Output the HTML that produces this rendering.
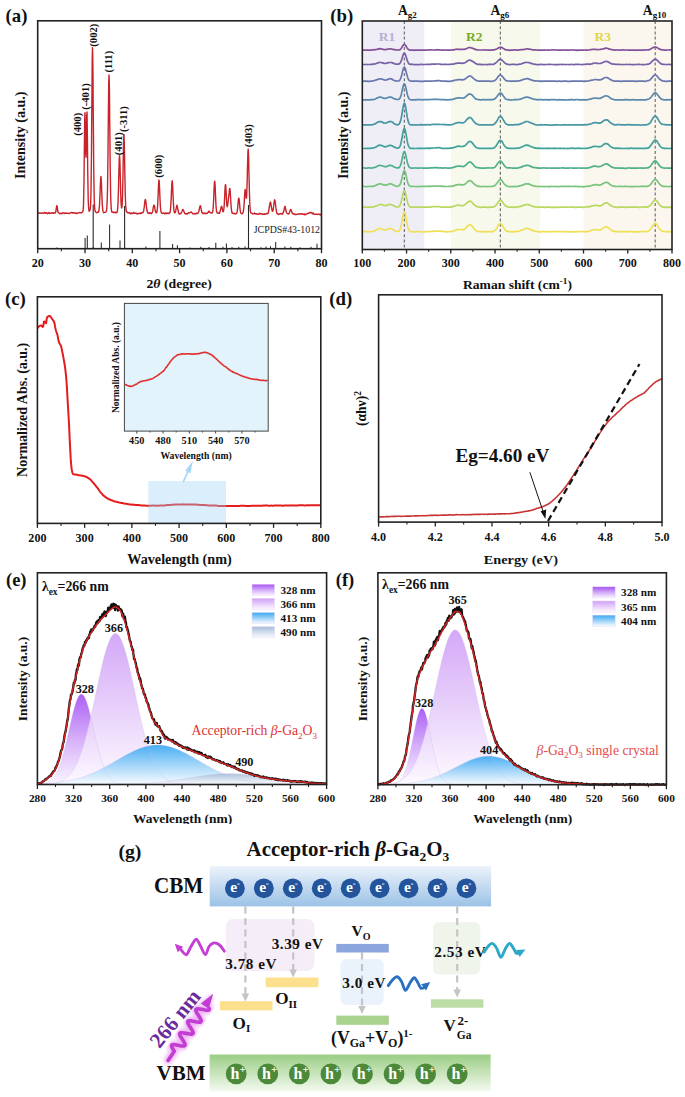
<!DOCTYPE html>
<html><head><meta charset="utf-8"><title>figure</title><style>
html,body{margin:0;padding:0;background:#fff;overflow:hidden;}
svg{display:block;}
text{font-family:"Liberation Serif",serif;}
</style></head><body>
<svg width="685" height="1097" viewBox="0 0 685 1097">
<defs><clipPath id="clipE"><rect x="0" y="790" width="340" height="34"/></clipPath>
<linearGradient id="gp1" x1="0" y1="0" x2="0" y2="1"><stop offset="0" stop-color="#a652f5"/><stop offset="0.5" stop-color="#d2a9f9"/><stop offset="1" stop-color="#faf5ff"/></linearGradient>
<linearGradient id="gp2" x1="0" y1="0" x2="0" y2="1"><stop offset="0" stop-color="#d0a0f7"/><stop offset="0.5" stop-color="#e6cdfa"/><stop offset="1" stop-color="#fdfaff"/></linearGradient>
<linearGradient id="gb3" x1="0" y1="0" x2="0" y2="1"><stop offset="0" stop-color="#3aa8f2"/><stop offset="0.5" stop-color="#9bd2f8"/><stop offset="1" stop-color="#f8fcff"/></linearGradient>
<linearGradient id="gb4" x1="0" y1="0" x2="0" y2="1"><stop offset="0" stop-color="#a8bedb"/><stop offset="0.5" stop-color="#d2deec"/><stop offset="1" stop-color="#fafcfe"/></linearGradient>
<linearGradient id="gcbm" x1="0" y1="0" x2="0" y2="1"><stop offset="0" stop-color="#ecf3fb" stop-opacity="1.0"/><stop offset="1" stop-color="#9cc2e6" stop-opacity="1.0"/></linearGradient>
<linearGradient id="gvbm" x1="0" y1="0" x2="0" y2="1"><stop offset="0" stop-color="#9acd84" stop-opacity="1.0"/><stop offset="1" stop-color="#f4faf0" stop-opacity="1.0"/></linearGradient>
<filter id="glow" x="-30%" y="-30%" width="160%" height="160%"><feGaussianBlur stdDeviation="2.2"/></filter></defs>
<rect x="0" y="0" width="685" height="1097" fill="#fff"/>
<line x1="85.1" y1="248.7" x2="85.1" y2="238" stroke="#2a2a2a" stroke-width="1.05" />
<line x1="87.3" y1="248.7" x2="87.3" y2="235.5" stroke="#2a2a2a" stroke-width="1.05" />
<line x1="93.1" y1="248.7" x2="93.1" y2="247" stroke="#2a2a2a" stroke-width="1.05" />
<line x1="101.3" y1="248.7" x2="101.3" y2="242.6" stroke="#2a2a2a" stroke-width="1.05" />
<line x1="109.6" y1="248.7" x2="109.6" y2="224.5" stroke="#2a2a2a" stroke-width="1.05" />
<line x1="120" y1="248.7" x2="120" y2="240.4" stroke="#2a2a2a" stroke-width="1.05" />
<line x1="124.6" y1="248.7" x2="124.6" y2="247" stroke="#2a2a2a" stroke-width="1.05" />
<line x1="145.9" y1="248.7" x2="145.9" y2="246.4" stroke="#2a2a2a" stroke-width="1.05" />
<line x1="159.9" y1="248.7" x2="159.9" y2="231" stroke="#2a2a2a" stroke-width="1.05" />
<line x1="172.6" y1="248.7" x2="172.6" y2="244" stroke="#2a2a2a" stroke-width="1.05" />
<line x1="177.4" y1="248.7" x2="177.4" y2="245.3" stroke="#2a2a2a" stroke-width="1.05" />
<line x1="200.8" y1="248.7" x2="200.8" y2="246.8" stroke="#2a2a2a" stroke-width="1.05" />
<line x1="215.8" y1="248.7" x2="215.8" y2="242.8" stroke="#2a2a2a" stroke-width="1.05" />
<line x1="223" y1="248.7" x2="223" y2="246.8" stroke="#2a2a2a" stroke-width="1.05" />
<line x1="226.4" y1="248.7" x2="226.4" y2="243.5" stroke="#2a2a2a" stroke-width="1.05" />
<line x1="248.4" y1="248.7" x2="248.4" y2="247" stroke="#2a2a2a" stroke-width="1.05" />
<line x1="275.7" y1="248.7" x2="275.7" y2="242" stroke="#2a2a2a" stroke-width="1.05" />
<line x1="317" y1="248.7" x2="317" y2="243.7" stroke="#2a2a2a" stroke-width="1.05" />
<line x1="56.8" y1="248.7" x2="56.8" y2="247.5" stroke="#2a2a2a" stroke-width="1.05" />
<line x1="190" y1="248.7" x2="190" y2="247.5" stroke="#2a2a2a" stroke-width="1.05" />
<line x1="209" y1="248.7" x2="209" y2="247" stroke="#2a2a2a" stroke-width="1.05" />
<line x1="232" y1="248.7" x2="232" y2="247" stroke="#2a2a2a" stroke-width="1.05" />
<line x1="238.8" y1="248.7" x2="238.8" y2="246.8" stroke="#2a2a2a" stroke-width="1.05" />
<line x1="245" y1="248.7" x2="245" y2="246.5" stroke="#2a2a2a" stroke-width="1.05" />
<line x1="261" y1="248.7" x2="261" y2="247.2" stroke="#2a2a2a" stroke-width="1.05" />
<line x1="266" y1="248.7" x2="266" y2="246.6" stroke="#2a2a2a" stroke-width="1.05" />
<line x1="270.5" y1="248.7" x2="270.5" y2="246.2" stroke="#2a2a2a" stroke-width="1.05" />
<line x1="284.9" y1="248.7" x2="284.9" y2="246.4" stroke="#2a2a2a" stroke-width="1.05" />
<line x1="290.8" y1="248.7" x2="290.8" y2="246.8" stroke="#2a2a2a" stroke-width="1.05" />
<line x1="300" y1="248.7" x2="300" y2="247.3" stroke="#2a2a2a" stroke-width="1.05" />
<line x1="311" y1="248.7" x2="311" y2="246.8" stroke="#2a2a2a" stroke-width="1.05" />
<path d="M37.7 213.2 L38 213.2 L38.2 213.1 L38.5 213 L38.7 213.1 L39 213.1 L39.2 212.9 L39.5 213.1 L39.7 213.2 L40 213.4 L40.2 213.2 L40.5 213.2 L40.7 213.3 L41 213.2 L41.2 212.9 L41.5 213 L41.7 213 L42 213.2 L42.2 212.9 L42.5 213.1 L42.7 213 L43 213.2 L43.2 213.2 L43.5 213.2 L43.7 213 L44 212.6 L44.2 212.3 L44.5 212.7 L44.7 212.8 L45 213 L45.2 213.1 L45.5 212.9 L45.7 213.2 L46 212.7 L46.2 212.9 L46.5 212.7 L46.7 213.2 L47 213.6 L47.2 213.7 L47.5 213.6 L47.7 213.3 L48 213.4 L48.2 213.2 L48.5 212.9 L48.7 212.5 L49 212.6 L49.2 213.2 L49.5 213.5 L49.7 213.3 L50 213.2 L50.2 213.2 L50.5 213.3 L50.7 213 L51 213 L51.2 212.9 L51.5 212.7 L51.7 212.8 L52 212.9 L52.2 213.3 L52.5 213.2 L52.7 213 L53 212.8 L53.2 213.2 L53.5 213.4 L53.7 213.3 L54 212.9 L54.2 212.8 L54.5 212.9 L54.7 212.8 L55 213.1 L55.2 212.9 L55.5 212.7 L55.7 211.9 L56 210.8 L56.2 209 L56.5 207 L56.7 205.7 L57 205.8 L57.2 206.8 L57.5 208.6 L57.7 210.5 L58 212 L58.2 212.5 L58.5 212.6 L58.7 212.7 L59 212.8 L59.2 213.1 L59.5 213.5 L59.7 213.7 L60 213.6 L60.2 213.5 L60.5 213.5 L60.7 213.4 L61 213.2 L61.2 213.2 L61.5 213.5 L61.7 213.8 L62 213.7 L62.2 213.3 L62.5 213 L62.7 213 L63 213.1 L63.2 213 L63.5 213 L63.7 212.8 L64 213.2 L64.2 213.1 L64.5 213.5 L64.7 213.2 L65 213.1 L65.2 212.9 L65.5 213.2 L65.7 213.3 L66 213.2 L66.2 213.1 L66.5 213 L66.7 213.2 L67 213.1 L67.2 213.4 L67.5 213.4 L67.7 213.4 L68 213.2 L68.2 213.3 L68.5 213.4 L68.7 213.4 L69 213.5 L69.2 213.5 L69.5 213.5 L69.7 213.4 L70 213.2 L70.2 213 L70.5 212.8 L70.7 212.9 L71 212.8 L71.2 212.6 L71.5 212.5 L71.7 212.5 L72 212.5 L72.2 212.5 L72.5 212.7 L72.7 213.1 L73 213 L73.2 212.9 L73.5 212.7 L73.7 212.7 L74 212.9 L74.2 213 L74.5 213.1 L74.7 212.9 L75 213 L75.2 212.8 L75.5 213 L75.7 213 L76 213.4 L76.2 213.7 L76.5 213.3 L76.7 213.2 L77 213.1 L77.2 213.4 L77.5 213.1 L77.7 212.9 L78 213 L78.2 212.9 L78.5 212.9 L78.7 212.8 L79 212.9 L79.2 212.9 L79.5 212.6 L79.7 212.6 L80 212.4 L80.2 212.6 L80.5 212.7 L80.7 212.9 L81 212.7 L81.2 212.7 L81.5 212.7 L81.7 212.8 L82 212.5 L82.2 212.3 L82.5 212 L82.7 211.8 L83 211 L83.2 209.4 L83.5 205.2 L83.7 196.3 L84 181.1 L84.2 160.2 L84.5 136.9 L84.7 118.6 L85 112.8 L85.2 122.1 L85.5 139.3 L85.7 153.6 L86 157.2 L86.2 148.3 L86.5 131.1 L86.7 116 L87 112 L87.2 124.1 L87.5 145.5 L87.7 168.9 L88 187.4 L88.2 199.6 L88.5 205.9 L88.7 209.2 L89 210.6 L89.2 211.2 L89.5 211 L89.7 210.8 L90 210 L90.2 208.8 L90.5 206.3 L90.7 201.1 L91 191.3 L91.2 174.6 L91.5 150.4 L91.7 119.9 L92 87.6 L92.2 60.9 L92.5 47.8 L92.7 53.9 L93 76.2 L93.2 107.3 L93.5 138.9 L93.7 165.9 L94 185.6 L94.2 198.1 L94.5 205.1 L94.7 208.7 L95 210.5 L95.2 211.3 L95.5 211.7 L95.7 212 L96 212.3 L96.2 212.5 L96.5 212.7 L96.7 212.7 L97 212.4 L97.2 212.3 L97.5 212.3 L97.7 212.1 L98 212.2 L98.2 212 L98.5 212.2 L98.7 211.3 L99 210.4 L99.2 208.3 L99.5 205.4 L99.7 200.4 L100 194.6 L100.2 187.9 L100.5 181.9 L100.7 177.6 L101 176.5 L101.2 179.3 L101.5 184.6 L101.7 191.1 L102 197.4 L102.2 203 L102.5 207.3 L102.7 210 L103 211.2 L103.2 211.8 L103.5 212.3 L103.7 212.7 L104 212.6 L104.2 212.4 L104.5 212.3 L104.7 212.4 L105 212.3 L105.2 212.4 L105.5 212.3 L105.7 212 L106 211.6 L106.2 211.3 L106.5 210.6 L106.7 208.9 L107 205.3 L107.2 199.8 L107.5 190 L107.7 175 L108 154 L108.2 129.4 L108.5 104.6 L108.7 84.6 L109 75 L109.2 79 L109.5 95.6 L109.7 119.7 L110 145.4 L110.2 168.1 L110.5 185.5 L110.7 197.1 L111 204.2 L111.2 208.1 L111.5 210.6 L111.7 211.6 L112 212.2 L112.2 212.1 L112.5 212.2 L112.7 212.1 L113 212 L113.2 212 L113.5 212.3 L113.7 212.5 L114 212.5 L114.2 212.7 L114.5 212.6 L114.7 212.4 L115 212.1 L115.2 212.2 L115.5 212.6 L115.7 212.8 L116 212.8 L116.2 212.5 L116.5 212.8 L116.7 212.7 L117 212.4 L117.2 211.4 L117.5 210.3 L117.7 208 L118 203.7 L118.2 197.2 L118.5 188.7 L118.7 178.5 L119 168 L119.2 159.6 L119.5 155.6 L119.7 157.5 L120 164.2 L120.2 173.9 L120.5 184.3 L120.7 193.4 L121 200.4 L121.2 204.9 L121.5 207.7 L121.7 207.9 L122 206.8 L122.2 203.1 L122.5 197.1 L122.7 187.3 L123 174.5 L123.2 159.8 L123.5 146.3 L123.7 137 L124 134.8 L124.2 140.6 L124.5 152.5 L124.7 166.6 L125 180.8 L125.2 192.5 L125.5 201.1 L125.7 205.9 L126 208.8 L126.2 210.5 L126.5 211.4 L126.7 211.8 L127 212 L127.2 212.4 L127.5 212.5 L127.7 212.8 L128 212.9 L128.2 212.9 L128.4 212.8 L128.7 212.8 L128.9 212.8 L129.2 213.1 L129.4 213.2 L129.7 212.9 L129.9 213 L130.2 212.9 L130.4 213.3 L130.7 213.5 L130.9 213.7 L131.2 213.5 L131.4 213 L131.7 213.2 L131.9 213.4 L132.2 213.6 L132.4 213.6 L132.7 213.5 L132.9 213.4 L133.2 213.1 L133.4 212.6 L133.7 212.4 L133.9 212.5 L134.2 212.9 L134.4 213.2 L134.7 213.2 L134.9 213.3 L135.2 213.4 L135.4 213.3 L135.7 213.3 L135.9 212.9 L136.2 213.3 L136.4 213.4 L136.7 213.7 L136.9 213.8 L137.2 214 L137.4 213.9 L137.7 213.8 L137.9 213.5 L138.2 213.5 L138.4 213.4 L138.7 213.4 L138.9 213.5 L139.2 213.3 L139.4 213.6 L139.7 213.3 L139.9 213.5 L140.2 213.6 L140.4 213.5 L140.7 213.1 L140.9 212.8 L141.2 213.1 L141.4 213.2 L141.7 213.2 L141.9 213.1 L142.2 212.7 L142.4 212.7 L142.7 212.3 L142.9 212.6 L143.2 212.3 L143.4 211.7 L143.7 210.7 L143.9 209.2 L144.2 207.5 L144.4 205.3 L144.7 203.1 L144.9 200.9 L145.2 199.8 L145.4 199.5 L145.7 200.4 L145.9 202 L146.2 204.1 L146.4 206.4 L146.7 208.4 L146.9 210.3 L147.2 211.3 L147.4 212 L147.7 212.6 L147.9 213.2 L148.2 213.3 L148.4 213.4 L148.7 213 L148.9 213.3 L149.2 213.4 L149.4 213.6 L149.7 213.1 L149.9 213 L150.2 212.7 L150.4 213.2 L150.7 213.2 L150.9 213.3 L151.2 213.4 L151.4 213.7 L151.7 213.3 L151.9 213 L152.2 212.4 L152.4 212.2 L152.7 211.2 L152.9 209.7 L153.2 208 L153.4 206.6 L153.7 205.6 L153.9 205.1 L154.2 205.1 L154.4 206 L154.7 207.3 L154.9 209.1 L155.2 210.4 L155.4 211.4 L155.7 212.1 L155.9 212.3 L156.2 212.7 L156.4 212.8 L156.7 212.5 L156.9 211.8 L157.2 210.1 L157.4 208.1 L157.7 204.6 L157.9 199.8 L158.2 193.8 L158.4 187.6 L158.7 182.6 L158.9 180 L159.2 181.1 L159.4 185.2 L159.7 191 L159.9 197.1 L160.2 202.7 L160.4 207 L160.7 209.8 L160.9 211.2 L161.2 212 L161.4 212.8 L161.7 213.2 L161.9 213 L162.2 212.9 L162.4 213.2 L162.7 213.2 L162.9 213.2 L163.2 213 L163.4 213.2 L163.7 213.3 L163.9 213.2 L164.2 213.4 L164.4 213.6 L164.7 213.8 L164.9 213.7 L165.2 213.2 L165.4 213 L165.7 212.9 L165.9 213.4 L166.2 213.6 L166.4 213.7 L166.7 213.2 L166.9 213 L167.2 213.1 L167.4 213.1 L167.7 213.4 L167.9 213.3 L168.2 213.3 L168.4 213.1 L168.7 213.3 L168.9 213.6 L169.2 213.4 L169.4 213.1 L169.7 212.8 L169.9 212.5 L170.2 211.7 L170.4 210.1 L170.7 207.3 L170.9 203.5 L171.2 198.4 L171.4 192.9 L171.7 187.1 L171.9 182.7 L172.2 180.8 L172.4 182.4 L172.7 187 L172.9 193 L173.2 198.8 L173.4 203.6 L173.7 207.3 L173.9 210 L174.2 211.7 L174.4 212.5 L174.7 212.8 L174.9 212.9 L175.2 212.4 L175.4 212 L175.7 210.9 L175.9 209.7 L176.2 208.4 L176.4 207.3 L176.7 206.1 L176.9 205.3 L177.2 205.5 L177.4 206.9 L177.7 208.4 L177.9 209.8 L178.2 210.7 L178.4 212.2 L178.7 213 L178.9 213.8 L179.2 213.8 L179.4 214 L179.7 214 L179.9 213.8 L180.2 213.8 L180.4 213.7 L180.7 213.8 L180.9 213.4 L181.2 213 L181.4 212.6 L181.7 212.3 L181.9 211.8 L182.2 210.9 L182.4 210 L182.7 209.4 L182.9 209.5 L183.2 209.8 L183.4 210.5 L183.7 210.8 L183.9 211.3 L184.2 212 L184.4 212.8 L184.7 213.4 L184.9 213.5 L185.2 213.7 L185.4 213.7 L185.7 213.9 L185.9 213.7 L186.2 213.6 L186.4 213.6 L186.7 213.8 L186.9 214.2 L187.2 214.1 L187.4 214 L187.7 213.5 L187.9 213.2 L188.2 212.8 L188.4 212.9 L188.7 212.8 L188.9 213.1 L189.2 213 L189.4 212.9 L189.7 212.8 L189.9 212.4 L190.2 212.5 L190.4 212.1 L190.7 212.2 L190.9 211.9 L191.2 212.2 L191.4 212.2 L191.7 212.5 L191.9 212.8 L192.2 213.1 L192.4 213.3 L192.7 213.5 L192.9 213.8 L193.2 213.7 L193.4 213.7 L193.7 213.8 L193.9 213.9 L194.2 213.9 L194.4 213.6 L194.7 213.9 L194.9 213.7 L195.2 213.9 L195.4 213.8 L195.7 213.8 L195.9 213.8 L196.2 213.5 L196.4 213.4 L196.7 213 L196.9 213.1 L197.2 213.3 L197.4 213.6 L197.7 213.6 L197.9 213.2 L198.2 212.8 L198.4 212.2 L198.7 211.8 L198.9 211.1 L199.2 210 L199.4 208.7 L199.7 207.3 L199.9 206.2 L200.2 205.8 L200.4 205.8 L200.7 206.5 L200.9 207.7 L201.2 209.2 L201.4 210.6 L201.7 211.4 L201.9 212.5 L202.2 212.6 L202.4 212.9 L202.7 212.7 L202.9 213.4 L203.2 213.6 L203.4 213.7 L203.7 213.3 L203.9 213.3 L204.2 213.4 L204.4 213.5 L204.7 213.2 L204.9 213 L205.2 213.2 L205.4 213.5 L205.7 213.7 L205.9 213.7 L206.2 213.4 L206.4 213.4 L206.7 213.2 L206.9 213.4 L207.2 213.3 L207.4 213.2 L207.7 212.8 L207.9 212.5 L208.2 212.4 L208.4 212.1 L208.7 211.3 L208.9 211.1 L209.2 211.2 L209.4 212 L209.7 212.1 L209.9 212.2 L210.2 212.2 L210.4 212.7 L210.7 212.8 L210.9 213 L211.2 212.8 L211.4 213.1 L211.7 212.9 L211.9 213 L212.2 212.7 L212.4 212.5 L212.7 211.8 L212.9 210.5 L213.2 207.7 L213.4 204 L213.7 198.7 L213.9 193 L214.2 187.1 L214.4 182.6 L214.7 181.2 L214.9 182.5 L215.2 186.8 L215.4 192.7 L215.7 199.1 L215.9 204.5 L216.2 208.3 L216.4 210.4 L216.7 211.6 L216.9 212.3 L217.2 212.9 L217.4 213 L217.7 213.1 L217.9 212.6 L218.2 212.9 L218.4 213.2 L218.7 213.3 L218.9 213.2 L219.2 213.2 L219.4 213.3 L219.7 212.9 L219.9 212 L220.2 210.9 L220.4 210.1 L220.7 208.9 L220.9 208 L221.2 206.9 L221.4 206.4 L221.7 206.3 L221.9 207.2 L222.2 208.6 L222.4 210 L222.7 210.8 L222.9 211.7 L223.2 211.8 L223.4 211.4 L223.7 210.1 L223.9 208.3 L224.2 205.8 L224.4 201.5 L224.7 196 L224.9 190.7 L225.2 186.5 L225.4 184.6 L225.7 185 L225.9 188.3 L226.2 193.4 L226.4 198.6 L226.7 202.9 L226.9 205.3 L227.2 206.7 L227.4 206.4 L227.7 205.2 L227.9 203 L228.2 200.9 L228.4 198.5 L228.7 196.5 L228.9 194.5 L229.2 192.4 L229.4 190 L229.7 188.4 L229.9 188.8 L230.2 191.3 L230.4 195.2 L230.7 199.6 L230.9 203.6 L231.2 207.1 L231.4 209.7 L231.7 211.5 L231.9 212.4 L232.2 213 L232.4 213.3 L232.7 213.3 L232.9 213.4 L233.2 213.4 L233.4 213.5 L233.7 213.2 L233.9 213.3 L234.2 213.3 L234.4 213.5 L234.7 213.6 L234.9 213.8 L235.2 214 L235.4 214 L235.7 213.9 L235.9 213.7 L236.2 213.5 L236.4 213.4 L236.7 213.2 L236.9 212.6 L237.2 211.6 L237.4 209.9 L237.7 207.7 L237.9 204.6 L238.2 201.7 L238.4 199.3 L238.7 198.1 L238.9 198.1 L239.2 199.6 L239.4 202.2 L239.7 205.2 L239.9 208 L240.2 210.1 L240.4 211.5 L240.7 212.5 L240.9 213.1 L241.2 213.3 L241.4 213.5 L241.7 213.7 L241.9 213.9 L242.2 213.8 L242.4 213.6 L242.7 213.1 L242.9 212.9 L243.2 212 L243.4 211 L243.7 209 L243.9 206.7 L244.2 203.1 L244.4 198.7 L244.7 194.1 L244.9 190.8 L245.2 189.5 L245.4 190.6 L245.7 193.2 L245.9 196 L246.2 198.1 L246.4 198.3 L246.7 195.4 L246.9 189.3 L247.2 180.5 L247.4 170.2 L247.7 159.9 L247.9 152.1 L248.2 149.1 L248.4 152.1 L248.7 160.2 L248.9 171.2 L249.2 182.2 L249.4 192.1 L249.7 200 L249.9 205.8 L250.2 209.3 L250.4 211.3 L250.7 212.5 L250.9 213.1 L251.2 213.1 L251.4 213 L251.7 213.1 L251.9 213.1 L252.2 213.6 L252.4 213.8 L252.7 214 L252.9 213.8 L253.2 213.6 L253.4 213.6 L253.7 213.8 L253.9 213.6 L254.2 213.4 L254.4 213 L254.7 213.4 L254.9 213.6 L255.2 213.9 L255.4 213.7 L255.7 213.7 L255.9 213.7 L256.2 213.8 L256.4 213.8 L256.7 214.1 L256.9 214.2 L257.2 214.2 L257.4 213.9 L257.7 214 L257.9 214.1 L258.2 214.2 L258.4 214.1 L258.7 214.3 L258.9 214 L259.2 213.7 L259.4 213.2 L259.7 213.5 L259.9 213.5 L260.2 213.7 L260.4 213.5 L260.7 213.7 L260.9 213.8 L261.2 213.9 L261.4 214 L261.7 213.9 L261.9 213.8 L262.2 214.1 L262.4 214.2 L262.7 214.3 L262.9 213.9 L263.2 213.9 L263.4 214.1 L263.7 214.3 L263.9 214.4 L264.2 214.3 L264.4 213.9 L264.7 213.8 L264.9 214 L265.2 214.4 L265.4 214.3 L265.7 214.1 L265.9 213.9 L266.2 213.8 L266.4 213.5 L266.7 213.5 L266.9 213.4 L267.2 213.6 L267.4 213.6 L267.7 213.7 L267.9 213.7 L268.2 213.1 L268.4 212 L268.7 210.8 L268.9 209.4 L269.2 208 L269.4 206.4 L269.7 204.9 L269.9 203.4 L270.2 202.4 L270.4 202.1 L270.7 202.5 L270.9 203.9 L271.2 205.7 L271.4 207.4 L271.7 208.5 L271.9 209.6 L272.2 210.6 L272.4 211.2 L272.7 211.3 L272.9 210.7 L273.2 209.5 L273.4 207.9 L273.7 205.9 L273.9 203.8 L274.2 201.9 L274.4 200.3 L274.7 199.8 L274.9 200.5 L275.2 202 L275.4 203.8 L275.7 205.7 L275.9 207.9 L276.2 209.7 L276.4 211.2 L276.7 212.4 L276.9 213.4 L277.2 213.5 L277.4 213.8 L277.7 213.9 L277.9 214.2 L278.2 214.4 L278.4 214.5 L278.7 214.4 L278.9 214.3 L279.2 213.9 L279.4 214 L279.7 213.9 L279.9 214 L280.2 213.8 L280.4 213.6 L280.7 213.5 L280.9 213.7 L281.2 213.7 L281.4 213.8 L281.7 213.7 L281.9 213.8 L282.2 214.1 L282.4 214.2 L282.7 213.8 L282.9 213.3 L283.2 212.6 L283.4 212 L283.7 211.4 L283.9 210.5 L284.2 209.3 L284.4 208 L284.7 206.8 L284.9 206.4 L285.2 206.5 L285.4 207.9 L285.7 209.3 L285.9 210.5 L286.2 211.5 L286.4 212.2 L286.7 212.9 L286.9 213.2 L287.2 213.3 L287.4 213.6 L287.7 213.6 L287.9 213.9 L288.2 213.8 L288.4 214 L288.7 213.9 L288.9 213.6 L289.2 213 L289.4 212.4 L289.7 211.7 L289.9 211 L290.2 210.2 L290.4 209.8 L290.7 209.5 L290.9 209.5 L291.2 210 L291.4 211 L291.7 211.5 L291.9 212.4 L292.2 212.9 L292.4 213.5 L292.7 213.4 L292.9 213.5 L293.2 213.7 L293.4 214 L293.7 214.1 L293.9 214.1 L294.2 214.1 L294.4 214 L294.7 214.2 L294.9 214.4 L295.2 214.6 L295.4 214.5 L295.7 214.3 L295.9 214.4 L296.2 214.5 L296.4 214.6 L296.7 214.2 L296.9 214.2 L297.2 214.1 L297.4 214.2 L297.7 213.9 L297.9 214 L298.2 214.1 L298.4 214.1 L298.7 214 L298.9 214 L299.2 214 L299.4 213.9 L299.7 213.8 L299.9 213.7 L300.2 213.9 L300.4 213.9 L300.7 214.2 L300.9 214.2 L301.2 214.1 L301.4 214 L301.7 213.8 L301.9 213.8 L302.2 213.7 L302.4 213.8 L302.7 214.1 L302.9 214.3 L303.2 214.2 L303.4 214.1 L303.7 214.1 L303.9 214.4 L304.2 214.2 L304.4 214.3 L304.7 214.1 L304.9 214.8 L305.2 214.5 L305.4 214.4 L305.7 214.2 L305.9 214.4 L306.2 214.5 L306.4 214.1 L306.7 214 L306.9 213.7 L307.2 213.9 L307.4 213.5 L307.7 213.4 L307.9 213.3 L308.2 213.2 L308.4 213.3 L308.7 213.3 L308.9 213.2 L309.2 212.9 L309.4 212.7 L309.7 212.6 L309.9 212.8 L310.2 212.6 L310.4 212.4 L310.7 212.3 L310.9 212.4 L311.2 212.7 L311.4 212.6 L311.7 212.6 L311.9 212.8 L312.2 213.4 L312.4 213.9 L312.7 213.6 L312.9 213.5 L313.2 213 L313.4 213.5 L313.7 213.7 L313.9 214.2 L314.2 214.1 L314.4 214.3 L314.7 214.2 L314.9 214.4 L315.2 214.3 L315.4 214.4 L315.7 214.3 L315.9 214.2 L316.2 214 L316.4 214.1 L316.7 214.2 L316.9 214.3 L317.2 214.4 L317.4 214.5 L317.7 214.3 L317.9 214.2 L318.2 214.1 L318.4 214.2 L318.7 214.3 L318.9 214.2 L319.2 214.3 L319.4 214.3 L319.7 214.5 L319.9 214.6 L320.2 214.9 L320.4 214.7 L320.7 214.7 L320.9 214.1 L321.2 214.2 L321.4 214.1" fill="none" stroke="#c9222a" stroke-width="1.4" stroke-linejoin="round"/>
<line x1="93.2" y1="248.7" x2="93.2" y2="204.5" stroke="#2a2a2a" stroke-width="1.1" />
<line x1="124.6" y1="248.7" x2="124.6" y2="206" stroke="#2a2a2a" stroke-width="1.1" />
<line x1="248.5" y1="248.7" x2="248.5" y2="205" stroke="#2a2a2a" stroke-width="1.1" />
<rect x="37.7" y="20.8" width="283.8" height="227.9" fill="none" stroke="#222" stroke-width="1.6"/>
<line x1="37.7" y1="248.7" x2="37.7" y2="253.2" stroke="#222" stroke-width="1.3" />
<text x="0" y="0" transform="translate(37.7 266.7) scale(1.05 1)" font-size="11.5" text-anchor="middle" fill="#111" style="font-weight:bold;" >20</text>
<line x1="85" y1="248.7" x2="85" y2="253.2" stroke="#222" stroke-width="1.3" />
<text x="0" y="0" transform="translate(85 266.7) scale(1.05 1)" font-size="11.5" text-anchor="middle" fill="#111" style="font-weight:bold;" >30</text>
<line x1="132.3" y1="248.7" x2="132.3" y2="253.2" stroke="#222" stroke-width="1.3" />
<text x="0" y="0" transform="translate(132.3 266.7) scale(1.05 1)" font-size="11.5" text-anchor="middle" fill="#111" style="font-weight:bold;" >40</text>
<line x1="179.6" y1="248.7" x2="179.6" y2="253.2" stroke="#222" stroke-width="1.3" />
<text x="0" y="0" transform="translate(179.6 266.7) scale(1.05 1)" font-size="11.5" text-anchor="middle" fill="#111" style="font-weight:bold;" >50</text>
<line x1="226.9" y1="248.7" x2="226.9" y2="253.2" stroke="#222" stroke-width="1.3" />
<text x="0" y="0" transform="translate(226.9 266.7) scale(1.05 1)" font-size="11.5" text-anchor="middle" fill="#111" style="font-weight:bold;" >60</text>
<line x1="274.2" y1="248.7" x2="274.2" y2="253.2" stroke="#222" stroke-width="1.3" />
<text x="0" y="0" transform="translate(274.2 266.7) scale(1.05 1)" font-size="11.5" text-anchor="middle" fill="#111" style="font-weight:bold;" >70</text>
<line x1="321.5" y1="248.7" x2="321.5" y2="253.2" stroke="#222" stroke-width="1.3" />
<text x="0" y="0" transform="translate(321.5 266.7) scale(1.05 1)" font-size="11.5" text-anchor="middle" fill="#111" style="font-weight:bold;" >80</text>
<line x1="61.35" y1="248.7" x2="61.35" y2="251.2" stroke="#222" stroke-width="1.1" />
<line x1="108.65" y1="248.7" x2="108.65" y2="251.2" stroke="#222" stroke-width="1.1" />
<line x1="155.95" y1="248.7" x2="155.95" y2="251.2" stroke="#222" stroke-width="1.1" />
<line x1="203.25" y1="248.7" x2="203.25" y2="251.2" stroke="#222" stroke-width="1.1" />
<line x1="250.55" y1="248.7" x2="250.55" y2="251.2" stroke="#222" stroke-width="1.1" />
<line x1="297.85" y1="248.7" x2="297.85" y2="251.2" stroke="#222" stroke-width="1.1" />
<text x="5.5" y="22" font-size="18.8" text-anchor="start" fill="#111" style="font-weight:bold;" >(a)</text>
<text x="0" y="0" font-size="14" text-anchor="middle" dominant-baseline="central" fill="#111" style="font-weight:bold;" transform="translate(20.5 135.3) rotate(-90)" >Intensity (a.u.)</text>
<text x="0" y="0" transform="translate(179.1 287.7) scale(1.1 1)" font-size="12.5" text-anchor="middle" fill="#111" style="font-weight:bold;" >2<tspan style="font-style:italic">θ</tspan> (degree)</text>
<text x="0" y="0" font-size="10.6" text-anchor="middle" dominant-baseline="central" fill="#111" style="font-weight:bold;" transform="translate(77.7 124.3) rotate(-90)" >(400)</text>
<text x="0" y="0" font-size="10.6" text-anchor="middle" dominant-baseline="central" fill="#111" style="font-weight:bold;" transform="translate(85.3 96.5) rotate(-90)" >(-401)</text>
<text x="0" y="0" font-size="10.6" text-anchor="middle" dominant-baseline="central" fill="#111" style="font-weight:bold;" transform="translate(93.7 35.2) rotate(-90)" >(002)</text>
<text x="0" y="0" font-size="10.6" text-anchor="middle" dominant-baseline="central" fill="#111" style="font-weight:bold;" transform="translate(108.9 61.7) rotate(-90)" >(111)</text>
<text x="0" y="0" font-size="10.6" text-anchor="middle" dominant-baseline="central" fill="#111" style="font-weight:bold;" transform="translate(118.4 143.7) rotate(-90)" >(401)</text>
<text x="0" y="0" font-size="10.6" text-anchor="middle" dominant-baseline="central" fill="#111" style="font-weight:bold;" transform="translate(123.2 119.1) rotate(-90)" >(-311)</text>
<text x="0" y="0" font-size="10.6" text-anchor="middle" dominant-baseline="central" fill="#111" style="font-weight:bold;" transform="translate(158.9 166.2) rotate(-90)" >(600)</text>
<text x="0" y="0" font-size="10.6" text-anchor="middle" dominant-baseline="central" fill="#111" style="font-weight:bold;" transform="translate(248.6 135.7) rotate(-90)" >(403)</text>
<text x="0" y="0" transform="translate(286.9 232.6) scale(0.94 1)" font-size="10.5" text-anchor="middle" fill="#222" style="" >JCPDS#43-1012</text>
<rect x="362.3" y="21" width="61.94" height="228.5" fill="#efeef6" />
<rect x="450.79" y="21" width="89.37" height="228.5" fill="#f7f9ec" />
<rect x="583.51" y="21" width="88.49" height="228.5" fill="#fcf7ee" />
<line x1="404.33" y1="21" x2="404.33" y2="249.5" stroke="#666" stroke-width="1.1" stroke-dasharray="3 2.2"/>
<line x1="500.34" y1="21" x2="500.34" y2="249.5" stroke="#666" stroke-width="1.1" stroke-dasharray="3 2.2"/>
<line x1="655.19" y1="21" x2="655.19" y2="249.5" stroke="#666" stroke-width="1.1" stroke-dasharray="3 2.2"/>
<path d="M362.3 50.2 L362.8 50.2 L363.3 50.2 L363.8 50.2 L364.3 50.1 L364.8 50.1 L365.3 50.2 L365.8 50.2 L366.3 50.2 L366.8 50.1 L367.3 50.2 L367.8 50.1 L368.3 50.1 L368.8 50.1 L369.3 50.1 L369.8 50.1 L370.3 50.1 L370.8 50.1 L371.3 50 L371.8 49.9 L372.3 49.9 L372.8 49.7 L373.3 49.8 L373.8 49.8 L374.3 49.8 L374.8 49.7 L375.3 49.7 L375.8 49.6 L376.3 49.5 L376.8 49.4 L377.3 49.3 L377.8 49.1 L378.3 49.1 L378.8 48.9 L379.3 48.8 L379.8 48.7 L380.3 48.8 L380.8 48.7 L381.3 49 L381.8 49 L382.3 49.2 L382.8 49.3 L383.3 49.4 L383.8 49.5 L384.3 49.7 L384.8 49.7 L385.3 49.6 L385.8 49.6 L386.3 49.5 L386.8 49.3 L387.3 49.2 L387.8 49.2 L388.3 49 L388.8 49 L389.3 48.9 L389.8 48.9 L390.3 48.9 L390.8 48.9 L391.3 49 L391.8 49.1 L392.3 49.2 L392.8 49.4 L393.3 49.4 L393.8 49.6 L394.3 49.7 L394.8 49.7 L395.3 49.8 L395.8 49.9 L396.3 49.9 L396.8 50 L397.3 50 L397.8 50.1 L398.3 50 L398.8 49.9 L399.3 49.8 L399.8 49.7 L400.3 49.4 L400.8 48.9 L401.3 48.3 L401.8 47.5 L402.3 46.6 L402.8 45.7 L403.3 45.1 L403.8 44.7 L404.3 44.5 L404.8 44.6 L405.3 45.1 L405.8 45.7 L406.3 46.5 L406.8 47.4 L407.3 48.2 L407.8 48.8 L408.3 49.4 L408.8 49.7 L409.3 49.9 L409.8 50 L410.3 50.1 L410.8 50.1 L411.3 50.2 L411.8 50.1 L412.3 50.2 L412.8 50.2 L413.3 50.2 L413.8 50.2 L414.3 50.3 L414.8 50.2 L415.3 50.1 L415.8 50.1 L416.3 50.1 L416.8 50.1 L417.3 50.1 L417.8 50.2 L418.3 50.2 L418.8 50.2 L419.3 50.2 L419.8 50.2 L420.3 50.2 L420.8 50.1 L421.3 50.1 L421.8 50.1 L422.3 50.1 L422.8 50 L423.3 50.1 L423.8 50.1 L424.3 50.2 L424.8 50.2 L425.3 50.2 L425.8 50.2 L426.3 50.1 L426.8 50 L427.3 50 L427.8 50.1 L428.3 50 L428.8 49.9 L429.3 50 L429.8 49.9 L430.3 49.9 L430.8 49.9 L431.3 50 L431.8 49.9 L432.3 50 L432.8 50 L433.3 50 L433.8 50 L434.3 50.1 L434.8 50 L435.3 50 L435.8 49.9 L436.3 49.8 L436.8 49.7 L437.3 49.8 L437.8 49.8 L438.3 49.8 L438.8 49.8 L439.3 49.8 L439.8 49.8 L440.3 49.9 L440.8 50 L441.3 50.1 L441.8 50.1 L442.3 50 L442.8 50.1 L443.3 50 L443.8 49.9 L444.3 50 L444.8 50.1 L445.3 50 L445.8 50 L446.3 50.1 L446.8 50.1 L447.3 50.1 L447.8 50.1 L448.3 50.1 L448.8 50.1 L449.3 50.1 L449.8 50.1 L450.3 50.1 L450.8 50.1 L451.3 50 L451.8 50 L452.3 49.9 L452.8 49.9 L453.3 49.8 L453.8 49.8 L454.3 49.7 L454.8 49.6 L455.3 49.5 L455.8 49.4 L456.3 49.4 L456.8 49.3 L457.3 49.2 L457.8 49.2 L458.3 49.3 L458.8 49.3 L459.3 49.4 L459.8 49.4 L460.3 49.4 L460.8 49.5 L461.3 49.4 L461.8 49.4 L462.3 49.4 L462.8 49.4 L463.3 49.3 L463.8 49.3 L464.3 49.3 L464.8 49.2 L465.3 49.1 L465.8 49 L466.3 48.7 L466.8 48.5 L467.3 48.2 L467.8 48 L468.3 47.8 L468.8 47.6 L469.3 47.5 L469.8 47.5 L470.3 47.6 L470.8 47.7 L471.3 47.9 L471.8 48 L472.3 48.2 L472.8 48.3 L473.3 48.5 L473.8 48.8 L474.3 49.1 L474.8 49.2 L475.3 49.4 L475.8 49.6 L476.3 49.6 L476.8 49.8 L477.3 49.9 L477.8 50 L478.3 50 L478.8 50 L479.3 50 L479.8 50 L480.3 50 L480.8 50 L481.3 50 L481.8 50 L482.3 50 L482.8 50 L483.3 50 L483.8 49.9 L484.3 49.9 L484.8 50 L485.3 50 L485.8 49.9 L486.3 50 L486.8 50 L487.3 50.1 L487.8 50.1 L488.3 50.1 L488.8 50.1 L489.3 50.1 L489.8 50.1 L490.3 50.1 L490.8 50.2 L491.3 50.1 L491.8 50.1 L492.3 49.9 L492.8 49.9 L493.3 49.9 L493.8 49.9 L494.3 49.8 L494.8 49.7 L495.3 49.5 L495.8 49.3 L496.3 49.1 L496.8 49 L497.3 48.7 L497.8 48.3 L498.3 48.1 L498.8 47.7 L499.3 47.5 L499.8 47.3 L500.3 47.3 L500.8 47.2 L501.3 47.3 L501.8 47.5 L502.3 47.8 L502.8 48.1 L503.3 48.5 L503.8 48.8 L504.3 49.1 L504.8 49.4 L505.3 49.6 L505.8 49.8 L506.3 49.8 L506.8 49.9 L507.3 49.9 L507.8 50 L508.3 50.1 L508.8 50.3 L509.3 50.3 L509.8 50.2 L510.3 50.2 L510.8 50.2 L511.3 50.1 L511.8 50.2 L512.3 50.2 L512.8 50.1 L513.3 50 L513.8 49.8 L514.3 49.8 L514.8 49.9 L515.3 49.9 L515.8 50 L516.3 50.1 L516.8 50.1 L517.3 50 L517.8 50.1 L518.3 50.1 L518.8 50 L519.3 49.9 L519.8 49.9 L520.3 49.8 L520.8 49.7 L521.3 49.7 L521.8 49.6 L522.3 49.6 L522.8 49.6 L523.3 49.6 L523.8 49.5 L524.3 49.4 L524.8 49.3 L525.3 49.3 L525.8 49.1 L526.3 49 L526.8 48.9 L527.3 49 L527.8 48.9 L528.3 49 L528.8 49.1 L529.3 49.1 L529.8 49.2 L530.3 49.3 L530.8 49.4 L531.3 49.5 L531.8 49.6 L532.3 49.8 L532.8 49.8 L533.3 49.8 L533.8 49.8 L534.3 49.9 L534.8 49.8 L535.3 49.8 L535.8 49.9 L536.3 50 L536.8 50 L537.3 50.1 L537.8 50.1 L538.3 50.1 L538.8 50.1 L539.3 50.1 L539.8 50.2 L540.3 50.1 L540.8 50.1 L541.3 50.1 L541.8 50.1 L542.3 50.2 L542.8 50.2 L543.3 50.2 L543.8 50.2 L544.3 50.1 L544.8 50 L545.3 50.1 L545.8 50 L546.3 50 L546.8 50 L547.3 50.1 L547.8 50 L548.3 50.1 L548.8 50.1 L549.3 50.1 L549.8 50 L550.3 50 L550.8 50 L551.3 50 L551.8 49.9 L552.3 49.9 L552.8 50 L553.3 50 L553.8 49.9 L554.3 49.9 L554.8 50 L555.3 50 L555.8 50 L556.3 50 L556.8 50.2 L557.3 50.2 L557.8 50.1 L558.3 50.1 L558.8 50.1 L559.3 50 L559.8 50.1 L560.3 50 L560.8 50.1 L561.3 50.1 L561.8 50.1 L562.3 50.1 L562.8 50.1 L563.3 50 L563.8 50 L564.3 49.9 L564.8 50 L565.3 50.1 L565.8 50.1 L566.3 50.1 L566.8 50.1 L567.3 50.1 L567.8 50.1 L568.3 50.1 L568.8 50.1 L569.3 50.1 L569.8 50.1 L570.3 50.1 L570.8 50 L571.3 50 L571.8 50 L572.3 49.9 L572.8 49.9 L573.3 50 L573.8 50 L574.3 50 L574.8 50.2 L575.3 50.1 L575.8 50.1 L576.3 50.2 L576.8 50.3 L577.3 50.2 L577.8 50.3 L578.3 50.2 L578.8 50.2 L579.3 50.1 L579.8 50.1 L580.3 50.1 L580.8 50.2 L581.3 50.1 L581.8 50.2 L582.3 50.1 L582.8 50.1 L583.3 50.1 L583.8 50 L584.3 50 L584.8 50 L585.3 50.1 L585.8 50.2 L586.3 50.2 L586.8 50.2 L587.3 50.2 L587.8 50.1 L588.3 50 L588.8 50 L589.3 50 L589.8 49.9 L590.3 49.7 L590.8 49.7 L591.3 49.6 L591.8 49.5 L592.3 49.4 L592.8 49.4 L593.3 49.4 L593.8 49.4 L594.3 49.4 L594.8 49.4 L595.3 49.4 L595.8 49.4 L596.3 49.5 L596.8 49.6 L597.3 49.6 L597.8 49.7 L598.3 49.7 L598.8 49.6 L599.3 49.5 L599.8 49.5 L600.3 49.4 L600.8 49.3 L601.3 49.2 L601.8 49.1 L602.3 49 L602.8 49 L603.3 48.9 L603.8 48.8 L604.3 48.6 L604.8 48.4 L605.3 48.2 L605.8 48.2 L606.3 48.2 L606.8 48.3 L607.3 48.4 L607.8 48.5 L608.3 48.8 L608.8 48.9 L609.3 49.1 L609.8 49.2 L610.3 49.3 L610.8 49.4 L611.3 49.5 L611.8 49.6 L612.3 49.7 L612.8 49.9 L613.3 49.9 L613.8 50 L614.3 50.1 L614.8 50.1 L615.3 50.1 L615.8 50.1 L616.3 50 L616.8 49.9 L617.3 50 L617.8 50 L618.3 50 L618.8 50.1 L619.3 50.1 L619.8 50.1 L620.3 50.1 L620.8 50.1 L621.3 50 L621.8 49.9 L622.3 49.9 L622.8 49.9 L623.3 49.9 L623.8 50 L624.3 50.1 L624.8 50 L625.3 50 L625.8 49.9 L626.3 50 L626.8 50 L627.3 50 L627.8 50.1 L628.3 50.2 L628.8 50.1 L629.3 50.1 L629.8 50.1 L630.3 50.1 L630.8 50.1 L631.3 50.1 L631.8 50.1 L632.3 50.1 L632.8 50.2 L633.3 50.2 L633.8 50.2 L634.3 50.1 L634.8 50.1 L635.3 50.2 L635.8 50.2 L636.3 50.3 L636.8 50.2 L637.3 50.2 L637.8 50.1 L638.3 50.1 L638.8 50.1 L639.3 50.1 L639.8 50.1 L640.3 50.2 L640.8 50.2 L641.3 50.2 L641.8 50.1 L642.3 50.2 L642.8 50.1 L643.3 50.1 L643.8 50.1 L644.3 50.1 L644.8 50 L645.3 49.9 L645.8 49.9 L646.3 49.9 L646.8 49.9 L647.3 50 L647.8 50 L648.3 49.9 L648.8 49.8 L649.3 49.6 L649.8 49.4 L650.3 49.3 L650.8 49 L651.3 48.7 L651.8 48.3 L652.3 48.1 L652.8 47.8 L653.3 47.5 L653.8 47.3 L654.3 47.2 L654.8 47 L655.3 47 L655.8 47.1 L656.3 47.3 L656.8 47.5 L657.3 47.8 L657.8 48.1 L658.3 48.4 L658.8 48.7 L659.3 48.9 L659.8 49.2 L660.3 49.4 L660.8 49.6 L661.3 49.6 L661.8 49.8 L662.3 49.9 L662.8 49.9 L663.3 49.9 L663.8 50 L664.3 50.1 L664.8 50.1 L665.3 50.1 L665.8 50.1 L666.3 50.1 L666.8 50.1 L667.3 50 L667.8 50 L668.3 50 L668.8 50 L669.3 50 L669.8 49.9 L670.3 50 L670.8 49.9 L671.3 50 L671.8 50" fill="none" stroke="#84509a" stroke-width="1.7" stroke-linejoin="round"/>
<path d="M362.3 64.4 L362.8 64.4 L363.3 64.5 L363.8 64.5 L364.3 64.5 L364.8 64.5 L365.3 64.5 L365.8 64.5 L366.3 64.4 L366.8 64.5 L367.3 64.5 L367.8 64.5 L368.3 64.5 L368.8 64.5 L369.3 64.5 L369.8 64.5 L370.3 64.5 L370.8 64.4 L371.3 64.4 L371.8 64.4 L372.3 64.2 L372.8 64.2 L373.3 64.2 L373.8 64.2 L374.3 64 L374.8 64 L375.3 63.8 L375.8 63.7 L376.3 63.5 L376.8 63.3 L377.3 63.1 L377.8 62.9 L378.3 62.7 L378.8 62.5 L379.3 62.5 L379.8 62.4 L380.3 62.5 L380.8 62.5 L381.3 62.6 L381.8 62.7 L382.3 62.8 L382.8 62.9 L383.3 63.1 L383.8 63.3 L384.3 63.4 L384.8 63.5 L385.3 63.5 L385.8 63.4 L386.3 63.2 L386.8 63.2 L387.3 63 L387.8 62.8 L388.3 62.7 L388.8 62.6 L389.3 62.6 L389.8 62.5 L390.3 62.5 L390.8 62.5 L391.3 62.5 L391.8 62.7 L392.3 62.8 L392.8 63.1 L393.3 63.2 L393.8 63.4 L394.3 63.6 L394.8 63.9 L395.3 64 L395.8 64.2 L396.3 64.2 L396.8 64.2 L397.3 64.2 L397.8 64.2 L398.3 64.1 L398.8 64.1 L399.3 63.8 L399.8 63.5 L400.3 62.8 L400.8 61.9 L401.3 60.7 L401.8 59.2 L402.3 57.5 L402.8 55.9 L403.3 54.5 L403.8 53.4 L404.3 53.1 L404.8 53.4 L405.3 54.3 L405.8 55.7 L406.3 57.4 L406.8 59 L407.3 60.7 L407.8 61.9 L408.3 62.8 L408.8 63.5 L409.3 64.1 L409.8 64.2 L410.3 64.3 L410.8 64.3 L411.3 64.3 L411.8 64.2 L412.3 64.3 L412.8 64.4 L413.3 64.5 L413.8 64.5 L414.3 64.6 L414.8 64.6 L415.3 64.6 L415.8 64.6 L416.3 64.6 L416.8 64.6 L417.3 64.6 L417.8 64.5 L418.3 64.6 L418.8 64.7 L419.3 64.7 L419.8 64.5 L420.3 64.5 L420.8 64.4 L421.3 64.4 L421.8 64.3 L422.3 64.5 L422.8 64.6 L423.3 64.6 L423.8 64.5 L424.3 64.5 L424.8 64.5 L425.3 64.4 L425.8 64.5 L426.3 64.5 L426.8 64.4 L427.3 64.4 L427.8 64.4 L428.3 64.3 L428.8 64.3 L429.3 64.4 L429.8 64.4 L430.3 64.3 L430.8 64.3 L431.3 64.2 L431.8 64.2 L432.3 64.2 L432.8 64.2 L433.3 64.1 L433.8 64.2 L434.3 64.1 L434.8 64.2 L435.3 64.1 L435.8 64.1 L436.3 64 L436.8 64 L437.3 64 L437.8 64 L438.3 64 L438.8 64 L439.3 64 L439.8 64.1 L440.3 64.3 L440.8 64.4 L441.3 64.4 L441.8 64.4 L442.3 64.5 L442.8 64.4 L443.3 64.4 L443.8 64.4 L444.3 64.3 L444.8 64.3 L445.3 64.4 L445.8 64.3 L446.3 64.3 L446.8 64.4 L447.3 64.5 L447.8 64.5 L448.3 64.5 L448.8 64.4 L449.3 64.4 L449.8 64.4 L450.3 64.3 L450.8 64.3 L451.3 64.2 L451.8 64.2 L452.3 64.1 L452.8 64.1 L453.3 64.1 L453.8 64 L454.3 63.8 L454.8 63.7 L455.3 63.6 L455.8 63.4 L456.3 63.3 L456.8 63.3 L457.3 63.2 L457.8 63.2 L458.3 63.2 L458.8 63.1 L459.3 63.1 L459.8 63.1 L460.3 63.1 L460.8 63.2 L461.3 63.2 L461.8 63.3 L462.3 63.3 L462.8 63.2 L463.3 63.2 L463.8 63.1 L464.3 63 L464.8 62.8 L465.3 62.6 L465.8 62.3 L466.3 61.9 L466.8 61.5 L467.3 61.1 L467.8 60.7 L468.3 60.5 L468.8 60.3 L469.3 60.2 L469.8 60.2 L470.3 60.3 L470.8 60.4 L471.3 60.7 L471.8 60.9 L472.3 61.2 L472.8 61.4 L473.3 61.8 L473.8 62.1 L474.3 62.5 L474.8 62.9 L475.3 63.2 L475.8 63.6 L476.3 63.8 L476.8 64.1 L477.3 64.3 L477.8 64.3 L478.3 64.3 L478.8 64.3 L479.3 64.3 L479.8 64.3 L480.3 64.4 L480.8 64.4 L481.3 64.6 L481.8 64.6 L482.3 64.6 L482.8 64.6 L483.3 64.6 L483.8 64.5 L484.3 64.5 L484.8 64.5 L485.3 64.5 L485.8 64.5 L486.3 64.6 L486.8 64.7 L487.3 64.6 L487.8 64.6 L488.3 64.5 L488.8 64.4 L489.3 64.3 L489.8 64.2 L490.3 64.3 L490.8 64.3 L491.3 64.3 L491.8 64.4 L492.3 64.4 L492.8 64.4 L493.3 64.3 L493.8 64.2 L494.3 63.9 L494.8 63.6 L495.3 63.3 L495.8 63 L496.3 62.5 L496.8 62 L497.3 61.5 L497.8 61 L498.3 60.4 L498.8 60 L499.3 59.7 L499.8 59.4 L500.3 59.4 L500.8 59.4 L501.3 59.6 L501.8 60 L502.3 60.5 L502.8 61 L503.3 61.5 L503.8 62 L504.3 62.5 L504.8 62.9 L505.3 63.3 L505.8 63.7 L506.3 63.9 L506.8 64.1 L507.3 64.2 L507.8 64.3 L508.3 64.5 L508.8 64.5 L509.3 64.6 L509.8 64.5 L510.3 64.6 L510.8 64.5 L511.3 64.5 L511.8 64.4 L512.3 64.4 L512.8 64.3 L513.3 64.3 L513.8 64.3 L514.3 64.3 L514.8 64.3 L515.3 64.5 L515.8 64.5 L516.3 64.6 L516.8 64.6 L517.3 64.6 L517.8 64.5 L518.3 64.4 L518.8 64.3 L519.3 64.2 L519.8 64.2 L520.3 64.1 L520.8 64 L521.3 63.9 L521.8 63.7 L522.3 63.5 L522.8 63.3 L523.3 63.1 L523.8 62.9 L524.3 62.7 L524.8 62.5 L525.3 62.5 L525.8 62.5 L526.3 62.4 L526.8 62.5 L527.3 62.5 L527.8 62.5 L528.3 62.5 L528.8 62.6 L529.3 62.7 L529.8 62.9 L530.3 63 L530.8 63.3 L531.3 63.4 L531.8 63.6 L532.3 63.7 L532.8 63.9 L533.3 64 L533.8 64.1 L534.3 64.2 L534.8 64.3 L535.3 64.4 L535.8 64.4 L536.3 64.5 L536.8 64.6 L537.3 64.5 L537.8 64.6 L538.3 64.6 L538.8 64.6 L539.3 64.6 L539.8 64.5 L540.3 64.4 L540.8 64.4 L541.3 64.4 L541.8 64.4 L542.3 64.5 L542.8 64.6 L543.3 64.6 L543.8 64.6 L544.3 64.6 L544.8 64.6 L545.3 64.5 L545.8 64.5 L546.3 64.5 L546.8 64.5 L547.3 64.5 L547.8 64.4 L548.3 64.4 L548.8 64.4 L549.3 64.5 L549.8 64.4 L550.3 64.5 L550.8 64.4 L551.3 64.5 L551.8 64.5 L552.3 64.5 L552.8 64.5 L553.3 64.5 L553.8 64.6 L554.3 64.6 L554.8 64.6 L555.3 64.6 L555.8 64.6 L556.3 64.5 L556.8 64.6 L557.3 64.6 L557.8 64.6 L558.3 64.5 L558.8 64.6 L559.3 64.5 L559.8 64.4 L560.3 64.5 L560.8 64.5 L561.3 64.4 L561.8 64.5 L562.3 64.6 L562.8 64.4 L563.3 64.5 L563.8 64.5 L564.3 64.5 L564.8 64.5 L565.3 64.6 L565.8 64.5 L566.3 64.5 L566.8 64.5 L567.3 64.5 L567.8 64.5 L568.3 64.5 L568.8 64.6 L569.3 64.6 L569.8 64.5 L570.3 64.5 L570.8 64.5 L571.3 64.4 L571.8 64.4 L572.3 64.5 L572.8 64.5 L573.3 64.6 L573.8 64.6 L574.3 64.6 L574.8 64.5 L575.3 64.4 L575.8 64.4 L576.3 64.4 L576.8 64.4 L577.3 64.4 L577.8 64.4 L578.3 64.3 L578.8 64.3 L579.3 64.5 L579.8 64.5 L580.3 64.5 L580.8 64.5 L581.3 64.6 L581.8 64.6 L582.3 64.6 L582.8 64.5 L583.3 64.5 L583.8 64.4 L584.3 64.4 L584.8 64.3 L585.3 64.3 L585.8 64.3 L586.3 64.2 L586.8 64.1 L587.3 64.2 L587.8 64.2 L588.3 64.2 L588.8 64.2 L589.3 64.3 L589.8 64.2 L590.3 64.1 L590.8 64.1 L591.3 64 L591.8 63.9 L592.3 63.7 L592.8 63.6 L593.3 63.3 L593.8 63.2 L594.3 63 L594.8 63 L595.3 63 L595.8 63.1 L596.3 63.2 L596.8 63.4 L597.3 63.4 L597.8 63.4 L598.3 63.5 L598.8 63.5 L599.3 63.5 L599.8 63.5 L600.3 63.5 L600.8 63.3 L601.3 63.2 L601.8 63 L602.3 62.7 L602.8 62.5 L603.3 62.3 L603.8 62.1 L604.3 61.8 L604.8 61.6 L605.3 61.5 L605.8 61.5 L606.3 61.4 L606.8 61.6 L607.3 61.6 L607.8 61.7 L608.3 62 L608.8 62.3 L609.3 62.6 L609.8 62.9 L610.3 63.2 L610.8 63.4 L611.3 63.7 L611.8 63.8 L612.3 64 L612.8 64.1 L613.3 64.2 L613.8 64.2 L614.3 64.2 L614.8 64.2 L615.3 64.3 L615.8 64.3 L616.3 64.3 L616.8 64.4 L617.3 64.4 L617.8 64.4 L618.3 64.4 L618.8 64.4 L619.3 64.4 L619.8 64.5 L620.3 64.5 L620.8 64.5 L621.3 64.5 L621.8 64.6 L622.3 64.5 L622.8 64.5 L623.3 64.5 L623.8 64.6 L624.3 64.5 L624.8 64.5 L625.3 64.5 L625.8 64.5 L626.3 64.4 L626.8 64.5 L627.3 64.5 L627.8 64.5 L628.3 64.5 L628.8 64.5 L629.3 64.4 L629.8 64.4 L630.3 64.5 L630.8 64.5 L631.3 64.6 L631.8 64.7 L632.3 64.7 L632.8 64.6 L633.3 64.6 L633.8 64.6 L634.3 64.5 L634.8 64.6 L635.3 64.5 L635.8 64.5 L636.3 64.5 L636.8 64.5 L637.3 64.4 L637.8 64.4 L638.3 64.4 L638.8 64.3 L639.3 64.4 L639.8 64.5 L640.3 64.5 L640.8 64.5 L641.3 64.5 L641.8 64.6 L642.3 64.6 L642.8 64.6 L643.3 64.5 L643.8 64.6 L644.3 64.6 L644.8 64.5 L645.3 64.5 L645.8 64.5 L646.3 64.4 L646.8 64.3 L647.3 64.3 L647.8 64.2 L648.3 64.2 L648.8 64 L649.3 63.7 L649.8 63.5 L650.3 63.1 L650.8 62.7 L651.3 62.1 L651.8 61.7 L652.3 61.2 L652.8 60.7 L653.3 60.3 L653.8 59.9 L654.3 59.6 L654.8 59.4 L655.3 59.3 L655.8 59.3 L656.3 59.6 L656.8 59.9 L657.3 60.4 L657.8 60.9 L658.3 61.4 L658.8 61.8 L659.3 62.4 L659.8 62.8 L660.3 63.2 L660.8 63.6 L661.3 64 L661.8 64.2 L662.3 64.2 L662.8 64.3 L663.3 64.4 L663.8 64.4 L664.3 64.4 L664.8 64.5 L665.3 64.5 L665.8 64.5 L666.3 64.5 L666.8 64.6 L667.3 64.5 L667.8 64.5 L668.3 64.4 L668.8 64.5 L669.3 64.4 L669.8 64.5 L670.3 64.5 L670.8 64.6 L671.3 64.6 L671.8 64.6" fill="none" stroke="#7660a6" stroke-width="1.7" stroke-linejoin="round"/>
<path d="M362.3 81.2 L362.8 81.3 L363.3 81.3 L363.8 81.2 L364.3 81.2 L364.8 81.2 L365.3 81.2 L365.8 81.2 L366.3 81.2 L366.8 81.3 L367.3 81.3 L367.8 81.2 L368.3 81.3 L368.8 81.3 L369.3 81.4 L369.8 81.4 L370.3 81.3 L370.8 81.2 L371.3 81.2 L371.8 81.1 L372.3 81 L372.8 80.9 L373.3 80.9 L373.8 80.7 L374.3 80.5 L374.8 80.5 L375.3 80.3 L375.8 80.1 L376.3 79.9 L376.8 79.8 L377.3 79.6 L377.8 79.4 L378.3 79.2 L378.8 79.1 L379.3 79 L379.8 78.9 L380.3 78.8 L380.8 78.9 L381.3 79 L381.8 79.1 L382.3 79.3 L382.8 79.4 L383.3 79.5 L383.8 79.7 L384.3 79.9 L384.8 80 L385.3 80.1 L385.8 80.1 L386.3 80 L386.8 79.8 L387.3 79.6 L387.8 79.4 L388.3 79.2 L388.8 79 L389.3 78.8 L389.8 78.8 L390.3 78.7 L390.8 78.7 L391.3 78.9 L391.8 79.1 L392.3 79.4 L392.8 79.6 L393.3 80.1 L393.8 80.3 L394.3 80.5 L394.8 80.7 L395.3 80.8 L395.8 80.9 L396.3 80.9 L396.8 81 L397.3 81 L397.8 81 L398.3 81 L398.8 80.9 L399.3 80.6 L399.8 80.1 L400.3 79.2 L400.8 78.1 L401.3 76.6 L401.8 74.7 L402.3 72.6 L402.8 70.6 L403.3 68.8 L403.8 67.6 L404.3 67.2 L404.8 67.7 L405.3 68.7 L405.8 70.4 L406.3 72.5 L406.8 74.4 L407.3 76.3 L407.8 77.8 L408.3 79.1 L408.8 80 L409.3 80.5 L409.8 80.8 L410.3 81 L410.8 81.1 L411.3 81 L411.8 81.1 L412.3 81.1 L412.8 81.1 L413.3 81.1 L413.8 81.1 L414.3 81.1 L414.8 81.1 L415.3 81.1 L415.8 81.1 L416.3 81.1 L416.8 81.2 L417.3 81.2 L417.8 81.1 L418.3 81.1 L418.8 81.2 L419.3 81.3 L419.8 81.3 L420.3 81.3 L420.8 81.3 L421.3 81.3 L421.8 81.2 L422.3 81.3 L422.8 81.3 L423.3 81.3 L423.8 81.3 L424.3 81.2 L424.8 81.2 L425.3 81.1 L425.8 81.1 L426.3 81.1 L426.8 81.1 L427.3 81.1 L427.8 81.1 L428.3 81.1 L428.8 81.1 L429.3 81.1 L429.8 81 L430.3 81.1 L430.8 81 L431.3 81.1 L431.8 81.1 L432.3 81.1 L432.8 81 L433.3 81 L433.8 81 L434.3 80.9 L434.8 80.9 L435.3 81 L435.8 80.9 L436.3 80.8 L436.8 80.7 L437.3 80.8 L437.8 80.6 L438.3 80.6 L438.8 80.6 L439.3 80.7 L439.8 80.7 L440.3 80.8 L440.8 80.9 L441.3 81 L441.8 81.1 L442.3 81.1 L442.8 81.2 L443.3 81.2 L443.8 81.2 L444.3 81.1 L444.8 81.1 L445.3 81.2 L445.8 81.2 L446.3 81.2 L446.8 81.3 L447.3 81.3 L447.8 81.2 L448.3 81.3 L448.8 81.3 L449.3 81.3 L449.8 81.3 L450.3 81.3 L450.8 81.2 L451.3 81.1 L451.8 81 L452.3 80.8 L452.8 80.8 L453.3 80.7 L453.8 80.4 L454.3 80.4 L454.8 80.3 L455.3 80 L455.8 80 L456.3 80 L456.8 79.9 L457.3 79.8 L457.8 79.8 L458.3 79.7 L458.8 79.6 L459.3 79.6 L459.8 79.6 L460.3 79.7 L460.8 79.7 L461.3 79.7 L461.8 79.8 L462.3 79.8 L462.8 79.8 L463.3 79.7 L463.8 79.6 L464.3 79.4 L464.8 79.2 L465.3 78.8 L465.8 78.5 L466.3 78.1 L466.8 77.6 L467.3 77.2 L467.8 76.8 L468.3 76.6 L468.8 76.3 L469.3 76.1 L469.8 76 L470.3 76 L470.8 76.2 L471.3 76.4 L471.8 76.9 L472.3 77.3 L472.8 77.8 L473.3 78.2 L473.8 78.7 L474.3 79.1 L474.8 79.5 L475.3 79.8 L475.8 80.2 L476.3 80.4 L476.8 80.7 L477.3 80.8 L477.8 80.9 L478.3 81 L478.8 81.1 L479.3 81.1 L479.8 81.1 L480.3 81.2 L480.8 81.2 L481.3 81.2 L481.8 81.2 L482.3 81.2 L482.8 81.2 L483.3 81.2 L483.8 81.2 L484.3 81.1 L484.8 81 L485.3 81.1 L485.8 81.1 L486.3 81.1 L486.8 81.1 L487.3 81.2 L487.8 81.2 L488.3 81.2 L488.8 81.2 L489.3 81.2 L489.8 81.2 L490.3 81.3 L490.8 81.3 L491.3 81.3 L491.8 81.3 L492.3 81.2 L492.8 81.1 L493.3 81 L493.8 80.9 L494.3 80.7 L494.8 80.4 L495.3 80 L495.8 79.6 L496.3 79.1 L496.8 78.5 L497.3 77.8 L497.8 77.2 L498.3 76.4 L498.8 75.9 L499.3 75.5 L499.8 75.2 L500.3 75.1 L500.8 75.3 L501.3 75.5 L501.8 75.9 L502.3 76.4 L502.8 76.9 L503.3 77.6 L503.8 78.2 L504.3 78.9 L504.8 79.5 L505.3 80 L505.8 80.4 L506.3 80.7 L506.8 80.8 L507.3 81 L507.8 81 L508.3 81.1 L508.8 81 L509.3 81 L509.8 81.1 L510.3 81.1 L510.8 81.1 L511.3 81.2 L511.8 81.3 L512.3 81.2 L512.8 81.2 L513.3 81.2 L513.8 81.2 L514.3 81.1 L514.8 81.1 L515.3 81.1 L515.8 81.2 L516.3 81.2 L516.8 81.2 L517.3 81 L517.8 81 L518.3 80.9 L518.8 80.9 L519.3 80.8 L519.8 80.7 L520.3 80.5 L520.8 80.4 L521.3 80.2 L521.8 80.1 L522.3 79.9 L522.8 79.7 L523.3 79.5 L523.8 79.3 L524.3 79.1 L524.8 79 L525.3 79 L525.8 78.9 L526.3 78.8 L526.8 78.7 L527.3 78.7 L527.8 78.7 L528.3 78.8 L528.8 79.1 L529.3 79.2 L529.8 79.4 L530.3 79.6 L530.8 79.8 L531.3 79.9 L531.8 80.1 L532.3 80.3 L532.8 80.4 L533.3 80.6 L533.8 80.7 L534.3 80.8 L534.8 80.9 L535.3 80.9 L535.8 80.9 L536.3 80.9 L536.8 81 L537.3 81 L537.8 81.1 L538.3 81.2 L538.8 81.2 L539.3 81.1 L539.8 81.1 L540.3 81.3 L540.8 81.2 L541.3 81.2 L541.8 81.3 L542.3 81.3 L542.8 81.2 L543.3 81.2 L543.8 81.2 L544.3 81.2 L544.8 81.1 L545.3 81.1 L545.8 81.2 L546.3 81.1 L546.8 81.1 L547.3 81.1 L547.8 81.2 L548.3 81 L548.8 81.1 L549.3 81.1 L549.8 81.2 L550.3 81.2 L550.8 81.2 L551.3 81.2 L551.8 81.2 L552.3 81.2 L552.8 81.2 L553.3 81.2 L553.8 81.2 L554.3 81.2 L554.8 81.1 L555.3 81.2 L555.8 81.2 L556.3 81.3 L556.8 81.4 L557.3 81.3 L557.8 81.2 L558.3 81.2 L558.8 81.1 L559.3 81.1 L559.8 81.1 L560.3 81.2 L560.8 81.3 L561.3 81.3 L561.8 81.3 L562.3 81.3 L562.8 81.2 L563.3 81.2 L563.8 81.1 L564.3 81.2 L564.8 81.1 L565.3 81.1 L565.8 81.2 L566.3 81.2 L566.8 81.2 L567.3 81.3 L567.8 81.3 L568.3 81.3 L568.8 81.3 L569.3 81.4 L569.8 81.4 L570.3 81.3 L570.8 81.3 L571.3 81.2 L571.8 81.2 L572.3 81.2 L572.8 81.2 L573.3 81.1 L573.8 81.1 L574.3 81 L574.8 81.1 L575.3 81.1 L575.8 81.1 L576.3 81.1 L576.8 81.2 L577.3 81.2 L577.8 81.2 L578.3 81.2 L578.8 81.2 L579.3 81.1 L579.8 81.2 L580.3 81.2 L580.8 81.1 L581.3 81.2 L581.8 81.2 L582.3 81.2 L582.8 81.2 L583.3 81.4 L583.8 81.2 L584.3 81.3 L584.8 81.2 L585.3 81.3 L585.8 81.1 L586.3 81.2 L586.8 81.2 L587.3 81.1 L587.8 81 L588.3 81 L588.8 80.9 L589.3 80.7 L589.8 80.6 L590.3 80.5 L590.8 80.4 L591.3 80.3 L591.8 80.2 L592.3 80.1 L592.8 80 L593.3 80 L593.8 79.8 L594.3 79.7 L594.8 79.6 L595.3 79.5 L595.8 79.5 L596.3 79.6 L596.8 79.6 L597.3 79.7 L597.8 79.8 L598.3 79.8 L598.8 79.8 L599.3 79.9 L599.8 79.9 L600.3 79.8 L600.8 79.7 L601.3 79.6 L601.8 79.3 L602.3 79.1 L602.8 78.8 L603.3 78.6 L603.8 78.2 L604.3 78 L604.8 77.8 L605.3 77.5 L605.8 77.5 L606.3 77.5 L606.8 77.5 L607.3 77.6 L607.8 77.9 L608.3 78.1 L608.8 78.5 L609.3 78.8 L609.8 79.2 L610.3 79.4 L610.8 79.7 L611.3 79.9 L611.8 80.2 L612.3 80.4 L612.8 80.7 L613.3 80.9 L613.8 81 L614.3 81.1 L614.8 81.1 L615.3 81.1 L615.8 81 L616.3 81.1 L616.8 81.1 L617.3 81.1 L617.8 81.1 L618.3 81.2 L618.8 81.2 L619.3 81.2 L619.8 81.2 L620.3 81.3 L620.8 81.3 L621.3 81.3 L621.8 81.3 L622.3 81.2 L622.8 81.1 L623.3 81 L623.8 81.1 L624.3 81.1 L624.8 81 L625.3 81.1 L625.8 81.1 L626.3 81.2 L626.8 81.2 L627.3 81.2 L627.8 81.2 L628.3 81.1 L628.8 81.1 L629.3 81.2 L629.8 81.2 L630.3 81.2 L630.8 81.2 L631.3 81.2 L631.8 81.2 L632.3 81 L632.8 81.1 L633.3 81.2 L633.8 81.2 L634.3 81.2 L634.8 81.3 L635.3 81.3 L635.8 81.2 L636.3 81.3 L636.8 81.3 L637.3 81.2 L637.8 81.2 L638.3 81.2 L638.8 81.1 L639.3 81.2 L639.8 81.1 L640.3 81.1 L640.8 81.1 L641.3 81.1 L641.8 81 L642.3 81.1 L642.8 81.1 L643.3 81.1 L643.8 81.2 L644.3 81.3 L644.8 81.3 L645.3 81.3 L645.8 81.2 L646.3 81 L646.8 81 L647.3 80.8 L647.8 80.7 L648.3 80.6 L648.8 80.5 L649.3 80.3 L649.8 80 L650.3 79.7 L650.8 79.1 L651.3 78.5 L651.8 77.9 L652.3 77.2 L652.8 76.6 L653.3 76.1 L653.8 75.6 L654.3 75.2 L654.8 75 L655.3 75 L655.8 75.2 L656.3 75.4 L656.8 75.8 L657.3 76.4 L657.8 77.1 L658.3 77.6 L658.8 78.2 L659.3 78.8 L659.8 79.3 L660.3 79.6 L660.8 80 L661.3 80.4 L661.8 80.6 L662.3 80.8 L662.8 80.9 L663.3 81 L663.8 81.1 L664.3 81.2 L664.8 81.2 L665.3 81.3 L665.8 81.3 L666.3 81.3 L666.8 81.3 L667.3 81.3 L667.8 81.2 L668.3 81.2 L668.8 81.1 L669.3 81.1 L669.8 81 L670.3 81.1 L670.8 81.2 L671.3 81.2 L671.8 81.2" fill="none" stroke="#6878ae" stroke-width="1.7" stroke-linejoin="round"/>
<path d="M362.3 99.7 L362.8 99.7 L363.3 99.8 L363.8 99.8 L364.3 99.8 L364.8 99.8 L365.3 99.8 L365.8 99.8 L366.3 99.8 L366.8 99.8 L367.3 99.8 L367.8 99.8 L368.3 99.8 L368.8 99.9 L369.3 99.9 L369.8 99.9 L370.3 99.8 L370.8 99.7 L371.3 99.7 L371.8 99.6 L372.3 99.6 L372.8 99.6 L373.3 99.6 L373.8 99.5 L374.3 99.4 L374.8 99.2 L375.3 99 L375.8 98.7 L376.3 98.5 L376.8 98.1 L377.3 97.9 L377.8 97.7 L378.3 97.5 L378.8 97.3 L379.3 97.2 L379.8 97.1 L380.3 97 L380.8 97.1 L381.3 97.3 L381.8 97.5 L382.3 97.7 L382.8 97.9 L383.3 98.1 L383.8 98.3 L384.3 98.3 L384.8 98.4 L385.3 98.4 L385.8 98.3 L386.3 98 L386.8 97.9 L387.3 97.7 L387.8 97.5 L388.3 97.4 L388.8 97.3 L389.3 97.2 L389.8 97.1 L390.3 97.1 L390.8 97.1 L391.3 97.3 L391.8 97.5 L392.3 97.7 L392.8 98 L393.3 98.3 L393.8 98.5 L394.3 98.8 L394.8 98.9 L395.3 99.1 L395.8 99.2 L396.3 99.4 L396.8 99.5 L397.3 99.5 L397.8 99.5 L398.3 99.4 L398.8 99.3 L399.3 98.9 L399.8 98.3 L400.3 97.5 L400.8 96.2 L401.3 94.4 L401.8 92.4 L402.3 90 L402.8 87.7 L403.3 85.7 L403.8 84.4 L404.3 83.8 L404.8 84.2 L405.3 85.5 L405.8 87.5 L406.3 89.8 L406.8 92.1 L407.3 94.3 L407.8 96.1 L408.3 97.4 L408.8 98.4 L409.3 99 L409.8 99.5 L410.3 99.6 L410.8 99.8 L411.3 99.8 L411.8 99.8 L412.3 99.8 L412.8 99.8 L413.3 99.9 L413.8 99.9 L414.3 99.8 L414.8 99.8 L415.3 99.8 L415.8 99.7 L416.3 99.8 L416.8 99.7 L417.3 99.6 L417.8 99.7 L418.3 99.6 L418.8 99.6 L419.3 99.7 L419.8 99.7 L420.3 99.7 L420.8 99.7 L421.3 99.7 L421.8 99.8 L422.3 99.8 L422.8 99.8 L423.3 99.7 L423.8 99.7 L424.3 99.7 L424.8 99.6 L425.3 99.6 L425.8 99.7 L426.3 99.7 L426.8 99.6 L427.3 99.7 L427.8 99.6 L428.3 99.6 L428.8 99.6 L429.3 99.6 L429.8 99.6 L430.3 99.5 L430.8 99.5 L431.3 99.5 L431.8 99.4 L432.3 99.3 L432.8 99.4 L433.3 99.4 L433.8 99.3 L434.3 99.3 L434.8 99.4 L435.3 99.3 L435.8 99.2 L436.3 99.3 L436.8 99.3 L437.3 99.3 L437.8 99.4 L438.3 99.4 L438.8 99.5 L439.3 99.5 L439.8 99.6 L440.3 99.6 L440.8 99.7 L441.3 99.7 L441.8 99.7 L442.3 99.7 L442.8 99.7 L443.3 99.7 L443.8 99.7 L444.3 99.7 L444.8 99.8 L445.3 99.7 L445.8 99.7 L446.3 99.8 L446.8 99.9 L447.3 99.8 L447.8 99.8 L448.3 99.8 L448.8 99.8 L449.3 99.7 L449.8 99.6 L450.3 99.7 L450.8 99.7 L451.3 99.6 L451.8 99.6 L452.3 99.5 L452.8 99.3 L453.3 99.2 L453.8 99 L454.3 98.8 L454.8 98.7 L455.3 98.6 L455.8 98.4 L456.3 98.3 L456.8 98.1 L457.3 98 L457.8 97.9 L458.3 97.9 L458.8 97.8 L459.3 97.8 L459.8 97.9 L460.3 98 L460.8 97.9 L461.3 98 L461.8 98 L462.3 98.1 L462.8 98.1 L463.3 98 L463.8 97.9 L464.3 97.8 L464.8 97.4 L465.3 97.1 L465.8 96.7 L466.3 96.2 L466.8 95.7 L467.3 95.3 L467.8 94.8 L468.3 94.4 L468.8 94.1 L469.3 94.1 L469.8 94 L470.3 94.1 L470.8 94.3 L471.3 94.5 L471.8 94.8 L472.3 95.3 L472.8 95.8 L473.3 96.4 L473.8 97 L474.3 97.5 L474.8 98.1 L475.3 98.5 L475.8 98.9 L476.3 99.2 L476.8 99.3 L477.3 99.4 L477.8 99.5 L478.3 99.6 L478.8 99.6 L479.3 99.7 L479.8 99.8 L480.3 99.8 L480.8 99.8 L481.3 99.8 L481.8 99.8 L482.3 99.7 L482.8 99.6 L483.3 99.7 L483.8 99.6 L484.3 99.6 L484.8 99.7 L485.3 99.8 L485.8 99.8 L486.3 99.8 L486.8 99.7 L487.3 99.6 L487.8 99.6 L488.3 99.7 L488.8 99.7 L489.3 99.8 L489.8 99.7 L490.3 99.7 L490.8 99.6 L491.3 99.6 L491.8 99.6 L492.3 99.7 L492.8 99.6 L493.3 99.6 L493.8 99.3 L494.3 99.1 L494.8 98.8 L495.3 98.3 L495.8 97.8 L496.3 97.3 L496.8 96.7 L497.3 96 L497.8 95.3 L498.3 94.7 L498.8 94.1 L499.3 93.5 L499.8 93.2 L500.3 93 L500.8 93 L501.3 93.4 L501.8 93.9 L502.3 94.5 L502.8 95.1 L503.3 95.9 L503.8 96.6 L504.3 97.3 L504.8 98 L505.3 98.6 L505.8 99 L506.3 99.3 L506.8 99.5 L507.3 99.6 L507.8 99.6 L508.3 99.7 L508.8 99.7 L509.3 99.8 L509.8 99.9 L510.3 99.9 L510.8 100 L511.3 100.1 L511.8 100 L512.3 100 L512.8 100 L513.3 99.9 L513.8 99.7 L514.3 99.6 L514.8 99.7 L515.3 99.5 L515.8 99.6 L516.3 99.6 L516.8 99.7 L517.3 99.6 L517.8 99.6 L518.3 99.5 L518.8 99.5 L519.3 99.3 L519.8 99.3 L520.3 99.2 L520.8 99 L521.3 98.8 L521.8 98.7 L522.3 98.5 L522.8 98.2 L523.3 98 L523.8 97.7 L524.3 97.5 L524.8 97.4 L525.3 97.4 L525.8 97.3 L526.3 97.3 L526.8 97.2 L527.3 97.2 L527.8 97.2 L528.3 97.3 L528.8 97.5 L529.3 97.7 L529.8 97.8 L530.3 98.1 L530.8 98.2 L531.3 98.3 L531.8 98.5 L532.3 98.8 L532.8 99 L533.3 99.1 L533.8 99.2 L534.3 99.3 L534.8 99.3 L535.3 99.3 L535.8 99.5 L536.3 99.6 L536.8 99.7 L537.3 99.7 L537.8 99.8 L538.3 99.7 L538.8 99.7 L539.3 99.7 L539.8 99.7 L540.3 99.7 L540.8 99.7 L541.3 99.7 L541.8 99.7 L542.3 99.7 L542.8 99.8 L543.3 99.8 L543.8 99.9 L544.3 99.9 L544.8 99.7 L545.3 99.7 L545.8 99.7 L546.3 99.7 L546.8 99.8 L547.3 99.8 L547.8 99.8 L548.3 99.7 L548.8 99.8 L549.3 99.7 L549.8 99.9 L550.3 99.8 L550.8 99.7 L551.3 99.7 L551.8 99.7 L552.3 99.6 L552.8 99.7 L553.3 99.6 L553.8 99.6 L554.3 99.6 L554.8 99.7 L555.3 99.7 L555.8 99.8 L556.3 99.9 L556.8 100 L557.3 99.9 L557.8 100 L558.3 99.8 L558.8 99.7 L559.3 99.8 L559.8 99.7 L560.3 99.7 L560.8 99.8 L561.3 99.8 L561.8 99.8 L562.3 99.8 L562.8 99.8 L563.3 99.8 L563.8 99.9 L564.3 99.9 L564.8 99.9 L565.3 99.9 L565.8 99.9 L566.3 100 L566.8 100 L567.3 100 L567.8 99.9 L568.3 99.8 L568.8 99.8 L569.3 99.8 L569.8 99.7 L570.3 99.8 L570.8 99.7 L571.3 99.7 L571.8 99.7 L572.3 99.7 L572.8 99.7 L573.3 99.8 L573.8 99.8 L574.3 99.8 L574.8 99.8 L575.3 99.7 L575.8 99.6 L576.3 99.5 L576.8 99.5 L577.3 99.6 L577.8 99.7 L578.3 99.7 L578.8 99.8 L579.3 99.9 L579.8 99.8 L580.3 99.8 L580.8 99.8 L581.3 99.8 L581.8 99.8 L582.3 99.8 L582.8 99.7 L583.3 99.8 L583.8 99.8 L584.3 99.7 L584.8 99.8 L585.3 99.8 L585.8 99.8 L586.3 99.8 L586.8 99.8 L587.3 99.7 L587.8 99.7 L588.3 99.6 L588.8 99.5 L589.3 99.3 L589.8 99.2 L590.3 99.2 L590.8 99 L591.3 98.8 L591.8 98.7 L592.3 98.5 L592.8 98.4 L593.3 98.3 L593.8 98.2 L594.3 98.1 L594.8 98 L595.3 98 L595.8 98.1 L596.3 98.1 L596.8 98.3 L597.3 98.3 L597.8 98.4 L598.3 98.4 L598.8 98.4 L599.3 98.4 L599.8 98.4 L600.3 98.3 L600.8 98.1 L601.3 97.9 L601.8 97.6 L602.3 97.3 L602.8 97 L603.3 96.7 L603.8 96.4 L604.3 96.2 L604.8 96 L605.3 95.9 L605.8 95.9 L606.3 95.9 L606.8 96 L607.3 96.1 L607.8 96.3 L608.3 96.5 L608.8 96.8 L609.3 97.2 L609.8 97.6 L610.3 98.1 L610.8 98.4 L611.3 98.8 L611.8 99 L612.3 99.1 L612.8 99.2 L613.3 99.3 L613.8 99.5 L614.3 99.7 L614.8 99.8 L615.3 99.9 L615.8 100 L616.3 100 L616.8 99.9 L617.3 99.9 L617.8 100 L618.3 99.9 L618.8 99.8 L619.3 99.8 L619.8 99.8 L620.3 99.8 L620.8 99.8 L621.3 99.9 L621.8 99.9 L622.3 99.9 L622.8 99.8 L623.3 99.8 L623.8 99.8 L624.3 99.8 L624.8 99.7 L625.3 99.7 L625.8 99.8 L626.3 99.6 L626.8 99.7 L627.3 99.8 L627.8 99.7 L628.3 99.7 L628.8 99.9 L629.3 99.8 L629.8 99.9 L630.3 99.9 L630.8 99.9 L631.3 99.8 L631.8 99.8 L632.3 99.7 L632.8 99.7 L633.3 99.7 L633.8 99.8 L634.3 99.8 L634.8 99.8 L635.3 99.9 L635.8 99.8 L636.3 99.8 L636.8 99.8 L637.3 99.8 L637.8 99.8 L638.3 99.8 L638.8 99.8 L639.3 99.8 L639.8 99.8 L640.3 99.7 L640.8 99.8 L641.3 99.8 L641.8 99.8 L642.3 99.8 L642.8 99.8 L643.3 99.8 L643.8 99.8 L644.3 99.8 L644.8 99.9 L645.3 99.9 L645.8 99.8 L646.3 99.7 L646.8 99.6 L647.3 99.5 L647.8 99.3 L648.3 99.2 L648.8 99 L649.3 98.7 L649.8 98.3 L650.3 98 L650.8 97.5 L651.3 97 L651.8 96.3 L652.3 95.6 L652.8 94.8 L653.3 94.2 L653.8 93.6 L654.3 93.1 L654.8 92.9 L655.3 92.8 L655.8 93 L656.3 93.3 L656.8 93.8 L657.3 94.4 L657.8 95.1 L658.3 95.7 L658.8 96.3 L659.3 97.1 L659.8 97.7 L660.3 98.2 L660.8 98.7 L661.3 99.1 L661.8 99.3 L662.3 99.5 L662.8 99.7 L663.3 99.7 L663.8 99.8 L664.3 99.8 L664.8 99.8 L665.3 99.8 L665.8 99.8 L666.3 99.7 L666.8 99.8 L667.3 99.8 L667.8 99.8 L668.3 99.8 L668.8 99.7 L669.3 99.7 L669.8 99.8 L670.3 99.8 L670.8 99.7 L671.3 99.7 L671.8 99.7" fill="none" stroke="#5a88ac" stroke-width="1.7" stroke-linejoin="round"/>
<path d="M362.3 124.9 L362.8 124.8 L363.3 124.8 L363.8 124.8 L364.3 124.9 L364.8 124.9 L365.3 125 L365.8 124.9 L366.3 124.9 L366.8 124.8 L367.3 124.9 L367.8 124.9 L368.3 124.9 L368.8 124.9 L369.3 125 L369.8 124.9 L370.3 124.9 L370.8 124.8 L371.3 124.8 L371.8 124.8 L372.3 124.7 L372.8 124.6 L373.3 124.5 L373.8 124.3 L374.3 124.1 L374.8 123.9 L375.3 123.7 L375.8 123.4 L376.3 123 L376.8 122.7 L377.3 122.4 L377.8 122.1 L378.3 121.9 L378.8 121.8 L379.3 121.7 L379.8 121.6 L380.3 121.6 L380.8 121.6 L381.3 121.7 L381.8 122 L382.3 122.3 L382.8 122.4 L383.3 122.6 L383.8 122.9 L384.3 123 L384.8 123 L385.3 123.1 L385.8 123.1 L386.3 123 L386.8 122.7 L387.3 122.5 L387.8 122.3 L388.3 122 L388.8 121.7 L389.3 121.7 L389.8 121.6 L390.3 121.5 L390.8 121.6 L391.3 121.6 L391.8 121.8 L392.3 122 L392.8 122.5 L393.3 122.9 L393.8 123.4 L394.3 123.7 L394.8 124 L395.3 124.2 L395.8 124.4 L396.3 124.6 L396.8 124.7 L397.3 124.8 L397.8 124.8 L398.3 124.6 L398.8 124.3 L399.3 123.8 L399.8 122.9 L400.3 121.7 L400.8 119.9 L401.3 117.7 L401.8 114.9 L402.3 111.8 L402.8 108.6 L403.3 105.9 L403.8 104 L404.3 103.2 L404.8 103.7 L405.3 105.5 L405.8 108.1 L406.3 111.3 L406.8 114.4 L407.3 117.4 L407.8 119.8 L408.3 121.7 L408.8 122.9 L409.3 124 L409.8 124.5 L410.3 124.7 L410.8 124.9 L411.3 124.9 L411.8 124.9 L412.3 124.9 L412.8 124.9 L413.3 124.8 L413.8 124.9 L414.3 124.9 L414.8 124.8 L415.3 124.8 L415.8 124.9 L416.3 124.9 L416.8 124.9 L417.3 125 L417.8 125 L418.3 124.9 L418.8 124.9 L419.3 124.9 L419.8 124.8 L420.3 124.7 L420.8 124.7 L421.3 124.8 L421.8 124.7 L422.3 124.8 L422.8 124.9 L423.3 124.8 L423.8 124.8 L424.3 124.8 L424.8 124.8 L425.3 124.7 L425.8 124.8 L426.3 124.8 L426.8 124.7 L427.3 124.7 L427.8 124.7 L428.3 124.7 L428.8 124.7 L429.3 124.8 L429.8 124.8 L430.3 124.8 L430.8 124.7 L431.3 124.6 L431.8 124.5 L432.3 124.5 L432.8 124.4 L433.3 124.4 L433.8 124.4 L434.3 124.4 L434.8 124.3 L435.3 124.4 L435.8 124.4 L436.3 124.4 L436.8 124.3 L437.3 124.3 L437.8 124.4 L438.3 124.4 L438.8 124.4 L439.3 124.4 L439.8 124.5 L440.3 124.5 L440.8 124.5 L441.3 124.5 L441.8 124.5 L442.3 124.4 L442.8 124.5 L443.3 124.5 L443.8 124.6 L444.3 124.6 L444.8 124.7 L445.3 124.7 L445.8 124.7 L446.3 124.7 L446.8 124.7 L447.3 124.8 L447.8 124.8 L448.3 124.9 L448.8 124.9 L449.3 124.9 L449.8 124.9 L450.3 124.9 L450.8 124.8 L451.3 124.7 L451.8 124.6 L452.3 124.5 L452.8 124.4 L453.3 124.2 L453.8 124 L454.3 123.8 L454.8 123.6 L455.3 123.3 L455.8 123.1 L456.3 123 L456.8 122.9 L457.3 122.8 L457.8 122.7 L458.3 122.6 L458.8 122.6 L459.3 122.5 L459.8 122.5 L460.3 122.6 L460.8 122.6 L461.3 122.7 L461.8 122.9 L462.3 122.9 L462.8 122.9 L463.3 122.7 L463.8 122.5 L464.3 122.2 L464.8 121.8 L465.3 121.3 L465.8 120.8 L466.3 120.2 L466.8 119.7 L467.3 119.1 L467.8 118.6 L468.3 118.1 L468.8 117.8 L469.3 117.6 L469.8 117.5 L470.3 117.6 L470.8 117.8 L471.3 118.2 L471.8 118.7 L472.3 119.4 L472.8 120.1 L473.3 120.8 L473.8 121.4 L474.3 122 L474.8 122.6 L475.3 122.9 L475.8 123.4 L476.3 123.8 L476.8 124.1 L477.3 124.3 L477.8 124.5 L478.3 124.6 L478.8 124.7 L479.3 124.8 L479.8 124.9 L480.3 125 L480.8 124.9 L481.3 124.9 L481.8 124.9 L482.3 124.9 L482.8 124.9 L483.3 124.9 L483.8 124.9 L484.3 124.9 L484.8 124.8 L485.3 124.8 L485.8 124.8 L486.3 124.8 L486.8 124.8 L487.3 124.9 L487.8 124.9 L488.3 124.9 L488.8 124.9 L489.3 125 L489.8 124.9 L490.3 124.9 L490.8 125 L491.3 124.9 L491.8 124.9 L492.3 124.8 L492.8 124.8 L493.3 124.6 L493.8 124.4 L494.3 124.1 L494.8 123.7 L495.3 123.2 L495.8 122.6 L496.3 121.8 L496.8 121 L497.3 120.2 L497.8 119.3 L498.3 118.4 L498.8 117.5 L499.3 116.9 L499.8 116.5 L500.3 116.3 L500.8 116.4 L501.3 116.9 L501.8 117.4 L502.3 118.2 L502.8 118.9 L503.3 119.9 L503.8 120.8 L504.3 121.6 L504.8 122.4 L505.3 123.1 L505.8 123.6 L506.3 124.1 L506.8 124.3 L507.3 124.5 L507.8 124.7 L508.3 124.8 L508.8 124.8 L509.3 124.9 L509.8 124.8 L510.3 124.8 L510.8 124.8 L511.3 124.9 L511.8 124.9 L512.3 124.9 L512.8 124.8 L513.3 124.8 L513.8 124.8 L514.3 124.8 L514.8 124.7 L515.3 124.6 L515.8 124.7 L516.3 124.7 L516.8 124.7 L517.3 124.6 L517.8 124.7 L518.3 124.6 L518.8 124.4 L519.3 124.3 L519.8 124.2 L520.3 123.9 L520.8 123.7 L521.3 123.7 L521.8 123.4 L522.3 123.2 L522.8 123 L523.3 122.8 L523.8 122.5 L524.3 122.3 L524.8 122.1 L525.3 121.9 L525.8 121.6 L526.3 121.5 L526.8 121.5 L527.3 121.5 L527.8 121.5 L528.3 121.8 L528.8 122 L529.3 122.2 L529.8 122.4 L530.3 122.6 L530.8 122.9 L531.3 123 L531.8 123.2 L532.3 123.4 L532.8 123.7 L533.3 123.8 L533.8 124.1 L534.3 124.3 L534.8 124.5 L535.3 124.6 L535.8 124.8 L536.3 124.9 L536.8 125 L537.3 125 L537.8 125.1 L538.3 125 L538.8 125 L539.3 124.9 L539.8 124.9 L540.3 124.8 L540.8 124.8 L541.3 124.7 L541.8 124.8 L542.3 124.9 L542.8 124.9 L543.3 125 L543.8 125 L544.3 124.9 L544.8 124.9 L545.3 124.8 L545.8 124.8 L546.3 124.8 L546.8 124.8 L547.3 124.9 L547.8 124.9 L548.3 124.9 L548.8 125 L549.3 125 L549.8 125.1 L550.3 125.1 L550.8 125.1 L551.3 125.1 L551.8 125 L552.3 125 L552.8 125.1 L553.3 125.1 L553.8 125 L554.3 124.9 L554.8 124.9 L555.3 124.9 L555.8 124.9 L556.3 124.9 L556.8 124.9 L557.3 124.9 L557.8 124.9 L558.3 124.9 L558.8 125 L559.3 125 L559.8 125 L560.3 125 L560.8 125.1 L561.3 125 L561.8 125 L562.3 124.9 L562.8 124.9 L563.3 124.8 L563.8 124.8 L564.3 124.8 L564.8 124.9 L565.3 124.9 L565.8 125 L566.3 125 L566.8 124.9 L567.3 125 L567.8 124.9 L568.3 124.9 L568.8 124.9 L569.3 124.8 L569.8 124.8 L570.3 124.8 L570.8 124.8 L571.3 124.9 L571.8 125 L572.3 124.9 L572.8 125 L573.3 125 L573.8 124.9 L574.3 124.8 L574.8 124.8 L575.3 124.8 L575.8 124.8 L576.3 124.8 L576.8 124.8 L577.3 124.9 L577.8 124.9 L578.3 124.9 L578.8 124.9 L579.3 125 L579.8 124.9 L580.3 124.9 L580.8 124.9 L581.3 124.9 L581.8 124.9 L582.3 124.9 L582.8 124.8 L583.3 124.8 L583.8 124.8 L584.3 124.8 L584.8 124.7 L585.3 124.7 L585.8 124.8 L586.3 124.8 L586.8 124.7 L587.3 124.7 L587.8 124.6 L588.3 124.5 L588.8 124.3 L589.3 124.2 L589.8 124.1 L590.3 124 L590.8 123.9 L591.3 123.7 L591.8 123.5 L592.3 123.3 L592.8 123 L593.3 122.9 L593.8 122.8 L594.3 122.8 L594.8 122.7 L595.3 122.7 L595.8 122.6 L596.3 122.7 L596.8 122.8 L597.3 122.8 L597.8 123 L598.3 123.1 L598.8 123 L599.3 123.1 L599.8 123.1 L600.3 122.9 L600.8 122.8 L601.3 122.5 L601.8 122.1 L602.3 121.8 L602.8 121.3 L603.3 121 L603.8 120.7 L604.3 120.3 L604.8 120.1 L605.3 120 L605.8 119.9 L606.3 119.8 L606.8 119.9 L607.3 120.1 L607.8 120.2 L608.3 120.6 L608.8 121.1 L609.3 121.6 L609.8 122.1 L610.3 122.6 L610.8 122.9 L611.3 123.3 L611.8 123.6 L612.3 123.8 L612.8 124.1 L613.3 124.4 L613.8 124.5 L614.3 124.8 L614.8 124.9 L615.3 124.9 L615.8 124.8 L616.3 124.8 L616.8 124.7 L617.3 124.6 L617.8 124.6 L618.3 124.6 L618.8 124.6 L619.3 124.7 L619.8 124.7 L620.3 124.7 L620.8 124.8 L621.3 124.9 L621.8 124.8 L622.3 124.8 L622.8 124.8 L623.3 124.8 L623.8 124.7 L624.3 124.9 L624.8 124.9 L625.3 124.9 L625.8 124.9 L626.3 124.9 L626.8 124.8 L627.3 124.7 L627.8 124.7 L628.3 124.7 L628.8 124.7 L629.3 124.7 L629.8 124.8 L630.3 124.8 L630.8 124.7 L631.3 124.9 L631.8 124.8 L632.3 124.8 L632.8 124.8 L633.3 124.9 L633.8 124.8 L634.3 124.9 L634.8 124.9 L635.3 124.9 L635.8 125 L636.3 124.9 L636.8 124.9 L637.3 124.9 L637.8 124.9 L638.3 124.9 L638.8 124.9 L639.3 125 L639.8 125 L640.3 125.1 L640.8 125.1 L641.3 125 L641.8 125 L642.3 125 L642.8 124.9 L643.3 124.9 L643.8 124.9 L644.3 124.8 L644.8 124.8 L645.3 124.9 L645.8 124.8 L646.3 124.9 L646.8 124.7 L647.3 124.5 L647.8 124.4 L648.3 124.2 L648.8 123.9 L649.3 123.6 L649.8 123.3 L650.3 122.7 L650.8 121.9 L651.3 121 L651.8 120.1 L652.3 119.2 L652.8 118.3 L653.3 117.6 L653.8 117 L654.3 116.5 L654.8 116.1 L655.3 116 L655.8 116.3 L656.3 116.5 L656.8 117.2 L657.3 118 L657.8 118.8 L658.3 119.6 L658.8 120.6 L659.3 121.4 L659.8 122.1 L660.3 122.8 L660.8 123.4 L661.3 123.8 L661.8 124.1 L662.3 124.3 L662.8 124.5 L663.3 124.5 L663.8 124.5 L664.3 124.6 L664.8 124.7 L665.3 124.7 L665.8 124.7 L666.3 124.8 L666.8 124.9 L667.3 124.8 L667.8 124.8 L668.3 124.8 L668.8 124.9 L669.3 124.8 L669.8 124.8 L670.3 124.8 L670.8 124.8 L671.3 124.8 L671.8 124.9" fill="none" stroke="#4796a4" stroke-width="1.7" stroke-linejoin="round"/>
<path d="M362.3 148.4 L362.8 148.5 L363.3 148.5 L363.8 148.5 L364.3 148.5 L364.8 148.5 L365.3 148.4 L365.8 148.5 L366.3 148.5 L366.8 148.4 L367.3 148.4 L367.8 148.4 L368.3 148.4 L368.8 148.4 L369.3 148.5 L369.8 148.4 L370.3 148.3 L370.8 148.3 L371.3 148.2 L371.8 148.2 L372.3 148.1 L372.8 148 L373.3 147.9 L373.8 147.8 L374.3 147.7 L374.8 147.5 L375.3 147.3 L375.8 147.1 L376.3 146.8 L376.8 146.5 L377.3 146.1 L377.8 145.7 L378.3 145.4 L378.8 145.3 L379.3 145.2 L379.8 145.3 L380.3 145.3 L380.8 145.4 L381.3 145.4 L381.8 145.6 L382.3 145.7 L382.8 146 L383.3 146.2 L383.8 146.6 L384.3 146.7 L384.8 146.9 L385.3 146.8 L385.8 146.7 L386.3 146.5 L386.8 146.4 L387.3 146.2 L387.8 146 L388.3 145.9 L388.8 145.6 L389.3 145.4 L389.8 145.4 L390.3 145.3 L390.8 145.3 L391.3 145.5 L391.8 145.8 L392.3 145.9 L392.8 146.2 L393.3 146.5 L393.8 146.9 L394.3 147.1 L394.8 147.3 L395.3 147.6 L395.8 147.7 L396.3 147.9 L396.8 148 L397.3 148.1 L397.8 148.1 L398.3 148 L398.8 147.8 L399.3 147.4 L399.8 146.6 L400.3 145.5 L400.8 143.8 L401.3 141.6 L401.8 139 L402.3 136.1 L402.8 133.3 L403.3 130.8 L403.8 129.1 L404.3 128.4 L404.8 128.8 L405.3 130.4 L405.8 132.9 L406.3 135.7 L406.8 138.7 L407.3 141.4 L407.8 143.7 L408.3 145.3 L408.8 146.5 L409.3 147.4 L409.8 147.9 L410.3 148.3 L410.8 148.4 L411.3 148.5 L411.8 148.4 L412.3 148.4 L412.8 148.4 L413.3 148.4 L413.8 148.4 L414.3 148.5 L414.8 148.5 L415.3 148.5 L415.8 148.5 L416.3 148.5 L416.8 148.5 L417.3 148.4 L417.8 148.3 L418.3 148.4 L418.8 148.4 L419.3 148.4 L419.8 148.4 L420.3 148.4 L420.8 148.3 L421.3 148.3 L421.8 148.3 L422.3 148.4 L422.8 148.3 L423.3 148.4 L423.8 148.5 L424.3 148.4 L424.8 148.4 L425.3 148.3 L425.8 148.3 L426.3 148.3 L426.8 148.2 L427.3 148.2 L427.8 148.3 L428.3 148.3 L428.8 148.2 L429.3 148.3 L429.8 148.2 L430.3 148.3 L430.8 148.2 L431.3 148.2 L431.8 148.2 L432.3 148.2 L432.8 148 L433.3 148 L433.8 148 L434.3 148 L434.8 148 L435.3 147.9 L435.8 148 L436.3 147.9 L436.8 147.8 L437.3 147.7 L437.8 147.7 L438.3 147.7 L438.8 147.7 L439.3 147.7 L439.8 147.9 L440.3 147.9 L440.8 148 L441.3 148.2 L441.8 148.3 L442.3 148.3 L442.8 148.3 L443.3 148.4 L443.8 148.3 L444.3 148.3 L444.8 148.3 L445.3 148.4 L445.8 148.3 L446.3 148.4 L446.8 148.4 L447.3 148.4 L447.8 148.3 L448.3 148.4 L448.8 148.4 L449.3 148.3 L449.8 148.2 L450.3 148.1 L450.8 148.1 L451.3 148.1 L451.8 147.9 L452.3 147.9 L452.8 147.9 L453.3 147.7 L453.8 147.5 L454.3 147.4 L454.8 147.2 L455.3 147 L455.8 146.9 L456.3 146.7 L456.8 146.4 L457.3 146.4 L457.8 146.2 L458.3 146.2 L458.8 146.2 L459.3 146.3 L459.8 146.3 L460.3 146.4 L460.8 146.5 L461.3 146.5 L461.8 146.5 L462.3 146.5 L462.8 146.4 L463.3 146.3 L463.8 146.2 L464.3 145.9 L464.8 145.7 L465.3 145.4 L465.8 144.9 L466.3 144.3 L466.8 143.9 L467.3 143.3 L467.8 142.7 L468.3 142.2 L468.8 141.8 L469.3 141.5 L469.8 141.4 L470.3 141.5 L470.8 141.7 L471.3 142 L471.8 142.4 L472.3 142.9 L472.8 143.5 L473.3 144.2 L473.8 144.9 L474.3 145.6 L474.8 146.1 L475.3 146.7 L475.8 147.1 L476.3 147.5 L476.8 147.7 L477.3 147.9 L477.8 148 L478.3 148.2 L478.8 148.3 L479.3 148.3 L479.8 148.3 L480.3 148.3 L480.8 148.4 L481.3 148.4 L481.8 148.5 L482.3 148.4 L482.8 148.4 L483.3 148.4 L483.8 148.3 L484.3 148.3 L484.8 148.3 L485.3 148.3 L485.8 148.3 L486.3 148.4 L486.8 148.4 L487.3 148.4 L487.8 148.4 L488.3 148.3 L488.8 148.4 L489.3 148.3 L489.8 148.5 L490.3 148.5 L490.8 148.4 L491.3 148.3 L491.8 148.3 L492.3 148.3 L492.8 148.1 L493.3 148.1 L493.8 148 L494.3 147.7 L494.8 147.2 L495.3 146.8 L495.8 146.2 L496.3 145.5 L496.8 144.8 L497.3 144.1 L497.8 143.1 L498.3 142.3 L498.8 141.4 L499.3 140.8 L499.8 140.5 L500.3 140.3 L500.8 140.5 L501.3 140.8 L501.8 141.3 L502.3 141.9 L502.8 142.8 L503.3 143.8 L503.8 144.7 L504.3 145.4 L504.8 146.2 L505.3 146.8 L505.8 147.2 L506.3 147.5 L506.8 147.9 L507.3 148.1 L507.8 148.1 L508.3 148.2 L508.8 148.4 L509.3 148.4 L509.8 148.3 L510.3 148.4 L510.8 148.4 L511.3 148.4 L511.8 148.4 L512.3 148.5 L512.8 148.4 L513.3 148.4 L513.8 148.4 L514.3 148.4 L514.8 148.4 L515.3 148.4 L515.8 148.4 L516.3 148.3 L516.8 148.2 L517.3 148.2 L517.8 148.2 L518.3 148 L518.8 148 L519.3 147.9 L519.8 147.7 L520.3 147.5 L520.8 147.4 L521.3 147.1 L521.8 147 L522.3 146.7 L522.8 146.5 L523.3 146.2 L523.8 146 L524.3 145.8 L524.8 145.6 L525.3 145.4 L525.8 145.3 L526.3 145.2 L526.8 145.2 L527.3 145.2 L527.8 145.3 L528.3 145.4 L528.8 145.6 L529.3 145.8 L529.8 146 L530.3 146.2 L530.8 146.5 L531.3 146.7 L531.8 146.9 L532.3 147 L532.8 147.2 L533.3 147.4 L533.8 147.5 L534.3 147.7 L534.8 147.9 L535.3 148.1 L535.8 148.1 L536.3 148.2 L536.8 148.3 L537.3 148.3 L537.8 148.2 L538.3 148.2 L538.8 148.3 L539.3 148.3 L539.8 148.2 L540.3 148.3 L540.8 148.3 L541.3 148.3 L541.8 148.4 L542.3 148.4 L542.8 148.4 L543.3 148.4 L543.8 148.3 L544.3 148.3 L544.8 148.3 L545.3 148.3 L545.8 148.3 L546.3 148.3 L546.8 148.3 L547.3 148.3 L547.8 148.2 L548.3 148.3 L548.8 148.3 L549.3 148.3 L549.8 148.3 L550.3 148.4 L550.8 148.4 L551.3 148.4 L551.8 148.3 L552.3 148.4 L552.8 148.3 L553.3 148.3 L553.8 148.3 L554.3 148.3 L554.8 148.2 L555.3 148.3 L555.8 148.3 L556.3 148.3 L556.8 148.4 L557.3 148.4 L557.8 148.5 L558.3 148.5 L558.8 148.4 L559.3 148.4 L559.8 148.4 L560.3 148.4 L560.8 148.4 L561.3 148.4 L561.8 148.4 L562.3 148.5 L562.8 148.5 L563.3 148.4 L563.8 148.4 L564.3 148.4 L564.8 148.4 L565.3 148.5 L565.8 148.5 L566.3 148.5 L566.8 148.5 L567.3 148.6 L567.8 148.4 L568.3 148.5 L568.8 148.5 L569.3 148.4 L569.8 148.4 L570.3 148.4 L570.8 148.3 L571.3 148.3 L571.8 148.2 L572.3 148.2 L572.8 148.2 L573.3 148.3 L573.8 148.4 L574.3 148.4 L574.8 148.4 L575.3 148.5 L575.8 148.4 L576.3 148.5 L576.8 148.4 L577.3 148.3 L577.8 148.2 L578.3 148.2 L578.8 148.2 L579.3 148.3 L579.8 148.4 L580.3 148.4 L580.8 148.4 L581.3 148.5 L581.8 148.4 L582.3 148.5 L582.8 148.5 L583.3 148.5 L583.8 148.4 L584.3 148.5 L584.8 148.4 L585.3 148.4 L585.8 148.4 L586.3 148.3 L586.8 148.3 L587.3 148.2 L587.8 148.1 L588.3 148 L588.8 148 L589.3 147.8 L589.8 147.7 L590.3 147.6 L590.8 147.4 L591.3 147.2 L591.8 147 L592.3 146.9 L592.8 146.7 L593.3 146.7 L593.8 146.5 L594.3 146.4 L594.8 146.4 L595.3 146.4 L595.8 146.4 L596.3 146.5 L596.8 146.5 L597.3 146.5 L597.8 146.6 L598.3 146.6 L598.8 146.8 L599.3 146.8 L599.8 146.7 L600.3 146.7 L600.8 146.5 L601.3 146.2 L601.8 146 L602.3 145.7 L602.8 145.2 L603.3 144.8 L603.8 144.4 L604.3 144 L604.8 143.8 L605.3 143.6 L605.8 143.6 L606.3 143.6 L606.8 143.8 L607.3 143.9 L607.8 144.1 L608.3 144.4 L608.8 144.8 L609.3 145.3 L609.8 145.8 L610.3 146.3 L610.8 146.7 L611.3 147 L611.8 147.3 L612.3 147.6 L612.8 147.7 L613.3 148 L613.8 148 L614.3 148.2 L614.8 148.3 L615.3 148.3 L615.8 148.2 L616.3 148.3 L616.8 148.2 L617.3 148.2 L617.8 148.2 L618.3 148.3 L618.8 148.3 L619.3 148.3 L619.8 148.3 L620.3 148.3 L620.8 148.3 L621.3 148.3 L621.8 148.4 L622.3 148.5 L622.8 148.5 L623.3 148.5 L623.8 148.5 L624.3 148.5 L624.8 148.4 L625.3 148.5 L625.8 148.5 L626.3 148.4 L626.8 148.3 L627.3 148.4 L627.8 148.4 L628.3 148.4 L628.8 148.6 L629.3 148.5 L629.8 148.3 L630.3 148.3 L630.8 148.2 L631.3 148.1 L631.8 148.2 L632.3 148.3 L632.8 148.4 L633.3 148.4 L633.8 148.3 L634.3 148.4 L634.8 148.3 L635.3 148.2 L635.8 148.4 L636.3 148.4 L636.8 148.5 L637.3 148.4 L637.8 148.5 L638.3 148.3 L638.8 148.3 L639.3 148.3 L639.8 148.4 L640.3 148.4 L640.8 148.4 L641.3 148.4 L641.8 148.3 L642.3 148.3 L642.8 148.3 L643.3 148.4 L643.8 148.4 L644.3 148.4 L644.8 148.4 L645.3 148.4 L645.8 148.2 L646.3 148.2 L646.8 148.3 L647.3 148.2 L647.8 148.1 L648.3 147.9 L648.8 147.7 L649.3 147.2 L649.8 146.7 L650.3 146.2 L650.8 145.5 L651.3 144.8 L651.8 144 L652.3 143.2 L652.8 142.4 L653.3 141.7 L653.8 141 L654.3 140.5 L654.8 140.2 L655.3 140.1 L655.8 140.2 L656.3 140.6 L656.8 141.1 L657.3 141.8 L657.8 142.6 L658.3 143.4 L658.8 144.2 L659.3 145 L659.8 145.8 L660.3 146.4 L660.8 146.9 L661.3 147.3 L661.8 147.7 L662.3 147.9 L662.8 148 L663.3 148.2 L663.8 148.3 L664.3 148.3 L664.8 148.4 L665.3 148.3 L665.8 148.4 L666.3 148.4 L666.8 148.4 L667.3 148.4 L667.8 148.5 L668.3 148.5 L668.8 148.5 L669.3 148.5 L669.8 148.5 L670.3 148.4 L670.8 148.4 L671.3 148.4 L671.8 148.4" fill="none" stroke="#3fa29a" stroke-width="1.7" stroke-linejoin="round"/>
<path d="M362.3 168.1 L362.8 168 L363.3 167.9 L363.8 168 L364.3 168 L364.8 168 L365.3 168.1 L365.8 168.2 L366.3 168.2 L366.8 168.2 L367.3 168.1 L367.8 168 L368.3 167.9 L368.8 167.9 L369.3 167.9 L369.8 168 L370.3 168 L370.8 168.1 L371.3 168.1 L371.8 168 L372.3 167.9 L372.8 167.8 L373.3 167.7 L373.8 167.6 L374.3 167.5 L374.8 167.4 L375.3 167.3 L375.8 167.1 L376.3 166.8 L376.8 166.5 L377.3 166.2 L377.8 166 L378.3 165.7 L378.8 165.6 L379.3 165.5 L379.8 165.4 L380.3 165.4 L380.8 165.5 L381.3 165.5 L381.8 165.7 L382.3 166 L382.8 166 L383.3 166.2 L383.8 166.3 L384.3 166.5 L384.8 166.6 L385.3 166.8 L385.8 166.7 L386.3 166.7 L386.8 166.6 L387.3 166.3 L387.8 166 L388.3 165.9 L388.8 165.6 L389.3 165.4 L389.8 165.3 L390.3 165.3 L390.8 165.4 L391.3 165.6 L391.8 165.7 L392.3 165.9 L392.8 166.2 L393.3 166.4 L393.8 166.7 L394.3 167.1 L394.8 167.3 L395.3 167.5 L395.8 167.6 L396.3 167.8 L396.8 167.8 L397.3 167.9 L397.8 167.9 L398.3 167.9 L398.8 167.6 L399.3 167.4 L399.8 166.8 L400.3 165.8 L400.8 164.4 L401.3 162.7 L401.8 160.4 L402.3 158 L402.8 155.6 L403.3 153.5 L403.8 152 L404.3 151.5 L404.8 151.8 L405.3 153.1 L405.8 155.2 L406.3 157.6 L406.8 159.9 L407.3 162.2 L407.8 164 L408.3 165.4 L408.8 166.5 L409.3 167.2 L409.8 167.6 L410.3 167.9 L410.8 168 L411.3 168.1 L411.8 168.1 L412.3 168.1 L412.8 168.1 L413.3 168.2 L413.8 168.1 L414.3 168 L414.8 168 L415.3 167.9 L415.8 168 L416.3 168 L416.8 168.1 L417.3 168.1 L417.8 168.1 L418.3 168.1 L418.8 168.2 L419.3 168.1 L419.8 168 L420.3 168 L420.8 167.9 L421.3 168 L421.8 168 L422.3 168.1 L422.8 168 L423.3 168.1 L423.8 168.1 L424.3 168.1 L424.8 168.1 L425.3 168.1 L425.8 168.1 L426.3 168.2 L426.8 168.1 L427.3 168.1 L427.8 168.1 L428.3 168.1 L428.8 168.1 L429.3 168 L429.8 167.9 L430.3 167.9 L430.8 167.8 L431.3 167.8 L431.8 167.9 L432.3 167.9 L432.8 167.8 L433.3 167.8 L433.8 167.7 L434.3 167.7 L434.8 167.6 L435.3 167.7 L435.8 167.7 L436.3 167.8 L436.8 167.7 L437.3 167.7 L437.8 167.8 L438.3 167.8 L438.8 167.8 L439.3 167.8 L439.8 167.8 L440.3 167.8 L440.8 167.8 L441.3 167.9 L441.8 167.9 L442.3 168.1 L442.8 168.1 L443.3 168.1 L443.8 168 L444.3 168 L444.8 167.9 L445.3 168 L445.8 167.9 L446.3 168 L446.8 168.1 L447.3 168.1 L447.8 168.1 L448.3 168.1 L448.8 168.2 L449.3 168 L449.8 168.1 L450.3 168 L450.8 167.9 L451.3 167.9 L451.8 167.9 L452.3 167.7 L452.8 167.6 L453.3 167.4 L453.8 167.3 L454.3 167.2 L454.8 166.9 L455.3 166.8 L455.8 166.6 L456.3 166.5 L456.8 166.3 L457.3 166.2 L457.8 166.2 L458.3 166.2 L458.8 166.1 L459.3 166.2 L459.8 166.3 L460.3 166.2 L460.8 166.2 L461.3 166.4 L461.8 166.4 L462.3 166.5 L462.8 166.5 L463.3 166.6 L463.8 166.4 L464.3 166.2 L464.8 165.9 L465.3 165.6 L465.8 165.1 L466.3 164.6 L466.8 164.1 L467.3 163.6 L467.8 163.2 L468.3 162.7 L468.8 162.3 L469.3 162.1 L469.8 162 L470.3 162 L470.8 162.3 L471.3 162.7 L471.8 163.1 L472.3 163.6 L472.8 164.2 L473.3 164.7 L473.8 165.3 L474.3 165.8 L474.8 166.3 L475.3 166.7 L475.8 167.1 L476.3 167.3 L476.8 167.5 L477.3 167.7 L477.8 167.7 L478.3 167.7 L478.8 167.8 L479.3 167.9 L479.8 167.9 L480.3 168 L480.8 168.1 L481.3 168.1 L481.8 168.1 L482.3 168.1 L482.8 168.1 L483.3 168.1 L483.8 168.1 L484.3 168.1 L484.8 168.2 L485.3 168.1 L485.8 168.1 L486.3 168 L486.8 168 L487.3 167.9 L487.8 167.9 L488.3 167.9 L488.8 167.9 L489.3 168 L489.8 168 L490.3 168 L490.8 168 L491.3 168 L491.8 167.9 L492.3 167.9 L492.8 167.9 L493.3 167.8 L493.8 167.7 L494.3 167.5 L494.8 167.2 L495.3 166.8 L495.8 166.1 L496.3 165.6 L496.8 164.8 L497.3 164.1 L497.8 163.3 L498.3 162.7 L498.8 162.1 L499.3 161.6 L499.8 161.1 L500.3 161.1 L500.8 161.2 L501.3 161.5 L501.8 162 L502.3 162.7 L502.8 163.4 L503.3 164.1 L503.8 164.8 L504.3 165.5 L504.8 166.1 L505.3 166.6 L505.8 167 L506.3 167.5 L506.8 167.7 L507.3 167.9 L507.8 167.9 L508.3 168 L508.8 167.9 L509.3 167.9 L509.8 167.8 L510.3 167.9 L510.8 167.9 L511.3 168 L511.8 168 L512.3 168.1 L512.8 168.1 L513.3 168.2 L513.8 168.2 L514.3 168.2 L514.8 168.2 L515.3 168.2 L515.8 168.1 L516.3 168 L516.8 168.1 L517.3 168.1 L517.8 168 L518.3 167.8 L518.8 167.8 L519.3 167.6 L519.8 167.5 L520.3 167.4 L520.8 167.3 L521.3 167.1 L521.8 166.9 L522.3 166.6 L522.8 166.4 L523.3 166.1 L523.8 166 L524.3 165.9 L524.8 165.7 L525.3 165.6 L525.8 165.5 L526.3 165.4 L526.8 165.3 L527.3 165.3 L527.8 165.4 L528.3 165.5 L528.8 165.6 L529.3 165.8 L529.8 165.9 L530.3 166.1 L530.8 166.4 L531.3 166.6 L531.8 166.9 L532.3 167.1 L532.8 167.3 L533.3 167.4 L533.8 167.5 L534.3 167.5 L534.8 167.6 L535.3 167.7 L535.8 167.7 L536.3 167.9 L536.8 167.9 L537.3 167.9 L537.8 167.9 L538.3 168.1 L538.8 168 L539.3 168.1 L539.8 168.1 L540.3 168.2 L540.8 168.1 L541.3 168.1 L541.8 168.1 L542.3 168 L542.8 167.9 L543.3 167.9 L543.8 167.9 L544.3 167.9 L544.8 168 L545.3 168 L545.8 168.1 L546.3 168.1 L546.8 168.1 L547.3 168.1 L547.8 168.1 L548.3 168 L548.8 168 L549.3 168.1 L549.8 168 L550.3 168 L550.8 168.1 L551.3 168.2 L551.8 168.2 L552.3 168.2 L552.8 168.2 L553.3 168.1 L553.8 168.1 L554.3 168.1 L554.8 168.2 L555.3 168.1 L555.8 168.1 L556.3 168.1 L556.8 168.1 L557.3 168 L557.8 168.1 L558.3 168.1 L558.8 168.1 L559.3 168.1 L559.8 168.1 L560.3 168 L560.8 168 L561.3 168 L561.8 167.9 L562.3 167.9 L562.8 167.9 L563.3 167.9 L563.8 168 L564.3 168.1 L564.8 168.1 L565.3 168.1 L565.8 168.1 L566.3 168.1 L566.8 168.1 L567.3 168.1 L567.8 168.1 L568.3 168.1 L568.8 168.1 L569.3 168 L569.8 167.9 L570.3 168 L570.8 168 L571.3 168 L571.8 168 L572.3 168.1 L572.8 168.1 L573.3 168.1 L573.8 168.1 L574.3 168.1 L574.8 168.2 L575.3 168.1 L575.8 168.1 L576.3 168.1 L576.8 168.1 L577.3 168.1 L577.8 168 L578.3 168 L578.8 168 L579.3 168 L579.8 168 L580.3 168.1 L580.8 168.1 L581.3 168.2 L581.8 168.2 L582.3 168.2 L582.8 168.2 L583.3 168.1 L583.8 168 L584.3 168 L584.8 168.1 L585.3 168.1 L585.8 168.2 L586.3 168.2 L586.8 168.2 L587.3 168 L587.8 167.9 L588.3 167.9 L588.8 167.8 L589.3 167.7 L589.8 167.5 L590.3 167.4 L590.8 167.3 L591.3 167 L591.8 166.8 L592.3 166.6 L592.8 166.4 L593.3 166.3 L593.8 166.2 L594.3 166.2 L594.8 166.2 L595.3 166.2 L595.8 166.3 L596.3 166.3 L596.8 166.4 L597.3 166.6 L597.8 166.6 L598.3 166.6 L598.8 166.7 L599.3 166.6 L599.8 166.5 L600.3 166.5 L600.8 166.3 L601.3 166 L601.8 165.8 L602.3 165.5 L602.8 165.3 L603.3 165 L603.8 164.8 L604.3 164.4 L604.8 164.2 L605.3 164 L605.8 163.9 L606.3 163.9 L606.8 163.9 L607.3 164.1 L607.8 164.4 L608.3 164.6 L608.8 165 L609.3 165.4 L609.8 165.8 L610.3 166.1 L610.8 166.5 L611.3 166.8 L611.8 167.1 L612.3 167.2 L612.8 167.5 L613.3 167.6 L613.8 167.7 L614.3 167.8 L614.8 168 L615.3 168 L615.8 168.1 L616.3 168.1 L616.8 168 L617.3 167.9 L617.8 168 L618.3 168.1 L618.8 168.2 L619.3 168.2 L619.8 168.2 L620.3 168.2 L620.8 168.2 L621.3 168.2 L621.8 168.2 L622.3 168.2 L622.8 168.2 L623.3 168.2 L623.8 168.2 L624.3 168.3 L624.8 168.3 L625.3 168.3 L625.8 168.3 L626.3 168.3 L626.8 168.2 L627.3 168.1 L627.8 168 L628.3 168 L628.8 167.9 L629.3 167.9 L629.8 168 L630.3 168.1 L630.8 168.1 L631.3 168.2 L631.8 168.2 L632.3 168.1 L632.8 168.1 L633.3 168.2 L633.8 168.1 L634.3 168.2 L634.8 168.2 L635.3 168.2 L635.8 168.2 L636.3 168.1 L636.8 168.1 L637.3 168.1 L637.8 168.2 L638.3 168.1 L638.8 168.1 L639.3 168 L639.8 168 L640.3 167.9 L640.8 168 L641.3 168.1 L641.8 168.1 L642.3 168.1 L642.8 168.1 L643.3 168.2 L643.8 168.1 L644.3 168.1 L644.8 168.1 L645.3 168 L645.8 167.9 L646.3 168 L646.8 168 L647.3 167.9 L647.8 167.8 L648.3 167.7 L648.8 167.4 L649.3 167.1 L649.8 166.8 L650.3 166.3 L650.8 165.7 L651.3 165 L651.8 164.2 L652.3 163.5 L652.8 162.8 L653.3 162.2 L653.8 161.6 L654.3 161.2 L654.8 160.9 L655.3 160.9 L655.8 161 L656.3 161.4 L656.8 162 L657.3 162.7 L657.8 163.3 L658.3 164.1 L658.8 164.8 L659.3 165.4 L659.8 166 L660.3 166.6 L660.8 166.9 L661.3 167.2 L661.8 167.5 L662.3 167.7 L662.8 167.7 L663.3 168 L663.8 168 L664.3 168.1 L664.8 168.1 L665.3 168.1 L665.8 168 L666.3 168 L666.8 168 L667.3 168.1 L667.8 168.1 L668.3 168.2 L668.8 168.2 L669.3 168.2 L669.8 168.1 L670.3 168.1 L670.8 168.1 L671.3 168.1 L671.8 168" fill="none" stroke="#4fb08c" stroke-width="1.7" stroke-linejoin="round"/>
<path d="M362.3 186.5 L362.8 186.4 L363.3 186.5 L363.8 186.4 L364.3 186.5 L364.8 186.5 L365.3 186.6 L365.8 186.6 L366.3 186.6 L366.8 186.6 L367.3 186.6 L367.8 186.5 L368.3 186.5 L368.8 186.5 L369.3 186.5 L369.8 186.4 L370.3 186.3 L370.8 186.3 L371.3 186.3 L371.8 186.3 L372.3 186.3 L372.8 186.3 L373.3 186.3 L373.8 186.1 L374.3 185.9 L374.8 185.7 L375.3 185.5 L375.8 185.3 L376.3 185.2 L376.8 184.9 L377.3 184.7 L377.8 184.4 L378.3 184.2 L378.8 184 L379.3 183.9 L379.8 183.8 L380.3 183.8 L380.8 183.9 L381.3 184 L381.8 184.2 L382.3 184.4 L382.8 184.6 L383.3 184.8 L383.8 184.9 L384.3 185.1 L384.8 185.2 L385.3 185.2 L385.8 185.2 L386.3 185.1 L386.8 184.9 L387.3 184.7 L387.8 184.5 L388.3 184.2 L388.8 184 L389.3 183.9 L389.8 183.9 L390.3 183.8 L390.8 184 L391.3 184.1 L391.8 184.2 L392.3 184.4 L392.8 184.7 L393.3 184.9 L393.8 185.2 L394.3 185.4 L394.8 185.7 L395.3 185.9 L395.8 186 L396.3 186.1 L396.8 186.3 L397.3 186.3 L397.8 186.2 L398.3 186.2 L398.8 186 L399.3 185.5 L399.8 184.9 L400.3 184 L400.8 182.8 L401.3 181.1 L401.8 179 L402.3 176.8 L402.8 174.5 L403.3 172.5 L403.8 171.2 L404.3 170.7 L404.8 171.1 L405.3 172.3 L405.8 174.2 L406.3 176.4 L406.8 178.7 L407.3 180.9 L407.8 182.7 L408.3 184.1 L408.8 185.1 L409.3 185.7 L409.8 186.1 L410.3 186.2 L410.8 186.4 L411.3 186.5 L411.8 186.5 L412.3 186.4 L412.8 186.5 L413.3 186.4 L413.8 186.5 L414.3 186.5 L414.8 186.5 L415.3 186.5 L415.8 186.5 L416.3 186.5 L416.8 186.6 L417.3 186.5 L417.8 186.6 L418.3 186.6 L418.8 186.5 L419.3 186.4 L419.8 186.5 L420.3 186.4 L420.8 186.4 L421.3 186.5 L421.8 186.5 L422.3 186.5 L422.8 186.4 L423.3 186.4 L423.8 186.4 L424.3 186.4 L424.8 186.4 L425.3 186.4 L425.8 186.4 L426.3 186.4 L426.8 186.4 L427.3 186.4 L427.8 186.3 L428.3 186.3 L428.8 186.2 L429.3 186.3 L429.8 186.4 L430.3 186.4 L430.8 186.3 L431.3 186.3 L431.8 186.1 L432.3 186.1 L432.8 186 L433.3 186 L433.8 186 L434.3 186.1 L434.8 186.2 L435.3 186.1 L435.8 186.1 L436.3 186.1 L436.8 186.1 L437.3 186 L437.8 186 L438.3 186 L438.8 186.1 L439.3 186.1 L439.8 186.1 L440.3 186.1 L440.8 186.1 L441.3 186.2 L441.8 186.3 L442.3 186.2 L442.8 186.4 L443.3 186.3 L443.8 186.3 L444.3 186.3 L444.8 186.5 L445.3 186.5 L445.8 186.5 L446.3 186.5 L446.8 186.5 L447.3 186.5 L447.8 186.5 L448.3 186.5 L448.8 186.4 L449.3 186.5 L449.8 186.4 L450.3 186.3 L450.8 186.3 L451.3 186.3 L451.8 186.2 L452.3 186.1 L452.8 186.1 L453.3 185.9 L453.8 185.8 L454.3 185.6 L454.8 185.5 L455.3 185.3 L455.8 185.1 L456.3 184.9 L456.8 184.8 L457.3 184.7 L457.8 184.7 L458.3 184.7 L458.8 184.7 L459.3 184.6 L459.8 184.6 L460.3 184.6 L460.8 184.7 L461.3 184.8 L461.8 184.9 L462.3 185 L462.8 184.9 L463.3 184.9 L463.8 184.7 L464.3 184.6 L464.8 184.3 L465.3 183.9 L465.8 183.5 L466.3 183 L466.8 182.5 L467.3 182 L467.8 181.6 L468.3 181.2 L468.8 180.9 L469.3 180.6 L469.8 180.7 L470.3 180.7 L470.8 180.9 L471.3 181.3 L471.8 181.7 L472.3 182.2 L472.8 182.7 L473.3 183.2 L473.8 183.6 L474.3 184.1 L474.8 184.5 L475.3 184.9 L475.8 185.2 L476.3 185.6 L476.8 185.9 L477.3 186 L477.8 186.2 L478.3 186.4 L478.8 186.4 L479.3 186.4 L479.8 186.5 L480.3 186.5 L480.8 186.6 L481.3 186.6 L481.8 186.6 L482.3 186.5 L482.8 186.5 L483.3 186.4 L483.8 186.5 L484.3 186.5 L484.8 186.6 L485.3 186.6 L485.8 186.5 L486.3 186.5 L486.8 186.5 L487.3 186.6 L487.8 186.6 L488.3 186.6 L488.8 186.5 L489.3 186.5 L489.8 186.5 L490.3 186.5 L490.8 186.5 L491.3 186.6 L491.8 186.5 L492.3 186.4 L492.8 186.3 L493.3 186.2 L493.8 186 L494.3 185.9 L494.8 185.6 L495.3 185.1 L495.8 184.6 L496.3 184 L496.8 183.3 L497.3 182.7 L497.8 182.1 L498.3 181.4 L498.8 180.8 L499.3 180.2 L499.8 179.9 L500.3 179.6 L500.8 179.8 L501.3 179.9 L501.8 180.5 L502.3 181.1 L502.8 181.9 L503.3 182.6 L503.8 183.5 L504.3 184 L504.8 184.5 L505.3 185 L505.8 185.3 L506.3 185.6 L506.8 186 L507.3 186.3 L507.8 186.5 L508.3 186.5 L508.8 186.6 L509.3 186.6 L509.8 186.5 L510.3 186.6 L510.8 186.5 L511.3 186.6 L511.8 186.5 L512.3 186.6 L512.8 186.5 L513.3 186.6 L513.8 186.5 L514.3 186.5 L514.8 186.4 L515.3 186.6 L515.8 186.6 L516.3 186.6 L516.8 186.5 L517.3 186.5 L517.8 186.3 L518.3 186.1 L518.8 186.1 L519.3 186.1 L519.8 185.9 L520.3 185.7 L520.8 185.7 L521.3 185.6 L521.8 185.3 L522.3 185.1 L522.8 185.1 L523.3 184.9 L523.8 184.6 L524.3 184.4 L524.8 184.2 L525.3 184 L525.8 183.9 L526.3 183.9 L526.8 183.9 L527.3 183.9 L527.8 183.8 L528.3 183.9 L528.8 184.1 L529.3 184.2 L529.8 184.3 L530.3 184.6 L530.8 184.8 L531.3 185 L531.8 185.3 L532.3 185.6 L532.8 185.7 L533.3 185.7 L533.8 185.9 L534.3 186 L534.8 186.1 L535.3 186.2 L535.8 186.4 L536.3 186.3 L536.8 186.5 L537.3 186.5 L537.8 186.5 L538.3 186.4 L538.8 186.5 L539.3 186.5 L539.8 186.5 L540.3 186.5 L540.8 186.6 L541.3 186.6 L541.8 186.5 L542.3 186.5 L542.8 186.5 L543.3 186.5 L543.8 186.6 L544.3 186.6 L544.8 186.5 L545.3 186.6 L545.8 186.5 L546.3 186.5 L546.8 186.5 L547.3 186.6 L547.8 186.6 L548.3 186.7 L548.8 186.6 L549.3 186.6 L549.8 186.5 L550.3 186.6 L550.8 186.4 L551.3 186.4 L551.8 186.5 L552.3 186.5 L552.8 186.5 L553.3 186.6 L553.8 186.5 L554.3 186.4 L554.8 186.5 L555.3 186.5 L555.8 186.4 L556.3 186.5 L556.8 186.6 L557.3 186.6 L557.8 186.6 L558.3 186.7 L558.8 186.6 L559.3 186.6 L559.8 186.5 L560.3 186.5 L560.8 186.4 L561.3 186.4 L561.8 186.4 L562.3 186.5 L562.8 186.4 L563.3 186.4 L563.8 186.3 L564.3 186.4 L564.8 186.3 L565.3 186.4 L565.8 186.5 L566.3 186.5 L566.8 186.4 L567.3 186.4 L567.8 186.4 L568.3 186.4 L568.8 186.4 L569.3 186.4 L569.8 186.4 L570.3 186.4 L570.8 186.4 L571.3 186.4 L571.8 186.5 L572.3 186.5 L572.8 186.5 L573.3 186.4 L573.8 186.4 L574.3 186.4 L574.8 186.3 L575.3 186.3 L575.8 186.5 L576.3 186.4 L576.8 186.5 L577.3 186.5 L577.8 186.7 L578.3 186.6 L578.8 186.6 L579.3 186.7 L579.8 186.7 L580.3 186.6 L580.8 186.5 L581.3 186.5 L581.8 186.6 L582.3 186.6 L582.8 186.7 L583.3 186.8 L583.8 186.8 L584.3 186.6 L584.8 186.6 L585.3 186.5 L585.8 186.5 L586.3 186.4 L586.8 186.4 L587.3 186.3 L587.8 186.2 L588.3 186.1 L588.8 186.2 L589.3 186.1 L589.8 186.1 L590.3 186 L590.8 185.8 L591.3 185.5 L591.8 185.5 L592.3 185.3 L592.8 185.2 L593.3 185.1 L593.8 185 L594.3 184.8 L594.8 184.7 L595.3 184.6 L595.8 184.5 L596.3 184.6 L596.8 184.7 L597.3 184.8 L597.8 185 L598.3 185.1 L598.8 185.2 L599.3 185.2 L599.8 185.1 L600.3 185 L600.8 184.8 L601.3 184.6 L601.8 184.4 L602.3 184 L602.8 183.7 L603.3 183.5 L603.8 183.1 L604.3 182.9 L604.8 182.7 L605.3 182.5 L605.8 182.4 L606.3 182.3 L606.8 182.4 L607.3 182.5 L607.8 182.8 L608.3 183.1 L608.8 183.5 L609.3 183.9 L609.8 184.3 L610.3 184.7 L610.8 185 L611.3 185.3 L611.8 185.6 L612.3 185.9 L612.8 186 L613.3 186.1 L613.8 186.2 L614.3 186.2 L614.8 186.3 L615.3 186.4 L615.8 186.4 L616.3 186.5 L616.8 186.5 L617.3 186.5 L617.8 186.5 L618.3 186.4 L618.8 186.4 L619.3 186.3 L619.8 186.3 L620.3 186.3 L620.8 186.4 L621.3 186.4 L621.8 186.5 L622.3 186.5 L622.8 186.6 L623.3 186.5 L623.8 186.5 L624.3 186.4 L624.8 186.4 L625.3 186.3 L625.8 186.4 L626.3 186.4 L626.8 186.5 L627.3 186.5 L627.8 186.5 L628.3 186.6 L628.8 186.5 L629.3 186.5 L629.8 186.6 L630.3 186.6 L630.8 186.5 L631.3 186.6 L631.8 186.5 L632.3 186.6 L632.8 186.5 L633.3 186.6 L633.8 186.6 L634.3 186.6 L634.8 186.5 L635.3 186.5 L635.8 186.4 L636.3 186.5 L636.8 186.5 L637.3 186.5 L637.8 186.6 L638.3 186.6 L638.8 186.5 L639.3 186.5 L639.8 186.5 L640.3 186.5 L640.8 186.4 L641.3 186.3 L641.8 186.3 L642.3 186.3 L642.8 186.2 L643.3 186.4 L643.8 186.4 L644.3 186.4 L644.8 186.4 L645.3 186.4 L645.8 186.4 L646.3 186.4 L646.8 186.4 L647.3 186.3 L647.8 186.2 L648.3 186 L648.8 185.8 L649.3 185.5 L649.8 185.1 L650.3 184.7 L650.8 184.1 L651.3 183.5 L651.8 182.8 L652.3 182.1 L652.8 181.5 L653.3 180.9 L653.8 180.3 L654.3 179.8 L654.8 179.6 L655.3 179.5 L655.8 179.5 L656.3 179.9 L656.8 180.4 L657.3 181 L657.8 181.7 L658.3 182.4 L658.8 183.1 L659.3 183.7 L659.8 184.3 L660.3 184.7 L660.8 185.2 L661.3 185.5 L661.8 185.8 L662.3 186.1 L662.8 186.3 L663.3 186.3 L663.8 186.3 L664.3 186.4 L664.8 186.4 L665.3 186.4 L665.8 186.5 L666.3 186.5 L666.8 186.5 L667.3 186.5 L667.8 186.5 L668.3 186.6 L668.8 186.5 L669.3 186.5 L669.8 186.5 L670.3 186.4 L670.8 186.4 L671.3 186.4 L671.8 186.4" fill="none" stroke="#78c47c" stroke-width="1.7" stroke-linejoin="round"/>
<path d="M362.3 207.2 L362.8 207.2 L363.3 207.2 L363.8 207.2 L364.3 207.1 L364.8 207.2 L365.3 207.1 L365.8 207.2 L366.3 207.2 L366.8 207.2 L367.3 207.3 L367.8 207.3 L368.3 207.2 L368.8 207.1 L369.3 207.1 L369.8 207.1 L370.3 207.2 L370.8 207.2 L371.3 207.2 L371.8 207.1 L372.3 207.1 L372.8 207 L373.3 206.9 L373.8 206.9 L374.3 206.7 L374.8 206.5 L375.3 206.3 L375.8 206.1 L376.3 205.9 L376.8 205.7 L377.3 205.5 L377.8 205.2 L378.3 205 L378.8 204.8 L379.3 204.7 L379.8 204.6 L380.3 204.5 L380.8 204.4 L381.3 204.5 L381.8 204.6 L382.3 204.8 L382.8 205 L383.3 205.2 L383.8 205.4 L384.3 205.5 L384.8 205.6 L385.3 205.6 L385.8 205.6 L386.3 205.4 L386.8 205.3 L387.3 205.2 L387.8 205 L388.3 204.8 L388.8 204.7 L389.3 204.5 L389.8 204.3 L390.3 204.3 L390.8 204.4 L391.3 204.6 L391.8 204.8 L392.3 205.1 L392.8 205.3 L393.3 205.5 L393.8 205.8 L394.3 206 L394.8 206.3 L395.3 206.5 L395.8 206.7 L396.3 206.8 L396.8 206.9 L397.3 207 L397.8 207 L398.3 207 L398.8 206.8 L399.3 206.4 L399.8 205.7 L400.3 204.7 L400.8 203.3 L401.3 201.6 L401.8 199.3 L402.3 197 L402.8 194.7 L403.3 192.6 L403.8 191.2 L404.3 190.7 L404.8 191.1 L405.3 192.4 L405.8 194.4 L406.3 196.8 L406.8 199.2 L407.3 201.4 L407.8 203.2 L408.3 204.6 L408.8 205.6 L409.3 206.3 L409.8 206.7 L410.3 206.9 L410.8 207.1 L411.3 207.2 L411.8 207.2 L412.3 207.2 L412.8 207.3 L413.3 207.3 L413.8 207.2 L414.3 207.2 L414.8 207.2 L415.3 207.2 L415.8 207.2 L416.3 207.2 L416.8 207.2 L417.3 207.2 L417.8 207.2 L418.3 207.1 L418.8 207.1 L419.3 207.1 L419.8 207.2 L420.3 207.2 L420.8 207.2 L421.3 207.2 L421.8 207.2 L422.3 207.2 L422.8 207.2 L423.3 207.2 L423.8 207.2 L424.3 207.2 L424.8 207.2 L425.3 207.2 L425.8 207.2 L426.3 207.2 L426.8 207.1 L427.3 207.2 L427.8 207.1 L428.3 207.1 L428.8 207.1 L429.3 207.2 L429.8 207.1 L430.3 207.1 L430.8 207 L431.3 206.9 L431.8 206.7 L432.3 206.7 L432.8 206.6 L433.3 206.6 L433.8 206.5 L434.3 206.6 L434.8 206.5 L435.3 206.5 L435.8 206.6 L436.3 206.6 L436.8 206.6 L437.3 206.6 L437.8 206.6 L438.3 206.7 L438.8 206.7 L439.3 206.7 L439.8 206.8 L440.3 206.9 L440.8 207 L441.3 207.1 L441.8 207 L442.3 207.1 L442.8 207.2 L443.3 207.2 L443.8 207.1 L444.3 207.1 L444.8 207.1 L445.3 207.1 L445.8 207.1 L446.3 207.1 L446.8 207.2 L447.3 207.2 L447.8 207.2 L448.3 207.2 L448.8 207.3 L449.3 207.2 L449.8 207.2 L450.3 207.2 L450.8 207.2 L451.3 207.1 L451.8 207 L452.3 206.8 L452.8 206.6 L453.3 206.4 L453.8 206.2 L454.3 206.1 L454.8 206 L455.3 205.9 L455.8 205.7 L456.3 205.5 L456.8 205.4 L457.3 205.2 L457.8 205.1 L458.3 205 L458.8 205.1 L459.3 205.2 L459.8 205.5 L460.3 205.5 L460.8 205.6 L461.3 205.7 L461.8 205.7 L462.3 205.6 L462.8 205.6 L463.3 205.6 L463.8 205.4 L464.3 205.2 L464.8 204.8 L465.3 204.4 L465.8 204 L466.3 203.5 L466.8 203 L467.3 202.6 L467.8 202.3 L468.3 201.9 L468.8 201.5 L469.3 201.3 L469.8 201.2 L470.3 201.2 L470.8 201.4 L471.3 201.7 L471.8 202.2 L472.3 202.7 L472.8 203.3 L473.3 203.8 L473.8 204.3 L474.3 204.8 L474.8 205.3 L475.3 205.7 L475.8 205.9 L476.3 206.3 L476.8 206.5 L477.3 206.7 L477.8 206.8 L478.3 207 L478.8 207 L479.3 207.1 L479.8 207.2 L480.3 207.3 L480.8 207.3 L481.3 207.3 L481.8 207.3 L482.3 207.2 L482.8 207.1 L483.3 207.1 L483.8 207.1 L484.3 207.1 L484.8 207.2 L485.3 207.2 L485.8 207.2 L486.3 207.3 L486.8 207.4 L487.3 207.4 L487.8 207.3 L488.3 207.3 L488.8 207.3 L489.3 207.3 L489.8 207.2 L490.3 207.2 L490.8 207.2 L491.3 207.2 L491.8 207.2 L492.3 207.2 L492.8 207.1 L493.3 207 L493.8 206.9 L494.3 206.6 L494.8 206.3 L495.3 206 L495.8 205.5 L496.3 204.9 L496.8 204.2 L497.3 203.5 L497.8 202.7 L498.3 202 L498.8 201.3 L499.3 200.7 L499.8 200.3 L500.3 200.2 L500.8 200.4 L501.3 200.7 L501.8 201.2 L502.3 201.9 L502.8 202.5 L503.3 203.2 L503.8 203.8 L504.3 204.5 L504.8 205.1 L505.3 205.7 L505.8 206 L506.3 206.3 L506.8 206.6 L507.3 206.7 L507.8 206.8 L508.3 207 L508.8 207.1 L509.3 207.2 L509.8 207.2 L510.3 207.2 L510.8 207.2 L511.3 207.2 L511.8 207.2 L512.3 207.2 L512.8 207.2 L513.3 207.3 L513.8 207.2 L514.3 207.2 L514.8 207.3 L515.3 207.3 L515.8 207.2 L516.3 207.2 L516.8 207 L517.3 206.9 L517.8 207 L518.3 206.8 L518.8 206.7 L519.3 206.7 L519.8 206.6 L520.3 206.4 L520.8 206.2 L521.3 206.1 L521.8 205.9 L522.3 205.7 L522.8 205.6 L523.3 205.4 L523.8 205.2 L524.3 205.1 L524.8 204.9 L525.3 204.8 L525.8 204.7 L526.3 204.6 L526.8 204.5 L527.3 204.6 L527.8 204.5 L528.3 204.5 L528.8 204.7 L529.3 204.9 L529.8 205.1 L530.3 205.3 L530.8 205.6 L531.3 205.8 L531.8 206 L532.3 206.1 L532.8 206.4 L533.3 206.5 L533.8 206.6 L534.3 206.7 L534.8 206.9 L535.3 206.9 L535.8 207 L536.3 207 L536.8 207 L537.3 207.1 L537.8 207.1 L538.3 207.1 L538.8 207.2 L539.3 207.2 L539.8 207.2 L540.3 207.2 L540.8 207.3 L541.3 207.2 L541.8 207.2 L542.3 207.2 L542.8 207.2 L543.3 207.2 L543.8 207.2 L544.3 207.3 L544.8 207.4 L545.3 207.4 L545.8 207.3 L546.3 207.3 L546.8 207.2 L547.3 207.2 L547.8 207.2 L548.3 207.2 L548.8 207.2 L549.3 207.2 L549.8 207.2 L550.3 207.3 L550.8 207.2 L551.3 207.3 L551.8 207.3 L552.3 207.3 L552.8 207.2 L553.3 207.3 L553.8 207.3 L554.3 207.4 L554.8 207.3 L555.3 207.4 L555.8 207.4 L556.3 207.3 L556.8 207.2 L557.3 207.3 L557.8 207.2 L558.3 207.2 L558.8 207.2 L559.3 207.3 L559.8 207.3 L560.3 207.2 L560.8 207.2 L561.3 207.2 L561.8 207.2 L562.3 207.2 L562.8 207.2 L563.3 207.1 L563.8 207.2 L564.3 207.2 L564.8 207.1 L565.3 207.1 L565.8 207.1 L566.3 207.1 L566.8 207.1 L567.3 207.1 L567.8 207.1 L568.3 207 L568.8 207 L569.3 207 L569.8 207.1 L570.3 207.2 L570.8 207.2 L571.3 207.2 L571.8 207.2 L572.3 207.2 L572.8 207.2 L573.3 207.2 L573.8 207.2 L574.3 207.2 L574.8 207.3 L575.3 207.3 L575.8 207.3 L576.3 207.3 L576.8 207.2 L577.3 207.2 L577.8 207.2 L578.3 207.1 L578.8 207.1 L579.3 207.1 L579.8 207.1 L580.3 207.1 L580.8 207.1 L581.3 207.2 L581.8 207.2 L582.3 207.3 L582.8 207.4 L583.3 207.4 L583.8 207.3 L584.3 207.2 L584.8 207.1 L585.3 207 L585.8 207 L586.3 206.9 L586.8 206.9 L587.3 206.9 L587.8 206.9 L588.3 206.8 L588.8 206.9 L589.3 206.7 L589.8 206.6 L590.3 206.4 L590.8 206.3 L591.3 206.2 L591.8 206.1 L592.3 205.9 L592.8 205.8 L593.3 205.7 L593.8 205.6 L594.3 205.5 L594.8 205.4 L595.3 205.4 L595.8 205.4 L596.3 205.4 L596.8 205.5 L597.3 205.6 L597.8 205.7 L598.3 205.8 L598.8 205.8 L599.3 205.8 L599.8 205.9 L600.3 205.8 L600.8 205.7 L601.3 205.5 L601.8 205.3 L602.3 205 L602.8 204.6 L603.3 204.3 L603.8 203.8 L604.3 203.5 L604.8 203.2 L605.3 203 L605.8 202.8 L606.3 202.9 L606.8 202.9 L607.3 203.1 L607.8 203.3 L608.3 203.7 L608.8 204.1 L609.3 204.5 L609.8 204.8 L610.3 205.2 L610.8 205.6 L611.3 205.8 L611.8 206.1 L612.3 206.3 L612.8 206.5 L613.3 206.7 L613.8 206.9 L614.3 207 L614.8 207.1 L615.3 207.1 L615.8 207.3 L616.3 207.3 L616.8 207.3 L617.3 207.4 L617.8 207.3 L618.3 207.2 L618.8 207.2 L619.3 207.2 L619.8 207.1 L620.3 207.1 L620.8 207.1 L621.3 207.1 L621.8 207.1 L622.3 207.1 L622.8 207.1 L623.3 207.1 L623.8 207.2 L624.3 207.2 L624.8 207.2 L625.3 207.3 L625.8 207.3 L626.3 207.3 L626.8 207.3 L627.3 207.3 L627.8 207.2 L628.3 207.2 L628.8 207.1 L629.3 207.2 L629.8 207.1 L630.3 207.2 L630.8 207.2 L631.3 207.2 L631.8 207.1 L632.3 207.1 L632.8 207 L633.3 207.1 L633.8 207.2 L634.3 207.2 L634.8 207.2 L635.3 207.2 L635.8 207.2 L636.3 207.2 L636.8 207.2 L637.3 207.2 L637.8 207.2 L638.3 207.3 L638.8 207.3 L639.3 207.3 L639.8 207.3 L640.3 207.4 L640.8 207.3 L641.3 207.2 L641.8 207.1 L642.3 207 L642.8 206.8 L643.3 206.8 L643.8 206.9 L644.3 206.9 L644.8 207 L645.3 207.2 L645.8 207.2 L646.3 207.2 L646.8 207.1 L647.3 207.1 L647.8 206.9 L648.3 206.7 L648.8 206.4 L649.3 206.1 L649.8 205.7 L650.3 205.3 L650.8 204.8 L651.3 204.4 L651.8 203.7 L652.3 203 L652.8 202.2 L653.3 201.4 L653.8 200.8 L654.3 200.4 L654.8 200.1 L655.3 200.1 L655.8 200.2 L656.3 200.6 L656.8 201 L657.3 201.6 L657.8 202.3 L658.3 203 L658.8 203.7 L659.3 204.4 L659.8 205.1 L660.3 205.6 L660.8 206 L661.3 206.4 L661.8 206.6 L662.3 206.9 L662.8 207 L663.3 207.2 L663.8 207.2 L664.3 207.3 L664.8 207.2 L665.3 207.3 L665.8 207.3 L666.3 207.3 L666.8 207.2 L667.3 207.3 L667.8 207.2 L668.3 207.2 L668.8 207.2 L669.3 207.3 L669.8 207.2 L670.3 207.3 L670.8 207.4 L671.3 207.4 L671.8 207.4" fill="none" stroke="#b8d860" stroke-width="1.7" stroke-linejoin="round"/>
<path d="M362.3 231.8 L362.8 231.7 L363.3 231.8 L363.8 231.7 L364.3 231.7 L364.8 231.6 L365.3 231.7 L365.8 231.6 L366.3 231.7 L366.8 231.6 L367.3 231.7 L367.8 231.7 L368.3 231.7 L368.8 231.7 L369.3 231.8 L369.8 231.7 L370.3 231.7 L370.8 231.6 L371.3 231.6 L371.8 231.6 L372.3 231.5 L372.8 231.5 L373.3 231.4 L373.8 231.2 L374.3 230.9 L374.8 230.7 L375.3 230.4 L375.8 230.2 L376.3 229.9 L376.8 229.7 L377.3 229.4 L377.8 229.2 L378.3 228.8 L378.8 228.7 L379.3 228.5 L379.8 228.5 L380.3 228.5 L380.8 228.6 L381.3 228.7 L381.8 228.9 L382.3 229.2 L382.8 229.4 L383.3 229.6 L383.8 229.8 L384.3 229.9 L384.8 230 L385.3 230 L385.8 230 L386.3 229.8 L386.8 229.6 L387.3 229.4 L387.8 229.1 L388.3 228.8 L388.8 228.7 L389.3 228.5 L389.8 228.4 L390.3 228.4 L390.8 228.5 L391.3 228.7 L391.8 228.9 L392.3 229.2 L392.8 229.5 L393.3 229.8 L393.8 230.2 L394.3 230.4 L394.8 230.8 L395.3 231 L395.8 231.2 L396.3 231.4 L396.8 231.4 L397.3 231.4 L397.8 231.4 L398.3 231.4 L398.8 231.1 L399.3 230.8 L399.8 230.1 L400.3 228.9 L400.8 227.2 L401.3 225.1 L401.8 222.4 L402.3 219.4 L402.8 216.5 L403.3 214 L403.8 212.3 L404.3 211.6 L404.8 212.2 L405.3 213.8 L405.8 216.2 L406.3 219 L406.8 222 L407.3 224.6 L407.8 226.9 L408.3 228.7 L408.8 229.8 L409.3 230.6 L409.8 231.2 L410.3 231.5 L410.8 231.6 L411.3 231.7 L411.8 231.8 L412.3 231.7 L412.8 231.7 L413.3 231.8 L413.8 231.8 L414.3 231.8 L414.8 231.9 L415.3 231.8 L415.8 231.7 L416.3 231.8 L416.8 231.7 L417.3 231.7 L417.8 231.6 L418.3 231.5 L418.8 231.5 L419.3 231.5 L419.8 231.5 L420.3 231.7 L420.8 231.8 L421.3 231.8 L421.8 232 L422.3 232 L422.8 232 L423.3 231.9 L423.8 231.9 L424.3 231.8 L424.8 231.8 L425.3 231.7 L425.8 231.7 L426.3 231.6 L426.8 231.6 L427.3 231.5 L427.8 231.5 L428.3 231.5 L428.8 231.6 L429.3 231.5 L429.8 231.6 L430.3 231.5 L430.8 231.5 L431.3 231.4 L431.8 231.4 L432.3 231.3 L432.8 231.3 L433.3 231.2 L433.8 231.3 L434.3 231.2 L434.8 231.2 L435.3 231.2 L435.8 231.2 L436.3 231.2 L436.8 231.2 L437.3 231.2 L437.8 231.2 L438.3 231.2 L438.8 231.2 L439.3 231.2 L439.8 231.1 L440.3 231.2 L440.8 231.2 L441.3 231.3 L441.8 231.3 L442.3 231.4 L442.8 231.4 L443.3 231.4 L443.8 231.4 L444.3 231.6 L444.8 231.6 L445.3 231.7 L445.8 231.8 L446.3 231.8 L446.8 231.8 L447.3 231.8 L447.8 231.7 L448.3 231.7 L448.8 231.7 L449.3 231.6 L449.8 231.5 L450.3 231.6 L450.8 231.6 L451.3 231.5 L451.8 231.4 L452.3 231.3 L452.8 231.1 L453.3 231 L453.8 230.9 L454.3 230.8 L454.8 230.6 L455.3 230.4 L455.8 230.2 L456.3 229.9 L456.8 229.7 L457.3 229.6 L457.8 229.5 L458.3 229.5 L458.8 229.5 L459.3 229.5 L459.8 229.5 L460.3 229.5 L460.8 229.5 L461.3 229.6 L461.8 229.7 L462.3 229.7 L462.8 229.7 L463.3 229.7 L463.8 229.6 L464.3 229.2 L464.8 228.9 L465.3 228.5 L465.8 227.9 L466.3 227.4 L466.8 226.8 L467.3 226.3 L467.8 225.8 L468.3 225.3 L468.8 225 L469.3 224.9 L469.8 224.9 L470.3 224.9 L470.8 225.1 L471.3 225.5 L471.8 226 L472.3 226.5 L472.8 227.1 L473.3 227.7 L473.8 228.3 L474.3 228.9 L474.8 229.5 L475.3 230 L475.8 230.5 L476.3 230.8 L476.8 231.1 L477.3 231.3 L477.8 231.5 L478.3 231.5 L478.8 231.5 L479.3 231.5 L479.8 231.6 L480.3 231.5 L480.8 231.6 L481.3 231.7 L481.8 231.8 L482.3 231.8 L482.8 231.8 L483.3 231.8 L483.8 231.7 L484.3 231.7 L484.8 231.6 L485.3 231.6 L485.8 231.7 L486.3 231.8 L486.8 231.7 L487.3 231.8 L487.8 231.8 L488.3 231.7 L488.8 231.7 L489.3 231.7 L489.8 231.7 L490.3 231.8 L490.8 231.7 L491.3 231.7 L491.8 231.8 L492.3 231.7 L492.8 231.6 L493.3 231.4 L493.8 231.1 L494.3 230.8 L494.8 230.5 L495.3 230 L495.8 229.5 L496.3 228.9 L496.8 228 L497.3 227.1 L497.8 226.2 L498.3 225.3 L498.8 224.6 L499.3 224.1 L499.8 223.7 L500.3 223.6 L500.8 223.7 L501.3 224.1 L501.8 224.7 L502.3 225.4 L502.8 226.2 L503.3 227.1 L503.8 227.9 L504.3 228.7 L504.8 229.5 L505.3 230.1 L505.8 230.4 L506.3 230.8 L506.8 231.1 L507.3 231.2 L507.8 231.4 L508.3 231.5 L508.8 231.6 L509.3 231.6 L509.8 231.5 L510.3 231.6 L510.8 231.7 L511.3 231.7 L511.8 231.8 L512.3 231.7 L512.8 231.8 L513.3 231.7 L513.8 231.8 L514.3 231.7 L514.8 231.7 L515.3 231.6 L515.8 231.6 L516.3 231.5 L516.8 231.4 L517.3 231.4 L517.8 231.4 L518.3 231.3 L518.8 231.3 L519.3 231.2 L519.8 231 L520.3 230.8 L520.8 230.5 L521.3 230.3 L521.8 230.2 L522.3 230 L522.8 229.7 L523.3 229.5 L523.8 229.2 L524.3 229 L524.8 228.8 L525.3 228.7 L525.8 228.5 L526.3 228.4 L526.8 228.3 L527.3 228.4 L527.8 228.5 L528.3 228.7 L528.8 228.8 L529.3 229 L529.8 229.2 L530.3 229.4 L530.8 229.6 L531.3 229.9 L531.8 230.1 L532.3 230.4 L532.8 230.6 L533.3 230.8 L533.8 230.9 L534.3 231 L534.8 231.1 L535.3 231.2 L535.8 231.2 L536.3 231.3 L536.8 231.4 L537.3 231.5 L537.8 231.7 L538.3 231.8 L538.8 231.9 L539.3 231.9 L539.8 231.9 L540.3 231.8 L540.8 231.8 L541.3 231.8 L541.8 231.7 L542.3 231.7 L542.8 231.7 L543.3 231.7 L543.8 231.7 L544.3 231.7 L544.8 231.8 L545.3 231.7 L545.8 231.7 L546.3 231.7 L546.8 231.6 L547.3 231.6 L547.8 231.7 L548.3 231.7 L548.8 231.7 L549.3 231.7 L549.8 231.8 L550.3 231.8 L550.8 231.8 L551.3 231.7 L551.8 231.7 L552.3 231.6 L552.8 231.6 L553.3 231.7 L553.8 231.7 L554.3 231.7 L554.8 231.7 L555.3 231.6 L555.8 231.6 L556.3 231.6 L556.8 231.6 L557.3 231.6 L557.8 231.6 L558.3 231.6 L558.8 231.6 L559.3 231.7 L559.8 231.7 L560.3 231.7 L560.8 231.7 L561.3 231.7 L561.8 231.6 L562.3 231.6 L562.8 231.6 L563.3 231.6 L563.8 231.7 L564.3 231.7 L564.8 231.7 L565.3 231.7 L565.8 231.7 L566.3 231.7 L566.8 231.8 L567.3 231.8 L567.8 231.8 L568.3 231.8 L568.8 231.8 L569.3 231.7 L569.8 231.8 L570.3 231.7 L570.8 231.7 L571.3 231.8 L571.8 231.8 L572.3 231.7 L572.8 231.7 L573.3 231.9 L573.8 231.8 L574.3 231.8 L574.8 231.9 L575.3 231.9 L575.8 231.8 L576.3 231.8 L576.8 231.7 L577.3 231.7 L577.8 231.6 L578.3 231.6 L578.8 231.6 L579.3 231.6 L579.8 231.6 L580.3 231.6 L580.8 231.7 L581.3 231.7 L581.8 231.6 L582.3 231.6 L582.8 231.6 L583.3 231.5 L583.8 231.5 L584.3 231.6 L584.8 231.7 L585.3 231.7 L585.8 231.8 L586.3 231.8 L586.8 231.7 L587.3 231.5 L587.8 231.5 L588.3 231.4 L588.8 231.3 L589.3 231.2 L589.8 231 L590.3 230.8 L590.8 230.6 L591.3 230.4 L591.8 230.2 L592.3 230 L592.8 229.9 L593.3 229.8 L593.8 229.7 L594.3 229.7 L594.8 229.6 L595.3 229.6 L595.8 229.7 L596.3 229.7 L596.8 229.8 L597.3 229.9 L597.8 230 L598.3 230 L598.8 230 L599.3 230 L599.8 230 L600.3 229.9 L600.8 229.7 L601.3 229.4 L601.8 229.1 L602.3 228.7 L602.8 228.4 L603.3 228.1 L603.8 227.7 L604.3 227.4 L604.8 227.1 L605.3 226.9 L605.8 226.8 L606.3 226.8 L606.8 226.9 L607.3 227.2 L607.8 227.5 L608.3 227.8 L608.8 228.1 L609.3 228.5 L609.8 229 L610.3 229.5 L610.8 229.9 L611.3 230.3 L611.8 230.6 L612.3 230.8 L612.8 230.9 L613.3 231.1 L613.8 231.2 L614.3 231.3 L614.8 231.5 L615.3 231.6 L615.8 231.6 L616.3 231.7 L616.8 231.7 L617.3 231.7 L617.8 231.7 L618.3 231.6 L618.8 231.7 L619.3 231.7 L619.8 231.7 L620.3 231.7 L620.8 231.8 L621.3 231.7 L621.8 231.6 L622.3 231.6 L622.8 231.6 L623.3 231.7 L623.8 231.6 L624.3 231.7 L624.8 231.6 L625.3 231.6 L625.8 231.6 L626.3 231.7 L626.8 231.8 L627.3 231.8 L627.8 231.9 L628.3 231.8 L628.8 231.6 L629.3 231.5 L629.8 231.5 L630.3 231.4 L630.8 231.5 L631.3 231.6 L631.8 231.7 L632.3 231.7 L632.8 231.8 L633.3 231.8 L633.8 231.8 L634.3 231.8 L634.8 231.7 L635.3 231.8 L635.8 231.8 L636.3 231.7 L636.8 231.8 L637.3 231.9 L637.8 231.8 L638.3 231.8 L638.8 231.8 L639.3 231.7 L639.8 231.7 L640.3 231.7 L640.8 231.6 L641.3 231.6 L641.8 231.6 L642.3 231.5 L642.8 231.5 L643.3 231.5 L643.8 231.5 L644.3 231.6 L644.8 231.7 L645.3 231.7 L645.8 231.6 L646.3 231.7 L646.8 231.6 L647.3 231.4 L647.8 231.2 L648.3 231 L648.8 230.7 L649.3 230.3 L649.8 229.9 L650.3 229.3 L650.8 228.8 L651.3 228 L651.8 227.3 L652.3 226.5 L652.8 225.7 L653.3 225 L653.8 224.4 L654.3 223.7 L654.8 223.4 L655.3 223.5 L655.8 223.6 L656.3 223.9 L656.8 224.5 L657.3 225.3 L657.8 226.1 L658.3 227 L658.8 227.8 L659.3 228.5 L659.8 229.1 L660.3 229.7 L660.8 230.2 L661.3 230.6 L661.8 231 L662.3 231.2 L662.8 231.3 L663.3 231.5 L663.8 231.6 L664.3 231.6 L664.8 231.7 L665.3 231.7 L665.8 231.7 L666.3 231.7 L666.8 231.7 L667.3 231.7 L667.8 231.8 L668.3 231.8 L668.8 231.7 L669.3 231.7 L669.8 231.7 L670.3 231.6 L670.8 231.6 L671.3 231.6 L671.8 231.7" fill="none" stroke="#f0e058" stroke-width="1.7" stroke-linejoin="round"/>
<rect x="362.3" y="21" width="309.7" height="228.5" fill="none" stroke="#222" stroke-width="1.6"/>
<line x1="362.3" y1="249.5" x2="362.3" y2="253.5" stroke="#222" stroke-width="1.3" />
<text x="0" y="0" transform="translate(362.3 266.8) scale(1.05 1)" font-size="11.5" text-anchor="middle" fill="#111" style="font-weight:bold;" >100</text>
<line x1="406.54" y1="249.5" x2="406.54" y2="253.5" stroke="#222" stroke-width="1.3" />
<text x="0" y="0" transform="translate(406.54 266.8) scale(1.05 1)" font-size="11.5" text-anchor="middle" fill="#111" style="font-weight:bold;" >200</text>
<line x1="450.79" y1="249.5" x2="450.79" y2="253.5" stroke="#222" stroke-width="1.3" />
<text x="0" y="0" transform="translate(450.79 266.8) scale(1.05 1)" font-size="11.5" text-anchor="middle" fill="#111" style="font-weight:bold;" >300</text>
<line x1="495.03" y1="249.5" x2="495.03" y2="253.5" stroke="#222" stroke-width="1.3" />
<text x="0" y="0" transform="translate(495.03 266.8) scale(1.05 1)" font-size="11.5" text-anchor="middle" fill="#111" style="font-weight:bold;" >400</text>
<line x1="539.27" y1="249.5" x2="539.27" y2="253.5" stroke="#222" stroke-width="1.3" />
<text x="0" y="0" transform="translate(539.27 266.8) scale(1.05 1)" font-size="11.5" text-anchor="middle" fill="#111" style="font-weight:bold;" >500</text>
<line x1="583.51" y1="249.5" x2="583.51" y2="253.5" stroke="#222" stroke-width="1.3" />
<text x="0" y="0" transform="translate(583.51 266.8) scale(1.05 1)" font-size="11.5" text-anchor="middle" fill="#111" style="font-weight:bold;" >600</text>
<line x1="627.76" y1="249.5" x2="627.76" y2="253.5" stroke="#222" stroke-width="1.3" />
<text x="0" y="0" transform="translate(627.76 266.8) scale(1.05 1)" font-size="11.5" text-anchor="middle" fill="#111" style="font-weight:bold;" >700</text>
<line x1="672" y1="249.5" x2="672" y2="253.5" stroke="#222" stroke-width="1.3" />
<text x="0" y="0" transform="translate(672 266.8) scale(1.05 1)" font-size="11.5" text-anchor="middle" fill="#111" style="font-weight:bold;" >800</text>
<line x1="384.42" y1="249.5" x2="384.42" y2="251.7" stroke="#222" stroke-width="1.1" />
<line x1="428.66" y1="249.5" x2="428.66" y2="251.7" stroke="#222" stroke-width="1.1" />
<line x1="472.91" y1="249.5" x2="472.91" y2="251.7" stroke="#222" stroke-width="1.1" />
<line x1="517.15" y1="249.5" x2="517.15" y2="251.7" stroke="#222" stroke-width="1.1" />
<line x1="561.39" y1="249.5" x2="561.39" y2="251.7" stroke="#222" stroke-width="1.1" />
<line x1="605.64" y1="249.5" x2="605.64" y2="251.7" stroke="#222" stroke-width="1.1" />
<line x1="649.88" y1="249.5" x2="649.88" y2="251.7" stroke="#222" stroke-width="1.1" />
<text x="330.2" y="22.2" font-size="18.8" text-anchor="start" fill="#111" style="font-weight:bold;" >(b)</text>
<text x="0" y="0" font-size="14" text-anchor="middle" dominant-baseline="central" fill="#111" style="font-weight:bold;" transform="translate(343.3 135.3) rotate(-90)" >Intensity (a.u.)</text>
<text x="0" y="0" transform="translate(517.5 288.5) scale(1.09 1)" font-size="12.5" text-anchor="middle" fill="#111" style="font-weight:bold;" >Raman shift (cm<tspan dy="-4.5" font-size="8.5">-1</tspan><tspan dy="4.5">)</tspan></text>
<text x="387" y="40.6" font-size="13.5" text-anchor="middle" fill="#bcaed6" style="font-weight:bold;" >R1</text>
<text x="474.3" y="40.6" font-size="13.5" text-anchor="middle" fill="#7aac2c" style="font-weight:bold;" >R2</text>
<text x="602.7" y="40.6" font-size="13.5" text-anchor="middle" fill="#e0d648" style="font-weight:bold;" >R3</text>
<text x="398" y="14.6" font-size="13.6" fill="#111" style="font-weight:bold" text-anchor="start">A<tspan dy="3.8" font-size="9">g2</tspan></text>
<text x="490.4" y="14.6" font-size="13.6" fill="#111" style="font-weight:bold" text-anchor="start">A<tspan dy="3.8" font-size="9">g6</tspan></text>
<text x="642.8" y="14.6" font-size="13.6" fill="#111" style="font-weight:bold" text-anchor="start">A<tspan dy="3.8" font-size="9">g10</tspan></text>
<path d="M37.6 328.3 L38 327.6 L38.4 327 L38.8 326.5 L39.2 326.2 L39.6 326 L40 325.7 L40.4 325.6 L40.8 325.5 L41.2 325.5 L41.6 325.8 L42 326.2 L42.4 326.6 L42.8 326.9 L43.2 326.4 L43.6 323.8 L44 321.5 L44.4 321.5 L44.8 321.9 L45.2 322.5 L45.6 323 L46 323.2 L46.4 321.3 L46.8 318.2 L47.2 317.2 L47.6 316.8 L48 316.5 L48.4 316.3 L48.8 316.1 L49.2 316.1 L49.6 316 L50 316.1 L50.4 316.4 L50.8 317 L51.2 317.5 L51.6 318.1 L52 318.8 L52.4 319.4 L52.8 319.9 L53.2 320.4 L53.6 321 L54 321.8 L54.4 322.8 L54.8 324.9 L55.2 327.4 L55.6 329.2 L56 330.6 L56.4 331.8 L56.8 332.8 L57.2 334.1 L57.6 335.6 L58 337.7 L58.4 340 L58.8 341.7 L59.2 342.7 L59.6 343.4 L60 344.1 L60.4 344.7 L60.8 345.6 L61.2 346.8 L61.6 348.5 L62 350.4 L62.4 352.4 L62.8 354.3 L63.2 356.4 L63.6 358.6 L64 360.9 L64.4 363.1 L64.8 365.6 L65.2 368.4 L65.6 371.6 L66 375.5 L66.4 380 L66.8 385.8 L67.2 392.8 L67.6 399.9 L68 406.5 L68.4 413.2 L68.8 420.3 L69.2 428.3 L69.6 436.9 L70 445.1 L70.4 452.9 L70.8 459.9 L71.2 464.9 L71.6 468.7 L72 470.8 L72.4 472.5 L72.8 473.7 L73.2 474.2 L73.6 474.3 L74 474.4 L74.4 474.4 L74.8 474.4 L75.2 474.5 L75.6 474.6 L76 474.6 L76.4 474.7 L76.8 474.8 L77.2 474.8 L77.6 474.9 L78 475 L78.4 475.1 L78.8 475.2 L79.2 475.3 L79.6 475.4 L80 475.4 L80.4 475.4 L80.8 475.5 L81.2 475.5 L81.6 475.6 L82 475.7 L82.4 475.8 L82.8 475.8 L83.2 475.9 L83.6 476 L84 476.2 L84.4 476.3 L84.8 476.4 L85.2 476.5 L85.6 476.6 L86 476.7 L86.4 476.9 L86.8 477.1 L87.2 477.3 L87.6 477.7 L88 477.9 L88.4 478.2 L88.8 478.4 L89.2 478.7 L89.6 478.9 L90 479.2 L90.4 479.6 L90.8 480 L91.2 480.4 L91.6 480.9 L92 481.4 L92.4 481.8 L92.8 482.3 L93.2 482.7 L93.6 483.2 L94 483.6 L94.4 484.1 L94.8 484.6 L95.2 485.1 L95.6 485.6 L96 486.1 L96.4 486.6 L96.8 487.1 L97.2 487.6 L97.6 488.1 L98 488.6 L98.4 489.2 L98.8 489.8 L99.2 490.4 L99.6 491 L100 491.6 L100.4 492.1 L100.8 492.5 L101.2 493 L101.6 493.5 L102 493.9 L102.4 494.3 L102.8 494.8 L103.2 495.3 L103.6 495.6 L104 495.9 L104.4 496.3 L104.8 496.5 L105.2 496.9 L105.6 497.2 L106 497.5 L106.4 497.7 L106.8 498 L107.2 498.3 L107.6 498.5 L108 498.7 L108.4 499 L108.8 499.1 L109.2 499.3 L109.6 499.4 L110 499.7 L110.4 499.8 L110.8 500 L111.2 500.1 L111.6 500.2 L112 500.3 L112.4 500.6 L112.8 500.7 L113.2 500.9 L113.6 501.1 L114 501.3 L114.4 501.4 L114.8 501.5 L115.2 501.6 L115.6 501.7 L116 501.7 L116.4 501.8 L116.8 501.9 L117.2 502 L117.6 502.1 L118 502.3 L118.4 502.3 L118.8 502.4 L119.2 502.5 L119.6 502.6 L120 502.7 L120.4 502.8 L120.8 502.9 L121.2 503 L121.6 503 L122 503 L122.4 503.1 L122.8 503.1 L123.2 503.3 L123.6 503.4 L124 503.5 L124.4 503.6 L124.8 503.7 L125.2 503.7 L125.6 503.7 L126 503.8 L126.4 503.8 L126.8 503.9 L127.2 504 L127.6 504 L128 504.1 L128.4 504.2 L128.8 504.2 L129.2 504.3 L129.6 504.4 L130 504.4 L130.4 504.5 L130.8 504.5 L131.2 504.6 L131.6 504.6 L132 504.7 L132.4 504.6 L132.8 504.7 L133.2 504.6 L133.6 504.6 L134 504.7 L134.4 504.8 L134.8 504.8 L135.2 504.9 L135.6 504.9 L136 504.9 L136.4 504.9 L136.8 505 L137.2 505 L137.6 505 L138 505.1 L138.4 505.1 L138.8 505.1 L139.2 505.2 L139.6 505.3 L140 505.2 L140.4 505.3 L140.8 505.4 L141.2 505.4 L141.6 505.5 L142 505.5 L142.4 505.5 L142.8 505.5 L143.2 505.5 L143.6 505.4 L144 505.5 L144.4 505.6 L144.8 505.6 L145.2 505.6 L145.6 505.7 L146 505.8 L146.4 505.7 L146.8 505.7 L147.2 505.8 L147.6 505.8 L148 505.7 L148.4 505.7 L148.8 505.7 L149.2 505.7 L149.6 505.7 L150 505.7 L150.4 505.7 L150.8 505.7 L151.2 505.7 L151.6 505.6 L152 505.6 L152.4 505.6 L152.8 505.6 L153.2 505.6 L153.6 505.6 L154 505.6 L154.4 505.6 L154.8 505.7 L155.2 505.7 L155.6 505.7 L156 505.7 L156.4 505.7 L156.8 505.6 L157.2 505.6 L157.6 505.6 L158 505.7 L158.4 505.6 L158.8 505.7 L159.2 505.7 L159.6 505.6 L160 505.5 L160.4 505.5 L160.8 505.4 L161.2 505.4 L161.6 505.4 L162 505.4 L162.4 505.4 L162.8 505.5 L163.2 505.5 L163.6 505.5 L164 505.5 L164.4 505.5 L164.8 505.4 L165.2 505.4 L165.6 505.3 L166 505.2 L166.4 505.2 L166.8 505.1 L167.2 505 L167.6 505.1 L168 505.1 L168.4 505.1 L168.8 505 L169.2 505.1 L169.6 505 L170 505 L170.4 505 L170.8 505 L171.2 504.9 L171.6 504.8 L172 504.8 L172.4 504.8 L172.8 504.8 L173.2 504.7 L173.6 504.7 L174 504.6 L174.4 504.6 L174.8 504.5 L175.2 504.5 L175.6 504.6 L176 504.5 L176.4 504.5 L176.8 504.5 L177.2 504.5 L177.6 504.4 L178 504.5 L178.4 504.4 L178.8 504.4 L179.2 504.5 L179.6 504.5 L180 504.4 L180.4 504.4 L180.8 504.4 L181.2 504.4 L181.6 504.5 L182 504.4 L182.4 504.4 L182.8 504.4 L183.2 504.4 L183.6 504.3 L184 504.4 L184.4 504.4 L184.8 504.4 L185.2 504.5 L185.6 504.5 L186 504.5 L186.4 504.5 L186.8 504.6 L187.2 504.6 L187.6 504.5 L188 504.5 L188.4 504.5 L188.8 504.6 L189.2 504.6 L189.6 504.6 L190 504.6 L190.4 504.6 L190.8 504.6 L191.2 504.6 L191.6 504.6 L192 504.6 L192.4 504.6 L192.8 504.6 L193.2 504.6 L193.6 504.6 L194 504.6 L194.4 504.6 L194.8 504.6 L195.2 504.6 L195.6 504.6 L196 504.6 L196.4 504.6 L196.8 504.7 L197.2 504.7 L197.6 504.7 L198 504.7 L198.4 504.7 L198.8 504.7 L199.2 504.8 L199.6 504.9 L200 504.9 L200.4 504.9 L200.8 505 L201.2 505 L201.6 505 L202 505 L202.4 505.1 L202.8 505.1 L203.2 505 L203.6 505 L204 505 L204.4 505 L204.8 505 L205.2 505.2 L205.6 505.1 L206 505.2 L206.4 505.2 L206.8 505.3 L207.2 505.3 L207.6 505.3 L208 505.4 L208.4 505.4 L208.8 505.4 L209.2 505.4 L209.6 505.4 L210 505.4 L210.4 505.4 L210.8 505.4 L211.2 505.4 L211.6 505.5 L212 505.4 L212.4 505.5 L212.8 505.5 L213.2 505.6 L213.6 505.6 L214 505.6 L214.4 505.6 L214.8 505.5 L215.2 505.5 L215.6 505.6 L216 505.6 L216.4 505.6 L216.8 505.7 L217.2 505.7 L217.6 505.8 L218 505.9 L218.4 505.9 L218.8 505.9 L219.2 505.9 L219.6 505.9 L220 505.9 L220.4 505.9 L220.8 505.9 L221.2 506 L221.6 505.9 L222 505.9 L222.4 505.9 L222.8 505.9 L223.2 506 L223.6 506 L224 506 L224.4 506 L224.8 506 L225.2 506 L225.6 506 L226 506 L226.4 506 L226.8 506 L227.2 506 L227.6 506 L228 506 L228.4 506 L228.8 505.9 L229.2 505.9 L229.6 506 L230 506 L230.4 506 L230.8 506 L231.2 506 L231.6 506 L232 505.9 L232.4 505.9 L232.8 506 L233.2 506 L233.6 506 L234 506 L234.4 506 L234.8 506 L235.2 506 L235.6 506 L236 506 L236.4 506 L236.8 506 L237.2 506 L237.6 505.9 L238 505.9 L238.4 506 L238.8 506 L239.2 505.9 L239.6 505.9 L240 505.9 L240.4 505.8 L240.8 505.7 L241.2 505.7 L241.6 505.8 L242 505.7 L242.4 505.8 L242.8 505.8 L243.2 505.8 L243.6 505.8 L244 505.8 L244.4 505.8 L244.8 505.8 L245.2 505.9 L245.6 505.9 L246 505.9 L246.4 505.9 L246.8 505.9 L247.2 505.9 L247.6 505.9 L248 505.9 L248.4 505.9 L248.8 506 L249.2 506 L249.6 505.9 L250 505.9 L250.4 505.9 L250.8 505.9 L251.2 505.8 L251.6 505.8 L252 505.8 L252.4 505.8 L252.8 505.8 L253.2 505.7 L253.6 505.8 L254 505.8 L254.4 505.8 L254.8 505.8 L255.2 505.8 L255.6 505.7 L256 505.7 L256.4 505.7 L256.8 505.7 L257.2 505.7 L257.6 505.8 L258 505.8 L258.4 505.8 L258.8 505.8 L259.2 505.8 L259.6 505.8 L260 505.8 L260.4 505.8 L260.8 505.7 L261.2 505.7 L261.6 505.7 L262 505.7 L262.4 505.7 L262.8 505.6 L263.2 505.6 L263.6 505.6 L264 505.6 L264.4 505.6 L264.8 505.6 L265.2 505.6 L265.6 505.6 L266 505.6 L266.4 505.6 L266.8 505.6 L267.2 505.6 L267.6 505.6 L268 505.6 L268.4 505.7 L268.8 505.7 L269.2 505.8 L269.6 505.8 L270 505.8 L270.4 505.7 L270.8 505.7 L271.2 505.6 L271.6 505.6 L272 505.6 L272.4 505.7 L272.8 505.7 L273.2 505.7 L273.6 505.7 L274 505.6 L274.4 505.5 L274.8 505.5 L275.2 505.5 L275.6 505.5 L276 505.5 L276.4 505.5 L276.8 505.5 L277.2 505.5 L277.6 505.5 L278 505.5 L278.4 505.5 L278.8 505.5 L279.2 505.5 L279.6 505.5 L280 505.5 L280.4 505.6 L280.8 505.6 L281.2 505.6 L281.6 505.6 L282 505.7 L282.4 505.7 L282.8 505.7 L283.2 505.7 L283.6 505.6 L284 505.6 L284.4 505.5 L284.8 505.5 L285.2 505.5 L285.6 505.5 L286 505.5 L286.4 505.5 L286.8 505.5 L287.2 505.6 L287.6 505.6 L288 505.5 L288.4 505.4 L288.8 505.4 L289.2 505.4 L289.6 505.5 L290 505.5 L290.4 505.6 L290.8 505.6 L291.2 505.5 L291.6 505.5 L292 505.5 L292.4 505.4 L292.8 505.3 L293.2 505.4 L293.6 505.4 L294 505.4 L294.4 505.5 L294.8 505.5 L295.2 505.5 L295.6 505.6 L296 505.6 L296.4 505.6 L296.8 505.6 L297.2 505.5 L297.6 505.4 L298 505.4 L298.4 505.4 L298.8 505.3 L299.2 505.3 L299.6 505.3 L300 505.2 L300.4 505.3 L300.8 505.2 L301.2 505.3 L301.6 505.2 L302 505.3 L302.4 505.3 L302.8 505.3 L303.2 505.3 L303.6 505.3 L304 505.4 L304.4 505.4 L304.8 505.4 L305.2 505.4 L305.6 505.4 L306 505.4 L306.4 505.3 L306.8 505.3 L307.2 505.4 L307.6 505.3 L308 505.3 L308.4 505.4 L308.8 505.4 L309.2 505.3 L309.6 505.3 L310 505.3 L310.4 505.2 L310.8 505.2 L311.2 505.2 L311.6 505.3 L312 505.3 L312.4 505.2 L312.8 505.3 L313.2 505.2 L313.6 505.2 L314 505.2 L314.4 505.2 L314.8 505.2 L315.2 505.2 L315.6 505.2 L316 505.2 L316.4 505.2 L316.8 505.2 L317.2 505.1 L317.6 505.2 L318 505.2 L318.4 505.2 L318.8 505.2 L319.2 505.3 L319.6 505.2 L320 505.2 L320.4 505.2" fill="none" stroke="#e41c1c" stroke-width="2" stroke-linejoin="round"/>
<rect x="148.3" y="481" width="77.7" height="42.4" fill="#9fd4f5" opacity="0.38"/>
<rect x="37.4" y="296.8" width="283.4" height="226.6" fill="none" stroke="#222" stroke-width="1.6"/>
<line x1="37.4" y1="523.4" x2="37.4" y2="527.9" stroke="#222" stroke-width="1.3" />
<text x="0" y="0" transform="translate(37.4 541.6) scale(1.05 1)" font-size="11.5" text-anchor="middle" fill="#111" style="font-weight:bold;" >200</text>
<line x1="84.63" y1="523.4" x2="84.63" y2="527.9" stroke="#222" stroke-width="1.3" />
<text x="0" y="0" transform="translate(84.63 541.6) scale(1.05 1)" font-size="11.5" text-anchor="middle" fill="#111" style="font-weight:bold;" >300</text>
<line x1="131.87" y1="523.4" x2="131.87" y2="527.9" stroke="#222" stroke-width="1.3" />
<text x="0" y="0" transform="translate(131.87 541.6) scale(1.05 1)" font-size="11.5" text-anchor="middle" fill="#111" style="font-weight:bold;" >400</text>
<line x1="179.1" y1="523.4" x2="179.1" y2="527.9" stroke="#222" stroke-width="1.3" />
<text x="0" y="0" transform="translate(179.1 541.6) scale(1.05 1)" font-size="11.5" text-anchor="middle" fill="#111" style="font-weight:bold;" >500</text>
<line x1="226.33" y1="523.4" x2="226.33" y2="527.9" stroke="#222" stroke-width="1.3" />
<text x="0" y="0" transform="translate(226.33 541.6) scale(1.05 1)" font-size="11.5" text-anchor="middle" fill="#111" style="font-weight:bold;" >600</text>
<line x1="273.57" y1="523.4" x2="273.57" y2="527.9" stroke="#222" stroke-width="1.3" />
<text x="0" y="0" transform="translate(273.57 541.6) scale(1.05 1)" font-size="11.5" text-anchor="middle" fill="#111" style="font-weight:bold;" >700</text>
<line x1="320.8" y1="523.4" x2="320.8" y2="527.9" stroke="#222" stroke-width="1.3" />
<text x="0" y="0" transform="translate(320.8 541.6) scale(1.05 1)" font-size="11.5" text-anchor="middle" fill="#111" style="font-weight:bold;" >800</text>
<line x1="61.02" y1="523.4" x2="61.02" y2="525.9" stroke="#222" stroke-width="1.1" />
<line x1="108.25" y1="523.4" x2="108.25" y2="525.9" stroke="#222" stroke-width="1.1" />
<line x1="155.48" y1="523.4" x2="155.48" y2="525.9" stroke="#222" stroke-width="1.1" />
<line x1="202.72" y1="523.4" x2="202.72" y2="525.9" stroke="#222" stroke-width="1.1" />
<line x1="249.95" y1="523.4" x2="249.95" y2="525.9" stroke="#222" stroke-width="1.1" />
<line x1="297.18" y1="523.4" x2="297.18" y2="525.9" stroke="#222" stroke-width="1.1" />
<text x="5" y="305" font-size="18.8" text-anchor="start" fill="#111" style="font-weight:bold;" >(c)</text>
<text x="0" y="0" font-size="14" text-anchor="middle" dominant-baseline="central" fill="#111" style="font-weight:bold;" transform="translate(22.8 409.8) rotate(-90)" >Normalized Abs. (a.u.)</text>
<text x="0" y="0" transform="translate(179.5 564.2) scale(1.03 1)" font-size="13.8" text-anchor="middle" fill="#111" style="font-weight:bold;" >Wavelength (nm)</text>
<line x1="183.1" y1="482.2" x2="188.9" y2="469.6" stroke="#a6d8f6" stroke-width="1.7"/>
<path d="M192.8 461.1 L190.56 473.26 L185.1 470.78 Z" fill="#a6d8f6"/>
<rect x="124.4" y="303.4" width="143.8" height="127.7" fill="#e3f3fc" stroke="#444" stroke-width="1"/>
<line x1="136.8" y1="431.1" x2="136.8" y2="433.6" stroke="#333" stroke-width="0.9" />
<text x="136.8" y="443.6" font-size="10.3" text-anchor="middle" fill="#111" style="font-weight:bold;" >450</text>
<line x1="163.08" y1="431.1" x2="163.08" y2="433.6" stroke="#333" stroke-width="0.9" />
<text x="163.08" y="443.6" font-size="10.3" text-anchor="middle" fill="#111" style="font-weight:bold;" >480</text>
<line x1="189.35" y1="431.1" x2="189.35" y2="433.6" stroke="#333" stroke-width="0.9" />
<text x="189.35" y="443.6" font-size="10.3" text-anchor="middle" fill="#111" style="font-weight:bold;" >510</text>
<line x1="215.62" y1="431.1" x2="215.62" y2="433.6" stroke="#333" stroke-width="0.9" />
<text x="215.62" y="443.6" font-size="10.3" text-anchor="middle" fill="#111" style="font-weight:bold;" >540</text>
<line x1="241.9" y1="431.1" x2="241.9" y2="433.6" stroke="#333" stroke-width="0.9" />
<text x="241.9" y="443.6" font-size="10.3" text-anchor="middle" fill="#111" style="font-weight:bold;" >570</text>
<line x1="149.94" y1="431.1" x2="149.94" y2="432.6" stroke="#333" stroke-width="0.8" />
<line x1="176.21" y1="431.1" x2="176.21" y2="432.6" stroke="#333" stroke-width="0.8" />
<line x1="202.49" y1="431.1" x2="202.49" y2="432.6" stroke="#333" stroke-width="0.8" />
<line x1="228.76" y1="431.1" x2="228.76" y2="432.6" stroke="#333" stroke-width="0.8" />
<line x1="255.04" y1="431.1" x2="255.04" y2="432.6" stroke="#333" stroke-width="0.8" />
<text x="196.1" y="459.4" font-size="9.7" text-anchor="middle" fill="#111" style="font-weight:bold;" >Wavelength (nm)</text>
<text x="0" y="0" font-size="9.5" text-anchor="middle" dominant-baseline="central" fill="#111" style="font-weight:bold;" transform="translate(116 367.5) rotate(-90)" >Normalized Abs. (a.u.)</text>
<path d="M124.9 384.3 L125.3 384.5 L125.7 384.7 L126.1 384.8 L126.5 385 L126.9 385.2 L127.3 385.4 L127.7 385.7 L128.1 385.7 L128.5 385.9 L128.9 386 L129.3 386.1 L129.7 386.1 L130.1 386.1 L130.5 386.4 L130.9 386.4 L131.3 386.5 L131.7 386.4 L132.1 386.3 L132.5 386.1 L132.9 385.9 L133.3 385.7 L133.7 385.5 L134.1 385.3 L134.5 385.2 L134.9 384.9 L135.3 384.6 L135.7 384.3 L136.1 384.2 L136.5 384.2 L136.9 384 L137.3 383.6 L137.7 383.3 L138.1 382.9 L138.5 382.7 L138.9 382.5 L139.3 382.4 L139.7 382.2 L140.1 381.9 L140.5 381.7 L140.9 381.4 L141.3 381.4 L141.7 381.3 L142.1 381.4 L142.5 381.3 L142.9 381.1 L143.3 380.9 L143.7 380.7 L144.1 380.7 L144.5 380.8 L144.9 380.7 L145.3 380.7 L145.7 380.5 L146.1 380.5 L146.5 380.5 L146.9 380.3 L147.3 380.2 L147.7 380 L148.1 380 L148.5 380 L148.9 379.8 L149.3 379.6 L149.7 379.3 L150.1 379.2 L150.5 379.2 L150.9 379.2 L151.3 379.1 L151.7 378.9 L152.1 378.9 L152.5 378.6 L152.9 378.4 L153.3 378.2 L153.7 377.9 L154.1 377.7 L154.5 377.4 L154.9 377.2 L155.3 376.8 L155.7 376.6 L156.1 376.4 L156.5 376.2 L156.9 375.9 L157.3 375.7 L157.7 375.3 L158.1 375.1 L158.5 374.7 L158.9 374.5 L159.3 374.2 L159.7 373.8 L160.1 373.6 L160.5 373.3 L160.9 373.1 L161.3 372.7 L161.7 372.4 L162.1 372 L162.5 371.7 L162.9 371.3 L163.3 371.2 L163.7 370.7 L164.1 370.3 L164.5 369.7 L164.9 369.1 L165.3 368.4 L165.7 367.8 L166.1 367.5 L166.5 367.1 L166.9 366.6 L167.3 366 L167.7 365.4 L168.1 364.8 L168.5 364.3 L168.9 363.8 L169.3 363.2 L169.7 362.5 L170.1 361.8 L170.5 361.4 L170.9 360.9 L171.3 360.5 L171.7 360 L172.1 359.5 L172.5 358.9 L172.9 358.5 L173.3 358.1 L173.7 357.7 L174.1 357.3 L174.5 357.1 L174.9 356.8 L175.3 356.6 L175.7 356.2 L176.1 355.9 L176.5 355.7 L176.9 355.3 L177.3 355 L177.7 354.8 L178.1 354.8 L178.5 354.7 L178.9 354.6 L179.3 354.5 L179.7 354.5 L180.1 354.4 L180.5 354.4 L180.9 354.2 L181.3 354.1 L181.7 353.9 L182.1 353.9 L182.5 354 L182.9 354 L183.3 353.8 L183.7 353.8 L184.1 353.9 L184.5 354 L184.9 354 L185.3 354.1 L185.7 354 L186.1 353.9 L186.5 353.7 L186.9 353.8 L187.3 353.8 L187.7 353.8 L188.1 353.8 L188.5 353.9 L188.9 354 L189.3 353.9 L189.7 353.9 L190.1 353.8 L190.5 354 L190.9 354 L191.3 354.1 L191.7 354.1 L192.1 354.1 L192.5 354.1 L192.9 354.1 L193.3 354.1 L193.7 354 L194.1 354 L194.5 353.9 L194.9 353.9 L195.3 354 L195.7 354.1 L196.1 353.9 L196.5 353.9 L196.9 353.8 L197.3 353.8 L197.7 353.7 L198.1 353.6 L198.5 353.7 L198.9 353.6 L199.3 353.6 L199.7 353.5 L200.1 353.3 L200.5 353.2 L200.9 353 L201.3 353 L201.7 352.8 L202.1 352.7 L202.5 352.6 L202.9 352.6 L203.3 352.6 L203.7 352.5 L204.1 352.5 L204.5 352.4 L204.9 352.4 L205.3 352.4 L205.7 352.4 L206.1 352.5 L206.5 352.5 L206.9 352.7 L207.3 352.9 L207.7 353 L208.1 353.2 L208.5 353.4 L208.9 353.6 L209.3 353.8 L209.7 354.1 L210.1 354.2 L210.5 354.4 L210.9 354.5 L211.3 354.6 L211.7 354.9 L212.1 355.3 L212.5 355.8 L212.9 356 L213.3 356.2 L213.7 356.4 L214.1 356.9 L214.5 357.4 L214.9 357.8 L215.3 358 L215.7 358.4 L216.1 358.7 L216.5 359.1 L216.9 359.4 L217.3 359.8 L217.7 360.3 L218.1 360.7 L218.5 361.1 L218.9 361.4 L219.3 361.8 L219.7 362.2 L220.1 362.5 L220.5 362.8 L220.9 363.2 L221.3 363.6 L221.7 363.9 L222.1 364.2 L222.5 364.6 L222.9 364.9 L223.3 365.3 L223.7 365.7 L224.1 365.9 L224.5 366.1 L224.9 366.4 L225.3 366.6 L225.7 366.8 L226.1 367.2 L226.5 367.5 L226.9 367.9 L227.3 368.1 L227.7 368.4 L228.1 368.7 L228.5 369.2 L228.9 369.5 L229.3 369.8 L229.7 369.9 L230.1 370.2 L230.5 370.6 L230.9 370.9 L231.3 371.2 L231.7 371.3 L232.1 371.5 L232.5 371.7 L232.9 372.1 L233.3 372.2 L233.7 372.4 L234.1 372.4 L234.5 372.6 L234.9 372.8 L235.3 373.1 L235.7 373.3 L236.1 373.5 L236.5 373.5 L236.9 373.5 L237.3 373.7 L237.7 373.9 L238.1 374.2 L238.5 374.4 L238.9 374.6 L239.3 374.9 L239.7 375.1 L240.1 375.3 L240.5 375.4 L240.9 375.4 L241.3 375.6 L241.7 375.8 L242.1 376.1 L242.5 376.3 L242.9 376.4 L243.3 376.4 L243.7 376.5 L244.1 376.7 L244.5 376.9 L244.9 377.1 L245.3 377.2 L245.7 377.2 L246.1 377.3 L246.5 377.4 L246.9 377.6 L247.3 377.6 L247.7 377.8 L248.1 377.9 L248.5 378.1 L248.9 378.2 L249.3 378.3 L249.7 378.5 L250.1 378.7 L250.5 378.8 L250.9 378.8 L251.3 378.8 L251.7 378.9 L252.1 378.9 L252.5 379 L252.9 379.1 L253.3 379.2 L253.7 379.3 L254.1 379.3 L254.5 379.3 L254.9 379.4 L255.3 379.4 L255.7 379.4 L256.1 379.4 L256.5 379.4 L256.9 379.5 L257.3 379.6 L257.7 379.5 L258.1 379.8 L258.5 379.7 L258.9 380 L259.3 380 L259.7 380.2 L260.1 380.2 L260.5 380.3 L260.9 380.2 L261.3 380.4 L261.7 380.4 L262.1 380.4 L262.5 380.2 L262.9 380.3 L263.3 380.4 L263.7 380.4 L264.1 380.5 L264.5 380.5 L264.9 380.5 L265.3 380.6 L265.7 380.7 L266.1 380.7 L266.5 380.5 L266.9 380.5 L267.3 380.5 L267.7 380.7" fill="none" stroke="#e03030" stroke-width="1.6" stroke-linejoin="round"/>
<path d="M378.8 516.8 L379.3 516.9 L379.8 517 L380.3 517 L380.8 517 L381.3 516.9 L381.8 516.9 L382.3 516.8 L382.8 516.9 L383.3 516.9 L383.8 516.8 L384.3 516.8 L384.8 516.8 L385.3 516.7 L385.8 516.6 L386.3 516.5 L386.8 516.6 L387.3 516.6 L387.8 516.6 L388.3 516.6 L388.8 516.7 L389.3 516.6 L389.8 516.6 L390.3 516.5 L390.8 516.5 L391.3 516.5 L391.8 516.4 L392.3 516.5 L392.8 516.4 L393.3 516.5 L393.8 516.4 L394.3 516.4 L394.8 516.4 L395.3 516.4 L395.8 516.4 L396.3 516.3 L396.8 516.3 L397.3 516.3 L397.8 516.3 L398.3 516.2 L398.8 516.3 L399.3 516.2 L399.8 516.3 L400.3 516.3 L400.8 516.5 L401.3 516.4 L401.8 516.3 L402.3 516.2 L402.8 516.2 L403.3 516.3 L403.8 516.2 L404.3 516.3 L404.8 516.2 L405.3 516.2 L405.8 516.2 L406.3 516.1 L406.8 516.1 L407.3 516.1 L407.8 516.1 L408.3 516.1 L408.8 516.1 L409.3 516.1 L409.8 516.1 L410.3 516.1 L410.8 516.1 L411.3 516 L411.8 516 L412.3 516 L412.8 516 L413.3 516 L413.8 516 L414.3 516 L414.8 515.9 L415.3 515.9 L415.8 515.9 L416.3 515.9 L416.8 515.9 L417.3 515.8 L417.8 515.8 L418.3 515.9 L418.8 515.9 L419.3 515.8 L419.8 515.8 L420.3 515.8 L420.8 515.8 L421.3 515.8 L421.8 515.7 L422.3 515.7 L422.8 515.6 L423.3 515.7 L423.8 515.8 L424.3 515.8 L424.8 515.8 L425.3 515.7 L425.8 515.7 L426.3 515.7 L426.8 515.6 L427.3 515.5 L427.8 515.5 L428.3 515.5 L428.8 515.5 L429.3 515.5 L429.8 515.4 L430.3 515.4 L430.8 515.3 L431.3 515.4 L431.8 515.4 L432.3 515.4 L432.8 515.4 L433.3 515.4 L433.8 515.4 L434.3 515.2 L434.8 515.2 L435.3 515.1 L435.8 515.3 L436.3 515.3 L436.8 515.4 L437.3 515.4 L437.8 515.4 L438.3 515.4 L438.8 515.2 L439.3 515.2 L439.8 515.2 L440.3 515.1 L440.8 515.2 L441.3 515.2 L441.8 515.2 L442.3 515.1 L442.8 515.1 L443.3 515.2 L443.8 515.1 L444.3 515.1 L444.8 515 L445.3 515.1 L445.8 515 L446.3 515.1 L446.8 515.1 L447.3 515 L447.8 515 L448.3 514.9 L448.8 514.9 L449.3 515 L449.8 514.9 L450.3 515 L450.8 514.9 L451.3 514.9 L451.8 515 L452.3 515 L452.8 515.1 L453.3 515 L453.8 515 L454.3 514.9 L454.8 514.9 L455.3 514.8 L455.8 514.8 L456.3 514.6 L456.8 514.6 L457.3 514.8 L457.8 514.8 L458.3 514.8 L458.8 514.7 L459.3 514.8 L459.8 514.8 L460.3 514.8 L460.8 514.8 L461.3 514.8 L461.8 514.7 L462.3 514.6 L462.8 514.6 L463.3 514.7 L463.8 514.7 L464.3 514.7 L464.8 514.7 L465.3 514.7 L465.8 514.7 L466.3 514.7 L466.8 514.6 L467.3 514.7 L467.8 514.8 L468.3 514.8 L468.8 514.7 L469.3 514.6 L469.8 514.6 L470.3 514.7 L470.8 514.6 L471.3 514.6 L471.8 514.6 L472.3 514.6 L472.8 514.5 L473.3 514.4 L473.8 514.5 L474.3 514.4 L474.8 514.5 L475.3 514.5 L475.8 514.4 L476.3 514.4 L476.8 514.4 L477.3 514.3 L477.8 514.4 L478.3 514.3 L478.8 514.4 L479.3 514.4 L479.8 514.4 L480.3 514.4 L480.8 514.3 L481.3 514.3 L481.8 514.3 L482.3 514.3 L482.8 514.3 L483.3 514.3 L483.8 514.3 L484.3 514.4 L484.8 514.4 L485.3 514.3 L485.8 514.3 L486.3 514.3 L486.8 514.3 L487.3 514.4 L487.8 514.4 L488.3 514.3 L488.8 514.1 L489.3 514 L489.8 514.1 L490.3 514.2 L490.8 514.2 L491.3 514.1 L491.8 514 L492.3 514 L492.8 514 L493.3 514.1 L493.8 514.1 L494.3 514.1 L494.8 514.1 L495.3 514 L495.8 514.1 L496.3 514 L496.8 514 L497.3 513.9 L497.8 513.9 L498.3 513.9 L498.8 513.9 L499.3 513.9 L499.8 513.9 L500.3 513.9 L500.8 513.9 L501.3 513.9 L501.8 513.9 L502.3 513.8 L502.8 513.8 L503.3 513.8 L503.8 513.9 L504.3 513.8 L504.8 513.9 L505.3 513.8 L505.8 513.8 L506.3 513.8 L506.8 513.8 L507.3 513.7 L507.8 513.7 L508.3 513.7 L508.8 513.8 L509.3 513.7 L509.8 513.7 L510.3 513.6 L510.8 513.5 L511.3 513.5 L511.8 513.5 L512.3 513.5 L512.8 513.5 L513.3 513.4 L513.8 513.3 L514.3 513.3 L514.8 513.2 L515.3 513.1 L515.8 513 L516.3 512.9 L516.8 512.9 L517.3 512.8 L517.8 512.7 L518.3 512.5 L518.8 512.6 L519.3 512.5 L519.8 512.5 L520.3 512.3 L520.8 512.3 L521.3 512.2 L521.8 512.1 L522.3 512 L522.8 512 L523.3 511.8 L523.8 511.7 L524.3 511.5 L524.8 511.5 L525.3 511.4 L525.8 511.4 L526.3 511.3 L526.8 511.2 L527.3 511.2 L527.8 511.1 L528.3 510.9 L528.8 510.9 L529.3 510.7 L529.8 510.7 L530.3 510.6 L530.8 510.4 L531.3 510.3 L531.8 510.2 L532.3 510.1 L532.8 509.9 L533.3 509.7 L533.8 509.5 L534.3 509.4 L534.8 509.3 L535.3 509.1 L535.8 508.9 L536.3 508.6 L536.8 508.4 L537.3 508.3 L537.8 508.2 L538.3 508.1 L538.8 508 L539.3 507.8 L539.8 507.6 L540.3 507.4 L540.8 507.3 L541.3 507.2 L541.8 507 L542.3 506.8 L542.8 506.6 L543.3 506.4 L543.8 506.2 L544.3 506 L544.8 505.8 L545.3 505.5 L545.8 505.3 L546.3 505.1 L546.8 504.8 L547.3 504.6 L547.8 504.3 L548.3 504 L548.8 503.7 L549.3 503.4 L549.8 503.1 L550.3 502.6 L550.8 502.2 L551.3 501.8 L551.8 501.4 L552.3 501 L552.8 500.5 L553.3 500 L553.8 499.6 L554.3 499.2 L554.8 498.8 L555.3 498.3 L555.8 497.8 L556.3 497.2 L556.8 496.7 L557.3 496.2 L557.8 495.7 L558.3 495.3 L558.8 494.8 L559.3 494.3 L559.8 493.7 L560.3 493.1 L560.8 492.6 L561.3 492 L561.8 491.6 L562.3 490.9 L562.8 490.2 L563.3 489.5 L563.8 488.9 L564.3 488.3 L564.8 487.7 L565.3 487.1 L565.8 486.5 L566.3 485.8 L566.8 485.2 L567.3 484.4 L567.8 483.7 L568.3 483 L568.8 482.3 L569.3 481.5 L569.8 480.8 L570.3 480 L570.8 479.2 L571.3 478.4 L571.8 477.6 L572.3 476.9 L572.8 476.2 L573.3 475.4 L573.8 474.6 L574.3 473.7 L574.8 472.9 L575.3 472.2 L575.8 471.4 L576.3 470.7 L576.8 469.9 L577.3 469.1 L577.8 468.3 L578.3 467.5 L578.8 466.7 L579.3 465.9 L579.8 465.1 L580.3 464.3 L580.8 463.6 L581.3 462.7 L581.8 461.9 L582.3 461.1 L582.8 460.2 L583.3 459.4 L583.8 458.6 L584.3 457.9 L584.8 457.1 L585.3 456.4 L585.8 455.6 L586.3 455 L586.8 454.2 L587.3 453.6 L587.8 452.9 L588.3 452.2 L588.8 451.4 L589.3 450.5 L589.8 449.7 L590.3 449 L590.8 448.3 L591.3 447.5 L591.8 446.6 L592.3 445.8 L592.8 444.9 L593.3 444.1 L593.8 443.2 L594.3 442.2 L594.8 441.4 L595.3 440.6 L595.8 439.8 L596.3 438.9 L596.8 438 L597.3 437.2 L597.8 436.4 L598.3 435.6 L598.8 434.7 L599.3 433.8 L599.8 433.1 L600.3 432.3 L600.8 431.6 L601.3 430.8 L601.8 430 L602.3 429.2 L602.8 428.5 L603.3 427.8 L603.8 427.1 L604.3 426.5 L604.8 425.9 L605.3 425.3 L605.8 424.6 L606.3 423.8 L606.8 423.2 L607.3 422.6 L607.8 422.1 L608.3 421.4 L608.8 420.9 L609.3 420.3 L609.8 419.9 L610.3 419.4 L610.8 418.9 L611.3 418.3 L611.8 417.8 L612.3 417.3 L612.8 416.8 L613.3 416.5 L613.8 416 L614.3 415.6 L614.8 415.1 L615.3 414.7 L615.8 414.1 L616.3 413.7 L616.8 413 L617.3 412.6 L617.8 412.2 L618.3 411.8 L618.8 411.3 L619.3 410.9 L619.8 410.5 L620.3 410 L620.8 409.4 L621.3 408.9 L621.8 408.3 L622.3 407.8 L622.8 407.3 L623.3 406.9 L623.8 406.5 L624.3 406.1 L624.8 405.6 L625.3 405.1 L625.8 404.7 L626.3 404.2 L626.8 403.8 L627.3 403.3 L627.8 403 L628.3 402.6 L628.8 402.3 L629.3 401.9 L629.8 401.5 L630.3 401 L630.8 400.7 L631.3 400.4 L631.8 400.2 L632.3 399.8 L632.8 399.4 L633.3 399.1 L633.8 398.7 L634.3 398.4 L634.8 398.1 L635.3 397.9 L635.8 397.6 L636.3 397.2 L636.8 396.9 L637.3 396.6 L637.8 396.4 L638.3 396 L638.8 395.7 L639.3 395.4 L639.8 395.2 L640.3 394.9 L640.8 394.7 L641.3 394.4 L641.8 394.2 L642.3 394 L642.8 393.8 L643.3 393.5 L643.8 393.3 L644.3 392.9 L644.8 392.4 L645.3 391.9 L645.8 391.4 L646.3 390.8 L646.8 390.3 L647.3 389.7 L647.8 389.3 L648.3 388.7 L648.8 388.1 L649.3 387.5 L649.8 387 L650.3 386.6 L650.8 386.1 L651.3 385.7 L651.8 385.2 L652.3 384.8 L652.8 384.2 L653.3 383.8 L653.8 383.4 L654.3 383 L654.8 382.6 L655.3 382.2 L655.8 381.8 L656.3 381.6 L656.8 381.3 L657.3 381.1 L657.8 380.8 L658.3 380.6 L658.8 380.3 L659.3 380.1 L659.8 379.8 L660.3 379.5 L660.8 379.3 L661.3 379.1 L661.8 379" fill="none" stroke="#c83434" stroke-width="1.6" stroke-linejoin="round"/>
<line x1="548" y1="521" x2="639.5" y2="364" stroke="#111" stroke-width="2.2" stroke-dasharray="6.5 4"/>
<rect x="378.6" y="294.8" width="283.4" height="227.3" fill="none" stroke="#222" stroke-width="1.6"/>
<line x1="378.6" y1="522.1" x2="378.6" y2="526.6" stroke="#222" stroke-width="1.3" />
<text x="0" y="0" transform="translate(378.6 540.6) scale(1.05 1)" font-size="11.5" text-anchor="middle" fill="#111" style="font-weight:bold;" >4.0</text>
<line x1="435.28" y1="522.1" x2="435.28" y2="526.6" stroke="#222" stroke-width="1.3" />
<text x="0" y="0" transform="translate(435.28 540.6) scale(1.05 1)" font-size="11.5" text-anchor="middle" fill="#111" style="font-weight:bold;" >4.2</text>
<line x1="491.96" y1="522.1" x2="491.96" y2="526.6" stroke="#222" stroke-width="1.3" />
<text x="0" y="0" transform="translate(491.96 540.6) scale(1.05 1)" font-size="11.5" text-anchor="middle" fill="#111" style="font-weight:bold;" >4.4</text>
<line x1="548.64" y1="522.1" x2="548.64" y2="526.6" stroke="#222" stroke-width="1.3" />
<text x="0" y="0" transform="translate(548.64 540.6) scale(1.05 1)" font-size="11.5" text-anchor="middle" fill="#111" style="font-weight:bold;" >4.6</text>
<line x1="605.32" y1="522.1" x2="605.32" y2="526.6" stroke="#222" stroke-width="1.3" />
<text x="0" y="0" transform="translate(605.32 540.6) scale(1.05 1)" font-size="11.5" text-anchor="middle" fill="#111" style="font-weight:bold;" >4.8</text>
<line x1="662" y1="522.1" x2="662" y2="526.6" stroke="#222" stroke-width="1.3" />
<text x="0" y="0" transform="translate(662 540.6) scale(1.05 1)" font-size="11.5" text-anchor="middle" fill="#111" style="font-weight:bold;" >5.0</text>
<line x1="406.94" y1="522.1" x2="406.94" y2="524.6" stroke="#222" stroke-width="1.1" />
<line x1="463.62" y1="522.1" x2="463.62" y2="524.6" stroke="#222" stroke-width="1.1" />
<line x1="520.3" y1="522.1" x2="520.3" y2="524.6" stroke="#222" stroke-width="1.1" />
<line x1="576.98" y1="522.1" x2="576.98" y2="524.6" stroke="#222" stroke-width="1.1" />
<line x1="633.66" y1="522.1" x2="633.66" y2="524.6" stroke="#222" stroke-width="1.1" />
<text x="329.3" y="304.5" font-size="18.8" text-anchor="start" fill="#111" style="font-weight:bold;" >(d)</text>
<text x="0" y="4.6" font-size="13.6" text-anchor="middle" fill="#111" style="font-weight:bold" transform="translate(361.8 408.6) rotate(-90)">(αhν)<tspan dy="-5.5" font-size="9.5">2</tspan></text>
<text x="0" y="0" transform="translate(520.9 564) scale(1.06 1)" font-size="13.5" text-anchor="middle" fill="#111" style="font-weight:bold;" >Energy (eV)</text>
<text x="455.4" y="461.6" font-size="19.2" text-anchor="start" fill="#111" style="font-weight:bold;" >Eg=4.60 eV</text>
<line x1="529.9" y1="472.3" x2="543.6" y2="513" stroke="#111" stroke-width="1"/>
<path d="M545.4 519 L540.6 511.2 L546.2 509.6 Z" fill="#111"/>
<path d="M37.4 784.3 L37.9 784.3 L38.4 784.3 L38.9 784.3 L39.4 784.2 L39.9 784.2 L40.4 784.2 L40.9 784.1 L41.4 784 L41.9 784 L42.4 783.9 L42.9 783.8 L43.4 783.7 L43.9 783.6 L44.4 783.5 L44.9 783.4 L45.4 783.3 L45.9 783.1 L46.4 782.9 L46.9 782.7 L47.4 782.5 L47.9 782.3 L48.4 782 L48.9 781.7 L49.4 781.4 L49.9 781.1 L50.4 780.7 L50.9 780.3 L51.4 779.9 L51.9 779.4 L52.4 778.9 L52.9 778.3 L53.4 777.7 L53.9 777.1 L54.4 776.4 L54.9 775.6 L55.4 774.8 L55.9 774 L56.4 773 L56.9 772.1 L57.4 771 L57.9 769.9 L58.4 768.8 L58.9 767.5 L59.4 766.2 L59.9 764.9 L60.4 763.5 L60.9 762 L61.4 760.4 L61.9 758.8 L62.4 757.1 L62.9 755.3 L63.4 753.5 L63.9 751.6 L64.4 749.7 L64.9 747.7 L65.4 745.7 L65.9 743.6 L66.4 741.5 L66.9 739.4 L67.4 737.2 L67.9 735 L68.4 732.8 L68.9 730.6 L69.4 728.3 L69.9 726.1 L70.4 723.9 L70.9 721.7 L71.4 719.5 L71.9 717.4 L72.4 715.3 L72.9 713.3 L73.4 711.3 L73.9 709.4 L74.4 707.6 L74.9 705.9 L75.4 704.2 L75.9 702.7 L76.4 701.3 L76.9 700 L77.4 698.8 L77.9 697.7 L78.4 696.7 L78.9 695.9 L79.4 695.3 L79.9 694.8 L80.4 694.4 L80.9 694.2 L81.4 694.1 L81.9 694.2 L82.4 694.4 L82.9 694.8 L83.4 695.3 L83.9 695.9 L84.4 696.7 L84.9 697.7 L85.4 698.8 L85.9 700 L86.4 701.3 L86.9 702.7 L87.4 704.2 L87.9 705.9 L88.4 707.6 L88.9 709.4 L89.4 711.3 L89.9 713.3 L90.4 715.3 L90.9 717.4 L91.4 719.5 L91.9 721.7 L92.4 723.9 L92.9 726.1 L93.4 728.3 L93.9 730.6 L94.4 732.8 L94.9 735 L95.4 737.2 L95.9 739.4 L96.4 741.5 L96.9 743.6 L97.4 745.7 L97.9 747.7 L98.4 749.7 L98.9 751.6 L99.4 753.5 L99.9 755.3 L100.4 757.1 L100.9 758.8 L101.4 760.4 L101.9 762 L102.4 763.5 L102.9 764.9 L103.4 766.2 L103.9 767.5 L104.4 768.8 L104.9 769.9 L105.4 771 L105.9 772.1 L106.4 773 L106.9 774 L107.4 774.8 L107.9 775.6 L108.4 776.4 L108.9 777.1 L109.4 777.7 L109.9 778.3 L110.4 778.9 L110.9 779.4 L111.4 779.9 L111.9 780.3 L112.4 780.7 L112.9 781.1 L113.4 781.4 L113.9 781.7 L114.4 782 L114.9 782.3 L115.4 782.5 L115.9 782.7 L116.4 782.9 L116.9 783.1 L117.4 783.3 L117.9 783.4 L118.4 783.5 L118.9 783.6 L119.4 783.7 L119.9 783.8 L120.4 783.9 L120.9 784 L121.4 784 L121.9 784.1 L122.4 784.2 L122.9 784.2 L123.4 784.2 L123.9 784.3 L124.4 784.3 L124.9 784.3 L125.4 784.3 L125.9 784.4 L126.4 784.4 L126.9 784.4 L127.4 784.4 L127.9 784.4 L128.4 784.4 L128.9 784.4 L129.4 784.5 L129.9 784.5 L130.4 784.5 L130.6 784.5 L37.4 784.5 Z" fill="url(#gp1)" fill-opacity="0.92"/>
<path d="M37.5 784.4 L38 784.4 L38.5 784.4 L39 784.4 L39.5 784.4 L40 784.4 L40.5 784.4 L41 784.4 L41.5 784.4 L42 784.4 L42.5 784.4 L43 784.3 L43.5 784.3 L44 784.3 L44.5 784.3 L45 784.3 L45.5 784.3 L46 784.2 L46.5 784.2 L47 784.2 L47.5 784.2 L48 784.1 L48.5 784.1 L49 784 L49.5 784 L50 784 L50.5 783.9 L51 783.9 L51.5 783.8 L52 783.7 L52.5 783.7 L53 783.6 L53.5 783.5 L54 783.5 L54.5 783.4 L55 783.3 L55.5 783.2 L56 783.1 L56.5 782.9 L57 782.8 L57.5 782.7 L58 782.5 L58.5 782.4 L59 782.2 L59.5 782.1 L60 781.9 L60.5 781.7 L61 781.5 L61.5 781.2 L62 781 L62.5 780.7 L63 780.5 L63.5 780.2 L64 779.9 L64.5 779.6 L65 779.2 L65.5 778.9 L66 778.5 L66.5 778.1 L67 777.6 L67.5 777.2 L68 776.7 L68.5 776.2 L69 775.7 L69.5 775.2 L70 774.6 L70.5 774 L71 773.3 L71.5 772.7 L72 772 L72.5 771.2 L73 770.5 L73.5 769.7 L74 768.8 L74.5 767.9 L75 767 L75.5 766.1 L76 765.1 L76.5 764.1 L77 763 L77.5 761.9 L78 760.7 L78.5 759.5 L79 758.3 L79.5 757 L80 755.7 L80.5 754.3 L81 752.9 L81.5 751.5 L82 750 L82.5 748.4 L83 746.8 L83.5 745.2 L84 743.5 L84.5 741.8 L85 740.1 L85.5 738.3 L86 736.4 L86.5 734.5 L87 732.6 L87.5 730.6 L88 728.6 L88.5 726.6 L89 724.5 L89.5 722.4 L90 720.3 L90.5 718.1 L91 715.9 L91.5 713.7 L92 711.5 L92.5 709.2 L93 706.9 L93.5 704.6 L94 702.3 L94.5 699.9 L95 697.6 L95.5 695.3 L96 692.9 L96.5 690.6 L97 688.2 L97.5 685.9 L98 683.6 L98.5 681.2 L99 678.9 L99.5 676.7 L100 674.4 L100.5 672.2 L101 670 L101.5 667.8 L102 665.7 L102.5 663.6 L103 661.5 L103.5 659.5 L104 657.6 L104.5 655.7 L105 653.9 L105.5 652.1 L106 650.4 L106.5 648.8 L107 647.2 L107.5 645.7 L108 644.3 L108.5 642.9 L109 641.7 L109.5 640.5 L110 639.4 L110.5 638.4 L111 637.5 L111.5 636.6 L112 635.9 L112.5 635.3 L113 634.7 L113.5 634.3 L114 633.9 L114.5 633.7 L115 633.5 L115.5 633.5 L116 633.5 L116.5 633.7 L117 633.9 L117.5 634.3 L118 634.7 L118.5 635.3 L119 635.9 L119.5 636.6 L120 637.5 L120.5 638.4 L121 639.4 L121.5 640.5 L122 641.7 L122.5 642.9 L123 644.3 L123.5 645.7 L124 647.2 L124.5 648.8 L125 650.4 L125.5 652.1 L126 653.9 L126.5 655.7 L127 657.6 L127.5 659.5 L128 661.5 L128.5 663.6 L129 665.7 L129.5 667.8 L130 670 L130.5 672.2 L131 674.4 L131.5 676.7 L132 678.9 L132.5 681.2 L133 683.6 L133.5 685.9 L134 688.2 L134.5 690.6 L135 692.9 L135.5 695.3 L136 697.6 L136.5 699.9 L137 702.3 L137.5 704.6 L138 706.9 L138.5 709.2 L139 711.5 L139.5 713.7 L140 715.9 L140.5 718.1 L141 720.3 L141.5 722.4 L142 724.5 L142.5 726.6 L143 728.6 L143.5 730.6 L144 732.6 L144.5 734.5 L145 736.4 L145.5 738.3 L146 740.1 L146.5 741.8 L147 743.5 L147.5 745.2 L148 746.8 L148.5 748.4 L149 750 L149.5 751.5 L150 752.9 L150.5 754.3 L151 755.7 L151.5 757 L152 758.3 L152.5 759.5 L153 760.7 L153.5 761.9 L154 763 L154.5 764.1 L155 765.1 L155.5 766.1 L156 767 L156.5 767.9 L157 768.8 L157.5 769.7 L158 770.5 L158.5 771.2 L159 772 L159.5 772.7 L160 773.3 L160.5 774 L161 774.6 L161.5 775.2 L162 775.7 L162.5 776.2 L163 776.7 L163.5 777.2 L164 777.6 L164.5 778.1 L165 778.5 L165.5 778.9 L166 779.2 L166.5 779.6 L167 779.9 L167.5 780.2 L168 780.5 L168.5 780.7 L169 781 L169.5 781.2 L170 781.5 L170.5 781.7 L171 781.9 L171.5 782.1 L172 782.2 L172.5 782.4 L173 782.5 L173.5 782.7 L174 782.8 L174.5 782.9 L175 783.1 L175.5 783.2 L176 783.3 L176.5 783.4 L177 783.5 L177.5 783.5 L178 783.6 L178.5 783.7 L179 783.7 L179.5 783.8 L180 783.9 L180.5 783.9 L181 784 L181.5 784 L182 784 L182.5 784.1 L183 784.1 L183.5 784.2 L184 784.2 L184.5 784.2 L185 784.2 L185.5 784.3 L186 784.3 L186.5 784.3 L187 784.3 L187.5 784.3 L188 784.3 L188.5 784.4 L189 784.4 L189.5 784.4 L190 784.4 L190.5 784.4 L191 784.4 L191.5 784.4 L192 784.4 L192.5 784.4 L193 784.4 L193.5 784.4 L193.5 784.5 L37.5 784.5 Z" fill="url(#gp2)" fill-opacity="0.92"/>
<path d="M37.4 784 L37.9 783.9 L38.4 783.9 L38.9 783.9 L39.4 783.9 L39.9 783.8 L40.4 783.8 L40.9 783.8 L41.4 783.8 L41.9 783.8 L42.4 783.7 L42.9 783.7 L43.4 783.7 L43.9 783.6 L44.4 783.6 L44.9 783.6 L45.4 783.6 L45.9 783.5 L46.4 783.5 L46.9 783.5 L47.4 783.4 L47.9 783.4 L48.4 783.3 L48.9 783.3 L49.4 783.3 L49.9 783.2 L50.4 783.2 L50.9 783.1 L51.4 783.1 L51.9 783.1 L52.4 783 L52.9 783 L53.4 782.9 L53.9 782.9 L54.4 782.8 L54.9 782.8 L55.4 782.7 L55.9 782.7 L56.4 782.6 L56.9 782.5 L57.4 782.5 L57.9 782.4 L58.4 782.4 L58.9 782.3 L59.4 782.2 L59.9 782.2 L60.4 782.1 L60.9 782 L61.4 782 L61.9 781.9 L62.4 781.8 L62.9 781.7 L63.4 781.6 L63.9 781.6 L64.4 781.5 L64.9 781.4 L65.4 781.3 L65.9 781.2 L66.4 781.1 L66.9 781 L67.4 780.9 L67.9 780.9 L68.4 780.8 L68.9 780.7 L69.4 780.6 L69.9 780.4 L70.4 780.3 L70.9 780.2 L71.4 780.1 L71.9 780 L72.4 779.9 L72.9 779.8 L73.4 779.7 L73.9 779.5 L74.4 779.4 L74.9 779.3 L75.4 779.2 L75.9 779 L76.4 778.9 L76.9 778.8 L77.4 778.6 L77.9 778.5 L78.4 778.3 L78.9 778.2 L79.4 778 L79.9 777.9 L80.4 777.7 L80.9 777.6 L81.4 777.4 L81.9 777.3 L82.4 777.1 L82.9 776.9 L83.4 776.8 L83.9 776.6 L84.4 776.4 L84.9 776.2 L85.4 776 L85.9 775.9 L86.4 775.7 L86.9 775.5 L87.4 775.3 L87.9 775.1 L88.4 774.9 L88.9 774.7 L89.4 774.5 L89.9 774.3 L90.4 774.1 L90.9 773.9 L91.4 773.7 L91.9 773.5 L92.4 773.3 L92.9 773 L93.4 772.8 L93.9 772.6 L94.4 772.4 L94.9 772.1 L95.4 771.9 L95.9 771.7 L96.4 771.4 L96.9 771.2 L97.4 771 L97.9 770.7 L98.4 770.5 L98.9 770.2 L99.4 770 L99.9 769.7 L100.4 769.5 L100.9 769.2 L101.4 769 L101.9 768.7 L102.4 768.4 L102.9 768.2 L103.4 767.9 L103.9 767.6 L104.4 767.4 L104.9 767.1 L105.4 766.8 L105.9 766.6 L106.4 766.3 L106.9 766 L107.4 765.7 L107.9 765.4 L108.4 765.2 L108.9 764.9 L109.4 764.6 L109.9 764.3 L110.4 764 L110.9 763.7 L111.4 763.4 L111.9 763.2 L112.4 762.9 L112.9 762.6 L113.4 762.3 L113.9 762 L114.4 761.7 L114.9 761.4 L115.4 761.1 L115.9 760.8 L116.4 760.5 L116.9 760.2 L117.4 760 L117.9 759.7 L118.4 759.4 L118.9 759.1 L119.4 758.8 L119.9 758.5 L120.4 758.2 L120.9 757.9 L121.4 757.6 L121.9 757.3 L122.4 757.1 L122.9 756.8 L123.4 756.5 L123.9 756.2 L124.4 755.9 L124.9 755.6 L125.4 755.4 L125.9 755.1 L126.4 754.8 L126.9 754.5 L127.4 754.3 L127.9 754 L128.4 753.7 L128.9 753.5 L129.4 753.2 L129.9 753 L130.4 752.7 L130.9 752.4 L131.4 752.2 L131.9 751.9 L132.4 751.7 L132.9 751.5 L133.4 751.2 L133.9 751 L134.4 750.8 L134.9 750.5 L135.4 750.3 L135.9 750.1 L136.4 749.9 L136.9 749.6 L137.4 749.4 L137.9 749.2 L138.4 749 L138.9 748.8 L139.4 748.6 L139.9 748.4 L140.4 748.3 L140.9 748.1 L141.4 747.9 L141.9 747.7 L142.4 747.6 L142.9 747.4 L143.4 747.2 L143.9 747.1 L144.4 746.9 L144.9 746.8 L145.4 746.7 L145.9 746.5 L146.4 746.4 L146.9 746.3 L147.4 746.2 L147.9 746 L148.4 745.9 L148.9 745.8 L149.4 745.7 L149.9 745.7 L150.4 745.6 L150.9 745.5 L151.4 745.4 L151.9 745.4 L152.4 745.3 L152.9 745.2 L153.4 745.2 L153.9 745.1 L154.4 745.1 L154.9 745.1 L155.4 745 L155.9 745 L156.4 745 L156.9 745 L157.4 745 L157.9 745 L158.4 745 L158.9 745 L159.4 745 L159.9 745.1 L160.4 745.1 L160.9 745.1 L161.4 745.2 L161.9 745.2 L162.4 745.3 L162.9 745.4 L163.4 745.4 L163.9 745.5 L164.4 745.6 L164.9 745.7 L165.4 745.7 L165.9 745.8 L166.4 745.9 L166.9 746 L167.4 746.2 L167.9 746.3 L168.4 746.4 L168.9 746.5 L169.4 746.7 L169.9 746.8 L170.4 746.9 L170.9 747.1 L171.4 747.2 L171.9 747.4 L172.4 747.6 L172.9 747.7 L173.4 747.9 L173.9 748.1 L174.4 748.3 L174.9 748.4 L175.4 748.6 L175.9 748.8 L176.4 749 L176.9 749.2 L177.4 749.4 L177.9 749.6 L178.4 749.9 L178.9 750.1 L179.4 750.3 L179.9 750.5 L180.4 750.8 L180.9 751 L181.4 751.2 L181.9 751.5 L182.4 751.7 L182.9 751.9 L183.4 752.2 L183.9 752.4 L184.4 752.7 L184.9 753 L185.4 753.2 L185.9 753.5 L186.4 753.7 L186.9 754 L187.4 754.3 L187.9 754.5 L188.4 754.8 L188.9 755.1 L189.4 755.4 L189.9 755.6 L190.4 755.9 L190.9 756.2 L191.4 756.5 L191.9 756.8 L192.4 757.1 L192.9 757.3 L193.4 757.6 L193.9 757.9 L194.4 758.2 L194.9 758.5 L195.4 758.8 L195.9 759.1 L196.4 759.4 L196.9 759.7 L197.4 760 L197.9 760.2 L198.4 760.5 L198.9 760.8 L199.4 761.1 L199.9 761.4 L200.4 761.7 L200.9 762 L201.4 762.3 L201.9 762.6 L202.4 762.9 L202.9 763.2 L203.4 763.4 L203.9 763.7 L204.4 764 L204.9 764.3 L205.4 764.6 L205.9 764.9 L206.4 765.2 L206.9 765.4 L207.4 765.7 L207.9 766 L208.4 766.3 L208.9 766.6 L209.4 766.8 L209.9 767.1 L210.4 767.4 L210.9 767.6 L211.4 767.9 L211.9 768.2 L212.4 768.4 L212.9 768.7 L213.4 769 L213.9 769.2 L214.4 769.5 L214.9 769.7 L215.4 770 L215.9 770.2 L216.4 770.5 L216.9 770.7 L217.4 771 L217.9 771.2 L218.4 771.4 L218.9 771.7 L219.4 771.9 L219.9 772.1 L220.4 772.4 L220.9 772.6 L221.4 772.8 L221.9 773 L222.4 773.3 L222.9 773.5 L223.4 773.7 L223.9 773.9 L224.4 774.1 L224.9 774.3 L225.4 774.5 L225.9 774.7 L226.4 774.9 L226.9 775.1 L227.4 775.3 L227.9 775.5 L228.4 775.7 L228.9 775.9 L229.4 776 L229.9 776.2 L230.4 776.4 L230.9 776.6 L231.4 776.8 L231.9 776.9 L232.4 777.1 L232.9 777.3 L233.4 777.4 L233.9 777.6 L234.4 777.7 L234.9 777.9 L235.4 778 L235.9 778.2 L236.4 778.3 L236.9 778.5 L237.4 778.6 L237.9 778.8 L238.4 778.9 L238.9 779 L239.4 779.2 L239.9 779.3 L240.4 779.4 L240.9 779.5 L241.4 779.7 L241.9 779.8 L242.4 779.9 L242.9 780 L243.4 780.1 L243.9 780.2 L244.4 780.3 L244.9 780.4 L245.4 780.6 L245.9 780.7 L246.4 780.8 L246.9 780.9 L247.4 780.9 L247.9 781 L248.4 781.1 L248.9 781.2 L249.4 781.3 L249.9 781.4 L250.4 781.5 L250.9 781.6 L251.4 781.6 L251.9 781.7 L252.4 781.8 L252.9 781.9 L253.4 782 L253.9 782 L254.4 782.1 L254.9 782.2 L255.4 782.2 L255.9 782.3 L256.4 782.4 L256.9 782.4 L257.4 782.5 L257.9 782.5 L258.4 782.6 L258.9 782.7 L259.4 782.7 L259.9 782.8 L260.4 782.8 L260.9 782.9 L261.4 782.9 L261.9 783 L262.4 783 L262.9 783.1 L263.4 783.1 L263.9 783.1 L264.4 783.2 L264.9 783.2 L265.4 783.3 L265.9 783.3 L266.4 783.3 L266.9 783.4 L267.4 783.4 L267.9 783.5 L268.4 783.5 L268.9 783.5 L269.4 783.6 L269.9 783.6 L270.4 783.6 L270.9 783.6 L271.4 783.7 L271.9 783.7 L272.4 783.7 L272.9 783.8 L273.4 783.8 L273.9 783.8 L274.4 783.8 L274.9 783.8 L275.4 783.9 L275.9 783.9 L276.4 783.9 L276.9 783.9 L277.4 784 L277.9 784 L278.4 784 L278.9 784 L279.4 784 L279.9 784 L280.4 784.1 L280.9 784.1 L281.4 784.1 L281.9 784.1 L282.4 784.1 L282.9 784.1 L283.4 784.1 L283.9 784.2 L284.4 784.2 L284.9 784.2 L285.4 784.2 L285.9 784.2 L286.4 784.2 L286.9 784.2 L287.4 784.2 L287.9 784.3 L288.4 784.3 L288.9 784.3 L289.4 784.3 L289.9 784.3 L290.4 784.3 L290.9 784.3 L291.4 784.3 L291.9 784.3 L292.4 784.3 L292.9 784.3 L293.4 784.3 L293.9 784.3 L294.4 784.4 L294.9 784.4 L295.4 784.4 L295.9 784.4 L296.4 784.4 L296.9 784.4 L297.4 784.4 L297.9 784.4 L298.4 784.4 L298.9 784.4 L299.4 784.4 L299.9 784.4 L300.4 784.4 L300.9 784.4 L301.4 784.4 L301.9 784.4 L302.4 784.4 L302.9 784.4 L303.4 784.4 L303.9 784.4 L304.4 784.4 L304.9 784.4 L305.4 784.4 L305.9 784.4 L306.4 784.4 L306.9 784.4 L307.4 784.5 L307.9 784.5 L308.4 784.5 L308.9 784.5 L309.4 784.5 L309.9 784.5 L310.4 784.5 L310.9 784.5 L311.4 784.5 L311.9 784.5 L312.4 784.5 L312.9 784.5 L313.4 784.5 L313.9 784.5 L314.4 784.5 L314.9 784.5 L315.4 784.5 L315.9 784.5 L316.4 784.5 L316.9 784.5 L317.4 784.5 L317.9 784.5 L318.4 784.5 L318.9 784.5 L319.4 784.5 L319.9 784.5 L320.4 784.5 L320.9 784.5 L321.4 784.5 L321.4 784.5 L37.4 784.5 Z" fill="url(#gb3)" fill-opacity="0.92"/>
<path d="M69.3 784.5 L69.8 784.5 L70.3 784.5 L70.8 784.5 L71.3 784.5 L71.8 784.5 L72.3 784.5 L72.8 784.5 L73.3 784.5 L73.8 784.5 L74.3 784.5 L74.8 784.5 L75.3 784.5 L75.8 784.5 L76.3 784.5 L76.8 784.5 L77.3 784.5 L77.8 784.5 L78.3 784.5 L78.8 784.5 L79.3 784.5 L79.8 784.5 L80.3 784.5 L80.8 784.5 L81.3 784.5 L81.8 784.5 L82.3 784.5 L82.8 784.5 L83.3 784.5 L83.8 784.5 L84.3 784.5 L84.8 784.5 L85.3 784.5 L85.8 784.5 L86.3 784.5 L86.8 784.5 L87.3 784.5 L87.8 784.5 L88.3 784.5 L88.8 784.5 L89.3 784.5 L89.8 784.5 L90.3 784.5 L90.8 784.5 L91.3 784.5 L91.8 784.5 L92.3 784.5 L92.8 784.5 L93.3 784.5 L93.8 784.5 L94.3 784.5 L94.8 784.5 L95.3 784.5 L95.8 784.5 L96.3 784.5 L96.8 784.5 L97.3 784.5 L97.8 784.5 L98.3 784.4 L98.8 784.4 L99.3 784.4 L99.8 784.4 L100.3 784.4 L100.8 784.4 L101.3 784.4 L101.8 784.4 L102.3 784.4 L102.8 784.4 L103.3 784.4 L103.8 784.4 L104.3 784.4 L104.8 784.4 L105.3 784.4 L105.8 784.4 L106.3 784.4 L106.8 784.4 L107.3 784.4 L107.8 784.4 L108.3 784.4 L108.8 784.4 L109.3 784.4 L109.8 784.4 L110.3 784.4 L110.8 784.4 L111.3 784.4 L111.8 784.4 L112.3 784.4 L112.8 784.3 L113.3 784.3 L113.8 784.3 L114.3 784.3 L114.8 784.3 L115.3 784.3 L115.8 784.3 L116.3 784.3 L116.8 784.3 L117.3 784.3 L117.8 784.3 L118.3 784.3 L118.8 784.3 L119.3 784.3 L119.8 784.2 L120.3 784.2 L120.8 784.2 L121.3 784.2 L121.8 784.2 L122.3 784.2 L122.8 784.2 L123.3 784.2 L123.8 784.2 L124.3 784.2 L124.8 784.1 L125.3 784.1 L125.8 784.1 L126.3 784.1 L126.8 784.1 L127.3 784.1 L127.8 784.1 L128.3 784.1 L128.8 784 L129.3 784 L129.8 784 L130.3 784 L130.8 784 L131.3 784 L131.8 783.9 L132.3 783.9 L132.8 783.9 L133.3 783.9 L133.8 783.9 L134.3 783.9 L134.8 783.8 L135.3 783.8 L135.8 783.8 L136.3 783.8 L136.8 783.8 L137.3 783.7 L137.8 783.7 L138.3 783.7 L138.8 783.7 L139.3 783.6 L139.8 783.6 L140.3 783.6 L140.8 783.6 L141.3 783.5 L141.8 783.5 L142.3 783.5 L142.8 783.5 L143.3 783.4 L143.8 783.4 L144.3 783.4 L144.8 783.3 L145.3 783.3 L145.8 783.3 L146.3 783.2 L146.8 783.2 L147.3 783.2 L147.8 783.1 L148.3 783.1 L148.8 783.1 L149.3 783 L149.8 783 L150.3 783 L150.8 782.9 L151.3 782.9 L151.8 782.8 L152.3 782.8 L152.8 782.8 L153.3 782.7 L153.8 782.7 L154.3 782.6 L154.8 782.6 L155.3 782.5 L155.8 782.5 L156.3 782.5 L156.8 782.4 L157.3 782.4 L157.8 782.3 L158.3 782.3 L158.8 782.2 L159.3 782.2 L159.8 782.1 L160.3 782.1 L160.8 782 L161.3 782 L161.8 781.9 L162.3 781.8 L162.8 781.8 L163.3 781.7 L163.8 781.7 L164.3 781.6 L164.8 781.6 L165.3 781.5 L165.8 781.4 L166.3 781.4 L166.8 781.3 L167.3 781.3 L167.8 781.2 L168.3 781.1 L168.8 781.1 L169.3 781 L169.8 780.9 L170.3 780.9 L170.8 780.8 L171.3 780.7 L171.8 780.7 L172.3 780.6 L172.8 780.5 L173.3 780.4 L173.8 780.4 L174.3 780.3 L174.8 780.2 L175.3 780.2 L175.8 780.1 L176.3 780 L176.8 779.9 L177.3 779.9 L177.8 779.8 L178.3 779.7 L178.8 779.6 L179.3 779.6 L179.8 779.5 L180.3 779.4 L180.8 779.3 L181.3 779.2 L181.8 779.2 L182.3 779.1 L182.8 779 L183.3 778.9 L183.8 778.8 L184.3 778.8 L184.8 778.7 L185.3 778.6 L185.8 778.5 L186.3 778.4 L186.8 778.4 L187.3 778.3 L187.8 778.2 L188.3 778.1 L188.8 778 L189.3 777.9 L189.8 777.9 L190.3 777.8 L190.8 777.7 L191.3 777.6 L191.8 777.5 L192.3 777.5 L192.8 777.4 L193.3 777.3 L193.8 777.2 L194.3 777.1 L194.8 777.1 L195.3 777 L195.8 776.9 L196.3 776.8 L196.8 776.7 L197.3 776.7 L197.8 776.6 L198.3 776.5 L198.8 776.4 L199.3 776.3 L199.8 776.3 L200.3 776.2 L200.8 776.1 L201.3 776 L201.8 776 L202.3 775.9 L202.8 775.8 L203.3 775.8 L203.8 775.7 L204.3 775.6 L204.8 775.5 L205.3 775.5 L205.8 775.4 L206.3 775.3 L206.8 775.3 L207.3 775.2 L207.8 775.2 L208.3 775.1 L208.8 775 L209.3 775 L209.8 774.9 L210.3 774.9 L210.8 774.8 L211.3 774.7 L211.8 774.7 L212.3 774.6 L212.8 774.6 L213.3 774.5 L213.8 774.5 L214.3 774.4 L214.8 774.4 L215.3 774.3 L215.8 774.3 L216.3 774.3 L216.8 774.2 L217.3 774.2 L217.8 774.1 L218.3 774.1 L218.8 774.1 L219.3 774 L219.8 774 L220.3 774 L220.8 773.9 L221.3 773.9 L221.8 773.9 L222.3 773.9 L222.8 773.8 L223.3 773.8 L223.8 773.8 L224.3 773.8 L224.8 773.8 L225.3 773.8 L225.8 773.7 L226.3 773.7 L226.8 773.7 L227.3 773.7 L227.8 773.7 L228.3 773.7 L228.8 773.7 L229.3 773.7 L229.8 773.7 L230.3 773.7 L230.8 773.7 L231.3 773.7 L231.8 773.7 L232.3 773.7 L232.8 773.7 L233.3 773.8 L233.8 773.8 L234.3 773.8 L234.8 773.8 L235.3 773.8 L235.8 773.8 L236.3 773.9 L236.8 773.9 L237.3 773.9 L237.8 773.9 L238.3 774 L238.8 774 L239.3 774 L239.8 774.1 L240.3 774.1 L240.8 774.1 L241.3 774.2 L241.8 774.2 L242.3 774.3 L242.8 774.3 L243.3 774.3 L243.8 774.4 L244.3 774.4 L244.8 774.5 L245.3 774.5 L245.8 774.6 L246.3 774.6 L246.8 774.7 L247.3 774.7 L247.8 774.8 L248.3 774.9 L248.8 774.9 L249.3 775 L249.8 775 L250.3 775.1 L250.8 775.2 L251.3 775.2 L251.8 775.3 L252.3 775.3 L252.8 775.4 L253.3 775.5 L253.8 775.5 L254.3 775.6 L254.8 775.7 L255.3 775.8 L255.8 775.8 L256.3 775.9 L256.8 776 L257.3 776 L257.8 776.1 L258.3 776.2 L258.8 776.3 L259.3 776.3 L259.8 776.4 L260.3 776.5 L260.8 776.6 L261.3 776.7 L261.8 776.7 L262.3 776.8 L262.8 776.9 L263.3 777 L263.8 777.1 L264.3 777.1 L264.8 777.2 L265.3 777.3 L265.8 777.4 L266.3 777.5 L266.8 777.5 L267.3 777.6 L267.8 777.7 L268.3 777.8 L268.8 777.9 L269.3 777.9 L269.8 778 L270.3 778.1 L270.8 778.2 L271.3 778.3 L271.8 778.4 L272.3 778.4 L272.8 778.5 L273.3 778.6 L273.8 778.7 L274.3 778.8 L274.8 778.8 L275.3 778.9 L275.8 779 L276.3 779.1 L276.8 779.2 L277.3 779.2 L277.8 779.3 L278.3 779.4 L278.8 779.5 L279.3 779.6 L279.8 779.6 L280.3 779.7 L280.8 779.8 L281.3 779.9 L281.8 779.9 L282.3 780 L282.8 780.1 L283.3 780.2 L283.8 780.2 L284.3 780.3 L284.8 780.4 L285.3 780.4 L285.8 780.5 L286.3 780.6 L286.8 780.7 L287.3 780.7 L287.8 780.8 L288.3 780.9 L288.8 780.9 L289.3 781 L289.8 781.1 L290.3 781.1 L290.8 781.2 L291.3 781.3 L291.8 781.3 L292.3 781.4 L292.8 781.4 L293.3 781.5 L293.8 781.6 L294.3 781.6 L294.8 781.7 L295.3 781.7 L295.8 781.8 L296.3 781.8 L296.8 781.9 L297.3 782 L297.8 782 L298.3 782.1 L298.8 782.1 L299.3 782.2 L299.8 782.2 L300.3 782.3 L300.8 782.3 L301.3 782.4 L301.8 782.4 L302.3 782.5 L302.8 782.5 L303.3 782.5 L303.8 782.6 L304.3 782.6 L304.8 782.7 L305.3 782.7 L305.8 782.8 L306.3 782.8 L306.8 782.8 L307.3 782.9 L307.8 782.9 L308.3 783 L308.8 783 L309.3 783 L309.8 783.1 L310.3 783.1 L310.8 783.1 L311.3 783.2 L311.8 783.2 L312.3 783.2 L312.8 783.3 L313.3 783.3 L313.8 783.3 L314.3 783.4 L314.8 783.4 L315.3 783.4 L315.8 783.5 L316.3 783.5 L316.8 783.5 L317.3 783.5 L317.8 783.6 L318.3 783.6 L318.8 783.6 L319.3 783.6 L319.8 783.7 L320.3 783.7 L320.8 783.7 L321.3 783.7 L321.8 783.8 L322.3 783.8 L322.8 783.8 L323.3 783.8 L323.8 783.8 L324.3 783.9 L324.8 783.9 L325.3 783.9 L325.8 783.9 L326.3 783.9 L326.6 784.5 L69.3 784.5 Z" fill="url(#gb4)" fill-opacity="0.92"/>
<path d="M37.4 784.3 L37.9 784.3 L38.4 784.3 L38.9 784.3 L39.4 784.2 L39.9 784.2 L40.4 784.2 L40.9 784.1 L41.4 784 L41.9 784 L42.4 783.9 L42.9 783.8 L43.4 783.7 L43.9 783.6 L44.4 783.5 L44.9 783.4 L45.4 783.3 L45.9 783.1 L46.4 782.9 L46.9 782.7 L47.4 782.5 L47.9 782.3 L48.4 782 L48.9 781.7 L49.4 781.4 L49.9 781.1 L50.4 780.7 L50.9 780.3 L51.4 779.9 L51.9 779.4 L52.4 778.9 L52.9 778.3 L53.4 777.7 L53.9 777.1 L54.4 776.4 L54.9 775.6 L55.4 774.8 L55.9 774 L56.4 773 L56.9 772.1 L57.4 771 L57.9 769.9 L58.4 768.8 L58.9 767.5 L59.4 766.2 L59.9 764.9 L60.4 763.5 L60.9 762 L61.4 760.4 L61.9 758.8 L62.4 757.1 L62.9 755.3 L63.4 753.5 L63.9 751.6 L64.4 749.7 L64.9 747.7 L65.4 745.7 L65.9 743.6 L66.4 741.5 L66.9 739.4 L67.4 737.2 L67.9 735 L68.4 732.8 L68.9 730.6 L69.4 728.3 L69.9 726.1 L70.4 723.9 L70.9 721.7 L71.4 719.5 L71.9 717.4 L72.4 715.3 L72.9 713.3 L73.4 711.3 L73.9 709.4 L74.4 707.6 L74.9 705.9 L75.4 704.2 L75.9 702.7 L76.4 701.3 L76.9 700 L77.4 698.8 L77.9 697.7 L78.4 696.7 L78.9 695.9 L79.4 695.3 L79.9 694.8 L80.4 694.4 L80.9 694.2 L81.4 694.1 L81.9 694.2 L82.4 694.4 L82.9 694.8 L83.4 695.3 L83.9 695.9 L84.4 696.7 L84.9 697.7 L85.4 698.8 L85.9 700 L86.4 701.3 L86.9 702.7 L87.4 704.2 L87.9 705.9 L88.4 707.6 L88.9 709.4 L89.4 711.3 L89.9 713.3 L90.4 715.3 L90.9 717.4 L91.4 719.5 L91.9 721.7 L92.4 723.9 L92.9 726.1 L93.4 728.3 L93.9 730.6 L94.4 732.8 L94.9 735 L95.4 737.2 L95.9 739.4 L96.4 741.5 L96.9 743.6 L97.4 745.7 L97.9 747.7 L98.4 749.7 L98.9 751.6 L99.4 753.5 L99.9 755.3 L100.4 757.1 L100.9 758.8 L101.4 760.4 L101.9 762 L102.4 763.5 L102.9 764.9 L103.4 766.2 L103.9 767.5 L104.4 768.8 L104.9 769.9 L105.4 771 L105.9 772.1 L106.4 773 L106.9 774 L107.4 774.8 L107.9 775.6 L108.4 776.4 L108.9 777.1 L109.4 777.7 L109.9 778.3 L110.4 778.9 L110.9 779.4 L111.4 779.9 L111.9 780.3 L112.4 780.7 L112.9 781.1 L113.4 781.4 L113.9 781.7 L114.4 782 L114.9 782.3 L115.4 782.5 L115.9 782.7 L116.4 782.9 L116.9 783.1 L117.4 783.3 L117.9 783.4 L118.4 783.5 L118.9 783.6 L119.4 783.7 L119.9 783.8 L120.4 783.9 L120.9 784 L121.4 784 L121.9 784.1 L122.4 784.2 L122.9 784.2 L123.4 784.2 L123.9 784.3 L124.4 784.3 L124.9 784.3 L125.4 784.3 L125.9 784.4 L126.4 784.4 L126.9 784.4 L127.4 784.4 L127.9 784.4 L128.4 784.4 L128.9 784.4 L129.4 784.5 L129.9 784.5 L130.4 784.5" fill="none" stroke="#c8b8e8" stroke-width="0.5" opacity="0.6"/>
<path d="M37.5 784.4 L38 784.4 L38.5 784.4 L39 784.4 L39.5 784.4 L40 784.4 L40.5 784.4 L41 784.4 L41.5 784.4 L42 784.4 L42.5 784.4 L43 784.3 L43.5 784.3 L44 784.3 L44.5 784.3 L45 784.3 L45.5 784.3 L46 784.2 L46.5 784.2 L47 784.2 L47.5 784.2 L48 784.1 L48.5 784.1 L49 784 L49.5 784 L50 784 L50.5 783.9 L51 783.9 L51.5 783.8 L52 783.7 L52.5 783.7 L53 783.6 L53.5 783.5 L54 783.5 L54.5 783.4 L55 783.3 L55.5 783.2 L56 783.1 L56.5 782.9 L57 782.8 L57.5 782.7 L58 782.5 L58.5 782.4 L59 782.2 L59.5 782.1 L60 781.9 L60.5 781.7 L61 781.5 L61.5 781.2 L62 781 L62.5 780.7 L63 780.5 L63.5 780.2 L64 779.9 L64.5 779.6 L65 779.2 L65.5 778.9 L66 778.5 L66.5 778.1 L67 777.6 L67.5 777.2 L68 776.7 L68.5 776.2 L69 775.7 L69.5 775.2 L70 774.6 L70.5 774 L71 773.3 L71.5 772.7 L72 772 L72.5 771.2 L73 770.5 L73.5 769.7 L74 768.8 L74.5 767.9 L75 767 L75.5 766.1 L76 765.1 L76.5 764.1 L77 763 L77.5 761.9 L78 760.7 L78.5 759.5 L79 758.3 L79.5 757 L80 755.7 L80.5 754.3 L81 752.9 L81.5 751.5 L82 750 L82.5 748.4 L83 746.8 L83.5 745.2 L84 743.5 L84.5 741.8 L85 740.1 L85.5 738.3 L86 736.4 L86.5 734.5 L87 732.6 L87.5 730.6 L88 728.6 L88.5 726.6 L89 724.5 L89.5 722.4 L90 720.3 L90.5 718.1 L91 715.9 L91.5 713.7 L92 711.5 L92.5 709.2 L93 706.9 L93.5 704.6 L94 702.3 L94.5 699.9 L95 697.6 L95.5 695.3 L96 692.9 L96.5 690.6 L97 688.2 L97.5 685.9 L98 683.6 L98.5 681.2 L99 678.9 L99.5 676.7 L100 674.4 L100.5 672.2 L101 670 L101.5 667.8 L102 665.7 L102.5 663.6 L103 661.5 L103.5 659.5 L104 657.6 L104.5 655.7 L105 653.9 L105.5 652.1 L106 650.4 L106.5 648.8 L107 647.2 L107.5 645.7 L108 644.3 L108.5 642.9 L109 641.7 L109.5 640.5 L110 639.4 L110.5 638.4 L111 637.5 L111.5 636.6 L112 635.9 L112.5 635.3 L113 634.7 L113.5 634.3 L114 633.9 L114.5 633.7 L115 633.5 L115.5 633.5 L116 633.5 L116.5 633.7 L117 633.9 L117.5 634.3 L118 634.7 L118.5 635.3 L119 635.9 L119.5 636.6 L120 637.5 L120.5 638.4 L121 639.4 L121.5 640.5 L122 641.7 L122.5 642.9 L123 644.3 L123.5 645.7 L124 647.2 L124.5 648.8 L125 650.4 L125.5 652.1 L126 653.9 L126.5 655.7 L127 657.6 L127.5 659.5 L128 661.5 L128.5 663.6 L129 665.7 L129.5 667.8 L130 670 L130.5 672.2 L131 674.4 L131.5 676.7 L132 678.9 L132.5 681.2 L133 683.6 L133.5 685.9 L134 688.2 L134.5 690.6 L135 692.9 L135.5 695.3 L136 697.6 L136.5 699.9 L137 702.3 L137.5 704.6 L138 706.9 L138.5 709.2 L139 711.5 L139.5 713.7 L140 715.9 L140.5 718.1 L141 720.3 L141.5 722.4 L142 724.5 L142.5 726.6 L143 728.6 L143.5 730.6 L144 732.6 L144.5 734.5 L145 736.4 L145.5 738.3 L146 740.1 L146.5 741.8 L147 743.5 L147.5 745.2 L148 746.8 L148.5 748.4 L149 750 L149.5 751.5 L150 752.9 L150.5 754.3 L151 755.7 L151.5 757 L152 758.3 L152.5 759.5 L153 760.7 L153.5 761.9 L154 763 L154.5 764.1 L155 765.1 L155.5 766.1 L156 767 L156.5 767.9 L157 768.8 L157.5 769.7 L158 770.5 L158.5 771.2 L159 772 L159.5 772.7 L160 773.3 L160.5 774 L161 774.6 L161.5 775.2 L162 775.7 L162.5 776.2 L163 776.7 L163.5 777.2 L164 777.6 L164.5 778.1 L165 778.5 L165.5 778.9 L166 779.2 L166.5 779.6 L167 779.9 L167.5 780.2 L168 780.5 L168.5 780.7 L169 781 L169.5 781.2 L170 781.5 L170.5 781.7 L171 781.9 L171.5 782.1 L172 782.2 L172.5 782.4 L173 782.5 L173.5 782.7 L174 782.8 L174.5 782.9 L175 783.1 L175.5 783.2 L176 783.3 L176.5 783.4 L177 783.5 L177.5 783.5 L178 783.6 L178.5 783.7 L179 783.7 L179.5 783.8 L180 783.9 L180.5 783.9 L181 784 L181.5 784 L182 784 L182.5 784.1 L183 784.1 L183.5 784.2 L184 784.2 L184.5 784.2 L185 784.2 L185.5 784.3 L186 784.3 L186.5 784.3 L187 784.3 L187.5 784.3 L188 784.3 L188.5 784.4 L189 784.4 L189.5 784.4 L190 784.4 L190.5 784.4 L191 784.4 L191.5 784.4 L192 784.4 L192.5 784.4 L193 784.4 L193.5 784.4" fill="none" stroke="#c8b8e8" stroke-width="0.5" opacity="0.6"/>
<path d="M37.4 784 L37.9 783.9 L38.4 783.9 L38.9 783.9 L39.4 783.9 L39.9 783.8 L40.4 783.8 L40.9 783.8 L41.4 783.8 L41.9 783.8 L42.4 783.7 L42.9 783.7 L43.4 783.7 L43.9 783.6 L44.4 783.6 L44.9 783.6 L45.4 783.6 L45.9 783.5 L46.4 783.5 L46.9 783.5 L47.4 783.4 L47.9 783.4 L48.4 783.3 L48.9 783.3 L49.4 783.3 L49.9 783.2 L50.4 783.2 L50.9 783.1 L51.4 783.1 L51.9 783.1 L52.4 783 L52.9 783 L53.4 782.9 L53.9 782.9 L54.4 782.8 L54.9 782.8 L55.4 782.7 L55.9 782.7 L56.4 782.6 L56.9 782.5 L57.4 782.5 L57.9 782.4 L58.4 782.4 L58.9 782.3 L59.4 782.2 L59.9 782.2 L60.4 782.1 L60.9 782 L61.4 782 L61.9 781.9 L62.4 781.8 L62.9 781.7 L63.4 781.6 L63.9 781.6 L64.4 781.5 L64.9 781.4 L65.4 781.3 L65.9 781.2 L66.4 781.1 L66.9 781 L67.4 780.9 L67.9 780.9 L68.4 780.8 L68.9 780.7 L69.4 780.6 L69.9 780.4 L70.4 780.3 L70.9 780.2 L71.4 780.1 L71.9 780 L72.4 779.9 L72.9 779.8 L73.4 779.7 L73.9 779.5 L74.4 779.4 L74.9 779.3 L75.4 779.2 L75.9 779 L76.4 778.9 L76.9 778.8 L77.4 778.6 L77.9 778.5 L78.4 778.3 L78.9 778.2 L79.4 778 L79.9 777.9 L80.4 777.7 L80.9 777.6 L81.4 777.4 L81.9 777.3 L82.4 777.1 L82.9 776.9 L83.4 776.8 L83.9 776.6 L84.4 776.4 L84.9 776.2 L85.4 776 L85.9 775.9 L86.4 775.7 L86.9 775.5 L87.4 775.3 L87.9 775.1 L88.4 774.9 L88.9 774.7 L89.4 774.5 L89.9 774.3 L90.4 774.1 L90.9 773.9 L91.4 773.7 L91.9 773.5 L92.4 773.3 L92.9 773 L93.4 772.8 L93.9 772.6 L94.4 772.4 L94.9 772.1 L95.4 771.9 L95.9 771.7 L96.4 771.4 L96.9 771.2 L97.4 771 L97.9 770.7 L98.4 770.5 L98.9 770.2 L99.4 770 L99.9 769.7 L100.4 769.5 L100.9 769.2 L101.4 769 L101.9 768.7 L102.4 768.4 L102.9 768.2 L103.4 767.9 L103.9 767.6 L104.4 767.4 L104.9 767.1 L105.4 766.8 L105.9 766.6 L106.4 766.3 L106.9 766 L107.4 765.7 L107.9 765.4 L108.4 765.2 L108.9 764.9 L109.4 764.6 L109.9 764.3 L110.4 764 L110.9 763.7 L111.4 763.4 L111.9 763.2 L112.4 762.9 L112.9 762.6 L113.4 762.3 L113.9 762 L114.4 761.7 L114.9 761.4 L115.4 761.1 L115.9 760.8 L116.4 760.5 L116.9 760.2 L117.4 760 L117.9 759.7 L118.4 759.4 L118.9 759.1 L119.4 758.8 L119.9 758.5 L120.4 758.2 L120.9 757.9 L121.4 757.6 L121.9 757.3 L122.4 757.1 L122.9 756.8 L123.4 756.5 L123.9 756.2 L124.4 755.9 L124.9 755.6 L125.4 755.4 L125.9 755.1 L126.4 754.8 L126.9 754.5 L127.4 754.3 L127.9 754 L128.4 753.7 L128.9 753.5 L129.4 753.2 L129.9 753 L130.4 752.7 L130.9 752.4 L131.4 752.2 L131.9 751.9 L132.4 751.7 L132.9 751.5 L133.4 751.2 L133.9 751 L134.4 750.8 L134.9 750.5 L135.4 750.3 L135.9 750.1 L136.4 749.9 L136.9 749.6 L137.4 749.4 L137.9 749.2 L138.4 749 L138.9 748.8 L139.4 748.6 L139.9 748.4 L140.4 748.3 L140.9 748.1 L141.4 747.9 L141.9 747.7 L142.4 747.6 L142.9 747.4 L143.4 747.2 L143.9 747.1 L144.4 746.9 L144.9 746.8 L145.4 746.7 L145.9 746.5 L146.4 746.4 L146.9 746.3 L147.4 746.2 L147.9 746 L148.4 745.9 L148.9 745.8 L149.4 745.7 L149.9 745.7 L150.4 745.6 L150.9 745.5 L151.4 745.4 L151.9 745.4 L152.4 745.3 L152.9 745.2 L153.4 745.2 L153.9 745.1 L154.4 745.1 L154.9 745.1 L155.4 745 L155.9 745 L156.4 745 L156.9 745 L157.4 745 L157.9 745 L158.4 745 L158.9 745 L159.4 745 L159.9 745.1 L160.4 745.1 L160.9 745.1 L161.4 745.2 L161.9 745.2 L162.4 745.3 L162.9 745.4 L163.4 745.4 L163.9 745.5 L164.4 745.6 L164.9 745.7 L165.4 745.7 L165.9 745.8 L166.4 745.9 L166.9 746 L167.4 746.2 L167.9 746.3 L168.4 746.4 L168.9 746.5 L169.4 746.7 L169.9 746.8 L170.4 746.9 L170.9 747.1 L171.4 747.2 L171.9 747.4 L172.4 747.6 L172.9 747.7 L173.4 747.9 L173.9 748.1 L174.4 748.3 L174.9 748.4 L175.4 748.6 L175.9 748.8 L176.4 749 L176.9 749.2 L177.4 749.4 L177.9 749.6 L178.4 749.9 L178.9 750.1 L179.4 750.3 L179.9 750.5 L180.4 750.8 L180.9 751 L181.4 751.2 L181.9 751.5 L182.4 751.7 L182.9 751.9 L183.4 752.2 L183.9 752.4 L184.4 752.7 L184.9 753 L185.4 753.2 L185.9 753.5 L186.4 753.7 L186.9 754 L187.4 754.3 L187.9 754.5 L188.4 754.8 L188.9 755.1 L189.4 755.4 L189.9 755.6 L190.4 755.9 L190.9 756.2 L191.4 756.5 L191.9 756.8 L192.4 757.1 L192.9 757.3 L193.4 757.6 L193.9 757.9 L194.4 758.2 L194.9 758.5 L195.4 758.8 L195.9 759.1 L196.4 759.4 L196.9 759.7 L197.4 760 L197.9 760.2 L198.4 760.5 L198.9 760.8 L199.4 761.1 L199.9 761.4 L200.4 761.7 L200.9 762 L201.4 762.3 L201.9 762.6 L202.4 762.9 L202.9 763.2 L203.4 763.4 L203.9 763.7 L204.4 764 L204.9 764.3 L205.4 764.6 L205.9 764.9 L206.4 765.2 L206.9 765.4 L207.4 765.7 L207.9 766 L208.4 766.3 L208.9 766.6 L209.4 766.8 L209.9 767.1 L210.4 767.4 L210.9 767.6 L211.4 767.9 L211.9 768.2 L212.4 768.4 L212.9 768.7 L213.4 769 L213.9 769.2 L214.4 769.5 L214.9 769.7 L215.4 770 L215.9 770.2 L216.4 770.5 L216.9 770.7 L217.4 771 L217.9 771.2 L218.4 771.4 L218.9 771.7 L219.4 771.9 L219.9 772.1 L220.4 772.4 L220.9 772.6 L221.4 772.8 L221.9 773 L222.4 773.3 L222.9 773.5 L223.4 773.7 L223.9 773.9 L224.4 774.1 L224.9 774.3 L225.4 774.5 L225.9 774.7 L226.4 774.9 L226.9 775.1 L227.4 775.3 L227.9 775.5 L228.4 775.7 L228.9 775.9 L229.4 776 L229.9 776.2 L230.4 776.4 L230.9 776.6 L231.4 776.8 L231.9 776.9 L232.4 777.1 L232.9 777.3 L233.4 777.4 L233.9 777.6 L234.4 777.7 L234.9 777.9 L235.4 778 L235.9 778.2 L236.4 778.3 L236.9 778.5 L237.4 778.6 L237.9 778.8 L238.4 778.9 L238.9 779 L239.4 779.2 L239.9 779.3 L240.4 779.4 L240.9 779.5 L241.4 779.7 L241.9 779.8 L242.4 779.9 L242.9 780 L243.4 780.1 L243.9 780.2 L244.4 780.3 L244.9 780.4 L245.4 780.6 L245.9 780.7 L246.4 780.8 L246.9 780.9 L247.4 780.9 L247.9 781 L248.4 781.1 L248.9 781.2 L249.4 781.3 L249.9 781.4 L250.4 781.5 L250.9 781.6 L251.4 781.6 L251.9 781.7 L252.4 781.8 L252.9 781.9 L253.4 782 L253.9 782 L254.4 782.1 L254.9 782.2 L255.4 782.2 L255.9 782.3 L256.4 782.4 L256.9 782.4 L257.4 782.5 L257.9 782.5 L258.4 782.6 L258.9 782.7 L259.4 782.7 L259.9 782.8 L260.4 782.8 L260.9 782.9 L261.4 782.9 L261.9 783 L262.4 783 L262.9 783.1 L263.4 783.1 L263.9 783.1 L264.4 783.2 L264.9 783.2 L265.4 783.3 L265.9 783.3 L266.4 783.3 L266.9 783.4 L267.4 783.4 L267.9 783.5 L268.4 783.5 L268.9 783.5 L269.4 783.6 L269.9 783.6 L270.4 783.6 L270.9 783.6 L271.4 783.7 L271.9 783.7 L272.4 783.7 L272.9 783.8 L273.4 783.8 L273.9 783.8 L274.4 783.8 L274.9 783.8 L275.4 783.9 L275.9 783.9 L276.4 783.9 L276.9 783.9 L277.4 784 L277.9 784 L278.4 784 L278.9 784 L279.4 784 L279.9 784 L280.4 784.1 L280.9 784.1 L281.4 784.1 L281.9 784.1 L282.4 784.1 L282.9 784.1 L283.4 784.1 L283.9 784.2 L284.4 784.2 L284.9 784.2 L285.4 784.2 L285.9 784.2 L286.4 784.2 L286.9 784.2 L287.4 784.2 L287.9 784.3 L288.4 784.3 L288.9 784.3 L289.4 784.3 L289.9 784.3 L290.4 784.3 L290.9 784.3 L291.4 784.3 L291.9 784.3 L292.4 784.3 L292.9 784.3 L293.4 784.3 L293.9 784.3 L294.4 784.4 L294.9 784.4 L295.4 784.4 L295.9 784.4 L296.4 784.4 L296.9 784.4 L297.4 784.4 L297.9 784.4 L298.4 784.4 L298.9 784.4 L299.4 784.4 L299.9 784.4 L300.4 784.4 L300.9 784.4 L301.4 784.4 L301.9 784.4 L302.4 784.4 L302.9 784.4 L303.4 784.4 L303.9 784.4 L304.4 784.4 L304.9 784.4 L305.4 784.4 L305.9 784.4 L306.4 784.4 L306.9 784.4 L307.4 784.5 L307.9 784.5 L308.4 784.5 L308.9 784.5 L309.4 784.5 L309.9 784.5 L310.4 784.5 L310.9 784.5 L311.4 784.5 L311.9 784.5 L312.4 784.5 L312.9 784.5 L313.4 784.5 L313.9 784.5 L314.4 784.5 L314.9 784.5 L315.4 784.5 L315.9 784.5 L316.4 784.5 L316.9 784.5 L317.4 784.5 L317.9 784.5 L318.4 784.5 L318.9 784.5 L319.4 784.5 L319.9 784.5 L320.4 784.5 L320.9 784.5 L321.4 784.5" fill="none" stroke="#c8b8e8" stroke-width="0.5" opacity="0.6"/>
<path d="M69.3 784.5 L69.8 784.5 L70.3 784.5 L70.8 784.5 L71.3 784.5 L71.8 784.5 L72.3 784.5 L72.8 784.5 L73.3 784.5 L73.8 784.5 L74.3 784.5 L74.8 784.5 L75.3 784.5 L75.8 784.5 L76.3 784.5 L76.8 784.5 L77.3 784.5 L77.8 784.5 L78.3 784.5 L78.8 784.5 L79.3 784.5 L79.8 784.5 L80.3 784.5 L80.8 784.5 L81.3 784.5 L81.8 784.5 L82.3 784.5 L82.8 784.5 L83.3 784.5 L83.8 784.5 L84.3 784.5 L84.8 784.5 L85.3 784.5 L85.8 784.5 L86.3 784.5 L86.8 784.5 L87.3 784.5 L87.8 784.5 L88.3 784.5 L88.8 784.5 L89.3 784.5 L89.8 784.5 L90.3 784.5 L90.8 784.5 L91.3 784.5 L91.8 784.5 L92.3 784.5 L92.8 784.5 L93.3 784.5 L93.8 784.5 L94.3 784.5 L94.8 784.5 L95.3 784.5 L95.8 784.5 L96.3 784.5 L96.8 784.5 L97.3 784.5 L97.8 784.5 L98.3 784.4 L98.8 784.4 L99.3 784.4 L99.8 784.4 L100.3 784.4 L100.8 784.4 L101.3 784.4 L101.8 784.4 L102.3 784.4 L102.8 784.4 L103.3 784.4 L103.8 784.4 L104.3 784.4 L104.8 784.4 L105.3 784.4 L105.8 784.4 L106.3 784.4 L106.8 784.4 L107.3 784.4 L107.8 784.4 L108.3 784.4 L108.8 784.4 L109.3 784.4 L109.8 784.4 L110.3 784.4 L110.8 784.4 L111.3 784.4 L111.8 784.4 L112.3 784.4 L112.8 784.3 L113.3 784.3 L113.8 784.3 L114.3 784.3 L114.8 784.3 L115.3 784.3 L115.8 784.3 L116.3 784.3 L116.8 784.3 L117.3 784.3 L117.8 784.3 L118.3 784.3 L118.8 784.3 L119.3 784.3 L119.8 784.2 L120.3 784.2 L120.8 784.2 L121.3 784.2 L121.8 784.2 L122.3 784.2 L122.8 784.2 L123.3 784.2 L123.8 784.2 L124.3 784.2 L124.8 784.1 L125.3 784.1 L125.8 784.1 L126.3 784.1 L126.8 784.1 L127.3 784.1 L127.8 784.1 L128.3 784.1 L128.8 784 L129.3 784 L129.8 784 L130.3 784 L130.8 784 L131.3 784 L131.8 783.9 L132.3 783.9 L132.8 783.9 L133.3 783.9 L133.8 783.9 L134.3 783.9 L134.8 783.8 L135.3 783.8 L135.8 783.8 L136.3 783.8 L136.8 783.8 L137.3 783.7 L137.8 783.7 L138.3 783.7 L138.8 783.7 L139.3 783.6 L139.8 783.6 L140.3 783.6 L140.8 783.6 L141.3 783.5 L141.8 783.5 L142.3 783.5 L142.8 783.5 L143.3 783.4 L143.8 783.4 L144.3 783.4 L144.8 783.3 L145.3 783.3 L145.8 783.3 L146.3 783.2 L146.8 783.2 L147.3 783.2 L147.8 783.1 L148.3 783.1 L148.8 783.1 L149.3 783 L149.8 783 L150.3 783 L150.8 782.9 L151.3 782.9 L151.8 782.8 L152.3 782.8 L152.8 782.8 L153.3 782.7 L153.8 782.7 L154.3 782.6 L154.8 782.6 L155.3 782.5 L155.8 782.5 L156.3 782.5 L156.8 782.4 L157.3 782.4 L157.8 782.3 L158.3 782.3 L158.8 782.2 L159.3 782.2 L159.8 782.1 L160.3 782.1 L160.8 782 L161.3 782 L161.8 781.9 L162.3 781.8 L162.8 781.8 L163.3 781.7 L163.8 781.7 L164.3 781.6 L164.8 781.6 L165.3 781.5 L165.8 781.4 L166.3 781.4 L166.8 781.3 L167.3 781.3 L167.8 781.2 L168.3 781.1 L168.8 781.1 L169.3 781 L169.8 780.9 L170.3 780.9 L170.8 780.8 L171.3 780.7 L171.8 780.7 L172.3 780.6 L172.8 780.5 L173.3 780.4 L173.8 780.4 L174.3 780.3 L174.8 780.2 L175.3 780.2 L175.8 780.1 L176.3 780 L176.8 779.9 L177.3 779.9 L177.8 779.8 L178.3 779.7 L178.8 779.6 L179.3 779.6 L179.8 779.5 L180.3 779.4 L180.8 779.3 L181.3 779.2 L181.8 779.2 L182.3 779.1 L182.8 779 L183.3 778.9 L183.8 778.8 L184.3 778.8 L184.8 778.7 L185.3 778.6 L185.8 778.5 L186.3 778.4 L186.8 778.4 L187.3 778.3 L187.8 778.2 L188.3 778.1 L188.8 778 L189.3 777.9 L189.8 777.9 L190.3 777.8 L190.8 777.7 L191.3 777.6 L191.8 777.5 L192.3 777.5 L192.8 777.4 L193.3 777.3 L193.8 777.2 L194.3 777.1 L194.8 777.1 L195.3 777 L195.8 776.9 L196.3 776.8 L196.8 776.7 L197.3 776.7 L197.8 776.6 L198.3 776.5 L198.8 776.4 L199.3 776.3 L199.8 776.3 L200.3 776.2 L200.8 776.1 L201.3 776 L201.8 776 L202.3 775.9 L202.8 775.8 L203.3 775.8 L203.8 775.7 L204.3 775.6 L204.8 775.5 L205.3 775.5 L205.8 775.4 L206.3 775.3 L206.8 775.3 L207.3 775.2 L207.8 775.2 L208.3 775.1 L208.8 775 L209.3 775 L209.8 774.9 L210.3 774.9 L210.8 774.8 L211.3 774.7 L211.8 774.7 L212.3 774.6 L212.8 774.6 L213.3 774.5 L213.8 774.5 L214.3 774.4 L214.8 774.4 L215.3 774.3 L215.8 774.3 L216.3 774.3 L216.8 774.2 L217.3 774.2 L217.8 774.1 L218.3 774.1 L218.8 774.1 L219.3 774 L219.8 774 L220.3 774 L220.8 773.9 L221.3 773.9 L221.8 773.9 L222.3 773.9 L222.8 773.8 L223.3 773.8 L223.8 773.8 L224.3 773.8 L224.8 773.8 L225.3 773.8 L225.8 773.7 L226.3 773.7 L226.8 773.7 L227.3 773.7 L227.8 773.7 L228.3 773.7 L228.8 773.7 L229.3 773.7 L229.8 773.7 L230.3 773.7 L230.8 773.7 L231.3 773.7 L231.8 773.7 L232.3 773.7 L232.8 773.7 L233.3 773.8 L233.8 773.8 L234.3 773.8 L234.8 773.8 L235.3 773.8 L235.8 773.8 L236.3 773.9 L236.8 773.9 L237.3 773.9 L237.8 773.9 L238.3 774 L238.8 774 L239.3 774 L239.8 774.1 L240.3 774.1 L240.8 774.1 L241.3 774.2 L241.8 774.2 L242.3 774.3 L242.8 774.3 L243.3 774.3 L243.8 774.4 L244.3 774.4 L244.8 774.5 L245.3 774.5 L245.8 774.6 L246.3 774.6 L246.8 774.7 L247.3 774.7 L247.8 774.8 L248.3 774.9 L248.8 774.9 L249.3 775 L249.8 775 L250.3 775.1 L250.8 775.2 L251.3 775.2 L251.8 775.3 L252.3 775.3 L252.8 775.4 L253.3 775.5 L253.8 775.5 L254.3 775.6 L254.8 775.7 L255.3 775.8 L255.8 775.8 L256.3 775.9 L256.8 776 L257.3 776 L257.8 776.1 L258.3 776.2 L258.8 776.3 L259.3 776.3 L259.8 776.4 L260.3 776.5 L260.8 776.6 L261.3 776.7 L261.8 776.7 L262.3 776.8 L262.8 776.9 L263.3 777 L263.8 777.1 L264.3 777.1 L264.8 777.2 L265.3 777.3 L265.8 777.4 L266.3 777.5 L266.8 777.5 L267.3 777.6 L267.8 777.7 L268.3 777.8 L268.8 777.9 L269.3 777.9 L269.8 778 L270.3 778.1 L270.8 778.2 L271.3 778.3 L271.8 778.4 L272.3 778.4 L272.8 778.5 L273.3 778.6 L273.8 778.7 L274.3 778.8 L274.8 778.8 L275.3 778.9 L275.8 779 L276.3 779.1 L276.8 779.2 L277.3 779.2 L277.8 779.3 L278.3 779.4 L278.8 779.5 L279.3 779.6 L279.8 779.6 L280.3 779.7 L280.8 779.8 L281.3 779.9 L281.8 779.9 L282.3 780 L282.8 780.1 L283.3 780.2 L283.8 780.2 L284.3 780.3 L284.8 780.4 L285.3 780.4 L285.8 780.5 L286.3 780.6 L286.8 780.7 L287.3 780.7 L287.8 780.8 L288.3 780.9 L288.8 780.9 L289.3 781 L289.8 781.1 L290.3 781.1 L290.8 781.2 L291.3 781.3 L291.8 781.3 L292.3 781.4 L292.8 781.4 L293.3 781.5 L293.8 781.6 L294.3 781.6 L294.8 781.7 L295.3 781.7 L295.8 781.8 L296.3 781.8 L296.8 781.9 L297.3 782 L297.8 782 L298.3 782.1 L298.8 782.1 L299.3 782.2 L299.8 782.2 L300.3 782.3 L300.8 782.3 L301.3 782.4 L301.8 782.4 L302.3 782.5 L302.8 782.5 L303.3 782.5 L303.8 782.6 L304.3 782.6 L304.8 782.7 L305.3 782.7 L305.8 782.8 L306.3 782.8 L306.8 782.8 L307.3 782.9 L307.8 782.9 L308.3 783 L308.8 783 L309.3 783 L309.8 783.1 L310.3 783.1 L310.8 783.1 L311.3 783.2 L311.8 783.2 L312.3 783.2 L312.8 783.3 L313.3 783.3 L313.8 783.3 L314.3 783.4 L314.8 783.4 L315.3 783.4 L315.8 783.5 L316.3 783.5 L316.8 783.5 L317.3 783.5 L317.8 783.6 L318.3 783.6 L318.8 783.6 L319.3 783.6 L319.8 783.7 L320.3 783.7 L320.8 783.7 L321.3 783.7 L321.8 783.8 L322.3 783.8 L322.8 783.8 L323.3 783.8 L323.8 783.8 L324.3 783.9 L324.8 783.9 L325.3 783.9 L325.8 783.9 L326.3 783.9" fill="none" stroke="#c8b8e8" stroke-width="0.5" opacity="0.6"/>
<path d="M37.4 783.2 L37.8 783.2 L38.1 783.7 L38.5 783.7 L38.8 783.7 L39.2 783.6 L39.5 783.2 L39.9 783.4 L40.2 783.5 L40.6 783.2 L40.9 783.2 L41.3 782.8 L41.6 782.6 L42 782.4 L42.3 781.9 L42.7 781.7 L43 781.3 L43.4 781.1 L43.7 781 L44.1 780.9 L44.4 780.4 L44.8 779.9 L45.1 779.4 L45.5 779.5 L45.8 779.6 L46.2 778.9 L46.5 778.6 L46.9 778.8 L47.2 778.4 L47.6 777.9 L47.9 777.8 L48.3 777.4 L48.6 777.1 L49 776.5 L49.3 776.4 L49.7 776.4 L50 775.9 L50.4 775.4 L50.7 775.5 L51.1 775.6 L51.4 774.2 L51.8 773.5 L52.1 773.5 L52.5 773 L52.8 772.3 L53.2 771.7 L53.5 771.3 L53.9 771.1 L54.2 770.9 L54.6 770.6 L54.9 769.8 L55.3 768.2 L55.6 767.5 L56 767.7 L56.3 766.6 L56.7 765.5 L57 765.1 L57.4 763.8 L57.7 762.7 L58.1 761.7 L58.4 761.2 L58.8 760.6 L59.1 759 L59.5 757.9 L59.8 756.9 L60.2 755.1 L60.5 753.1 L60.9 751.6 L61.2 750.3 L61.6 749.8 L61.9 749.4 L62.3 748.3 L62.6 745.7 L63 743.4 L63.3 742.9 L63.7 742 L64 739.5 L64.4 736.5 L64.7 734.6 L65.1 733.1 L65.4 731.9 L65.8 730.4 L66.1 727.9 L66.5 726.3 L66.8 723.9 L67.2 721.2 L67.5 720.2 L67.9 717.9 L68.2 714.7 L68.6 711.1 L68.9 708.1 L69.3 705.4 L69.6 702.7 L70 700.4 L70.3 699.7 L70.7 697.7 L71 694.6 L71.4 694.8 L71.7 694 L72.1 692.8 L72.4 692.2 L72.8 689.6 L73.1 687.7 L73.5 685 L73.8 682.8 L74.2 683.7 L74.5 682.5 L74.9 679.9 L75.2 680.5 L75.6 679.6 L75.9 674.5 L76.3 673.5 L76.6 671.1 L77 669.1 L77.3 670.4 L77.7 668 L78 665.5 L78.4 664 L78.7 665.8 L79.1 663.7 L79.4 658.8 L79.8 658.2 L80.1 657.2 L80.5 657.7 L80.8 657.2 L81.2 654 L81.5 653.3 L81.9 652.6 L82.2 650.6 L82.6 648.9 L82.9 647.9 L83.3 647 L83.6 645.8 L84 644.9 L84.3 645.8 L84.7 643.7 L85 641.9 L85.4 643.3 L85.7 642 L86.1 640.4 L86.4 641.1 L86.8 640 L87.1 638.7 L87.5 639.1 L87.8 638 L88.2 637.1 L88.5 637.2 L88.9 638 L89.2 635.3 L89.6 634.2 L89.9 634.1 L90.3 631.3 L90.6 631.7 L91 632.3 L91.3 629.5 L91.7 630.6 L92 631.5 L92.4 629.9 L92.7 630.3 L93.1 629.6 L93.4 628.7 L93.8 627.8 L94.1 627.3 L94.5 626 L94.8 626.7 L95.2 626.8 L95.5 625.4 L95.9 624.1 L96.2 622.4 L96.6 622.8 L96.9 621.4 L97.3 622.5 L97.6 623.3 L98 620.8 L98.3 620.2 L98.7 620.3 L99 621.1 L99.4 621.4 L99.7 619.6 L100.1 617 L100.4 617.2 L100.8 618 L101.1 616.9 L101.5 618.2 L101.8 617.5 L102.2 614.5 L102.5 616.6 L102.9 616.8 L103.2 615 L103.6 614.1 L103.9 612.5 L104.3 612.3 L104.6 611.4 L105 612.8 L105.3 614.9 L105.7 616.1 L106 615.2 L106.4 611.8 L106.7 612.8 L107.1 612.5 L107.4 612.1 L107.8 611.8 L108.1 607.8 L108.5 607.7 L108.8 609.2 L109.2 609.9 L109.5 609.4 L109.9 608.7 L110.2 609.3 L110.6 607.5 L110.9 605.5 L111.3 605.4 L111.6 604.4 L112 605.2 L112.3 607.8 L112.7 607 L113 605.1 L113.4 603.8 L113.7 605.2 L114.1 607.9 L114.4 604.2 L114.8 605.3 L115.1 610.1 L115.5 606.8 L115.8 604.9 L116.2 605.9 L116.5 606.6 L116.9 606.1 L117.2 606.3 L117.6 607.8 L117.9 610.7 L118.3 610.1 L118.6 606.5 L119 608.2 L119.3 609.4 L119.7 608.8 L120 609.4 L120.4 609.3 L120.7 609.2 L121.1 609.7 L121.4 610 L121.8 610.7 L122.1 614.7 L122.5 616.1 L122.8 613.8 L123.2 613.6 L123.5 617 L123.9 618.5 L124.2 618.3 L124.6 618.1 L124.9 616.6 L125.3 620.1 L125.6 621.7 L126 622.9 L126.3 627.1 L126.7 627.1 L127 626.9 L127.4 628.6 L127.7 629.7 L128.1 631.1 L128.4 632.8 L128.8 634.4 L129.1 636.4 L129.5 638.5 L129.8 640.4 L130.2 641.2 L130.5 641.3 L130.9 643 L131.2 645.9 L131.6 646.8 L131.9 646.9 L132.3 650.1 L132.6 649.6 L133 649.4 L133.3 653.2 L133.7 655.6 L134 658.7 L134.4 659.6 L134.7 659.1 L135.1 660.8 L135.4 661.9 L135.8 663.2 L136.1 665.3 L136.5 667.2 L136.8 667.8 L137.2 668.4 L137.5 671.5 L137.9 672.8 L138.2 673.5 L138.6 674.3 L138.9 675.5 L139.3 678.5 L139.6 679.4 L140 678.2 L140.3 679.1 L140.7 680.9 L141 683.5 L141.4 684.8 L141.7 686 L142.1 688.4 L142.4 688.3 L142.8 688.5 L143.1 690.1 L143.5 691.7 L143.8 693.7 L144.2 694.3 L144.5 694 L144.9 694.5 L145.2 696.3 L145.6 697.5 L145.9 698.2 L146.3 699.4 L146.6 701.2 L147 702.2 L147.3 702.4 L147.7 702.9 L148 703.7 L148.4 704.5 L148.7 706.7 L149.1 708.2 L149.4 708.7 L149.8 710.6 L150.1 711.4 L150.5 711.8 L150.8 712.3 L151.2 713.8 L151.5 715.6 L151.9 716.5 L152.2 718 L152.6 718.3 L152.9 719 L153.3 718.9 L153.6 719 L154 719.3 L154.3 720.8 L154.7 722.7 L155 723.4 L155.4 724.3 L155.7 724.7 L156.1 724.2 L156.4 722.9 L156.8 723.1 L157.1 725.4 L157.5 726.3 L157.8 726.1 L158.2 726.6 L158.5 726.7 L158.9 726.6 L159.2 726.2 L159.6 727.4 L159.9 728.1 L160.3 729.2 L160.6 730.7 L161 730.9 L161.3 731.4 L161.7 731 L162 731.3 L162.4 733.4 L162.7 733.9 L163.1 733.5 L163.4 735.4 L163.8 735.4 L164.1 735 L164.5 736.6 L164.8 737.9 L165.2 738.5 L165.5 738 L165.9 736.9 L166.2 736.8 L166.6 737 L166.9 737.5 L167.3 737.9 L167.6 738.4 L168 739.5 L168.3 739 L168.7 739 L169 739.5 L169.4 739.6 L169.7 739.6 L170.1 740.1 L170.4 740.2 L170.8 739.9 L171.1 740.2 L171.5 740.2 L171.8 740.7 L172.2 741.6 L172.5 740.3 L172.9 740 L173.2 741 L173.6 741.3 L173.9 741.8 L174.3 742.7 L174.6 743.3 L175 742.1 L175.3 742.1 L175.7 742.3 L176 742.6 L176.4 743.9 L176.7 743.3 L177.1 743.2 L177.4 743.5 L177.8 744.5 L178.1 744.7 L178.5 744.2 L178.8 744.8 L179.2 745.9 L179.5 745.6 L179.9 745.2 L180.2 745.3 L180.6 745.8 L180.9 745.8 L181.3 745.7 L181.6 746.5 L182 746.3 L182.3 746.8 L182.7 747.9 L183 747.5 L183.4 747 L183.7 747.3 L184.1 747.7 L184.4 748.1 L184.8 747.8 L185.1 747.6 L185.5 747.4 L185.8 747.4 L186.2 747.9 L186.5 748.8 L186.9 749.3 L187.2 747.9 L187.6 747.5 L187.9 749 L188.3 749.8 L188.6 748.7 L189 748.4 L189.3 749.9 L189.7 749.8 L190 749.1 L190.4 749.6 L190.7 749.5 L191.1 750 L191.4 750.6 L191.8 750.4 L192.1 750.2 L192.5 750.7 L192.8 751 L193.2 750.4 L193.5 750.6 L193.9 750.6 L194.2 750.5 L194.6 752.1 L194.9 752.1 L195.3 751 L195.6 751.5 L196 752.1 L196.3 752.4 L196.7 752.5 L197 751.9 L197.4 751.7 L197.7 751.7 L198.1 752.3 L198.4 753.4 L198.8 753.6 L199.1 753 L199.5 752.1 L199.8 752.8 L200.2 753.3 L200.5 753 L200.9 753.2 L201.2 753.2 L201.6 753 L201.9 753.8 L202.3 754.8 L202.6 755.1 L203 755.2 L203.3 755.1 L203.7 755.3 L204 755.3 L204.4 755.3 L204.7 755.5 L205.1 754.8 L205.4 755.1 L205.8 756.7 L206.1 757.2 L206.5 756.7 L206.8 756.4 L207.2 756.7 L207.5 757.3 L207.9 758 L208.2 757.2 L208.6 756.5 L208.9 756.8 L209.3 757 L209.6 757.8 L210 757.5 L210.3 756.7 L210.7 757 L211 757.3 L211.4 758.2 L211.7 758.2 L212.1 758.4 L212.4 759.4 L212.8 759.4 L213.1 759.3 L213.5 759.4 L213.8 759.2 L214.2 759.3 L214.5 759.7 L214.9 760.1 L215.2 760.1 L215.6 760.4 L215.9 760.6 L216.3 760.2 L216.6 760.1 L217 760.3 L217.3 760.2 L217.7 760.6 L218 761 L218.4 761.2 L218.7 761 L219.1 761.6 L219.4 762 L219.8 761 L220.1 761.1 L220.5 761.8 L220.8 762 L221.2 762.6 L221.5 763 L221.9 762.8 L222.2 762.7 L222.6 762.9 L222.9 762.6 L223.3 762.3 L223.6 762.7 L224 763.8 L224.3 763.8 L224.7 763.8 L225 764 L225.4 764.1 L225.7 764.1 L226.1 764.2 L226.4 764.1 L226.8 764.3 L227.1 765.3 L227.5 765.5 L227.8 765 L228.2 764.2 L228.5 764.6 L228.9 764.9 L229.2 765 L229.6 765.7 L229.9 765.3 L230.3 765 L230.6 765.8 L231 766.2 L231.3 766.5 L231.7 766.9 L232 767.1 L232.4 766.9 L232.7 766.4 L233.1 766.3 L233.4 767 L233.8 767.1 L234.1 767.6 L234.5 767.4 L234.8 766.6 L235.2 767.6 L235.5 768.4 L235.9 767.9 L236.2 768.5 L236.6 769 L236.9 768.8 L237.3 768.8 L237.6 769.1 L238 768.9 L238.3 768.9 L238.7 769.8 L239 770.1 L239.4 769.8 L239.7 770.3 L240.1 770.4 L240.4 770.5 L240.8 770.6 L241.1 770.3 L241.5 770.5 L241.8 770.7 L242.2 770.4 L242.5 771 L242.9 771.6 L243.2 771.8 L243.6 771.6 L243.9 771.1 L244.3 771.1 L244.6 771.3 L245 771.9 L245.3 772.6 L245.7 772.4 L246 772 L246.4 772.4 L246.7 772.8 L247.1 772.5 L247.4 772.4 L247.8 772.5 L248.1 773 L248.5 773.2 L248.8 772.9 L249.2 773.5 L249.5 773.5 L249.9 773.6 L250.2 773.5 L250.6 773.2 L250.9 774 L251.3 774.4 L251.6 774 L252 773.7 L252.3 773.7 L252.7 774.1 L253 774.6 L253.4 774.7 L253.7 774.8 L254.1 775.5 L254.4 775.9 L254.8 775 L255.1 774.9 L255.5 775.1 L255.8 775.2 L256.2 775.5 L256.5 775.6 L256.9 775.7 L257.2 775.3 L257.6 775.6 L257.9 775.7 L258.3 775.5 L258.6 775.8 L259 776.2 L259.3 776.2 L259.7 776.2 L260 776.5 L260.4 777.1 L260.7 777 L261.1 776.7 L261.4 777.1 L261.8 777.1 L262.1 777 L262.5 777.3 L262.8 777.2 L263.2 776.5 L263.5 776.6 L263.9 777.4 L264.2 777.6 L264.6 777.7 L264.9 777.9 L265.3 777.9 L265.6 777.6 L266 777.4 L266.3 777.3 L266.7 777.8 L267 778 L267.4 777.7 L267.7 778.2 L268.1 778.2 L268.4 778.1 L268.8 778.2 L269.1 778 L269.5 778.1 L269.8 778.4 L270.2 778.5 L270.5 778.6 L270.9 778.6 L271.2 778.9 L271.6 779 L271.9 778.3 L272.3 778.2 L272.6 778.4 L273 778.7 L273.3 778.7 L273.7 778.9 L274 779.1 L274.4 778.8 L274.7 779.2 L275.1 779 L275.4 779.2 L275.8 779.5 L276.1 778.8 L276.5 779.3 L276.8 779.7 L277.2 779.1 L277.5 779.3 L277.9 780 L278.2 780.2 L278.6 780.1 L278.9 779.6 L279.3 779.4 L279.6 779.8 L280 780.1 L280.3 779.9 L280.7 780.1 L281 780 L281.4 780.1 L281.7 780.1 L282.1 779.8 L282.4 780 L282.8 780.3 L283.1 780.6 L283.5 780.2 L283.8 779.8 L284.2 780 L284.5 780.2 L284.9 780.2 L285.2 780.1 L285.6 780.6 L285.9 780.9 L286.3 780.7 L286.6 780.8 L287 780.8 L287.3 780.3 L287.7 780.1 L288 780.5 L288.4 780.9 L288.7 780.8 L289.1 780.6 L289.4 780.7 L289.8 781 L290.1 781.2 L290.5 781.5 L290.8 781.1 L291.2 781.2 L291.5 781.6 L291.9 781.5 L292.2 781.3 L292.6 781.3 L292.9 781 L293.3 781.1 L293.6 781.3 L294 781.1 L294.3 781.2 L294.7 781.1 L295 781.3 L295.4 781 L295.7 781.1 L296.1 781.5 L296.4 781.5 L296.8 781.6 L297.1 782 L297.5 781.8 L297.8 781.7 L298.2 781.7 L298.5 781.3 L298.9 781.4 L299.2 781.4 L299.6 781.3 L299.9 781.9 L300.3 781.8 L300.6 781.2 L301 781.3 L301.3 781.6 L301.7 781.9 L302 781.7 L302.4 781.5 L302.7 781.7 L303.1 781.8 L303.4 781.9 L303.8 781.8 L304.1 781.9 L304.5 782.2 L304.8 782 L305.2 781.7 L305.5 781.7 L305.9 782 L306.2 782.4 L306.6 782.5 L306.9 782.2 L307.3 782 L307.6 782.5 L308 782.6 L308.3 782.8 L308.7 783.1 L309 782.7 L309.4 782.6 L309.7 782.9 L310.1 783.1 L310.4 782.9 L310.8 782.6 L311.1 782.6 L311.5 782.8 L311.8 782.4 L312.2 782.5 L312.5 782.9 L312.9 782.8 L313.2 783.3 L313.6 783.3 L313.9 782.7 L314.3 783 L314.6 783.2 L315 783.3 L315.3 783.2 L315.7 783.4 L316 783.3 L316.4 782.8 L316.7 782.8 L317.1 783.1 L317.4 783.3 L317.8 783.7 L318.1 783.7 L318.5 783.3 L318.8 783.2 L319.2 783.2 L319.5 783.4 L319.9 783.3 L320.2 783.5 L320.6 783.5 L320.9 783.2 L321.3 783.4 L321.6 783.2 L322 783.3 L322.3 783.6 L322.7 783.8 L323 783.9 L323.4 783.3 L323.7 783.3 L324.1 783.5 L324.4 783.3 L324.8 783.3 L325.1 783.8 L325.5 783.9 L325.8 783.6 L326.2 783.8 L326.5 784.1" fill="none" stroke="#111" stroke-width="2.3" stroke-linejoin="round"/>
<path d="M37.4 783.7 L37.8 783.7 L38.1 783.7 L38.5 783.7 L38.8 783.6 L39.2 783.6 L39.5 783.6 L39.9 783.5 L40.2 783.4 L40.6 783.3 L40.9 783.2 L41.3 783 L41.6 782.8 L42 782.5 L42.3 782.2 L42.7 781.9 L43 781.6 L43.4 781.2 L43.7 780.9 L44.1 780.6 L44.4 780.4 L44.8 780.1 L45.1 779.9 L45.5 779.6 L45.8 779.4 L46.2 779.2 L46.5 779 L46.9 778.7 L47.2 778.5 L47.6 778.3 L47.9 778 L48.3 777.8 L48.6 777.5 L49 777.2 L49.3 776.9 L49.7 776.6 L50 776.3 L50.4 776 L50.7 775.6 L51.1 775.3 L51.4 774.9 L51.8 774.5 L52.1 774.1 L52.5 773.7 L52.8 773.2 L53.2 772.7 L53.5 772.2 L53.9 771.7 L54.2 771.2 L54.6 770.6 L54.9 769.9 L55.3 769.3 L55.6 768.6 L56 767.8 L56.3 767.1 L56.7 766.3 L57 765.4 L57.4 764.5 L57.7 763.6 L58.1 762.6 L58.4 761.5 L58.8 760.4 L59.1 759.3 L59.5 758.1 L59.8 757 L60.2 755.8 L60.5 754.5 L60.9 753.3 L61.2 752 L61.6 750.6 L61.9 749.2 L62.3 747.8 L62.6 746.3 L63 744.7 L63.3 743 L63.7 741.3 L64 739.5 L64.4 737.6 L64.7 735.7 L65.1 733.8 L65.4 732 L65.8 730.2 L66.1 728.4 L66.5 726.5 L66.8 724.5 L67.2 722.3 L67.5 719.8 L67.9 717.2 L68.2 714.6 L68.6 711.9 L68.9 709.3 L69.3 706.9 L69.6 704.6 L70 702.5 L70.3 700.6 L70.7 698.7 L71 697 L71.4 695.3 L71.7 693.7 L72.1 692.1 L72.4 690.5 L72.8 689 L73.1 687.5 L73.5 686 L73.8 684.5 L74.2 683 L74.5 681.6 L74.9 680.2 L75.2 678.8 L75.6 677.5 L75.9 676.1 L76.3 674.7 L76.6 673.4 L77 672 L77.3 670.6 L77.7 669.1 L78 667.6 L78.4 666.2 L78.7 664.7 L79.1 663.2 L79.4 661.7 L79.8 660.2 L80.1 658.8 L80.5 657.5 L80.8 656.2 L81.2 654.9 L81.5 653.7 L81.9 652.6 L82.2 651.5 L82.6 650.4 L82.9 649.4 L83.3 648.4 L83.6 647.5 L84 646.5 L84.3 645.6 L84.7 644.8 L85 644 L85.4 643.2 L85.7 642.4 L86.1 641.7 L86.4 641 L86.8 640.3 L87.1 639.6 L87.5 639 L87.8 638.3 L88.2 637.7 L88.5 637.1 L88.9 636.5 L89.2 636 L89.6 635.4 L89.9 634.8 L90.3 634.2 L90.6 633.6 L91 633.1 L91.3 632.5 L91.7 631.9 L92 631.3 L92.4 630.8 L92.7 630.2 L93.1 629.6 L93.4 629.1 L93.8 628.6 L94.1 628 L94.5 627.5 L94.8 627 L95.2 626.5 L95.5 626 L95.9 625.5 L96.2 625 L96.6 624.6 L96.9 624.1 L97.3 623.7 L97.6 623.2 L98 622.8 L98.3 622.4 L98.7 622 L99 621.5 L99.4 621.1 L99.7 620.7 L100.1 620.3 L100.4 620 L100.8 619.6 L101.1 619.2 L101.5 618.8 L101.8 618.4 L102.2 618.1 L102.5 617.7 L102.9 617.4 L103.2 617 L103.6 616.7 L103.9 616.4 L104.3 616 L104.6 615.7 L105 615.3 L105.3 615 L105.7 614.6 L106 614.3 L106.4 613.9 L106.7 613.6 L107.1 613.2 L107.4 612.8 L107.8 612.4 L108.1 612.1 L108.5 611.7 L108.8 611.3 L109.2 611 L109.5 610.6 L109.9 610.3 L110.2 610 L110.6 609.7 L110.9 609.4 L111.3 609.1 L111.6 608.8 L112 608.5 L112.3 608.3 L112.7 608 L113 607.7 L113.4 607.5 L113.7 607.3 L114.1 607.1 L114.4 607 L114.8 606.9 L115.1 606.9 L115.5 606.9 L115.8 607 L116.2 607.1 L116.5 607.3 L116.9 607.5 L117.2 607.7 L117.6 607.9 L117.9 608.2 L118.3 608.5 L118.6 608.8 L119 609.2 L119.3 609.6 L119.7 610 L120 610.5 L120.4 611 L120.7 611.6 L121.1 612.2 L121.4 612.9 L121.8 613.6 L122.1 614.4 L122.5 615.3 L122.8 616.2 L123.2 617.2 L123.5 618.2 L123.9 619.2 L124.2 620.2 L124.6 621.3 L124.9 622.4 L125.3 623.6 L125.6 624.7 L126 626 L126.3 627.2 L126.7 628.5 L127 629.7 L127.4 631 L127.7 632.4 L128.1 633.7 L128.4 635.1 L128.8 636.5 L129.1 637.9 L129.5 639.3 L129.8 640.6 L130.2 642 L130.5 643.3 L130.9 644.6 L131.2 645.9 L131.6 647.1 L131.9 648.4 L132.3 649.6 L132.6 650.9 L133 652.2 L133.3 653.6 L133.7 655.1 L134 656.7 L134.4 658.4 L134.7 660.1 L135.1 661.9 L135.4 663.6 L135.8 665.3 L136.1 667 L136.5 668.6 L136.8 670 L137.2 671.4 L137.5 672.7 L137.9 673.9 L138.2 675.1 L138.6 676.3 L138.9 677.4 L139.3 678.5 L139.6 679.7 L140 680.8 L140.3 682 L140.7 683.2 L141 684.3 L141.4 685.5 L141.7 686.6 L142.1 687.8 L142.4 688.9 L142.8 690 L143.1 691.1 L143.5 692.3 L143.8 693.3 L144.2 694.4 L144.5 695.5 L144.9 696.5 L145.2 697.6 L145.6 698.6 L145.9 699.6 L146.3 700.6 L146.6 701.6 L147 702.6 L147.3 703.6 L147.7 704.6 L148 705.7 L148.4 706.7 L148.7 707.7 L149.1 708.8 L149.4 709.9 L149.8 710.9 L150.1 712 L150.5 713 L150.8 714 L151.2 715.1 L151.5 716 L151.9 717 L152.2 717.9 L152.6 718.7 L152.9 719.5 L153.3 720.3 L153.6 720.9 L154 721.6 L154.3 722.1 L154.7 722.6 L155 723.1 L155.4 723.5 L155.7 723.9 L156.1 724.2 L156.4 724.6 L156.8 724.9 L157.1 725.3 L157.5 725.6 L157.8 726 L158.2 726.3 L158.5 726.8 L158.9 727.2 L159.2 727.7 L159.6 728.3 L159.9 728.9 L160.3 729.6 L160.6 730.3 L161 731 L161.3 731.8 L161.7 732.6 L162 733.4 L162.4 734.1 L162.7 734.8 L163.1 735.4 L163.4 735.9 L163.8 736.4 L164.1 736.8 L164.5 737.1 L164.8 737.4 L165.2 737.7 L165.5 738 L165.9 738.2 L166.2 738.5 L166.6 738.7 L166.9 738.9 L167.3 739.1 L167.6 739.3 L168 739.4 L168.3 739.6 L168.7 739.8 L169 739.9 L169.4 740.1 L169.7 740.2 L170.1 740.4 L170.4 740.5 L170.8 740.7 L171.1 740.8 L171.5 741 L171.8 741.2 L172.2 741.3 L172.5 741.5 L172.9 741.7 L173.2 741.9 L173.6 742.1 L173.9 742.3 L174.3 742.5 L174.6 742.7 L175 742.9 L175.3 743.2 L175.7 743.4 L176 743.7 L176.4 743.9 L176.7 744.1 L177.1 744.4 L177.4 744.6 L177.8 744.8 L178.1 745 L178.5 745.2 L178.8 745.4 L179.2 745.6 L179.5 745.8 L179.9 746 L180.2 746.1 L180.6 746.3 L180.9 746.5 L181.3 746.6 L181.6 746.8 L182 746.9 L182.3 747.1 L182.7 747.2 L183 747.4 L183.4 747.5 L183.7 747.6 L184.1 747.8 L184.4 747.9 L184.8 748.1 L185.1 748.2 L185.5 748.3 L185.8 748.5 L186.2 748.6 L186.5 748.7 L186.9 748.9 L187.2 749 L187.6 749.2 L187.9 749.3 L188.3 749.4 L188.6 749.6 L189 749.7 L189.3 749.9 L189.7 750 L190 750.2 L190.4 750.3 L190.7 750.4 L191.1 750.6 L191.4 750.7 L191.8 750.9 L192.1 751 L192.5 751.2 L192.8 751.3 L193.2 751.4 L193.5 751.6 L193.9 751.7 L194.2 751.9 L194.6 752 L194.9 752.1 L195.3 752.3 L195.6 752.4 L196 752.6 L196.3 752.7 L196.7 752.9 L197 753 L197.4 753.1 L197.7 753.3 L198.1 753.4 L198.4 753.6 L198.8 753.7 L199.1 753.8 L199.5 754 L199.8 754.1 L200.2 754.3 L200.5 754.4 L200.9 754.5 L201.2 754.7 L201.6 754.8 L201.9 755 L202.3 755.1 L202.6 755.2 L203 755.4 L203.3 755.5 L203.7 755.7 L204 755.8 L204.4 755.9 L204.7 756.1 L205.1 756.2 L205.4 756.4 L205.8 756.5 L206.1 756.6 L206.5 756.8 L206.8 756.9 L207.2 757.1 L207.5 757.2 L207.9 757.3 L208.2 757.5 L208.6 757.6 L208.9 757.7 L209.3 757.9 L209.6 758 L210 758.2 L210.3 758.3 L210.7 758.4 L211 758.6 L211.4 758.7 L211.7 758.9 L212.1 759 L212.4 759.1 L212.8 759.3 L213.1 759.4 L213.5 759.6 L213.8 759.7 L214.2 759.8 L214.5 760 L214.9 760.1 L215.2 760.2 L215.6 760.4 L215.9 760.5 L216.3 760.7 L216.6 760.8 L217 760.9 L217.3 761.1 L217.7 761.2 L218 761.4 L218.4 761.5 L218.7 761.6 L219.1 761.8 L219.4 761.9 L219.8 762.1 L220.1 762.2 L220.5 762.3 L220.8 762.5 L221.2 762.6 L221.5 762.7 L221.9 762.9 L222.2 763 L222.6 763.2 L222.9 763.3 L223.3 763.4 L223.6 763.6 L224 763.7 L224.3 763.9 L224.7 764 L225 764.1 L225.4 764.3 L225.7 764.4 L226.1 764.6 L226.4 764.7 L226.8 764.8 L227.1 765 L227.5 765.1 L227.8 765.3 L228.2 765.4 L228.5 765.5 L228.9 765.7 L229.2 765.8 L229.6 765.9 L229.9 766.1 L230.3 766.2 L230.6 766.4 L231 766.5 L231.3 766.6 L231.7 766.8 L232 766.9 L232.4 767.1 L232.7 767.2 L233.1 767.3 L233.4 767.5 L233.8 767.6 L234.1 767.8 L234.5 767.9 L234.8 768.1 L235.2 768.2 L235.5 768.3 L235.9 768.5 L236.2 768.6 L236.6 768.8 L236.9 768.9 L237.3 769.1 L237.6 769.2 L238 769.4 L238.3 769.5 L238.7 769.6 L239 769.8 L239.4 769.9 L239.7 770.1 L240.1 770.2 L240.4 770.4 L240.8 770.5 L241.1 770.6 L241.5 770.8 L241.8 770.9 L242.2 771.1 L242.5 771.2 L242.9 771.3 L243.2 771.5 L243.6 771.6 L243.9 771.7 L244.3 771.9 L244.6 772 L245 772.1 L245.3 772.3 L245.7 772.4 L246 772.5 L246.4 772.6 L246.7 772.8 L247.1 772.9 L247.4 773 L247.8 773.1 L248.1 773.2 L248.5 773.4 L248.8 773.5 L249.2 773.6 L249.5 773.7 L249.9 773.8 L250.2 774 L250.6 774.1 L250.9 774.2 L251.3 774.3 L251.6 774.4 L252 774.5 L252.3 774.7 L252.7 774.8 L253 774.9 L253.4 775 L253.7 775.1 L254.1 775.2 L254.4 775.3 L254.8 775.4 L255.1 775.5 L255.5 775.6 L255.8 775.8 L256.2 775.9 L256.5 776 L256.9 776.1 L257.2 776.2 L257.6 776.3 L257.9 776.3 L258.3 776.4 L258.6 776.5 L259 776.6 L259.3 776.7 L259.7 776.8 L260 776.9 L260.4 777 L260.7 777 L261.1 777.1 L261.4 777.2 L261.8 777.3 L262.1 777.3 L262.5 777.4 L262.8 777.5 L263.2 777.6 L263.5 777.6 L263.9 777.7 L264.2 777.8 L264.6 777.8 L264.9 777.9 L265.3 778 L265.6 778 L266 778.1 L266.3 778.1 L266.7 778.2 L267 778.3 L267.4 778.3 L267.7 778.4 L268.1 778.4 L268.4 778.5 L268.8 778.5 L269.1 778.6 L269.5 778.7 L269.8 778.7 L270.2 778.8 L270.5 778.8 L270.9 778.9 L271.2 778.9 L271.6 779 L271.9 779 L272.3 779.1 L272.6 779.1 L273 779.2 L273.3 779.2 L273.7 779.3 L274 779.3 L274.4 779.4 L274.7 779.4 L275.1 779.5 L275.4 779.5 L275.8 779.6 L276.1 779.6 L276.5 779.7 L276.8 779.7 L277.2 779.8 L277.5 779.8 L277.9 779.8 L278.2 779.9 L278.6 779.9 L278.9 780 L279.3 780 L279.6 780.1 L280 780.1 L280.3 780.2 L280.7 780.2 L281 780.2 L281.4 780.3 L281.7 780.3 L282.1 780.4 L282.4 780.4 L282.8 780.5 L283.1 780.5 L283.5 780.5 L283.8 780.6 L284.2 780.6 L284.5 780.7 L284.9 780.7 L285.2 780.7 L285.6 780.8 L285.9 780.8 L286.3 780.8 L286.6 780.9 L287 780.9 L287.3 781 L287.7 781 L288 781 L288.4 781.1 L288.7 781.1 L289.1 781.1 L289.4 781.1 L289.8 781.2 L290.1 781.2 L290.5 781.2 L290.8 781.3 L291.2 781.3 L291.5 781.3 L291.9 781.3 L292.2 781.4 L292.6 781.4 L292.9 781.4 L293.3 781.4 L293.6 781.4 L294 781.5 L294.3 781.5 L294.7 781.5 L295 781.5 L295.4 781.5 L295.7 781.5 L296.1 781.6 L296.4 781.6 L296.8 781.6 L297.1 781.6 L297.5 781.6 L297.8 781.6 L298.2 781.7 L298.5 781.7 L298.9 781.7 L299.2 781.7 L299.6 781.7 L299.9 781.8 L300.3 781.8 L300.6 781.8 L301 781.8 L301.3 781.8 L301.7 781.9 L302 781.9 L302.4 781.9 L302.7 782 L303.1 782 L303.4 782 L303.8 782 L304.1 782.1 L304.5 782.1 L304.8 782.2 L305.2 782.2 L305.5 782.3 L305.9 782.3 L306.2 782.4 L306.6 782.5 L306.9 782.6 L307.3 782.7 L307.6 782.8 L308 782.8 L308.3 782.9 L308.7 783 L309 783 L309.4 783 L309.7 783.1 L310.1 783.1 L310.4 783.1 L310.8 783.1 L311.1 783.1 L311.5 783.2 L311.8 783.2 L312.2 783.2 L312.5 783.2 L312.9 783.3 L313.2 783.3 L313.6 783.3 L313.9 783.3 L314.3 783.3 L314.6 783.4 L315 783.4 L315.3 783.4 L315.7 783.4 L316 783.4 L316.4 783.5 L316.7 783.5 L317.1 783.5 L317.4 783.5 L317.8 783.5 L318.1 783.6 L318.5 783.6 L318.8 783.6 L319.2 783.6 L319.5 783.6 L319.9 783.7 L320.2 783.7 L320.6 783.7 L320.9 783.7 L321.3 783.7 L321.6 783.7 L322 783.7 L322.3 783.8 L322.7 783.8 L323 783.8 L323.4 783.8 L323.7 783.8 L324.1 783.8 L324.4 783.9 L324.8 783.9 L325.1 783.9 L325.5 783.9 L325.8 783.9 L326.2 783.9 L326.5 783.9" fill="none" stroke="#d42424" stroke-width="1.5" stroke-linejoin="round"/>
<rect x="37.4" y="572.8" width="289.2" height="211.7" fill="none" stroke="#222" stroke-width="1.6"/>
<line x1="37.4" y1="784.5" x2="37.4" y2="789" stroke="#222" stroke-width="1.3" />
<text x="0" y="0" transform="translate(37.4 801.8) scale(1.05 1)" font-size="10.8" text-anchor="middle" fill="#111" style="font-weight:bold;" >280</text>
<line x1="73.55" y1="784.5" x2="73.55" y2="789" stroke="#222" stroke-width="1.3" />
<text x="0" y="0" transform="translate(73.55 801.8) scale(1.05 1)" font-size="10.8" text-anchor="middle" fill="#111" style="font-weight:bold;" >320</text>
<line x1="109.7" y1="784.5" x2="109.7" y2="789" stroke="#222" stroke-width="1.3" />
<text x="0" y="0" transform="translate(109.7 801.8) scale(1.05 1)" font-size="10.8" text-anchor="middle" fill="#111" style="font-weight:bold;" >360</text>
<line x1="145.85" y1="784.5" x2="145.85" y2="789" stroke="#222" stroke-width="1.3" />
<text x="0" y="0" transform="translate(145.85 801.8) scale(1.05 1)" font-size="10.8" text-anchor="middle" fill="#111" style="font-weight:bold;" >400</text>
<line x1="182" y1="784.5" x2="182" y2="789" stroke="#222" stroke-width="1.3" />
<text x="0" y="0" transform="translate(182 801.8) scale(1.05 1)" font-size="10.8" text-anchor="middle" fill="#111" style="font-weight:bold;" >440</text>
<line x1="218.15" y1="784.5" x2="218.15" y2="789" stroke="#222" stroke-width="1.3" />
<text x="0" y="0" transform="translate(218.15 801.8) scale(1.05 1)" font-size="10.8" text-anchor="middle" fill="#111" style="font-weight:bold;" >480</text>
<line x1="254.3" y1="784.5" x2="254.3" y2="789" stroke="#222" stroke-width="1.3" />
<text x="0" y="0" transform="translate(254.3 801.8) scale(1.05 1)" font-size="10.8" text-anchor="middle" fill="#111" style="font-weight:bold;" >520</text>
<line x1="290.45" y1="784.5" x2="290.45" y2="789" stroke="#222" stroke-width="1.3" />
<text x="0" y="0" transform="translate(290.45 801.8) scale(1.05 1)" font-size="10.8" text-anchor="middle" fill="#111" style="font-weight:bold;" >560</text>
<line x1="326.6" y1="784.5" x2="326.6" y2="789" stroke="#222" stroke-width="1.3" />
<text x="0" y="0" transform="translate(326.6 801.8) scale(1.05 1)" font-size="10.8" text-anchor="middle" fill="#111" style="font-weight:bold;" >600</text>
<line x1="55.48" y1="784.5" x2="55.48" y2="787" stroke="#222" stroke-width="1.1" />
<line x1="91.62" y1="784.5" x2="91.62" y2="787" stroke="#222" stroke-width="1.1" />
<line x1="127.78" y1="784.5" x2="127.78" y2="787" stroke="#222" stroke-width="1.1" />
<line x1="163.93" y1="784.5" x2="163.93" y2="787" stroke="#222" stroke-width="1.1" />
<line x1="200.08" y1="784.5" x2="200.08" y2="787" stroke="#222" stroke-width="1.1" />
<line x1="236.23" y1="784.5" x2="236.23" y2="787" stroke="#222" stroke-width="1.1" />
<line x1="272.38" y1="784.5" x2="272.38" y2="787" stroke="#222" stroke-width="1.1" />
<line x1="308.53" y1="784.5" x2="308.53" y2="787" stroke="#222" stroke-width="1.1" />
<text x="6" y="585.8" font-size="18.5" text-anchor="start" fill="#111" style="font-weight:bold;" >(e)</text>
<text x="0" y="0" font-size="13.5" text-anchor="middle" dominant-baseline="central" fill="#111" style="font-weight:bold;" transform="translate(22.1 679) rotate(-90)" >Intensity (a.u.)</text>
<g clip-path="url(#clipE)">
<text x="0" y="0" transform="translate(182.6 822.6) scale(1.02 1)" font-size="13.2" text-anchor="middle" fill="#111" style="font-weight:bold;" >Wavelength (nm)</text>
</g>
<text x="84.8" y="692.6" font-size="12.2" text-anchor="middle" fill="#111" style="font-weight:bold;" >328</text>
<text x="113.9" y="632.4" font-size="12.2" text-anchor="middle" fill="#111" style="font-weight:bold;" >366</text>
<text x="152.9" y="744.2" font-size="12.2" text-anchor="middle" fill="#111" style="font-weight:bold;" >413</text>
<text x="244.3" y="765.6" font-size="12.2" text-anchor="middle" fill="#111" style="font-weight:bold;" >490</text>
<rect x="252" y="584.2" width="22.6" height="11.2" fill="url(#gp1)" stroke="#eadcf8" stroke-width="0.5"/>
<text x="280.5" y="593.8" font-size="11.2" text-anchor="start" fill="#111" style="font-weight:bold;" >328 nm</text>
<rect x="252" y="598.35" width="22.6" height="11.2" fill="url(#gp2)" stroke="#eadcf8" stroke-width="0.5"/>
<text x="280.5" y="607.95" font-size="11.2" text-anchor="start" fill="#111" style="font-weight:bold;" >366 nm</text>
<rect x="252" y="612.5" width="22.6" height="11.2" fill="url(#gb3)" stroke="#eadcf8" stroke-width="0.5"/>
<text x="280.5" y="622.1" font-size="11.2" text-anchor="start" fill="#111" style="font-weight:bold;" >413 nm</text>
<rect x="252" y="626.65" width="22.6" height="11.2" fill="url(#gb4)" stroke="#eadcf8" stroke-width="0.5"/>
<text x="280.5" y="636.25" font-size="11.2" text-anchor="start" fill="#111" style="font-weight:bold;" >490 nm</text>
<text x="41.9" y="591.2" font-size="13.8" fill="#111" style="font-weight:bold">λ<tspan dy="3.9" font-size="9.4">ex</tspan><tspan dy="-3.9">=266 nm</tspan></text>
<text x="191.6" y="735.4" font-size="13.7" fill="#e03232">Acceptor-rich <tspan style="font-style:italic">β</tspan>-Ga<tspan dy="3.5" font-size="9">2</tspan><tspan dy="-3.5">O</tspan><tspan dy="3.5" font-size="9">3</tspan></text>
<path d="M385.6 784.7 L386.1 784.7 L386.6 784.7 L387.1 784.7 L387.6 784.6 L388.1 784.6 L388.6 784.6 L389.1 784.6 L389.6 784.6 L390.1 784.5 L390.6 784.5 L391.1 784.5 L391.6 784.4 L392.1 784.4 L392.6 784.3 L393.1 784.2 L393.6 784.1 L394.1 784 L394.6 783.9 L395.1 783.7 L395.6 783.6 L396.1 783.4 L396.6 783.1 L397.1 782.9 L397.6 782.6 L398.1 782.3 L398.6 781.9 L399.1 781.5 L399.6 781 L400.1 780.5 L400.6 779.9 L401.1 779.2 L401.6 778.5 L402.1 777.7 L402.6 776.8 L403.1 775.9 L403.6 774.8 L404.1 773.7 L404.6 772.4 L405.1 771.1 L405.6 769.6 L406.1 768.1 L406.6 766.5 L407.1 764.7 L407.6 762.9 L408.1 760.9 L408.6 758.9 L409.1 756.7 L409.6 754.5 L410.1 752.2 L410.6 749.8 L411.1 747.4 L411.6 744.9 L412.1 742.4 L412.6 739.9 L413.1 737.3 L413.6 734.8 L414.1 732.3 L414.6 729.8 L415.1 727.4 L415.6 725 L416.1 722.8 L416.6 720.6 L417.1 718.6 L417.6 716.7 L418.1 715 L418.6 713.5 L419.1 712.1 L419.6 710.9 L420.1 709.9 L420.6 709.2 L421.1 708.7 L421.6 708.4 L422.1 708.3 L422.6 708.5 L423.1 708.9 L423.6 709.5 L424.1 710.3 L424.6 711.4 L425.1 712.6 L425.6 714.1 L426.1 715.7 L426.6 717.5 L427.1 719.4 L427.6 721.5 L428.1 723.7 L428.6 726 L429.1 728.3 L429.6 730.8 L430.1 733.3 L430.6 735.8 L431.1 738.4 L431.6 740.9 L432.1 743.4 L432.6 745.9 L433.1 748.4 L433.6 750.8 L434.1 753.1 L434.6 755.4 L435.1 757.6 L435.6 759.7 L436.1 761.7 L436.6 763.6 L437.1 765.4 L437.6 767.1 L438.1 768.7 L438.6 770.2 L439.1 771.6 L439.6 772.9 L440.1 774.1 L440.6 775.2 L441.1 776.3 L441.6 777.2 L442.1 778 L442.6 778.8 L443.1 779.5 L443.6 780.1 L444.1 780.7 L444.6 781.2 L445.1 781.7 L445.6 782.1 L446.1 782.4 L446.6 782.7 L447.1 783 L447.6 783.2 L448.1 783.5 L448.6 783.6 L449.1 783.8 L449.6 783.9 L450.1 784.1 L450.6 784.2 L451.1 784.2 L451.6 784.3 L452.1 784.4 L452.6 784.4 L453.1 784.5 L453.6 784.5 L454.1 784.5 L454.6 784.6 L455.1 784.6 L455.6 784.6 L456.1 784.6 L456.6 784.6 L457.1 784.7 L457.6 784.7 L458.1 784.7 L458.4 784.7 L385.6 784.7 Z" fill="url(#gp1)" fill-opacity="0.92"/>
<path d="M377.9 784.6 L378.4 784.6 L378.9 784.6 L379.4 784.6 L379.9 784.6 L380.4 784.5 L380.9 784.5 L381.4 784.5 L381.9 784.5 L382.4 784.5 L382.9 784.4 L383.4 784.4 L383.9 784.4 L384.4 784.4 L384.9 784.3 L385.4 784.3 L385.9 784.3 L386.4 784.2 L386.9 784.2 L387.4 784.1 L387.9 784.1 L388.4 784 L388.9 784 L389.4 783.9 L389.9 783.9 L390.4 783.8 L390.9 783.7 L391.4 783.6 L391.9 783.6 L392.4 783.5 L392.9 783.4 L393.4 783.3 L393.9 783.2 L394.4 783 L394.9 782.9 L395.4 782.8 L395.9 782.6 L396.4 782.5 L396.9 782.3 L397.4 782.1 L397.9 781.9 L398.4 781.7 L398.9 781.5 L399.4 781.3 L399.9 781.1 L400.4 780.8 L400.9 780.5 L401.4 780.2 L401.9 779.9 L402.4 779.6 L402.9 779.3 L403.4 778.9 L403.9 778.5 L404.4 778.2 L404.9 777.7 L405.4 777.3 L405.9 776.8 L406.4 776.3 L406.9 775.8 L407.4 775.3 L407.9 774.7 L408.4 774.1 L408.9 773.5 L409.4 772.9 L409.9 772.2 L410.4 771.5 L410.9 770.7 L411.4 770 L411.9 769.2 L412.4 768.3 L412.9 767.4 L413.4 766.5 L413.9 765.6 L414.4 764.6 L414.9 763.6 L415.4 762.5 L415.9 761.4 L416.4 760.2 L416.9 759.1 L417.4 757.8 L417.9 756.6 L418.4 755.3 L418.9 753.9 L419.4 752.5 L419.9 751.1 L420.4 749.6 L420.9 748.1 L421.4 746.5 L421.9 744.9 L422.4 743.3 L422.9 741.6 L423.4 739.9 L423.9 738.1 L424.4 736.3 L424.9 734.5 L425.4 732.6 L425.9 730.7 L426.4 728.7 L426.9 726.7 L427.4 724.7 L427.9 722.6 L428.4 720.5 L428.9 718.4 L429.4 716.3 L429.9 714.1 L430.4 711.9 L430.9 709.7 L431.4 707.4 L431.9 705.2 L432.4 702.9 L432.9 700.6 L433.4 698.3 L433.9 696 L434.4 693.7 L434.9 691.3 L435.4 689 L435.9 686.7 L436.4 684.4 L436.9 682.1 L437.4 679.8 L437.9 677.5 L438.4 675.2 L438.9 673 L439.4 670.8 L439.9 668.6 L440.4 666.4 L440.9 664.3 L441.4 662.2 L441.9 660.1 L442.4 658.1 L442.9 656.2 L443.4 654.3 L443.9 652.4 L444.4 650.6 L444.9 648.9 L445.4 647.2 L445.9 645.6 L446.4 644 L446.9 642.5 L447.4 641.1 L447.9 639.8 L448.4 638.5 L448.9 637.3 L449.4 636.2 L449.9 635.2 L450.4 634.3 L450.9 633.5 L451.4 632.7 L451.9 632.1 L452.4 631.5 L452.9 631 L453.4 630.6 L453.9 630.3 L454.4 630.1 L454.9 630 L455.4 630 L455.9 630.1 L456.4 630.3 L456.9 630.5 L457.4 630.9 L457.9 631.4 L458.4 631.9 L458.9 632.6 L459.4 633.3 L459.9 634.1 L460.4 635 L460.9 636 L461.4 637.1 L461.9 638.3 L462.4 639.5 L462.9 640.8 L463.4 642.2 L463.9 643.7 L464.4 645.2 L464.9 646.8 L465.4 648.5 L465.9 650.2 L466.4 652 L466.9 653.9 L467.4 655.8 L467.9 657.7 L468.4 659.7 L468.9 661.8 L469.4 663.9 L469.9 666 L470.4 668.1 L470.9 670.3 L471.4 672.5 L471.9 674.8 L472.4 677 L472.9 679.3 L473.4 681.6 L473.9 683.9 L474.4 686.2 L474.9 688.5 L475.4 690.9 L475.9 693.2 L476.4 695.5 L476.9 697.8 L477.4 700.1 L477.9 702.4 L478.4 704.7 L478.9 707 L479.4 709.2 L479.9 711.4 L480.4 713.7 L480.9 715.8 L481.4 718 L481.9 720.1 L482.4 722.2 L482.9 724.3 L483.4 726.3 L483.9 728.3 L484.4 730.3 L484.9 732.2 L485.4 734.1 L485.9 736 L486.4 737.8 L486.9 739.5 L487.4 741.3 L487.9 743 L488.4 744.6 L488.9 746.2 L489.4 747.8 L489.9 749.3 L490.4 750.8 L490.9 752.2 L491.4 753.6 L491.9 755 L492.4 756.3 L492.9 757.6 L493.4 758.8 L493.9 760 L494.4 761.2 L494.9 762.3 L495.4 763.3 L495.9 764.4 L496.4 765.4 L496.9 766.3 L497.4 767.3 L497.9 768.1 L498.4 769 L498.9 769.8 L499.4 770.6 L499.9 771.3 L500.4 772 L500.9 772.7 L501.4 773.4 L501.9 774 L502.4 774.6 L502.9 775.2 L503.4 775.7 L503.9 776.2 L504.4 776.7 L504.9 777.2 L505.4 777.6 L505.9 778.1 L506.4 778.5 L506.9 778.9 L507.4 779.2 L507.9 779.6 L508.4 779.9 L508.9 780.2 L509.4 780.5 L509.9 780.7 L510.4 781 L510.9 781.2 L511.4 781.5 L511.9 781.7 L512.4 781.9 L512.9 782.1 L513.4 782.3 L513.9 782.4 L514.4 782.6 L514.9 782.7 L515.4 782.9 L515.9 783 L516.4 783.1 L516.9 783.2 L517.4 783.3 L517.9 783.4 L518.4 783.5 L518.9 783.6 L519.4 783.7 L519.9 783.8 L520.4 783.9 L520.9 783.9 L521.4 784 L521.9 784 L522.4 784.1 L522.9 784.1 L523.4 784.2 L523.9 784.2 L524.4 784.3 L524.9 784.3 L525.4 784.3 L525.9 784.4 L526.4 784.4 L526.9 784.4 L527.4 784.4 L527.9 784.5 L528.4 784.5 L528.9 784.5 L529.4 784.5 L529.9 784.5 L530.4 784.5 L530.9 784.6 L531.4 784.6 L531.9 784.6 L532.4 784.6 L532.9 784.6 L533.4 784.6 L533.9 784.6 L534.4 784.6 L534.9 784.6 L535.4 784.6 L535.9 784.6 L536 784.7 L377.9 784.7 Z" fill="url(#gp2)" fill-opacity="0.92"/>
<path d="M377.9 784.6 L378.4 784.6 L378.9 784.6 L379.4 784.6 L379.9 784.6 L380.4 784.6 L380.9 784.6 L381.4 784.6 L381.9 784.5 L382.4 784.5 L382.9 784.5 L383.4 784.5 L383.9 784.5 L384.4 784.5 L384.9 784.5 L385.4 784.5 L385.9 784.5 L386.4 784.5 L386.9 784.5 L387.4 784.4 L387.9 784.4 L388.4 784.4 L388.9 784.4 L389.4 784.4 L389.9 784.4 L390.4 784.4 L390.9 784.3 L391.4 784.3 L391.9 784.3 L392.4 784.3 L392.9 784.3 L393.4 784.3 L393.9 784.2 L394.4 784.2 L394.9 784.2 L395.4 784.2 L395.9 784.1 L396.4 784.1 L396.9 784.1 L397.4 784.1 L397.9 784 L398.4 784 L398.9 784 L399.4 784 L399.9 783.9 L400.4 783.9 L400.9 783.9 L401.4 783.8 L401.9 783.8 L402.4 783.8 L402.9 783.7 L403.4 783.7 L403.9 783.6 L404.4 783.6 L404.9 783.6 L405.4 783.5 L405.9 783.5 L406.4 783.4 L406.9 783.4 L407.4 783.3 L407.9 783.3 L408.4 783.2 L408.9 783.2 L409.4 783.1 L409.9 783 L410.4 783 L410.9 782.9 L411.4 782.9 L411.9 782.8 L412.4 782.7 L412.9 782.6 L413.4 782.6 L413.9 782.5 L414.4 782.4 L414.9 782.3 L415.4 782.3 L415.9 782.2 L416.4 782.1 L416.9 782 L417.4 781.9 L417.9 781.8 L418.4 781.7 L418.9 781.6 L419.4 781.5 L419.9 781.4 L420.4 781.3 L420.9 781.2 L421.4 781.1 L421.9 781 L422.4 780.9 L422.9 780.8 L423.4 780.7 L423.9 780.5 L424.4 780.4 L424.9 780.3 L425.4 780.1 L425.9 780 L426.4 779.9 L426.9 779.7 L427.4 779.6 L427.9 779.5 L428.4 779.3 L428.9 779.2 L429.4 779 L429.9 778.8 L430.4 778.7 L430.9 778.5 L431.4 778.4 L431.9 778.2 L432.4 778 L432.9 777.8 L433.4 777.7 L433.9 777.5 L434.4 777.3 L434.9 777.1 L435.4 776.9 L435.9 776.7 L436.4 776.5 L436.9 776.3 L437.4 776.1 L437.9 775.9 L438.4 775.7 L438.9 775.5 L439.4 775.3 L439.9 775.1 L440.4 774.9 L440.9 774.7 L441.4 774.5 L441.9 774.2 L442.4 774 L442.9 773.8 L443.4 773.5 L443.9 773.3 L444.4 773.1 L444.9 772.8 L445.4 772.6 L445.9 772.4 L446.4 772.1 L446.9 771.9 L447.4 771.6 L447.9 771.4 L448.4 771.1 L448.9 770.9 L449.4 770.6 L449.9 770.4 L450.4 770.1 L450.9 769.9 L451.4 769.6 L451.9 769.3 L452.4 769.1 L452.9 768.8 L453.4 768.6 L453.9 768.3 L454.4 768 L454.9 767.8 L455.4 767.5 L455.9 767.3 L456.4 767 L456.9 766.7 L457.4 766.5 L457.9 766.2 L458.4 766 L458.9 765.7 L459.4 765.4 L459.9 765.2 L460.4 764.9 L460.9 764.7 L461.4 764.4 L461.9 764.2 L462.4 763.9 L462.9 763.7 L463.4 763.4 L463.9 763.2 L464.4 762.9 L464.9 762.7 L465.4 762.4 L465.9 762.2 L466.4 762 L466.9 761.7 L467.4 761.5 L467.9 761.3 L468.4 761.1 L468.9 760.9 L469.4 760.6 L469.9 760.4 L470.4 760.2 L470.9 760 L471.4 759.8 L471.9 759.6 L472.4 759.4 L472.9 759.2 L473.4 759.1 L473.9 758.9 L474.4 758.7 L474.9 758.6 L475.4 758.4 L475.9 758.2 L476.4 758.1 L476.9 757.9 L477.4 757.8 L477.9 757.7 L478.4 757.5 L478.9 757.4 L479.4 757.3 L479.9 757.2 L480.4 757.1 L480.9 757 L481.4 756.9 L481.9 756.8 L482.4 756.7 L482.9 756.6 L483.4 756.6 L483.9 756.5 L484.4 756.4 L484.9 756.4 L485.4 756.3 L485.9 756.3 L486.4 756.3 L486.9 756.2 L487.4 756.2 L487.9 756.2 L488.4 756.2 L488.9 756.2 L489.4 756.2 L489.9 756.2 L490.4 756.2 L490.9 756.3 L491.4 756.3 L491.9 756.3 L492.4 756.4 L492.9 756.4 L493.4 756.5 L493.9 756.6 L494.4 756.6 L494.9 756.7 L495.4 756.8 L495.9 756.9 L496.4 757 L496.9 757.1 L497.4 757.2 L497.9 757.3 L498.4 757.4 L498.9 757.6 L499.4 757.7 L499.9 757.8 L500.4 758 L500.9 758.1 L501.4 758.3 L501.9 758.4 L502.4 758.6 L502.9 758.8 L503.4 758.9 L503.9 759.1 L504.4 759.3 L504.9 759.5 L505.4 759.7 L505.9 759.9 L506.4 760.1 L506.9 760.3 L507.4 760.5 L507.9 760.7 L508.4 760.9 L508.9 761.1 L509.4 761.3 L509.9 761.6 L510.4 761.8 L510.9 762 L511.4 762.3 L511.9 762.5 L512.4 762.7 L512.9 763 L513.4 763.2 L513.9 763.5 L514.4 763.7 L514.9 764 L515.4 764.2 L515.9 764.5 L516.4 764.7 L516.9 765 L517.4 765.2 L517.9 765.5 L518.4 765.7 L518.9 766 L519.4 766.3 L519.9 766.5 L520.4 766.8 L520.9 767 L521.4 767.3 L521.9 767.6 L522.4 767.8 L522.9 768.1 L523.4 768.4 L523.9 768.6 L524.4 768.9 L524.9 769.1 L525.4 769.4 L525.9 769.7 L526.4 769.9 L526.9 770.2 L527.4 770.4 L527.9 770.7 L528.4 770.9 L528.9 771.2 L529.4 771.4 L529.9 771.7 L530.4 771.9 L530.9 772.2 L531.4 772.4 L531.9 772.6 L532.4 772.9 L532.9 773.1 L533.4 773.4 L533.9 773.6 L534.4 773.8 L534.9 774 L535.4 774.3 L535.9 774.5 L536.4 774.7 L536.9 774.9 L537.4 775.2 L537.9 775.4 L538.4 775.6 L538.9 775.8 L539.4 776 L539.9 776.2 L540.4 776.4 L540.9 776.6 L541.4 776.8 L541.9 777 L542.4 777.2 L542.9 777.3 L543.4 777.5 L543.9 777.7 L544.4 777.9 L544.9 778.1 L545.4 778.2 L545.9 778.4 L546.4 778.6 L546.9 778.7 L547.4 778.9 L547.9 779 L548.4 779.2 L548.9 779.3 L549.4 779.5 L549.9 779.6 L550.4 779.8 L550.9 779.9 L551.4 780 L551.9 780.2 L552.4 780.3 L552.9 780.4 L553.4 780.6 L553.9 780.7 L554.4 780.8 L554.9 780.9 L555.4 781 L555.9 781.1 L556.4 781.2 L556.9 781.4 L557.4 781.5 L557.9 781.6 L558.4 781.7 L558.9 781.8 L559.4 781.8 L559.9 781.9 L560.4 782 L560.9 782.1 L561.4 782.2 L561.9 782.3 L562.4 782.4 L562.9 782.4 L563.4 782.5 L563.9 782.6 L564.4 782.7 L564.9 782.7 L565.4 782.8 L565.9 782.9 L566.4 782.9 L566.9 783 L567.4 783.1 L567.9 783.1 L568.4 783.2 L568.9 783.2 L569.4 783.3 L569.9 783.3 L570.4 783.4 L570.9 783.4 L571.4 783.5 L571.9 783.5 L572.4 783.6 L572.9 783.6 L573.4 783.7 L573.9 783.7 L574.4 783.7 L574.9 783.8 L575.4 783.8 L575.9 783.8 L576.4 783.9 L576.9 783.9 L577.4 783.9 L577.9 784 L578.4 784 L578.9 784 L579.4 784.1 L579.9 784.1 L580.4 784.1 L580.9 784.1 L581.4 784.2 L581.9 784.2 L582.4 784.2 L582.9 784.2 L583.4 784.2 L583.9 784.3 L584.4 784.3 L584.9 784.3 L585.4 784.3 L585.9 784.3 L586.4 784.3 L586.9 784.4 L587.4 784.4 L587.9 784.4 L588.4 784.4 L588.9 784.4 L589.4 784.4 L589.9 784.4 L590.4 784.5 L590.9 784.5 L591.4 784.5 L591.9 784.5 L592.4 784.5 L592.9 784.5 L593.4 784.5 L593.9 784.5 L594.4 784.5 L594.9 784.5 L595.4 784.5 L595.9 784.6 L596.4 784.6 L596.9 784.6 L597.4 784.6 L597.9 784.6 L598.4 784.6 L598.9 784.6 L599.4 784.6 L599.9 784.6 L600.4 784.6 L600.9 784.6 L601.4 784.6 L601.9 784.6 L602.4 784.6 L602.9 784.6 L603.4 784.6 L603.9 784.6 L604.4 784.6 L604.9 784.6 L605.4 784.6 L605.9 784.6 L606.4 784.7 L606.9 784.7 L607.4 784.7 L607.9 784.7 L608.4 784.7 L608.9 784.7 L609.4 784.7 L609.9 784.7 L610.4 784.7 L610.9 784.7 L611.4 784.7 L611.9 784.7 L612.4 784.7 L612.9 784.7 L613.4 784.7 L613.9 784.7 L614.4 784.7 L614.9 784.7 L615.4 784.7 L615.9 784.7 L616.4 784.7 L616.9 784.7 L617.4 784.7 L617.9 784.7 L618.4 784.7 L618.9 784.7 L619.4 784.7 L619.9 784.7 L620.4 784.7 L620.6 784.7 L377.9 784.7 Z" fill="url(#gb3)" fill-opacity="0.92"/>
<path d="M385.6 784.7 L386.1 784.7 L386.6 784.7 L387.1 784.7 L387.6 784.6 L388.1 784.6 L388.6 784.6 L389.1 784.6 L389.6 784.6 L390.1 784.5 L390.6 784.5 L391.1 784.5 L391.6 784.4 L392.1 784.4 L392.6 784.3 L393.1 784.2 L393.6 784.1 L394.1 784 L394.6 783.9 L395.1 783.7 L395.6 783.6 L396.1 783.4 L396.6 783.1 L397.1 782.9 L397.6 782.6 L398.1 782.3 L398.6 781.9 L399.1 781.5 L399.6 781 L400.1 780.5 L400.6 779.9 L401.1 779.2 L401.6 778.5 L402.1 777.7 L402.6 776.8 L403.1 775.9 L403.6 774.8 L404.1 773.7 L404.6 772.4 L405.1 771.1 L405.6 769.6 L406.1 768.1 L406.6 766.5 L407.1 764.7 L407.6 762.9 L408.1 760.9 L408.6 758.9 L409.1 756.7 L409.6 754.5 L410.1 752.2 L410.6 749.8 L411.1 747.4 L411.6 744.9 L412.1 742.4 L412.6 739.9 L413.1 737.3 L413.6 734.8 L414.1 732.3 L414.6 729.8 L415.1 727.4 L415.6 725 L416.1 722.8 L416.6 720.6 L417.1 718.6 L417.6 716.7 L418.1 715 L418.6 713.5 L419.1 712.1 L419.6 710.9 L420.1 709.9 L420.6 709.2 L421.1 708.7 L421.6 708.4 L422.1 708.3 L422.6 708.5 L423.1 708.9 L423.6 709.5 L424.1 710.3 L424.6 711.4 L425.1 712.6 L425.6 714.1 L426.1 715.7 L426.6 717.5 L427.1 719.4 L427.6 721.5 L428.1 723.7 L428.6 726 L429.1 728.3 L429.6 730.8 L430.1 733.3 L430.6 735.8 L431.1 738.4 L431.6 740.9 L432.1 743.4 L432.6 745.9 L433.1 748.4 L433.6 750.8 L434.1 753.1 L434.6 755.4 L435.1 757.6 L435.6 759.7 L436.1 761.7 L436.6 763.6 L437.1 765.4 L437.6 767.1 L438.1 768.7 L438.6 770.2 L439.1 771.6 L439.6 772.9 L440.1 774.1 L440.6 775.2 L441.1 776.3 L441.6 777.2 L442.1 778 L442.6 778.8 L443.1 779.5 L443.6 780.1 L444.1 780.7 L444.6 781.2 L445.1 781.7 L445.6 782.1 L446.1 782.4 L446.6 782.7 L447.1 783 L447.6 783.2 L448.1 783.5 L448.6 783.6 L449.1 783.8 L449.6 783.9 L450.1 784.1 L450.6 784.2 L451.1 784.2 L451.6 784.3 L452.1 784.4 L452.6 784.4 L453.1 784.5 L453.6 784.5 L454.1 784.5 L454.6 784.6 L455.1 784.6 L455.6 784.6 L456.1 784.6 L456.6 784.6 L457.1 784.7 L457.6 784.7 L458.1 784.7" fill="none" stroke="#c8b8e8" stroke-width="0.5" opacity="0.6"/>
<path d="M377.9 784.6 L378.4 784.6 L378.9 784.6 L379.4 784.6 L379.9 784.6 L380.4 784.5 L380.9 784.5 L381.4 784.5 L381.9 784.5 L382.4 784.5 L382.9 784.4 L383.4 784.4 L383.9 784.4 L384.4 784.4 L384.9 784.3 L385.4 784.3 L385.9 784.3 L386.4 784.2 L386.9 784.2 L387.4 784.1 L387.9 784.1 L388.4 784 L388.9 784 L389.4 783.9 L389.9 783.9 L390.4 783.8 L390.9 783.7 L391.4 783.6 L391.9 783.6 L392.4 783.5 L392.9 783.4 L393.4 783.3 L393.9 783.2 L394.4 783 L394.9 782.9 L395.4 782.8 L395.9 782.6 L396.4 782.5 L396.9 782.3 L397.4 782.1 L397.9 781.9 L398.4 781.7 L398.9 781.5 L399.4 781.3 L399.9 781.1 L400.4 780.8 L400.9 780.5 L401.4 780.2 L401.9 779.9 L402.4 779.6 L402.9 779.3 L403.4 778.9 L403.9 778.5 L404.4 778.2 L404.9 777.7 L405.4 777.3 L405.9 776.8 L406.4 776.3 L406.9 775.8 L407.4 775.3 L407.9 774.7 L408.4 774.1 L408.9 773.5 L409.4 772.9 L409.9 772.2 L410.4 771.5 L410.9 770.7 L411.4 770 L411.9 769.2 L412.4 768.3 L412.9 767.4 L413.4 766.5 L413.9 765.6 L414.4 764.6 L414.9 763.6 L415.4 762.5 L415.9 761.4 L416.4 760.2 L416.9 759.1 L417.4 757.8 L417.9 756.6 L418.4 755.3 L418.9 753.9 L419.4 752.5 L419.9 751.1 L420.4 749.6 L420.9 748.1 L421.4 746.5 L421.9 744.9 L422.4 743.3 L422.9 741.6 L423.4 739.9 L423.9 738.1 L424.4 736.3 L424.9 734.5 L425.4 732.6 L425.9 730.7 L426.4 728.7 L426.9 726.7 L427.4 724.7 L427.9 722.6 L428.4 720.5 L428.9 718.4 L429.4 716.3 L429.9 714.1 L430.4 711.9 L430.9 709.7 L431.4 707.4 L431.9 705.2 L432.4 702.9 L432.9 700.6 L433.4 698.3 L433.9 696 L434.4 693.7 L434.9 691.3 L435.4 689 L435.9 686.7 L436.4 684.4 L436.9 682.1 L437.4 679.8 L437.9 677.5 L438.4 675.2 L438.9 673 L439.4 670.8 L439.9 668.6 L440.4 666.4 L440.9 664.3 L441.4 662.2 L441.9 660.1 L442.4 658.1 L442.9 656.2 L443.4 654.3 L443.9 652.4 L444.4 650.6 L444.9 648.9 L445.4 647.2 L445.9 645.6 L446.4 644 L446.9 642.5 L447.4 641.1 L447.9 639.8 L448.4 638.5 L448.9 637.3 L449.4 636.2 L449.9 635.2 L450.4 634.3 L450.9 633.5 L451.4 632.7 L451.9 632.1 L452.4 631.5 L452.9 631 L453.4 630.6 L453.9 630.3 L454.4 630.1 L454.9 630 L455.4 630 L455.9 630.1 L456.4 630.3 L456.9 630.5 L457.4 630.9 L457.9 631.4 L458.4 631.9 L458.9 632.6 L459.4 633.3 L459.9 634.1 L460.4 635 L460.9 636 L461.4 637.1 L461.9 638.3 L462.4 639.5 L462.9 640.8 L463.4 642.2 L463.9 643.7 L464.4 645.2 L464.9 646.8 L465.4 648.5 L465.9 650.2 L466.4 652 L466.9 653.9 L467.4 655.8 L467.9 657.7 L468.4 659.7 L468.9 661.8 L469.4 663.9 L469.9 666 L470.4 668.1 L470.9 670.3 L471.4 672.5 L471.9 674.8 L472.4 677 L472.9 679.3 L473.4 681.6 L473.9 683.9 L474.4 686.2 L474.9 688.5 L475.4 690.9 L475.9 693.2 L476.4 695.5 L476.9 697.8 L477.4 700.1 L477.9 702.4 L478.4 704.7 L478.9 707 L479.4 709.2 L479.9 711.4 L480.4 713.7 L480.9 715.8 L481.4 718 L481.9 720.1 L482.4 722.2 L482.9 724.3 L483.4 726.3 L483.9 728.3 L484.4 730.3 L484.9 732.2 L485.4 734.1 L485.9 736 L486.4 737.8 L486.9 739.5 L487.4 741.3 L487.9 743 L488.4 744.6 L488.9 746.2 L489.4 747.8 L489.9 749.3 L490.4 750.8 L490.9 752.2 L491.4 753.6 L491.9 755 L492.4 756.3 L492.9 757.6 L493.4 758.8 L493.9 760 L494.4 761.2 L494.9 762.3 L495.4 763.3 L495.9 764.4 L496.4 765.4 L496.9 766.3 L497.4 767.3 L497.9 768.1 L498.4 769 L498.9 769.8 L499.4 770.6 L499.9 771.3 L500.4 772 L500.9 772.7 L501.4 773.4 L501.9 774 L502.4 774.6 L502.9 775.2 L503.4 775.7 L503.9 776.2 L504.4 776.7 L504.9 777.2 L505.4 777.6 L505.9 778.1 L506.4 778.5 L506.9 778.9 L507.4 779.2 L507.9 779.6 L508.4 779.9 L508.9 780.2 L509.4 780.5 L509.9 780.7 L510.4 781 L510.9 781.2 L511.4 781.5 L511.9 781.7 L512.4 781.9 L512.9 782.1 L513.4 782.3 L513.9 782.4 L514.4 782.6 L514.9 782.7 L515.4 782.9 L515.9 783 L516.4 783.1 L516.9 783.2 L517.4 783.3 L517.9 783.4 L518.4 783.5 L518.9 783.6 L519.4 783.7 L519.9 783.8 L520.4 783.9 L520.9 783.9 L521.4 784 L521.9 784 L522.4 784.1 L522.9 784.1 L523.4 784.2 L523.9 784.2 L524.4 784.3 L524.9 784.3 L525.4 784.3 L525.9 784.4 L526.4 784.4 L526.9 784.4 L527.4 784.4 L527.9 784.5 L528.4 784.5 L528.9 784.5 L529.4 784.5 L529.9 784.5 L530.4 784.5 L530.9 784.6 L531.4 784.6 L531.9 784.6 L532.4 784.6 L532.9 784.6 L533.4 784.6 L533.9 784.6 L534.4 784.6 L534.9 784.6 L535.4 784.6 L535.9 784.6" fill="none" stroke="#c8b8e8" stroke-width="0.5" opacity="0.6"/>
<path d="M377.9 784.6 L378.4 784.6 L378.9 784.6 L379.4 784.6 L379.9 784.6 L380.4 784.6 L380.9 784.6 L381.4 784.6 L381.9 784.5 L382.4 784.5 L382.9 784.5 L383.4 784.5 L383.9 784.5 L384.4 784.5 L384.9 784.5 L385.4 784.5 L385.9 784.5 L386.4 784.5 L386.9 784.5 L387.4 784.4 L387.9 784.4 L388.4 784.4 L388.9 784.4 L389.4 784.4 L389.9 784.4 L390.4 784.4 L390.9 784.3 L391.4 784.3 L391.9 784.3 L392.4 784.3 L392.9 784.3 L393.4 784.3 L393.9 784.2 L394.4 784.2 L394.9 784.2 L395.4 784.2 L395.9 784.1 L396.4 784.1 L396.9 784.1 L397.4 784.1 L397.9 784 L398.4 784 L398.9 784 L399.4 784 L399.9 783.9 L400.4 783.9 L400.9 783.9 L401.4 783.8 L401.9 783.8 L402.4 783.8 L402.9 783.7 L403.4 783.7 L403.9 783.6 L404.4 783.6 L404.9 783.6 L405.4 783.5 L405.9 783.5 L406.4 783.4 L406.9 783.4 L407.4 783.3 L407.9 783.3 L408.4 783.2 L408.9 783.2 L409.4 783.1 L409.9 783 L410.4 783 L410.9 782.9 L411.4 782.9 L411.9 782.8 L412.4 782.7 L412.9 782.6 L413.4 782.6 L413.9 782.5 L414.4 782.4 L414.9 782.3 L415.4 782.3 L415.9 782.2 L416.4 782.1 L416.9 782 L417.4 781.9 L417.9 781.8 L418.4 781.7 L418.9 781.6 L419.4 781.5 L419.9 781.4 L420.4 781.3 L420.9 781.2 L421.4 781.1 L421.9 781 L422.4 780.9 L422.9 780.8 L423.4 780.7 L423.9 780.5 L424.4 780.4 L424.9 780.3 L425.4 780.1 L425.9 780 L426.4 779.9 L426.9 779.7 L427.4 779.6 L427.9 779.5 L428.4 779.3 L428.9 779.2 L429.4 779 L429.9 778.8 L430.4 778.7 L430.9 778.5 L431.4 778.4 L431.9 778.2 L432.4 778 L432.9 777.8 L433.4 777.7 L433.9 777.5 L434.4 777.3 L434.9 777.1 L435.4 776.9 L435.9 776.7 L436.4 776.5 L436.9 776.3 L437.4 776.1 L437.9 775.9 L438.4 775.7 L438.9 775.5 L439.4 775.3 L439.9 775.1 L440.4 774.9 L440.9 774.7 L441.4 774.5 L441.9 774.2 L442.4 774 L442.9 773.8 L443.4 773.5 L443.9 773.3 L444.4 773.1 L444.9 772.8 L445.4 772.6 L445.9 772.4 L446.4 772.1 L446.9 771.9 L447.4 771.6 L447.9 771.4 L448.4 771.1 L448.9 770.9 L449.4 770.6 L449.9 770.4 L450.4 770.1 L450.9 769.9 L451.4 769.6 L451.9 769.3 L452.4 769.1 L452.9 768.8 L453.4 768.6 L453.9 768.3 L454.4 768 L454.9 767.8 L455.4 767.5 L455.9 767.3 L456.4 767 L456.9 766.7 L457.4 766.5 L457.9 766.2 L458.4 766 L458.9 765.7 L459.4 765.4 L459.9 765.2 L460.4 764.9 L460.9 764.7 L461.4 764.4 L461.9 764.2 L462.4 763.9 L462.9 763.7 L463.4 763.4 L463.9 763.2 L464.4 762.9 L464.9 762.7 L465.4 762.4 L465.9 762.2 L466.4 762 L466.9 761.7 L467.4 761.5 L467.9 761.3 L468.4 761.1 L468.9 760.9 L469.4 760.6 L469.9 760.4 L470.4 760.2 L470.9 760 L471.4 759.8 L471.9 759.6 L472.4 759.4 L472.9 759.2 L473.4 759.1 L473.9 758.9 L474.4 758.7 L474.9 758.6 L475.4 758.4 L475.9 758.2 L476.4 758.1 L476.9 757.9 L477.4 757.8 L477.9 757.7 L478.4 757.5 L478.9 757.4 L479.4 757.3 L479.9 757.2 L480.4 757.1 L480.9 757 L481.4 756.9 L481.9 756.8 L482.4 756.7 L482.9 756.6 L483.4 756.6 L483.9 756.5 L484.4 756.4 L484.9 756.4 L485.4 756.3 L485.9 756.3 L486.4 756.3 L486.9 756.2 L487.4 756.2 L487.9 756.2 L488.4 756.2 L488.9 756.2 L489.4 756.2 L489.9 756.2 L490.4 756.2 L490.9 756.3 L491.4 756.3 L491.9 756.3 L492.4 756.4 L492.9 756.4 L493.4 756.5 L493.9 756.6 L494.4 756.6 L494.9 756.7 L495.4 756.8 L495.9 756.9 L496.4 757 L496.9 757.1 L497.4 757.2 L497.9 757.3 L498.4 757.4 L498.9 757.6 L499.4 757.7 L499.9 757.8 L500.4 758 L500.9 758.1 L501.4 758.3 L501.9 758.4 L502.4 758.6 L502.9 758.8 L503.4 758.9 L503.9 759.1 L504.4 759.3 L504.9 759.5 L505.4 759.7 L505.9 759.9 L506.4 760.1 L506.9 760.3 L507.4 760.5 L507.9 760.7 L508.4 760.9 L508.9 761.1 L509.4 761.3 L509.9 761.6 L510.4 761.8 L510.9 762 L511.4 762.3 L511.9 762.5 L512.4 762.7 L512.9 763 L513.4 763.2 L513.9 763.5 L514.4 763.7 L514.9 764 L515.4 764.2 L515.9 764.5 L516.4 764.7 L516.9 765 L517.4 765.2 L517.9 765.5 L518.4 765.7 L518.9 766 L519.4 766.3 L519.9 766.5 L520.4 766.8 L520.9 767 L521.4 767.3 L521.9 767.6 L522.4 767.8 L522.9 768.1 L523.4 768.4 L523.9 768.6 L524.4 768.9 L524.9 769.1 L525.4 769.4 L525.9 769.7 L526.4 769.9 L526.9 770.2 L527.4 770.4 L527.9 770.7 L528.4 770.9 L528.9 771.2 L529.4 771.4 L529.9 771.7 L530.4 771.9 L530.9 772.2 L531.4 772.4 L531.9 772.6 L532.4 772.9 L532.9 773.1 L533.4 773.4 L533.9 773.6 L534.4 773.8 L534.9 774 L535.4 774.3 L535.9 774.5 L536.4 774.7 L536.9 774.9 L537.4 775.2 L537.9 775.4 L538.4 775.6 L538.9 775.8 L539.4 776 L539.9 776.2 L540.4 776.4 L540.9 776.6 L541.4 776.8 L541.9 777 L542.4 777.2 L542.9 777.3 L543.4 777.5 L543.9 777.7 L544.4 777.9 L544.9 778.1 L545.4 778.2 L545.9 778.4 L546.4 778.6 L546.9 778.7 L547.4 778.9 L547.9 779 L548.4 779.2 L548.9 779.3 L549.4 779.5 L549.9 779.6 L550.4 779.8 L550.9 779.9 L551.4 780 L551.9 780.2 L552.4 780.3 L552.9 780.4 L553.4 780.6 L553.9 780.7 L554.4 780.8 L554.9 780.9 L555.4 781 L555.9 781.1 L556.4 781.2 L556.9 781.4 L557.4 781.5 L557.9 781.6 L558.4 781.7 L558.9 781.8 L559.4 781.8 L559.9 781.9 L560.4 782 L560.9 782.1 L561.4 782.2 L561.9 782.3 L562.4 782.4 L562.9 782.4 L563.4 782.5 L563.9 782.6 L564.4 782.7 L564.9 782.7 L565.4 782.8 L565.9 782.9 L566.4 782.9 L566.9 783 L567.4 783.1 L567.9 783.1 L568.4 783.2 L568.9 783.2 L569.4 783.3 L569.9 783.3 L570.4 783.4 L570.9 783.4 L571.4 783.5 L571.9 783.5 L572.4 783.6 L572.9 783.6 L573.4 783.7 L573.9 783.7 L574.4 783.7 L574.9 783.8 L575.4 783.8 L575.9 783.8 L576.4 783.9 L576.9 783.9 L577.4 783.9 L577.9 784 L578.4 784 L578.9 784 L579.4 784.1 L579.9 784.1 L580.4 784.1 L580.9 784.1 L581.4 784.2 L581.9 784.2 L582.4 784.2 L582.9 784.2 L583.4 784.2 L583.9 784.3 L584.4 784.3 L584.9 784.3 L585.4 784.3 L585.9 784.3 L586.4 784.3 L586.9 784.4 L587.4 784.4 L587.9 784.4 L588.4 784.4 L588.9 784.4 L589.4 784.4 L589.9 784.4 L590.4 784.5 L590.9 784.5 L591.4 784.5 L591.9 784.5 L592.4 784.5 L592.9 784.5 L593.4 784.5 L593.9 784.5 L594.4 784.5 L594.9 784.5 L595.4 784.5 L595.9 784.6 L596.4 784.6 L596.9 784.6 L597.4 784.6 L597.9 784.6 L598.4 784.6 L598.9 784.6 L599.4 784.6 L599.9 784.6 L600.4 784.6 L600.9 784.6 L601.4 784.6 L601.9 784.6 L602.4 784.6 L602.9 784.6 L603.4 784.6 L603.9 784.6 L604.4 784.6 L604.9 784.6 L605.4 784.6 L605.9 784.6 L606.4 784.7 L606.9 784.7 L607.4 784.7 L607.9 784.7 L608.4 784.7 L608.9 784.7 L609.4 784.7 L609.9 784.7 L610.4 784.7 L610.9 784.7 L611.4 784.7 L611.9 784.7 L612.4 784.7 L612.9 784.7 L613.4 784.7 L613.9 784.7 L614.4 784.7 L614.9 784.7 L615.4 784.7 L615.9 784.7 L616.4 784.7 L616.9 784.7 L617.4 784.7 L617.9 784.7 L618.4 784.7 L618.9 784.7 L619.4 784.7 L619.9 784.7 L620.4 784.7" fill="none" stroke="#c8b8e8" stroke-width="0.5" opacity="0.6"/>
<path d="M377.9 784.2 L378.2 784.2 L378.6 784.3 L379 784.3 L379.3 784.2 L379.7 784 L380 783.9 L380.4 783.9 L380.7 783.8 L381.1 783.8 L381.4 783.9 L381.8 783.9 L382.1 783.8 L382.5 784 L382.8 784.1 L383.2 783.7 L383.5 783.2 L383.9 783.7 L384.2 783.9 L384.6 783.7 L384.9 783.7 L385.3 783.6 L385.6 783.6 L386 783.2 L386.3 782.9 L386.7 782.7 L387 782.6 L387.4 782.5 L387.7 782.5 L388.1 782.4 L388.4 782.4 L388.8 781.9 L389.1 781.7 L389.5 781.8 L389.8 781.7 L390.2 781.8 L390.5 781.4 L390.9 780.5 L391.2 780.3 L391.6 780.5 L391.9 780.1 L392.3 780 L392.6 779.9 L393 779.7 L393.3 779.2 L393.7 778.8 L394 778.7 L394.4 778.2 L394.7 778.1 L395.1 777.6 L395.4 776.9 L395.8 776.8 L396.1 776.1 L396.5 775.6 L396.8 775.3 L397.2 774.1 L397.5 774.1 L397.9 774.5 L398.2 773.7 L398.6 772.4 L398.9 771.4 L399.3 771.2 L399.6 771.4 L400 770.3 L400.3 769.2 L400.7 769.4 L401 769 L401.4 767.7 L401.7 767.4 L402.1 766.2 L402.4 764.9 L402.8 764.8 L403.1 763.2 L403.5 761.7 L403.8 760.9 L404.2 760.9 L404.5 759.8 L404.9 757.4 L405.2 755.7 L405.6 755.2 L405.9 754.5 L406.3 751.3 L406.6 748.3 L407 747 L407.3 745.4 L407.7 743.3 L408 740.8 L408.4 737.6 L408.7 735.9 L409.1 734 L409.4 733.1 L409.8 731.4 L410.1 727.7 L410.5 725.4 L410.8 722.5 L411.2 720 L411.5 717.2 L411.9 714.7 L412.2 713.3 L412.6 710.9 L412.9 706.2 L413.3 704.1 L413.6 703.1 L414 700.9 L414.3 698.9 L414.7 695.6 L415 693.3 L415.4 690.2 L415.7 687.3 L416.1 685.3 L416.4 683.6 L416.8 682.9 L417.1 680.1 L417.5 677.5 L417.8 676.2 L418.2 677.1 L418.5 676.1 L418.9 673.4 L419.2 672.9 L419.6 671.2 L419.9 671 L420.3 670.7 L420.6 670.3 L421 668.9 L421.3 667.4 L421.7 669.6 L422 669.4 L422.4 666.5 L422.7 665.8 L423.1 664 L423.4 662.9 L423.8 663.8 L424.1 663.2 L424.5 662.7 L424.8 662.3 L425.2 660.5 L425.5 658.6 L425.9 657.5 L426.2 657.9 L426.6 656.4 L426.9 655.1 L427.3 655.4 L427.6 655 L428 657.6 L428.3 656.1 L428.7 654.3 L429 655.7 L429.4 652.7 L429.7 650.4 L430.1 651.3 L430.4 650 L430.8 648.7 L431.1 648.8 L431.5 649 L431.8 648.1 L432.2 648.7 L432.5 649.3 L432.9 647.5 L433.2 646.7 L433.6 644.4 L433.9 641.8 L434.3 641.6 L434.6 642.9 L435 645.4 L435.3 644 L435.7 640.4 L436 639.2 L436.4 640.1 L436.7 639 L437.1 637.1 L437.4 638.6 L437.8 640.3 L438.1 639 L438.5 636.9 L438.8 635.7 L439.2 635.8 L439.5 632.1 L439.9 630.9 L440.2 633.9 L440.6 632.6 L440.9 631.2 L441.3 631.4 L441.6 630.5 L442 630.1 L442.3 629.1 L442.7 628.1 L443 629.5 L443.4 627.1 L443.7 626.6 L444.1 627.6 L444.4 626.1 L444.8 626.6 L445.1 626.2 L445.5 623 L445.8 622.6 L446.2 624.6 L446.5 622.8 L446.9 620.5 L447.2 620 L447.6 619.2 L447.9 618 L448.3 619 L448.6 620.8 L449 617.7 L449.3 615.7 L449.7 616.4 L450 617 L450.4 618.3 L450.7 617.4 L451.1 617.1 L451.4 617.3 L451.8 616.2 L452.1 615.1 L452.5 615.2 L452.8 613.4 L453.2 610.1 L453.5 611.4 L453.9 613.6 L454.2 614.2 L454.6 612.6 L454.9 608.8 L455.3 609.2 L455.6 612.5 L456 611.1 L456.3 609.1 L456.7 609.1 L457 607.4 L457.4 609.7 L457.7 611.1 L458.1 611.7 L458.4 611.8 L458.8 607.6 L459.1 607 L459.5 608.2 L459.8 608.8 L460.2 610.1 L460.5 611 L460.9 613.9 L461.2 612.1 L461.6 609.4 L461.9 613.1 L462.3 616.1 L462.6 616.9 L463 616.8 L463.3 618.3 L463.7 619.1 L464 619.2 L464.4 621 L464.7 620.7 L465.1 621.4 L465.4 623.3 L465.8 624.7 L466.1 626.6 L466.5 628.9 L466.8 630.9 L467.2 631 L467.5 630.6 L467.9 632 L468.2 631.7 L468.6 633.2 L468.9 637.9 L469.3 638.3 L469.6 639.3 L470 638.7 L470.3 638.6 L470.7 640.4 L471 642.8 L471.4 645.7 L471.7 648 L472.1 647.6 L472.4 646.2 L472.8 649.1 L473.1 650.8 L473.5 651.1 L473.8 653.8 L474.2 655.9 L474.5 656.2 L474.9 658.9 L475.2 660.9 L475.6 660 L475.9 661.5 L476.3 664.5 L476.6 665.7 L477 668.3 L477.3 670.8 L477.7 672.1 L478 674.2 L478.4 675 L478.7 675.6 L479.1 677.5 L479.4 679 L479.8 681.7 L480.1 682.9 L480.5 682.1 L480.8 684.9 L481.2 687.5 L481.5 687.4 L481.9 689.7 L482.2 693 L482.6 693.3 L482.9 693.3 L483.3 696.1 L483.6 699 L484 700.5 L484.3 701.2 L484.7 702.8 L485 705.7 L485.4 707.1 L485.7 707.8 L486.1 709.6 L486.4 710.9 L486.8 711.5 L487.1 712.9 L487.5 714.9 L487.8 716.2 L488.2 717.4 L488.5 718.2 L488.9 719.1 L489.2 719.7 L489.6 721.5 L489.9 723.9 L490.3 724 L490.6 725.2 L491 726.6 L491.3 727.8 L491.7 730.5 L492 731.5 L492.4 731.2 L492.7 732.1 L493.1 733.7 L493.4 734.9 L493.8 736.1 L494.1 736.5 L494.5 737.8 L494.8 739.7 L495.2 739.9 L495.5 741.5 L495.9 742.8 L496.2 742.2 L496.6 741.9 L496.9 743.8 L497.3 744.9 L497.6 744.7 L498 745.8 L498.3 746.7 L498.7 747.1 L499 747.3 L499.4 747.5 L499.7 748.2 L500.1 749 L500.4 750 L500.8 749.6 L501.1 749.3 L501.5 750.1 L501.8 750.9 L502.2 751.3 L502.5 751.7 L502.9 752.8 L503.2 753.2 L503.6 753.6 L503.9 753.9 L504.3 753.1 L504.6 753.5 L505 754.6 L505.3 754.8 L505.7 754.9 L506 756 L506.4 756.5 L506.7 756 L507.1 755.7 L507.4 756.7 L507.8 757.7 L508.1 757.3 L508.5 757.4 L508.8 758.2 L509.2 759 L509.5 759.6 L509.9 760.4 L510.2 760.3 L510.6 759.2 L510.9 759.8 L511.3 761.1 L511.6 761.1 L512 760.7 L512.3 761.5 L512.7 762.2 L513 762.9 L513.4 763 L513.7 763.7 L514.1 764.4 L514.4 764.2 L514.8 763.7 L515.1 763.9 L515.5 765.1 L515.8 765.1 L516.2 765.4 L516.5 765.9 L516.9 766 L517.2 766.1 L517.6 766.3 L517.9 765.8 L518.3 765.7 L518.6 766.3 L519 766.6 L519.3 766.8 L519.7 766.6 L520 767.1 L520.4 767.7 L520.7 767.8 L521.1 768.2 L521.4 768.3 L521.8 768.5 L522.1 769 L522.5 768.7 L522.8 768.9 L523.2 769.3 L523.5 769.3 L523.9 769.5 L524.2 769.9 L524.6 770.4 L524.9 769.5 L525.3 769.3 L525.6 769.8 L526 770.2 L526.3 770.9 L526.7 771.2 L527 770.7 L527.4 770.3 L527.7 770.9 L528.1 771.6 L528.4 772 L528.8 772.4 L529.1 772.4 L529.5 772.8 L529.8 772.9 L530.2 772.9 L530.5 772.9 L530.9 773 L531.2 773.7 L531.6 773.5 L531.9 772.9 L532.3 773.2 L532.6 774 L533 774.2 L533.3 774 L533.7 774.2 L534 774.6 L534.4 774.6 L534.7 774.4 L535.1 774.2 L535.4 774.7 L535.8 775.2 L536.1 775.4 L536.5 776.1 L536.8 776.3 L537.2 775.7 L537.5 775.7 L537.9 776 L538.2 776.1 L538.6 776.6 L538.9 776.6 L539.3 776.6 L539.6 776.9 L540 777 L540.3 777.3 L540.7 777.3 L541 777.4 L541.4 777.9 L541.7 777.5 L542.1 777.4 L542.4 777.7 L542.8 777.4 L543.1 777.4 L543.5 778.1 L543.8 778.6 L544.2 778.4 L544.5 778.5 L544.9 778.8 L545.2 778.6 L545.6 778.8 L545.9 779.1 L546.3 778.8 L546.6 778.8 L547 779.1 L547.3 779.2 L547.7 779.2 L548 779.3 L548.4 779.7 L548.7 780.2 L549.1 779.9 L549.4 779.5 L549.8 779.5 L550.1 780 L550.5 780.1 L550.8 779.9 L551.2 780.2 L551.5 780.7 L551.9 780.8 L552.2 780.6 L552.6 780.8 L552.9 780.6 L553.3 780.3 L553.6 780.9 L554 781.4 L554.3 781.4 L554.7 781.3 L555 781.2 L555.4 781.2 L555.7 781.6 L556.1 781.5 L556.4 781.5 L556.8 781.7 L557.1 781.3 L557.5 781.4 L557.8 781.6 L558.2 781.7 L558.5 781.9 L558.9 782.3 L559.2 782.2 L559.6 781.5 L559.9 781.7 L560.3 782.2 L560.6 782.2 L561 782 L561.3 782.2 L561.7 782.5 L562 782.3 L562.4 782.4 L562.7 782.5 L563.1 782.4 L563.4 782.3 L563.8 782.2 L564.1 782.6 L564.5 782.9 L564.8 783 L565.2 782.9 L565.5 782.7 L565.9 782.6 L566.2 782.5 L566.6 782.6 L566.9 783 L567.3 783.2 L567.6 783.2 L568 783.1 L568.3 782.9 L568.7 782.8 L569 783.1 L569.4 783.2 L569.7 783.2 L570.1 783 L570.4 783.2 L570.8 783.4 L571.1 783 L571.5 783.1 L571.8 782.6 L572.2 782.6 L572.5 783.5 L572.9 783.5 L573.2 783.4 L573.6 783.2 L573.9 782.8 L574.3 782.9 L574.6 783.3 L575 783.3 L575.3 783.2 L575.7 783.4 L576 783.4 L576.4 783.4 L576.7 783.2 L577.1 783.5 L577.4 783.3 L577.8 783 L578.1 783.6 L578.5 783.9 L578.8 783.7 L579.2 783.7 L579.5 783.7 L579.9 783.7 L580.2 783.8 L580.6 783.6 L580.9 783.2 L581.3 783.3 L581.6 784 L582 784 L582.3 783.5 L582.7 783.9 L583 784.4 L583.4 784.1 L583.7 784 L584.1 784.2 L584.4 784 L584.8 784.1 L585.1 784.4 L585.5 784.3 L585.8 784.4 L586.2 784 L586.5 783.8 L586.9 784.4 L587.2 784.6 L587.6 784.1 L587.9 784.1 L588.3 784.2 L588.6 784.2 L589 784.2 L589.3 784.3 L589.7 784.8 L590 784.7 L590.4 784.6 L590.7 784.5 L591.1 784.3 L591.4 784.5 L591.8 784.7 L592.1 784.5 L592.5 784.3 L592.8 784.1 L593.2 784.3 L593.5 784.6 L593.9 784.5 L594.2 784.4 L594.6 784.1 L594.9 784 L595.3 784.1 L595.6 784.3 L596 784.4 L596.3 784.3 L596.7 784.3 L597 784.3 L597.4 784.2 L597.7 784.4 L598.1 784.7 L598.4 784.5 L598.8 784.6 L599.1 784.4 L599.5 784.5 L599.8 784.7 L600.2 784.4 L600.5 784.6 L600.9 784.5 L601.2 784.4 L601.6 784.8 L601.9 784.6 L602.3 784.4 L602.6 784.3 L603 784.3 L603.3 784.5 L603.7 784.3 L604 784.5 L604.4 785 L604.7 784.5 L605.1 784.2 L605.4 784.5 L605.8 784.4 L606.1 784.5 L606.5 784.5 L606.8 784.5 L607.2 784.5 L607.5 784.5 L607.9 784.5 L608.2 784.4 L608.6 784.5 L608.9 784.9 L609.3 784.8 L609.6 784.4 L610 784.6 L610.3 784.4 L610.7 784.2 L611 784.3 L611.4 784.2 L611.7 784.3 L612.1 784.3 L612.4 784.6 L612.8 784.6 L613.1 784.3 L613.5 784.6 L613.8 784.7 L614.2 784.7 L614.5 784.6 L614.9 784.4 L615.2 784.4 L615.6 784.4 L615.9 784.2 L616.3 783.9 L616.6 784.1 L617 784.5 L617.3 784.4 L617.7 784.6 L618 784.8 L618.4 784.7 L618.7 784.5 L619.1 784.5 L619.4 784.5 L619.8 784.4 L620.1 784.3 L620.5 784.3 L620.8 784.5 L621.2 784.5 L621.5 784.5 L621.9 784.6 L622.2 784.5 L622.6 784.6 L622.9 784.2 L623.3 784.1 L623.6 784.5 L624 784.8 L624.3 784.8 L624.7 785 L625 785.1 L625.4 784.7 L625.7 784.3 L626.1 784.3 L626.4 784.4 L626.8 784.5 L627.1 784.6 L627.5 784.4 L627.8 784.4 L628.2 784.5 L628.5 784.4 L628.9 784.2 L629.2 784.3 L629.6 784.5 L629.9 784.1 L630.3 784.2 L630.6 784.5 L631 784.2 L631.3 784.4 L631.7 784.6 L632 784.5 L632.4 784.4 L632.7 784.2 L633.1 784.5 L633.4 784.7 L633.8 784.5 L634.1 784 L634.5 784.1 L634.8 784.5 L635.2 784.7 L635.5 784.6 L635.9 784.4 L636.2 784.4 L636.6 784.3 L636.9 784.5 L637.3 784.5 L637.6 784.5 L638 784.5 L638.3 784.7 L638.7 784.9 L639 784.7 L639.4 784.4 L639.7 784.2 L640.1 784.5 L640.4 784.7 L640.8 784.4 L641.1 784.3 L641.5 784.6 L641.8 784.7 L642.2 784.4 L642.5 784.6 L642.9 784.8 L643.2 784.4 L643.6 784.1 L643.9 784.4 L644.3 784.4 L644.6 784.3 L645 784.7 L645.3 785.1 L645.7 785.1 L646 784.8 L646.4 784.6 L646.7 784.4 L647.1 784.2 L647.4 784.3 L647.8 784.5 L648.1 784.7 L648.5 784.8 L648.8 784.7 L649.2 784.7 L649.5 784.6 L649.9 784.7 L650.2 784.5 L650.6 784.6 L650.9 784.9 L651.3 784.4 L651.6 784.4 L652 784.8 L652.3 784.7 L652.7 784.5 L653 784.6 L653.4 784.7 L653.7 784.8 L654.1 784.5 L654.4 784.5 L654.8 784.7 L655.1 784.6 L655.5 784.4 L655.8 784.2 L656.2 784.3 L656.5 784.3 L656.9 784.1 L657.2 784.4 L657.6 784.7 L657.9 784.8 L658.3 784.4 L658.6 784.4 L659 784.3 L659.3 784.2 L659.7 784.6 L660 784.7 L660.4 784.7 L660.7 784.7 L661.1 784.6 L661.4 784.4 L661.8 784.6 L662.1 784.6 L662.5 784.4 L662.8 784.4 L663.2 784.3 L663.5 784.2 L663.9 784.3 L664.2 784.6 L664.6 784.9 L664.9 784.8 L665.3 784.9 L665.6 784.9 L666 784.5 L666.3 784.5" fill="none" stroke="#111" stroke-width="2.3" stroke-linejoin="round"/>
<path d="M377.9 784.5 L378.2 784.5 L378.6 784.5 L379 784.4 L379.3 784.4 L379.7 784.4 L380 784.4 L380.4 784.4 L380.7 784.3 L381.1 784.3 L381.4 784.3 L381.8 784.2 L382.1 784.2 L382.5 784.1 L382.8 784.1 L383.2 784 L383.5 783.9 L383.9 783.9 L384.2 783.8 L384.6 783.7 L384.9 783.6 L385.3 783.5 L385.6 783.4 L386 783.3 L386.3 783.2 L386.7 783.1 L387 783 L387.4 782.9 L387.7 782.7 L388.1 782.6 L388.4 782.5 L388.8 782.3 L389.1 782.1 L389.5 782 L389.8 781.8 L390.2 781.6 L390.5 781.4 L390.9 781.2 L391.2 781 L391.6 780.8 L391.9 780.6 L392.3 780.4 L392.6 780.1 L393 779.9 L393.3 779.6 L393.7 779.3 L394 779 L394.4 778.7 L394.7 778.3 L395.1 777.9 L395.4 777.5 L395.8 777.1 L396.1 776.6 L396.5 776.2 L396.8 775.7 L397.2 775.2 L397.5 774.7 L397.9 774.2 L398.2 773.6 L398.6 773.1 L398.9 772.5 L399.3 772 L399.6 771.4 L400 770.8 L400.3 770.1 L400.7 769.5 L401 768.8 L401.4 768 L401.7 767.3 L402.1 766.5 L402.4 765.6 L402.8 764.8 L403.1 763.8 L403.5 762.8 L403.8 761.8 L404.2 760.7 L404.5 759.4 L404.9 758.1 L405.2 756.6 L405.6 755 L405.9 753.3 L406.3 751.5 L406.6 749.6 L407 747.7 L407.3 745.7 L407.7 743.7 L408 741.7 L408.4 739.6 L408.7 737.5 L409.1 735.2 L409.4 732.9 L409.8 730.6 L410.1 728.2 L410.5 725.8 L410.8 723.5 L411.2 721.1 L411.5 718.7 L411.9 716.3 L412.2 713.9 L412.6 711.5 L412.9 709.1 L413.3 706.7 L413.6 704.2 L414 701.7 L414.3 699.1 L414.7 696.5 L415 693.9 L415.4 691.4 L415.7 688.9 L416.1 686.6 L416.4 684.5 L416.8 682.7 L417.1 681.1 L417.5 679.7 L417.8 678.5 L418.2 677.3 L418.5 676.3 L418.9 675.3 L419.2 674.3 L419.6 673.4 L419.9 672.5 L420.3 671.6 L420.6 670.7 L421 669.9 L421.3 669.1 L421.7 668.3 L422 667.5 L422.4 666.8 L422.7 666.1 L423.1 665.4 L423.4 664.8 L423.8 664.1 L424.1 663.5 L424.5 662.8 L424.8 662.2 L425.2 661.5 L425.5 660.9 L425.9 660.3 L426.2 659.6 L426.6 658.9 L426.9 658.3 L427.3 657.6 L427.6 656.9 L428 656.3 L428.3 655.6 L428.7 654.9 L429 654.3 L429.4 653.7 L429.7 653 L430.1 652.5 L430.4 651.9 L430.8 651.3 L431.1 650.8 L431.5 650.3 L431.8 649.8 L432.2 649.3 L432.5 648.8 L432.9 648.3 L433.2 647.7 L433.6 647.2 L433.9 646.6 L434.3 646 L434.6 645.4 L435 644.8 L435.3 644.2 L435.7 643.5 L436 642.9 L436.4 642.2 L436.7 641.6 L437.1 640.9 L437.4 640.2 L437.8 639.5 L438.1 638.8 L438.5 638.2 L438.8 637.5 L439.2 636.8 L439.5 636.2 L439.9 635.5 L440.2 634.8 L440.6 634.1 L440.9 633.4 L441.3 632.7 L441.6 632 L442 631.3 L442.3 630.7 L442.7 630 L443 629.3 L443.4 628.7 L443.7 628 L444.1 627.4 L444.4 626.8 L444.8 626.1 L445.1 625.5 L445.5 625 L445.8 624.4 L446.2 623.8 L446.5 623.2 L446.9 622.7 L447.2 622.1 L447.6 621.6 L447.9 621 L448.3 620.5 L448.6 620 L449 619.5 L449.3 619 L449.7 618.5 L450 618 L450.4 617.5 L450.7 617 L451.1 616.6 L451.4 616.1 L451.8 615.6 L452.1 615.1 L452.5 614.6 L452.8 614.1 L453.2 613.6 L453.5 613.1 L453.9 612.7 L454.2 612.4 L454.6 612 L454.9 611.8 L455.3 611.6 L455.6 611.5 L456 611.5 L456.3 611.4 L456.7 611.5 L457 611.5 L457.4 611.5 L457.7 611.6 L458.1 611.6 L458.4 611.7 L458.8 611.8 L459.1 611.9 L459.5 612.1 L459.8 612.4 L460.2 612.7 L460.5 613.2 L460.9 613.7 L461.2 614.4 L461.6 615 L461.9 615.7 L462.3 616.5 L462.6 617.3 L463 618.2 L463.3 619.1 L463.7 620.1 L464 621.2 L464.4 622.3 L464.7 623.4 L465.1 624.6 L465.4 625.7 L465.8 626.8 L466.1 627.9 L466.5 629.1 L466.8 630.2 L467.2 631.4 L467.5 632.5 L467.9 633.7 L468.2 634.9 L468.6 636.1 L468.9 637.3 L469.3 638.5 L469.6 639.7 L470 640.9 L470.3 642.1 L470.7 643.3 L471 644.5 L471.4 645.7 L471.7 647 L472.1 648.3 L472.4 649.6 L472.8 650.9 L473.1 652.3 L473.5 653.7 L473.8 655.1 L474.2 656.6 L474.5 658 L474.9 659.6 L475.2 661.1 L475.6 662.7 L475.9 664.3 L476.3 665.9 L476.6 667.5 L477 669.1 L477.3 670.8 L477.7 672.3 L478 673.9 L478.4 675.5 L478.7 677.1 L479.1 678.7 L479.4 680.3 L479.8 681.9 L480.1 683.4 L480.5 685 L480.8 686.6 L481.2 688.2 L481.5 689.7 L481.9 691.3 L482.2 692.8 L482.6 694.3 L482.9 695.8 L483.3 697.3 L483.6 698.8 L484 700.3 L484.3 701.8 L484.7 703.3 L485 704.7 L485.4 706.2 L485.7 707.7 L486.1 709.1 L486.4 710.5 L486.8 712 L487.1 713.4 L487.5 714.8 L487.8 716.1 L488.2 717.5 L488.5 718.8 L488.9 720.1 L489.2 721.4 L489.6 722.6 L489.9 723.8 L490.3 725 L490.6 726.3 L491 727.5 L491.3 728.7 L491.7 729.9 L492 731 L492.4 732.2 L492.7 733.4 L493.1 734.5 L493.4 735.6 L493.8 736.7 L494.1 737.7 L494.5 738.7 L494.8 739.7 L495.2 740.7 L495.5 741.5 L495.9 742.4 L496.2 743.2 L496.6 743.9 L496.9 744.6 L497.3 745.3 L497.6 745.9 L498 746.5 L498.3 747.1 L498.7 747.6 L499 748.1 L499.4 748.6 L499.7 749.1 L500.1 749.6 L500.4 750 L500.8 750.5 L501.1 750.9 L501.5 751.3 L501.8 751.8 L502.2 752.2 L502.5 752.6 L502.9 753 L503.2 753.3 L503.6 753.7 L503.9 754.1 L504.3 754.4 L504.6 754.8 L505 755.1 L505.3 755.5 L505.7 755.8 L506 756.1 L506.4 756.5 L506.7 756.8 L507.1 757.1 L507.4 757.4 L507.8 757.8 L508.1 758.1 L508.5 758.5 L508.8 758.8 L509.2 759.2 L509.5 759.5 L509.9 759.9 L510.2 760.2 L510.6 760.6 L510.9 760.9 L511.3 761.3 L511.6 761.6 L512 762 L512.3 762.3 L512.7 762.6 L513 762.9 L513.4 763.2 L513.7 763.5 L514.1 763.8 L514.4 764.1 L514.8 764.4 L515.1 764.6 L515.5 764.9 L515.8 765.1 L516.2 765.4 L516.5 765.6 L516.9 765.8 L517.2 766.1 L517.6 766.3 L517.9 766.5 L518.3 766.7 L518.6 766.9 L519 767.2 L519.3 767.4 L519.7 767.6 L520 767.8 L520.4 768 L520.7 768.2 L521.1 768.4 L521.4 768.6 L521.8 768.8 L522.1 769 L522.5 769.2 L522.8 769.4 L523.2 769.6 L523.5 769.8 L523.9 769.9 L524.2 770.1 L524.6 770.3 L524.9 770.5 L525.3 770.7 L525.6 770.9 L526 771 L526.3 771.2 L526.7 771.4 L527 771.6 L527.4 771.7 L527.7 771.9 L528.1 772.1 L528.4 772.2 L528.8 772.4 L529.1 772.6 L529.5 772.7 L529.8 772.9 L530.2 773.1 L530.5 773.2 L530.9 773.4 L531.2 773.6 L531.6 773.7 L531.9 773.9 L532.3 774 L532.6 774.2 L533 774.3 L533.3 774.5 L533.7 774.7 L534 774.8 L534.4 775 L534.7 775.1 L535.1 775.3 L535.4 775.4 L535.8 775.6 L536.1 775.7 L536.5 775.8 L536.8 776 L537.2 776.1 L537.5 776.3 L537.9 776.4 L538.2 776.5 L538.6 776.7 L538.9 776.8 L539.3 776.9 L539.6 777.1 L540 777.2 L540.3 777.3 L540.7 777.4 L541 777.5 L541.4 777.7 L541.7 777.8 L542.1 777.9 L542.4 778 L542.8 778.1 L543.1 778.3 L543.5 778.4 L543.8 778.5 L544.2 778.6 L544.5 778.7 L544.9 778.9 L545.2 779 L545.6 779.1 L545.9 779.2 L546.3 779.3 L546.6 779.4 L547 779.5 L547.3 779.6 L547.7 779.7 L548 779.8 L548.4 779.9 L548.7 780 L549.1 780.1 L549.4 780.2 L549.8 780.3 L550.1 780.4 L550.5 780.5 L550.8 780.6 L551.2 780.7 L551.5 780.8 L551.9 780.8 L552.2 780.9 L552.6 781 L552.9 781.1 L553.3 781.2 L553.6 781.2 L554 781.3 L554.3 781.4 L554.7 781.4 L555 781.5 L555.4 781.5 L555.7 781.6 L556.1 781.7 L556.4 781.7 L556.8 781.8 L557.1 781.8 L557.5 781.9 L557.8 782 L558.2 782 L558.5 782.1 L558.9 782.1 L559.2 782.2 L559.6 782.2 L559.9 782.3 L560.3 782.3 L560.6 782.4 L561 782.4 L561.3 782.5 L561.7 782.5 L562 782.6 L562.4 782.6 L562.7 782.6 L563.1 782.7 L563.4 782.7 L563.8 782.8 L564.1 782.8 L564.5 782.9 L564.8 782.9 L565.2 782.9 L565.5 783 L565.9 783 L566.2 783 L566.6 783.1 L566.9 783.1 L567.3 783.1 L567.6 783.2 L568 783.2 L568.3 783.2 L568.7 783.3 L569 783.3 L569.4 783.3 L569.7 783.3 L570.1 783.4 L570.4 783.4 L570.8 783.4 L571.1 783.4 L571.5 783.4 L571.8 783.5 L572.2 783.5 L572.5 783.5 L572.9 783.5 L573.2 783.5 L573.6 783.6 L573.9 783.6 L574.3 783.6 L574.6 783.6 L575 783.6 L575.3 783.7 L575.7 783.7 L576 783.7 L576.4 783.7 L576.7 783.7 L577.1 783.8 L577.4 783.8 L577.8 783.8 L578.1 783.8 L578.5 783.8 L578.8 783.9 L579.2 783.9 L579.5 783.9 L579.9 783.9 L580.2 783.9 L580.6 784 L580.9 784 L581.3 784 L581.6 784.1 L582 784.1 L582.3 784.1 L582.7 784.2 L583 784.2 L583.4 784.2 L583.7 784.2 L584.1 784.3 L584.4 784.3 L584.8 784.3 L585.1 784.3 L585.5 784.3 L585.8 784.3 L586.2 784.3 L586.5 784.4 L586.9 784.4 L587.2 784.4 L587.6 784.4 L587.9 784.4 L588.3 784.4 L588.6 784.4 L589 784.4 L589.3 784.4 L589.7 784.4 L590 784.4 L590.4 784.5 L590.7 784.5 L591.1 784.5 L591.4 784.5 L591.8 784.5 L592.1 784.5 L592.5 784.5 L592.8 784.5 L593.2 784.5 L593.5 784.5 L593.9 784.5 L594.2 784.5 L594.6 784.5 L594.9 784.5 L595.3 784.5 L595.6 784.6 L596 784.6 L596.3 784.6 L596.7 784.6 L597 784.6 L597.4 784.6 L597.7 784.6 L598.1 784.6 L598.4 784.6 L598.8 784.6 L599.1 784.6 L599.5 784.6 L599.8 784.6 L600.2 784.6 L600.5 784.6 L600.9 784.6 L601.2 784.6 L601.6 784.6 L601.9 784.6 L602.3 784.6 L602.6 784.6 L603 784.6 L603.3 784.6 L603.7 784.6 L604 784.6 L604.4 784.6 L604.7 784.6 L605.1 784.6 L605.4 784.6 L605.8 784.6 L606.1 784.6 L606.5 784.7 L606.8 784.7 L607.2 784.7 L607.5 784.7 L607.9 784.7 L608.2 784.7 L608.6 784.7 L608.9 784.7 L609.3 784.7 L609.6 784.7 L610 784.7 L610.3 784.7 L610.7 784.7 L611 784.7 L611.4 784.7 L611.7 784.7 L612.1 784.7 L612.4 784.7 L612.8 784.7 L613.1 784.7 L613.5 784.7 L613.8 784.7 L614.2 784.7 L614.5 784.7 L614.9 784.7 L615.2 784.7 L615.6 784.7 L615.9 784.7 L616.3 784.7 L616.6 784.7 L617 784.7 L617.3 784.7 L617.7 784.7 L618 784.7 L618.4 784.7 L618.7 784.7 L619.1 784.7 L619.4 784.7 L619.8 784.7 L620.1 784.7 L620.5 784.7 L620.8 784.7 L621.2 784.7 L621.5 784.7 L621.9 784.7 L622.2 784.7 L622.6 784.7 L622.9 784.7 L623.3 784.7 L623.6 784.7 L624 784.7 L624.3 784.7 L624.7 784.7 L625 784.7 L625.4 784.7 L625.7 784.7 L626.1 784.7 L626.4 784.7 L626.8 784.7 L627.1 784.7 L627.5 784.7 L627.8 784.7 L628.2 784.7 L628.5 784.7 L628.9 784.7 L629.2 784.7 L629.6 784.7 L629.9 784.7 L630.3 784.7 L630.6 784.7 L631 784.7 L631.3 784.7 L631.7 784.7 L632 784.7 L632.4 784.7 L632.7 784.7 L633.1 784.7 L633.4 784.7 L633.8 784.7 L634.1 784.7 L634.5 784.7 L634.8 784.7 L635.2 784.7 L635.5 784.7 L635.9 784.7 L636.2 784.7 L636.6 784.7 L636.9 784.7 L637.3 784.7 L637.6 784.7 L638 784.7 L638.3 784.7 L638.7 784.7 L639 784.7 L639.4 784.7 L639.7 784.7 L640.1 784.7 L640.4 784.7 L640.8 784.7 L641.1 784.7 L641.5 784.7 L641.8 784.7 L642.2 784.7 L642.5 784.7 L642.9 784.7 L643.2 784.7 L643.6 784.7 L643.9 784.7 L644.3 784.7 L644.6 784.7 L645 784.7 L645.3 784.7 L645.7 784.7 L646 784.7 L646.4 784.7 L646.7 784.7 L647.1 784.7 L647.4 784.7 L647.8 784.7 L648.1 784.7 L648.5 784.7 L648.8 784.7 L649.2 784.7 L649.5 784.7 L649.9 784.7 L650.2 784.7 L650.6 784.7 L650.9 784.7 L651.3 784.7 L651.6 784.7 L652 784.7 L652.3 784.7 L652.7 784.7 L653 784.7 L653.4 784.7 L653.7 784.7 L654.1 784.7 L654.4 784.7 L654.8 784.7 L655.1 784.7 L655.5 784.7 L655.8 784.7 L656.2 784.7 L656.5 784.7 L656.9 784.7 L657.2 784.7 L657.6 784.7 L657.9 784.7 L658.3 784.7 L658.6 784.7 L659 784.7 L659.3 784.7 L659.7 784.7 L660 784.7 L660.4 784.7 L660.7 784.7 L661.1 784.7 L661.4 784.7 L661.8 784.7 L662.1 784.7 L662.5 784.7 L662.8 784.7 L663.2 784.7 L663.5 784.7 L663.9 784.7 L664.2 784.7 L664.6 784.7 L664.9 784.7 L665.3 784.7 L665.6 784.7 L666 784.7 L666.3 784.7" fill="none" stroke="#d42424" stroke-width="1.5" stroke-linejoin="round"/>
<rect x="377.9" y="572.8" width="288.5" height="211.9" fill="none" stroke="#222" stroke-width="1.6"/>
<line x1="377.9" y1="784.7" x2="377.9" y2="789.2" stroke="#222" stroke-width="1.3" />
<text x="0" y="0" transform="translate(377.9 801.8) scale(1.05 1)" font-size="10.8" text-anchor="middle" fill="#111" style="font-weight:bold;" >280</text>
<line x1="413.96" y1="784.7" x2="413.96" y2="789.2" stroke="#222" stroke-width="1.3" />
<text x="0" y="0" transform="translate(413.96 801.8) scale(1.05 1)" font-size="10.8" text-anchor="middle" fill="#111" style="font-weight:bold;" >320</text>
<line x1="450.02" y1="784.7" x2="450.02" y2="789.2" stroke="#222" stroke-width="1.3" />
<text x="0" y="0" transform="translate(450.02 801.8) scale(1.05 1)" font-size="10.8" text-anchor="middle" fill="#111" style="font-weight:bold;" >360</text>
<line x1="486.09" y1="784.7" x2="486.09" y2="789.2" stroke="#222" stroke-width="1.3" />
<text x="0" y="0" transform="translate(486.09 801.8) scale(1.05 1)" font-size="10.8" text-anchor="middle" fill="#111" style="font-weight:bold;" >400</text>
<line x1="522.15" y1="784.7" x2="522.15" y2="789.2" stroke="#222" stroke-width="1.3" />
<text x="0" y="0" transform="translate(522.15 801.8) scale(1.05 1)" font-size="10.8" text-anchor="middle" fill="#111" style="font-weight:bold;" >440</text>
<line x1="558.21" y1="784.7" x2="558.21" y2="789.2" stroke="#222" stroke-width="1.3" />
<text x="0" y="0" transform="translate(558.21 801.8) scale(1.05 1)" font-size="10.8" text-anchor="middle" fill="#111" style="font-weight:bold;" >480</text>
<line x1="594.27" y1="784.7" x2="594.27" y2="789.2" stroke="#222" stroke-width="1.3" />
<text x="0" y="0" transform="translate(594.27 801.8) scale(1.05 1)" font-size="10.8" text-anchor="middle" fill="#111" style="font-weight:bold;" >520</text>
<line x1="630.34" y1="784.7" x2="630.34" y2="789.2" stroke="#222" stroke-width="1.3" />
<text x="0" y="0" transform="translate(630.34 801.8) scale(1.05 1)" font-size="10.8" text-anchor="middle" fill="#111" style="font-weight:bold;" >560</text>
<line x1="666.4" y1="784.7" x2="666.4" y2="789.2" stroke="#222" stroke-width="1.3" />
<text x="0" y="0" transform="translate(666.4 801.8) scale(1.05 1)" font-size="10.8" text-anchor="middle" fill="#111" style="font-weight:bold;" >600</text>
<line x1="395.93" y1="784.7" x2="395.93" y2="787.2" stroke="#222" stroke-width="1.1" />
<line x1="431.99" y1="784.7" x2="431.99" y2="787.2" stroke="#222" stroke-width="1.1" />
<line x1="468.06" y1="784.7" x2="468.06" y2="787.2" stroke="#222" stroke-width="1.1" />
<line x1="504.12" y1="784.7" x2="504.12" y2="787.2" stroke="#222" stroke-width="1.1" />
<line x1="540.18" y1="784.7" x2="540.18" y2="787.2" stroke="#222" stroke-width="1.1" />
<line x1="576.24" y1="784.7" x2="576.24" y2="787.2" stroke="#222" stroke-width="1.1" />
<line x1="612.31" y1="784.7" x2="612.31" y2="787.2" stroke="#222" stroke-width="1.1" />
<line x1="648.37" y1="784.7" x2="648.37" y2="787.2" stroke="#222" stroke-width="1.1" />
<text x="335.8" y="586.3" font-size="18.5" text-anchor="start" fill="#111" style="font-weight:bold;" >(f)</text>
<text x="0" y="0" font-size="13.5" text-anchor="middle" dominant-baseline="central" fill="#111" style="font-weight:bold;" transform="translate(362.6 679) rotate(-90)" >Intensity (a.u.)</text>
<text x="0" y="0" transform="translate(522.7 823) scale(1.02 1)" font-size="13.2" text-anchor="middle" fill="#111" style="font-weight:bold;" >Wavelength (nm)</text>
<text x="424.1" y="707" font-size="12.2" text-anchor="middle" fill="#111" style="font-weight:bold;" >328</text>
<text x="457.6" y="603.5" font-size="12.2" text-anchor="middle" fill="#111" style="font-weight:bold;" >365</text>
<text x="489.1" y="754.3" font-size="12.2" text-anchor="middle" fill="#111" style="font-weight:bold;" >404</text>
<rect x="592.6" y="586.8" width="22.6" height="11.2" fill="url(#gp1)" stroke="#eadcf8" stroke-width="0.5"/>
<text x="621.1" y="596.4" font-size="11.2" text-anchor="start" fill="#111" style="font-weight:bold;" >328 nm</text>
<rect x="592.6" y="600.95" width="22.6" height="11.2" fill="url(#gp2)" stroke="#eadcf8" stroke-width="0.5"/>
<text x="621.1" y="610.55" font-size="11.2" text-anchor="start" fill="#111" style="font-weight:bold;" >365 nm</text>
<rect x="592.6" y="615.1" width="22.6" height="11.2" fill="url(#gb3)" stroke="#eadcf8" stroke-width="0.5"/>
<text x="621.1" y="624.7" font-size="11.2" text-anchor="start" fill="#111" style="font-weight:bold;" >404 nm</text>
<text x="382.1" y="589.1" font-size="13.8" fill="#111" style="font-weight:bold">λ<tspan dy="3.9" font-size="9.4">ex</tspan><tspan dy="-3.9">=266 nm</tspan></text>
<text x="536.6" y="754.7" font-size="13.7" fill="#e24c4c"><tspan style="font-style:italic">β</tspan>-Ga<tspan dy="3.5" font-size="9">2</tspan><tspan dy="-3.5">O</tspan><tspan dy="3.5" font-size="9">3</tspan><tspan dy="-3.5"> single crystal</tspan></text>
<text x="118.4" y="858.2" font-size="19.8" text-anchor="start" fill="#111" style="font-weight:bold;" >(g)</text>
<text x="246.6" y="856.3" font-size="20.9" fill="#111" style="font-weight:bold">Acceptor-rich <tspan style="font-style:italic">β</tspan>-Ga<tspan dy="4.5" font-size="13.5">2</tspan><tspan dy="-4.5">O</tspan><tspan dy="4.5" font-size="13.5">3</tspan></text>
<rect x="209.7" y="866" width="281.4" height="40.4" fill="url(#gcbm)" />
<rect x="209.6" y="1054.5" width="281" height="37" fill="url(#gvbm)" />
<text x="0" y="0" transform="translate(154 893.4) scale(0.94 1)" font-size="22.5" text-anchor="start" fill="#111" style="font-weight:bold;" >CBM</text>
<text x="156.6" y="1079.7" font-size="21" text-anchor="start" fill="#111" style="font-weight:bold;" >VBM</text>
<circle cx="234.9" cy="888.3" r="9.9" fill="#23549c"/>
<text x="230.3" y="891.6" font-size="15.5" fill="#fff" style="font-weight:bold">e</text>
<rect x="237.3" y="883.6" width="2.4" height="0.9" fill="#fff"/>
<circle cx="263.84" cy="888.3" r="9.9" fill="#23549c"/>
<text x="259.24" y="891.6" font-size="15.5" fill="#fff" style="font-weight:bold">e</text>
<rect x="266.24" y="883.6" width="2.4" height="0.9" fill="#fff"/>
<circle cx="292.78" cy="888.3" r="9.9" fill="#23549c"/>
<text x="288.18" y="891.6" font-size="15.5" fill="#fff" style="font-weight:bold">e</text>
<rect x="295.18" y="883.6" width="2.4" height="0.9" fill="#fff"/>
<circle cx="321.72" cy="888.3" r="9.9" fill="#23549c"/>
<text x="317.12" y="891.6" font-size="15.5" fill="#fff" style="font-weight:bold">e</text>
<rect x="324.12" y="883.6" width="2.4" height="0.9" fill="#fff"/>
<circle cx="350.66" cy="888.3" r="9.9" fill="#23549c"/>
<text x="346.06" y="891.6" font-size="15.5" fill="#fff" style="font-weight:bold">e</text>
<rect x="353.06" y="883.6" width="2.4" height="0.9" fill="#fff"/>
<circle cx="379.6" cy="888.3" r="9.9" fill="#23549c"/>
<text x="375" y="891.6" font-size="15.5" fill="#fff" style="font-weight:bold">e</text>
<rect x="382" y="883.6" width="2.4" height="0.9" fill="#fff"/>
<circle cx="408.54" cy="888.3" r="9.9" fill="#23549c"/>
<text x="403.94" y="891.6" font-size="15.5" fill="#fff" style="font-weight:bold">e</text>
<rect x="410.94" y="883.6" width="2.4" height="0.9" fill="#fff"/>
<circle cx="437.48" cy="888.3" r="9.9" fill="#23549c"/>
<text x="432.88" y="891.6" font-size="15.5" fill="#fff" style="font-weight:bold">e</text>
<rect x="439.88" y="883.6" width="2.4" height="0.9" fill="#fff"/>
<circle cx="466.42" cy="888.3" r="9.9" fill="#23549c"/>
<text x="461.82" y="891.6" font-size="15.5" fill="#fff" style="font-weight:bold">e</text>
<rect x="468.82" y="883.6" width="2.4" height="0.9" fill="#fff"/>
<circle cx="236.2" cy="1073.9" r="10.4" fill="#4c8a3a"/>
<text x="230.4" y="1078.6" font-size="16" fill="#fff" style="font-weight:bold">h</text>
<text x="239.4" y="1073.4" font-size="11" fill="#fff" style="font-weight:bold">+</text>
<circle cx="267.77" cy="1073.9" r="10.4" fill="#4c8a3a"/>
<text x="261.97" y="1078.6" font-size="16" fill="#fff" style="font-weight:bold">h</text>
<text x="270.97" y="1073.4" font-size="11" fill="#fff" style="font-weight:bold">+</text>
<circle cx="299.34" cy="1073.9" r="10.4" fill="#4c8a3a"/>
<text x="293.54" y="1078.6" font-size="16" fill="#fff" style="font-weight:bold">h</text>
<text x="302.54" y="1073.4" font-size="11" fill="#fff" style="font-weight:bold">+</text>
<circle cx="330.91" cy="1073.9" r="10.4" fill="#4c8a3a"/>
<text x="325.11" y="1078.6" font-size="16" fill="#fff" style="font-weight:bold">h</text>
<text x="334.11" y="1073.4" font-size="11" fill="#fff" style="font-weight:bold">+</text>
<circle cx="362.48" cy="1073.9" r="10.4" fill="#4c8a3a"/>
<text x="356.68" y="1078.6" font-size="16" fill="#fff" style="font-weight:bold">h</text>
<text x="365.68" y="1073.4" font-size="11" fill="#fff" style="font-weight:bold">+</text>
<circle cx="394.05" cy="1073.9" r="10.4" fill="#4c8a3a"/>
<text x="388.25" y="1078.6" font-size="16" fill="#fff" style="font-weight:bold">h</text>
<text x="397.25" y="1073.4" font-size="11" fill="#fff" style="font-weight:bold">+</text>
<circle cx="425.62" cy="1073.9" r="10.4" fill="#4c8a3a"/>
<text x="419.82" y="1078.6" font-size="16" fill="#fff" style="font-weight:bold">h</text>
<text x="428.82" y="1073.4" font-size="11" fill="#fff" style="font-weight:bold">+</text>
<circle cx="457.19" cy="1073.9" r="10.4" fill="#4c8a3a"/>
<text x="451.39" y="1078.6" font-size="16" fill="#fff" style="font-weight:bold">h</text>
<text x="460.39" y="1073.4" font-size="11" fill="#fff" style="font-weight:bold">+</text>
<rect x="225.7" y="918.9" width="88.8" height="52" fill="#f5edf8" rx="7"/>
<rect x="340.5" y="959.1" width="43.1" height="46" fill="#eaf2fb" rx="6"/>
<rect x="433" y="922.3" width="47.3" height="52.3" fill="#eff5ea" rx="6"/>
<line x1="245.4" y1="906.4" x2="245.4" y2="994" stroke="#c4c4c4" stroke-width="2.2" stroke-dasharray="7 4.5"/>
<path d="M245.4 1001.5 L241.65 993.5 L249.15 993.5 Z" fill="#c4c4c4"/>
<line x1="293.2" y1="906.4" x2="293.2" y2="970" stroke="#c4c4c4" stroke-width="2.2" stroke-dasharray="7 4.5"/>
<path d="M293.2 977.5 L289.45 969.5 L296.95 969.5 Z" fill="#c4c4c4"/>
<line x1="362" y1="952.5" x2="362" y2="1006.5" stroke="#c4c4c4" stroke-width="2.2" stroke-dasharray="7 4.5"/>
<path d="M362 1014 L358.25 1006 L365.75 1006 Z" fill="#c4c4c4"/>
<line x1="457.2" y1="906.4" x2="457.2" y2="990" stroke="#c4c4c4" stroke-width="2.2" stroke-dasharray="7 4.5"/>
<path d="M457.2 997.5 L453.45 989.5 L460.95 989.5 Z" fill="#c4c4c4"/>
<rect x="219.9" y="1001.2" width="52.6" height="9.2" fill="#fde08e" />
<rect x="265.6" y="977.5" width="52.8" height="9.7" fill="#fde08e" />
<rect x="336.3" y="943.9" width="52.5" height="8.6" fill="#8ba6dc" />
<rect x="336.3" y="1015.6" width="52.5" height="9.2" fill="#a8d28e" />
<rect x="430.9" y="999.3" width="52.5" height="8.4" fill="#bcdda6" />
<text x="225.2" y="968.8" font-size="15.2" text-anchor="start" fill="#111" style="font-weight:bold;letter-spacing:0.55px" >3.78 eV</text>
<text x="271.7" y="948.6" font-size="15.2" text-anchor="start" fill="#111" style="font-weight:bold;letter-spacing:0.55px" >3.39 eV</text>
<text x="342.3" y="988" font-size="15.2" text-anchor="start" fill="#111" style="font-weight:bold;letter-spacing:0.55px" >3.0 eV</text>
<text x="434.3" y="957.3" font-size="15.2" text-anchor="start" fill="#111" style="font-weight:bold;letter-spacing:0.55px" >2.53 eV</text>
<text x="232.6" y="1028.6" font-size="17.2" fill="#111" style="font-weight:bold">O<tspan dy="3.6" font-size="11">I</tspan></text>
<text x="275.2" y="1004.0" font-size="17.2" fill="#111" style="font-weight:bold">O<tspan dy="3.6" font-size="11">II</tspan></text>
<text x="351.5" y="936.3" font-size="15.5" fill="#111" style="font-weight:bold">V<tspan dy="3.5" font-size="10">O</tspan></text>
<text x="331" y="1043.6" font-size="17.8" fill="#111" style="font-weight:bold">(V<tspan dy="3.8" font-size="12">Ga</tspan><tspan dy="-3.8">+V</tspan><tspan dy="3.8" font-size="12">O</tspan><tspan dy="-3.8">)</tspan><tspan dy="-6.2" font-size="11">1-</tspan></text>
<text x="443.5" y="1031.4" font-size="17" fill="#111" style="font-weight:bold">V</text>
<text x="457.6" y="1024.6" font-size="13" fill="#111" style="font-weight:bold">2-</text>
<text x="456.8" y="1038.8" font-size="11.5" fill="#111" style="font-weight:bold">Ga</text>
<path d="M224.3 951.1 C223.5 950.08 221.22 946.37 219.5 945 C217.78 943.63 215.75 942.65 214 942.9 C212.25 943.15 210.43 944.55 209 946.5 C207.57 948.45 206.82 954.68 205.4 954.6 C203.98 954.52 202.03 948.55 200.5 946 C198.97 943.45 197.78 939.22 196.2 939.3 C194.62 939.38 192.62 943.95 191 946.5 C189.38 949.05 188 953.85 186.5 954.6 C185 955.35 183.25 952.18 182 951 C180.75 949.82 179.5 948.08 179 947.5" fill="none" stroke="#c43fd2" stroke-width="2.9" stroke-linecap="round"/>
<path d="M174.8 943.8 L183.29 946.63 L177.63 952.29 Z" fill="#c43fd2"/>
<path d="M388.3 985.6 C389 984.67 391.03 981.47 392.5 980 C393.97 978.53 395.6 976.55 397.1 976.8 C398.6 977.05 400.12 979.23 401.5 981.5 C402.88 983.77 403.98 990.15 405.4 990.4 C406.82 990.65 408.53 985.12 410 983 C411.47 980.88 412.87 977.7 414.2 977.7 C415.53 977.7 416.87 981.25 418 983 C419.13 984.75 419.92 987.47 421 988.2 C422.08 988.93 423.92 987.53 424.5 987.4" fill="none" stroke="#2a6fc0" stroke-width="2.9" stroke-linecap="round"/>
<path d="M430.2 982 L426.09 990.45 L421.07 984.22 Z" fill="#2a6fc0"/>
<path d="M484.1 952.1 C484.75 951.17 486.67 947.95 488 946.5 C489.33 945.05 490.68 943.15 492.1 943.4 C493.52 943.65 495.03 945.7 496.5 948 C497.97 950.3 499.4 957.12 500.9 957.2 C502.4 957.28 504.05 950.8 505.5 948.5 C506.95 946.2 508.27 943.4 509.6 943.4 C510.93 943.4 512.35 946.83 513.5 948.5 C514.65 950.17 515.5 952.73 516.5 953.4 C517.5 954.07 519 952.65 519.5 952.5" fill="none" stroke="#2aa8c8" stroke-width="2.9" stroke-linecap="round"/>
<path d="M525.4 949.6 L519.71 957.08 L516.01 949.99 Z" fill="#2aa8c8"/>
<g transform="translate(168.1 1060.4) rotate(-55.9)"><path d="M0 0 L11 0 L11.5 -1.2 L12 -2.3 L12.5 -3.3 L13 -4.2 L13.5 -4.9 L14 -5.3 L14.5 -5.5 L15 -5.4 L15.5 -5.1 L16 -4.5 L16.5 -3.7 L17 -2.8 L17.5 -1.7 L18 -0.5 L18.5 0.7 L19 1.9 L19.5 3 L20 3.9 L20.5 4.6 L21 5.2 L21.5 5.5 L22 5.5 L22.5 5.2 L23 4.8 L23.5 4.1 L24 3.2 L24.5 2.1 L25 1 L25.5 -0.2 L26 -1.4 L26.5 -2.5 L27 -3.5 L27.5 -4.4 L28 -5 L28.5 -5.4 L29 -5.5 L29.5 -5.4 L30 -5 L30.5 -4.4 L31 -3.5 L31.5 -2.5 L32 -1.4 L32.5 -0.2 L33 1 L33.5 2.1 L34 3.2 L34.5 4.1 L35 4.8 L35.5 5.2 L36 5.5 L36.5 5.5 L37 5.2 L37.5 4.6 L38 3.9 L38.5 3 L39 1.9 L39.5 0.7 L40 -0.5 L40.5 -1.7 L41 -2.8 L41.5 -3.7 L42 -4.5 L42.5 -5.1 L43 -5.4 L43.5 -5.5 L44 -5.3 L44.5 -4.9 L45 -4.2 L45.5 -3.3 L46 -2.3 L46.5 -1.2 L47 -0 L47.5 1.2 L48 2.3 L48.5 3.3 L49 4.2 L49.5 4.9 L50 5.3 L50.5 5.5 L51 5.4 L51.5 5.1 L52 4.5 L52.5 3.7 L53 2.8 L53.5 1.7 L54 0.5 L54.5 -0.7 L55 -1.9 L55.5 -3 L56 -3.9 L56.5 -4.6 L57 -5.2 L57.5 -5.5 L58 -5.5 L58.5 -5.2 L59 -4.8 L59.5 -4.1 L60 -3.2 L60.5 -2.1 L61 -1 L61.5 0.2 L62 1.4 L62.5 2.5 L63 3.5 L63.5 4.4 L64 5 L64.5 5.4 L65 5.5 L65.5 5.4 L66 5" fill="none" stroke="#eaa0f2" stroke-width="7.5" stroke-linecap="round" stroke-linejoin="round" filter="url(#glow)" opacity="0.85"/><path d="M65 -6 L80.5 0 L65 6 Z" fill="#eaa6f2" filter="url(#glow)" opacity="0.85"/><path d="M0 0 L11 0 L11.5 -1.2 L12 -2.3 L12.5 -3.3 L13 -4.2 L13.5 -4.9 L14 -5.3 L14.5 -5.5 L15 -5.4 L15.5 -5.1 L16 -4.5 L16.5 -3.7 L17 -2.8 L17.5 -1.7 L18 -0.5 L18.5 0.7 L19 1.9 L19.5 3 L20 3.9 L20.5 4.6 L21 5.2 L21.5 5.5 L22 5.5 L22.5 5.2 L23 4.8 L23.5 4.1 L24 3.2 L24.5 2.1 L25 1 L25.5 -0.2 L26 -1.4 L26.5 -2.5 L27 -3.5 L27.5 -4.4 L28 -5 L28.5 -5.4 L29 -5.5 L29.5 -5.4 L30 -5 L30.5 -4.4 L31 -3.5 L31.5 -2.5 L32 -1.4 L32.5 -0.2 L33 1 L33.5 2.1 L34 3.2 L34.5 4.1 L35 4.8 L35.5 5.2 L36 5.5 L36.5 5.5 L37 5.2 L37.5 4.6 L38 3.9 L38.5 3 L39 1.9 L39.5 0.7 L40 -0.5 L40.5 -1.7 L41 -2.8 L41.5 -3.7 L42 -4.5 L42.5 -5.1 L43 -5.4 L43.5 -5.5 L44 -5.3 L44.5 -4.9 L45 -4.2 L45.5 -3.3 L46 -2.3 L46.5 -1.2 L47 -0 L47.5 1.2 L48 2.3 L48.5 3.3 L49 4.2 L49.5 4.9 L50 5.3 L50.5 5.5 L51 5.4 L51.5 5.1 L52 4.5 L52.5 3.7 L53 2.8 L53.5 1.7 L54 0.5 L54.5 -0.7 L55 -1.9 L55.5 -3 L56 -3.9 L56.5 -4.6 L57 -5.2 L57.5 -5.5 L58 -5.5 L58.5 -5.2 L59 -4.8 L59.5 -4.1 L60 -3.2 L60.5 -2.1 L61 -1 L61.5 0.2 L62 1.4 L62.5 2.5 L63 3.5 L63.5 4.4 L64 5 L64.5 5.4 L65 5.5 L65.5 5.4 L66 5" fill="none" stroke="#c23ed2" stroke-width="3.6" stroke-linecap="round" stroke-linejoin="round"/><path d="M65.5 -4.8 L80.5 0 L65.5 4.8 Z" fill="#c23ed2"/></g>
<text x="0" y="0" font-size="21.5" text-anchor="middle" dominant-baseline="central" fill="#6a2a9c" style="font-weight:bold" transform="translate(175.2 1018.6) rotate(-51)">266 nm</text>
</svg></body></html>
